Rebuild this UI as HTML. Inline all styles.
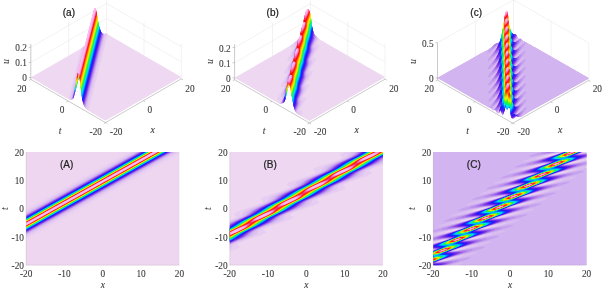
<!DOCTYPE html><html><head><meta charset="utf-8"><title>Figure</title><style>html,body{margin:0;padding:0;background:#fff}svg{display:block}.s{font-family:"Liberation Serif",serif}.a{font-family:"Liberation Sans",sans-serif}</style></head><body>
<svg width="602" height="288" viewBox="0 0 602 288">
<rect width="602" height="288" fill="#fff"/>
<defs>
<clipPath id="c2d0"><rect x="26.1" y="152" width="153.3" height="113.2"/></clipPath>
<clipPath id="c2d1"><rect x="229.7" y="152" width="153.3" height="113.2"/></clipPath>
<clipPath id="c2d2"><rect x="433.3" y="152" width="153.3" height="113.2"/></clipPath>
<linearGradient id="gA" gradientUnits="userSpaceOnUse" x1="109.97" y1="194.36" x2="95.53" y2="168.45"><stop offset="0.0000" stop-color="#eed6f1"/><stop offset="0.0125" stop-color="#edd6f1"/><stop offset="0.0250" stop-color="#edd6f1"/><stop offset="0.0375" stop-color="#edd5f1"/><stop offset="0.0500" stop-color="#ecd4f1"/><stop offset="0.0625" stop-color="#ecd4f1"/><stop offset="0.0750" stop-color="#ebd3f1"/><stop offset="0.0875" stop-color="#ead2f1"/><stop offset="0.1000" stop-color="#e9d0f1"/><stop offset="0.1125" stop-color="#e8cff1"/><stop offset="0.1250" stop-color="#e6cdf1"/><stop offset="0.1375" stop-color="#e4cbf1"/><stop offset="0.1500" stop-color="#e2c8f1"/><stop offset="0.1625" stop-color="#e0c5f0"/><stop offset="0.1750" stop-color="#dcc1f0"/><stop offset="0.1875" stop-color="#d9bcf0"/><stop offset="0.2000" stop-color="#d4b6f0"/><stop offset="0.2125" stop-color="#cdacef"/><stop offset="0.2250" stop-color="#c39dee"/><stop offset="0.2375" stop-color="#b78aec"/><stop offset="0.2500" stop-color="#a975ea"/><stop offset="0.2625" stop-color="#965be7"/><stop offset="0.2750" stop-color="#803ce5"/><stop offset="0.2875" stop-color="#682ae8"/><stop offset="0.3000" stop-color="#4d1aef"/><stop offset="0.3125" stop-color="#2f16f9"/><stop offset="0.3250" stop-color="#1428ff"/><stop offset="0.3375" stop-color="#0059ff"/><stop offset="0.3500" stop-color="#00a5ff"/><stop offset="0.3625" stop-color="#00e1e8"/><stop offset="0.3750" stop-color="#00f096"/><stop offset="0.3875" stop-color="#38f02d"/><stop offset="0.4000" stop-color="#b3f800"/><stop offset="0.4125" stop-color="#ffe100"/><stop offset="0.4250" stop-color="#ff9100"/><stop offset="0.4375" stop-color="#ff3504"/><stop offset="0.4500" stop-color="#ff214d"/><stop offset="0.4625" stop-color="#ff7dc2"/><stop offset="0.4750" stop-color="#ffa8e3"/><stop offset="0.4875" stop-color="#ffb8ee"/><stop offset="0.5000" stop-color="#ffbef2"/><stop offset="0.5125" stop-color="#ffb8ee"/><stop offset="0.5250" stop-color="#ffa8e3"/><stop offset="0.5375" stop-color="#ff7dc2"/><stop offset="0.5500" stop-color="#ff214d"/><stop offset="0.5625" stop-color="#ff3504"/><stop offset="0.5750" stop-color="#ff9100"/><stop offset="0.5875" stop-color="#ffe100"/><stop offset="0.6000" stop-color="#b3f800"/><stop offset="0.6125" stop-color="#38f02d"/><stop offset="0.6250" stop-color="#00f096"/><stop offset="0.6375" stop-color="#00e1e8"/><stop offset="0.6500" stop-color="#00a5ff"/><stop offset="0.6625" stop-color="#0059ff"/><stop offset="0.6750" stop-color="#1428ff"/><stop offset="0.6875" stop-color="#2f16f9"/><stop offset="0.7000" stop-color="#4d1aef"/><stop offset="0.7125" stop-color="#682ae8"/><stop offset="0.7250" stop-color="#803ce5"/><stop offset="0.7375" stop-color="#965be7"/><stop offset="0.7500" stop-color="#a975ea"/><stop offset="0.7625" stop-color="#b78aec"/><stop offset="0.7750" stop-color="#c39dee"/><stop offset="0.7875" stop-color="#cdacef"/><stop offset="0.8000" stop-color="#d4b6f0"/><stop offset="0.8125" stop-color="#d9bcf0"/><stop offset="0.8250" stop-color="#dcc1f0"/><stop offset="0.8375" stop-color="#e0c5f0"/><stop offset="0.8500" stop-color="#e2c8f1"/><stop offset="0.8625" stop-color="#e4cbf1"/><stop offset="0.8750" stop-color="#e6cdf1"/><stop offset="0.8875" stop-color="#e8cff1"/><stop offset="0.9000" stop-color="#e9d0f1"/><stop offset="0.9125" stop-color="#ead2f1"/><stop offset="0.9250" stop-color="#ebd3f1"/><stop offset="0.9375" stop-color="#ecd4f1"/><stop offset="0.9500" stop-color="#ecd4f1"/><stop offset="0.9625" stop-color="#edd5f1"/><stop offset="0.9750" stop-color="#edd6f1"/><stop offset="0.9875" stop-color="#edd6f1"/><stop offset="1.0000" stop-color="#eed6f1"/></linearGradient>
</defs>
<rect x="26.1" y="152" width="153.3" height="113.2" fill="url(#gA)"/>
<g clip-path="url(#c2d1)"><rect x="229.7" y="152" width="153.3" height="113.2" fill="#eed7f1"/><path fill="#e6cdf1" d="M340.8 153.8L344.6 152L383 152L383 164.7L374.5 167.5L372.1 168.5L370.3 169.5L369.6 170.3L369.6 170.8L370.1 171.3L371.8 172.3L372.2 172.8L371.8 173.5L370.3 174.5L365 176.7L348.7 182.1L344.2 184.1L343.3 184.8L343.1 185.6L343.6 186.1L345.4 187.1L345.7 187.8L345.1 188.6L343.9 189.3L338.5 191.5L323 196.6L319.8 197.8L317.8 198.8L316.9 199.6L316.7 200.3L317.1 200.8L318.9 201.8L319.3 202.6L318.6 203.3L317.4 204.1L312 206.3L295.9 211.6L291.4 213.6L290.4 214.4L290.2 215.1L290.7 215.6L292.5 216.6L292.8 217.4L292.2 218.1L291 218.9L285.7 221L269.4 226.4L264.9 228.4L264 229.1L263.8 229.9L264.2 230.4L266 231.4L266.4 232.1L265.8 232.9L264.6 233.6L259.2 235.8L243.7 240.9L238.9 242.9L237.5 243.9L237.3 244.7L237.8 245.2L239.8 246.4L239.9 246.9L239.6 247.4L238.6 248.2L236.5 249.2L229.7 251.6L229.7 220.1L234.2 218.4L235.6 217.6L236.5 216.9L236.7 216.4L236.4 215.9L234.1 214.4L234.1 213.9L234.4 213.4L236 212.4L239.5 210.9L256.2 205.3L261.6 203.1L262.7 202.3L263.1 201.6L262.7 201L260.6 199.6L260.7 198.8L261.5 198.1L263.5 197.1L266.2 196L282.6 190.6L288 188.3L289.1 187.6L289.6 186.8L289.2 186.2L287 184.8L287.1 184.1L288 183.3L289.9 182.3L292.7 181.2L309.1 175.8L314.5 173.5L315.6 172.8L316 172L315.7 171.5L313.5 170L313.4 169.5L314.1 168.8L315.8 167.8L318.8 166.5L335.5 161L340.9 158.8L342.3 157.8L342.4 157L341.9 156.5L340.2 155.5L339.9 154.8Z"/><path fill="#dec3f0" d="M348.6 153.8L350.7 152L383 152L383 163.2L371 167.8L366.2 170L364.4 171.5L364 172.3L363.5 173.8L363 174.5L361.7 175.5L359.9 176.5L355.5 178.4L344.6 182.6L340.2 184.6L338.7 185.6L337.9 186.3L337.5 187.1L337.1 188.6L336.5 189.3L333.9 191.1L329.7 192.9L317.6 197.6L313.8 199.3L312.3 200.3L311.5 201.1L311.1 201.8L310.6 203.3L310.1 204.1L307.7 205.7L303.2 207.7L291.1 212.4L287.4 214.1L285.8 215.1L285 215.9L284.6 216.6L284.2 218.1L283.7 218.9L281.5 220.4L277 222.5L264.7 227.1L260.9 228.9L258.8 230.4L258.3 231.1L257.9 232.6L257.4 233.4L256.7 234.1L255.1 235.1L250.5 237.3L238.3 241.9L234.5 243.7L232.9 244.7L232.2 245.4L231.7 246.2L231.2 247.9L229.7 249.3L229.7 221.2L236.5 218.6L240.4 216.6L241.4 215.9L242 215.1L242.6 213.4L243.3 212.4L245.9 210.6L250.2 208.7L262.3 204.1L266.5 202.1L268.3 200.6L269.5 197.8L270.3 197.1L271.9 196.1L276.5 194L288.7 189.3L292.9 187.3L294.8 185.8L295.9 183.1L296.7 182.3L298.3 181.3L303 179.2L315.2 174.5L318.9 172.8L320.4 171.8L321.2 171L322 168.8L322.6 168L324.7 166.5L329.5 164.4L341.6 159.8L345.3 158L347.4 156.5L347.9 155.8Z"/><path fill="#d4b7f0" d="M352.7 153.3L354.1 152L383 152L383 161.8L379.2 163.7L368 168.3L363.9 170.3L361.3 172L358.5 175.3L356.2 176.8L352.5 178.6L342.2 182.8L337.9 184.8L335.2 186.6L332.4 189.8L329.8 191.6L326 193.4L315.8 197.6L311.4 199.6L308.7 201.3L305.9 204.6L303.4 206.3L299.5 208.2L289.3 212.4L285 214.4L282.3 216.1L279.5 219.4L276.9 221.1L273 223L262.9 227.1L259.1 228.9L255.8 230.9L253 234.1L250.5 235.9L246.2 238L234.2 242.9L231.7 244.2L229.7 245.4L229.7 222.1L238.3 218.6L242.9 216.4L244.9 214.9L247.7 211.6L250.7 209.7L254.7 207.9L264.7 203.8L268.9 201.8L271.4 200.1L274.2 196.8L276.9 195.1L281 193.2L291.7 188.8L295.3 187.1L297.8 185.3L300.6 182.1L302.9 180.6L307.2 178.5L318.1 174L321.7 172.3L324.3 170.5L327.1 167.3L329.3 165.8L333.7 163.7L344.6 159.3L348.2 157.5L350.7 155.8Z"/><path fill="#c59fee" d="M353.1 155.3L356.6 152L383 152L383 160.1L380.8 161.8L378 163.3L365.5 168.8L361.5 170.8L358.9 172.5L355.5 175.8L352.5 177.6L348.7 179.4L338.5 183.8L335 185.6L332.4 187.3L329 190.6L326.2 192.3L322.2 194.3L312.1 198.6L308.6 200.3L306 202.1L302.6 205.3L299.8 207.1L296 209L286.2 213.1L282.2 215.1L279.6 216.9L276.1 220.1L273.4 221.9L269.5 223.8L259.2 228.1L255.7 229.9L253.1 231.6L249.7 234.9L247.2 236.5L243.7 238.2L233.9 242.4L229.7 244.4L229.7 222.9L240.2 218.4L244.4 216.4L247.1 214.6L250.5 211.4L253 209.7L256.5 208L266.7 203.6L270.8 201.6L273.5 199.8L276.6 196.8L279.1 195.1L283 193.1L293.1 188.8L297.2 186.8L299.9 185.1L303.2 181.9L305.6 180.3L309.2 178.4L319.5 174L323.7 172L326.4 170.3L329.5 167.3L331.6 165.8L335.7 163.6L345.9 159.3L350.1 157.3Z"/><path fill="#b283eb" d="M354.9 155L358.4 152L383 152L383 158.4L379.7 161.3L376.7 163.1L372.7 165.1L362.7 169.5L358.9 171.5L356.8 173L353.3 176L350.5 177.8L346.7 179.7L336.8 184.1L332.9 186.1L330.3 187.8L326.7 190.9L324.1 192.6L320.2 194.5L310.4 198.8L306.5 200.8L303.9 202.6L300.2 205.7L297.7 207.3L280.5 215.4L277.8 217.1L273.6 220.6L271.2 222.1L254.1 230.1L251.7 231.6L247.5 235.1L244.8 236.9L241 238.8L229.7 243.8L229.7 223.7L243 217.6L246.5 215.9L248.8 214.4L252.7 211.1L255.3 209.4L259 207.5L268.9 203.1L272.9 201.1L275.3 199.6L279.1 196.3L281.7 194.6L285.5 192.7L295.3 188.3L299.3 186.3L301.7 184.8L305.5 181.6L308.2 179.8L311.7 178L321.8 173.5L325.8 171.5L328.5 169.8L332 166.8L334.2 165.3L338.2 163.2L347.7 159L351.8 157Z"/><path fill="#9c63e8" d="M356.5 154.8L359.9 152L383 152L383 157.5L377.9 161.5L375.1 163.3L358.3 171.3L355.5 173L351.4 176.3L348.5 178.2L331.9 186.1L329.4 187.6L324.7 191.3L322 193L305.9 200.6L303 202.3L298.5 205.8L295.8 207.6L292.2 209.4L279.5 215.4L276.6 217.1L272.1 220.6L269.4 222.4L265.7 224.3L253.5 229.9L250.1 231.9L245.7 235.4L242.9 237.2L238.7 239.3L229.7 243.4L229.7 224.5L234 222.2L244 217.6L248 215.6L250.4 214.1L254.8 210.6L257.6 208.9L274.4 200.8L277.2 199.1L281.3 195.8L284 194.1L300.8 186.1L303.3 184.6L307.7 181.1L310.2 179.4L313.7 177.6L323.3 173.3L327.3 171.3L330.1 169.5L334 166.4L336.2 164.9L340 162.9L353.3 156.8Z"/><path fill="#8341e5" d="M357.9 154.5L361.2 152L383 152L383 157L380.2 158.8L375.7 162.1L373.2 163.6L356.9 171.5L354.1 173.3L349.5 176.7L346.7 178.5L330.5 186.3L328 187.8L323.2 191.4L320.2 193.3L304.1 201.1L301.2 202.8L296.7 206.2L294 208L278.1 215.6L275.1 217.4L270.2 221.1L267.5 222.8L251.6 230.4L248.7 232.1L244 235.7L241.3 237.4L237.2 239.5L229.7 243L229.7 225.4L230.4 224.9L235 222.2L249.4 215.4L252.2 213.6L256.5 210.4L259.3 208.6L275.8 200.6L278.6 198.8L282.9 195.6L285.7 193.8L302.2 185.8L305.1 184.1L309.4 180.8L312.1 179L328.2 171.3L331.5 169.3L335.7 166.1L338.1 164.5L341.7 162.6L354.6 156.5Z"/><path fill="#6a2be8" d="M358.9 154.5L362.3 152L383 152L383 156.5L379.6 158.5L374.5 162.2L371.7 163.9L355.6 171.8L352.7 173.5L348 177L345.2 178.7L329.2 186.6L326.3 188.3L321.7 191.7L318.6 193.6L302.8 201.3L299.9 203.1L295.2 206.5L292.5 208.2L276.3 216.1L273.4 217.9L268.7 221.3L266 223L250.3 230.6L247 232.6L242.5 236L239.8 237.7L236.2 239.5L229.7 242.6L229.7 226.2L231.7 224.8L236.5 222L250.7 215.1L253.5 213.4L258.2 209.9L261 208.2L277.1 200.3L280 198.6L284.7 195.1L287.5 193.4L303.5 185.6L306.4 183.8L311 180.5L313.6 178.8L329.5 171L332.5 169.3L337.5 165.6L340 164.1L343.7 162.1L355.5 156.5Z"/><path fill="#4e1aef" d="M359.8 154.5L363.4 152L383 152L383 156.1L378.7 158.5L373 162.5L370.1 164.3L354.4 172L351.5 173.8L346.5 177.3L343.7 179L328 186.8L325 188.6L320.2 192L317.5 193.7L301.5 201.6L298.6 203.3L293.7 206.8L291 208.5L275.1 216.4L272.2 218.1L267.5 221.5L264.7 223.2L249.1 230.9L245.7 232.9L238.7 237.7L229.7 242.2L229.7 227L233.2 224.4L238.2 221.5L251.9 214.9L254.8 213.1L259.5 209.8L262.5 207.9L278.3 200.1L281.2 198.3L286 195L289 193.1L304.8 185.3L307.7 183.6L312.5 180.1L315.2 178.4L330.7 170.8L334.1 168.8L338.7 165.5L341.5 163.8L356.7 156.3Z"/><path fill="#3116f8" d="M361 154.3L364.4 152L383 152L383 155.7L377.4 158.8L371.2 163L368.5 164.6L353.1 172.3L342 179.4L326.7 187.1L323.7 188.8L318.7 192.3L315.8 194.1L300.2 201.8L297.3 203.6L289.4 208.9L273.8 216.6L270.9 218.4L263.2 223.5L247.4 231.4L244.4 233.1L237.4 237.9L229.7 241.8L229.7 227.6L234.5 224.3L239.7 221.2L253.2 214.6L264 207.6L279.6 199.8L290.5 192.8L306 185.1L316.9 178L332 170.5L335.4 168.5L343.2 163.3L358 156Z"/><path fill="#171fff" d="M359.1 155.8L365.3 152L383 152L383 155.4L376.6 158.8L367.2 164.9L351.5 172.8L340.7 179.7L325.5 187.3L314.5 194.3L299.1 202.1L288.1 209.1L272.2 217.1L262 223.7L246.2 231.6L242.8 233.6L236.2 238.1L229.7 241.5L229.7 228.1L236 223.9L241 221L254.3 214.4L265.5 207.3L280.8 199.6L292 192.5L307.2 184.8L318.2 177.8L333.2 170.3L336.6 168.3L344.6 163Z"/><path fill="#0943ff" d="M359.7 155.8L366 152L383 152L383 155.1L375.5 159L368.5 163.6L365.5 165.4L350 173.3L339.3 180L324 187.8L312.9 194.8L297.5 202.6L286.5 209.6L271.1 217.4L260 224.4L244.7 232.1L235.3 238.2L229.7 241.2L229.7 228.5L240.2 221.8L255.4 214.1L266.7 207L281.9 199.3L293.2 192.2L308.2 184.6L319.4 177.5L334.2 170.1L337.7 168L345.8 162.8Z"/><path fill="#006dff" d="M360.7 155.5L366.7 152L383 152L383 154.8L374.9 159L364.2 165.8L349 173.5L337.7 180.6L323 188L311.7 195.1L296.5 202.8L285.3 209.9L270.1 217.6L258.9 224.6L243.7 232.3L234.5 238.3L229.7 240.9L229.7 228.8L241.5 221.5L256.5 213.9L267.7 206.8L282.9 199.1L294.2 192L309.7 184.1L320.7 177.2L335.2 169.8L338.7 167.8L346.9 162.5Z"/><path fill="#009eff" d="M361.7 155.3L367.4 152L383 152L383 154.6L374 159.2L363.2 166L348 173.8L337 180.7L322 188.3L310.2 195.6L296 202.8L284.2 210.2L268.7 218.1L257.9 224.9L242.7 232.6L233.6 238.4L229.7 240.6L229.7 229.1L233.6 226.9L242.7 221.1L257 213.9L268.7 206.6L283.9 198.8L295.2 191.8L310.2 184.1L321.7 176.9L336.2 169.6L339.7 167.5L348 162.3Z"/><path fill="#00c6f6" d="M362.2 155.3L367.9 152L383 152L383 154.4L373.5 159.2L362.2 166.3L347.5 173.7L336 180.9L321.5 188.3L309.2 195.9L294.2 203.5L283.2 210.4L268.2 218.1L256.9 225.1L242.2 232.6L229.7 240.3L229.7 229.3L234.2 226.9L243.7 220.9L257.5 213.9L261 211.9L269.7 206.3L285.2 198.4L296.2 191.5L311.2 183.8L322.7 176.7L336.7 169.6L340.2 167.6L349 162Z"/><path fill="#00e6e5" d="M363.2 155L368.5 152L383 152L383 154.1L373 159.2L361 166.6L347 173.8L334.7 181.3L319.7 189L308.7 195.9L293.7 203.5L282.7 210.4L267.7 218.1L255 225.9L241.7 232.6L229.7 240L229.7 229.6L235.5 226.4L244.7 220.6L260.2 212.6L270.7 206L285.7 198.4L297.5 191.1L313 183.1L324 176.3L339.5 168.3L350 161.7Z"/><path fill="#00f0bd" d="M364 154.8L369 152L383 152L383 153.9L372.5 159.2L359.7 167.1L345.2 174.5L333.7 181.6L319.2 189L308.2 195.9L293.2 203.5L280.5 211.4L266 218.8L254.5 225.9L240 233.3L229.7 239.8L229.7 229.8L236 226.4L245.2 220.6L261.5 212.2L271.2 206L287.5 197.6L298.5 190.8L313.5 183.1L324.5 176.2L339.5 168.6L350.5 161.7Z"/><path fill="#00f08a" d="M364 155.1L369.5 152L383 152L383 153.7L370.7 160L359.2 167.1L345.2 174.2L333.7 181.4L319.2 188.8L306 196.9L291.5 204.3L280.5 211.1L265.5 218.8L254.5 225.7L239.5 233.4L229.7 239.5L229.7 230L236 226.7L247 219.8L262 212.2L273 205.3L288 197.6L299 190.8L314 183.1L325 176.2L341.2 167.8L352.2 161Z"/><path fill="#1bf057" d="M365.7 154.3L369.9 152L383 152L383 153.5L370.7 159.7L359.7 166.6L343.5 175L333.7 181.1L317.5 189.5L306.5 196.4L291.5 204L280.5 210.9L265.5 218.6L254.5 225.4L238.2 233.8L229.7 239.2L229.7 230.2L230 230L237.2 226.2L247.5 219.8L262 212.4L273.5 205.3L289.2 197.2L300.7 190L315.2 182.6L326.7 175.5L341.2 168.1L352.7 160.9Z"/><path fill="#3ef024" d="M365.2 154.8L370.4 152L383 152L383 153.3L369.5 160.2L358 167.3L343.5 174.7L332 181.9L317.5 189.3L306 196.4L290.2 204.5L278.7 211.7L264.2 219L252.7 226.2L238.2 233.6L234.7 235.6L229.7 238.9L229.7 230.3L237.7 226.2L245.2 221.4L248.7 219.3L263.2 211.9L274.7 204.8L289.2 197.4L300.7 190.2L315.2 182.9L326.7 175.7L343 167.3L354 160.5Z"/><path fill="#77f410" d="M354 160.7L370.8 152L383 152L383 153.1L369.5 160L358 167.1L342.2 175.2L330.7 182.4L316.2 189.7L304.7 196.9L290.2 204.3L278.7 211.4L264.2 218.8L260.7 220.8L252.7 226L237 234.1L229.7 238.6L229.7 230.5L237.7 226.4L248.7 219.5L263.2 212.2L274.7 205L291 196.6L302 189.8L317 182.1L328 175.2L343 167.6Z"/><path fill="#b2f800" d="M355.2 160.2L371.2 152L383 152L383 152.9L368.2 160.4L356.7 167.6L342.2 175L330.7 182.1L316.2 189.5L303.5 197.4L288.5 205L277.5 211.9L262.5 219.6L251.5 226.5L237 233.8L233.5 235.8L229.7 238.3L229.7 230.7L230 230.5L239 225.9L247 220.8L250.5 218.8L265 211.4L276 204.5L291 196.9L302 190L318.2 181.6L326.2 176.5L329.7 174.5L344.2 167.1Z"/><path fill="#dcf400" d="M356.5 159.7L371.6 152L383 152L383 152.7L368.2 160.2L355.5 168.1L340.5 175.7L329.5 182.6L314.5 190.3L303.5 197.2L288.5 204.8L277.5 211.7L261.2 220L250.2 226.9L235.7 234.3L229.7 238L229.7 230.8L239 226.2L247.7 220.6L251.7 218.3L266.2 210.9L277.2 204L292.2 196.4L303.2 189.5L318.2 181.9L329.2 175L344.2 167.3Z"/><path fill="#ffea00" d="M356.5 159.9L372 152L383 152L383 152.5L382 153.1L366.5 161L356 167.6L340.5 175.5L328.2 183.1L313.2 190.7L302.2 197.7L287.2 205.3L276.7 211.9L261.2 219.8L258.2 221.6L250.7 226.4L246.5 228.8L235.7 234.1L229.7 237.7L229.7 231L240.2 225.7L251.2 218.8L266.2 211.2L277.2 204.2L292.2 196.6L304.5 189L319.5 181.4L330.5 174.5L345.5 166.9Z"/><path fill="#ffc900" d="M357.7 159.4L372.4 152L383 152L383 152.3L379.7 154.1L364.7 161.7L357.7 166.3L354.2 168.4L338.7 176.2L328.7 182.6L312.7 190.8L304.5 196.1L301 198.2L285.5 206L275 212.7L259.5 220.6L249 227.2L234.5 234.6L229.7 237.4L229.7 231.2L230 231L240.7 225.7L249 220.3L252.5 218.3L268 210.4L275 205.8L278.5 203.7L294 195.9L304 189.5L320 181.3L328.2 176L331.7 174L346 166.8Z"/><path fill="#ffa800" d="M358.5 159.2L372.9 152L383 152L378 154.9L364.7 161.5L353.5 168.6L338.7 176L327.5 183.1L311.5 191.2L301.5 197.7L285.5 205.8L274.2 212.9L260 220L256.5 222.1L251.2 225.6L248.2 227.5L235 234.1L229.7 237.1L229.7 231.3L242 225.2L250.2 219.8L253.7 217.8L268 210.7L276.2 205.3L279.2 203.5L294 196.1L305.2 189L321.2 180.9L331.2 174.5L347.2 166.3Z"/><path fill="#ff7d00" d="M358.5 159.4L373.3 152L382.6 152L377.2 155.1L367.7 159.7L363 162.2L355.7 167.1L352.2 169.1L337 176.7L329.2 181.9L326.2 183.6L311 191.3L300.2 198.2L285 205.8L282 207.6L276 211.7L273 213.4L257.7 221.1L250 226.2L247 228L234.2 234.3L229.7 236.8L229.7 231.5L242.5 225.2L253.2 218.3L268.5 210.6L271.7 208.7L277 205.1L280.5 203L295.7 195.4L303.5 190.2L306.5 188.5L321.7 180.9L332.5 173.9L347.7 166.3L350.7 164.5L355.5 161.2Z"/><path fill="#ff5100" d="M359.2 159.2L373.7 152L382.2 152L377.2 154.9L362.5 162.2L355.2 167.1L352.2 168.9L336.5 176.7L333.7 178.4L328.5 182.1L325 184.1L310.5 191.3L307.7 192.9L302.5 196.6L299.5 198.4L283.2 206.5L273.5 212.9L257.2 221.1L254.5 222.7L249.2 226.4L245.7 228.4L234.2 234.1L229.7 236.5L229.7 231.7L230 231.5L243 225.1L245.5 223.6L251 219.8L254 218L269.9 210.1L280 203.5L296.2 195.4L306 189L310.2 186.7L322.2 180.8L325 179.2L329.5 176L333.2 173.7L347.7 166.6L351.2 164.5L356 161.2Z"/><path fill="#ff2907" d="M360.5 158.7L374.2 152L381.7 152L376.5 155.1L361.5 162.5L359.2 163.9L354.5 167.3L351.5 169.1L335.5 177L332.7 178.7L328.5 181.8L325.5 183.6L308.6 192.1L306.2 193.5L302 196.6L298.2 198.9L282.2 206.8L280 208.2L275.2 211.6L272.2 213.4L256.2 221.3L253.7 222.8L249.5 225.9L246.2 228L229.7 236.2L229.7 231.8L244.4 224.6L247 223.1L252.2 219.3L255.2 217.6L270.8 209.9L273.5 208.2L278.2 204.8L281.2 203L297.2 195.1L300 193.4L304.2 190.3L307.2 188.5L323.2 180.6L326 178.9L330.3 175.8L333.2 173.9L337.5 171.7L349.7 165.8L352.2 164.3L356.7 161Z"/><path fill="#ff030f" d="M365.2 156.4L374.7 152L381.2 152L378.5 153.8L375.2 155.6L360.4 162.8L358.2 164.1L354.1 167.3L350.2 169.6L333.9 177.5L331.7 178.9L327.2 182.3L324.2 184.1L307.5 192.3L305.2 193.8L301.2 196.8L298.2 198.7L281.1 207.1L279 208.4L274.7 211.7L271 213.9L254.6 221.9L252.5 223.2L248 226.6L245 228.5L229.7 235.8L229.7 232L245.7 224.2L248 222.8L252.2 219.6L254.7 218L259 215.8L271.9 209.6L274.5 208L278.6 204.8L282 202.8L298.3 194.8L301 193.2L304.7 190.3L308 188.3L324.7 180.1L327 178.7L330.8 175.8L334 173.7L338.2 171.5L351 165.4L353.5 163.9L357.6 160.8L360.5 158.9Z"/><path fill="#ff326c" d="M367.2 155.6L375.2 152L380.7 152L378.5 153.5L374.7 155.6L359 163.1L357.2 164.2L353.2 167.5L349 170.1L332.5 177.9L330.7 179.1L326.8 182.3L323 184.6L306 192.7L304.2 193.9L300.7 196.8L297 199.2L279.7 207.4L277.7 208.7L274.3 211.6L271 213.7L265 216.7L253.2 222.2L251.2 223.6L247.5 226.7L243.7 228.9L229.7 235.5L229.7 232.3L230 232.1L247.1 223.9L249 222.7L252.7 219.6L256 217.6L261 215L273.6 209.1L275.5 207.9L279.1 204.8L282 203L288 200L299.7 194.5L301.7 193.2L305.2 190.3L308 188.5L312.7 186L326.2 179.7L328.2 178.4L332 175.3L335.2 173.2L340.2 170.7L352.4 165L354.5 163.8L358.1 160.8L361.2 158.7Z"/><path fill="#ff68b2" d="M366.5 156.2L375.9 152L380.1 152L377.2 154L372 156.8L360.2 162L357.7 163L357 163L357.2 162.3L358.1 161.3L361.2 159ZM354.5 164.8L354.9 164.8L354.9 165.3L353.6 166.8L352 168L349 169.9L339 174.6L332.5 177.3L331.2 177.8L330.6 177.8L331 176.8L332.2 175.5L334 174.3L337 172.5L345.5 168.5ZM328.1 179.5L328.5 179.5L328.5 180L327.5 181.3L325.6 182.8L323 184.4L317.5 187.2L312 189.6L305.5 192.3L304.1 192.6L304.4 191.8L305.5 190.6L307.1 189.3L309.7 187.7L318 183.7ZM299 195.3L302 194.3L302 194.8L300.8 196.3L298.7 197.9L295.7 199.6L285 204.6L279 207.1L277.7 207.3L278.1 206.3L279.3 205.1L283.7 202.3L291 198.8ZM266.2 212.8L275.6 209.1L275.6 209.6L274.3 211.1L272.7 212.4L269.7 214.2L265.2 216.4L258 219.7L252.7 221.8L251.7 222.2L251.2 222.1L251.7 221.1L252.9 219.9L254.7 218.6L257.7 216.8ZM248.9 223.9L249.2 224L249.1 224.4L248.1 225.6L246.6 226.9L244.2 228.4L238.2 231.5L229.7 235.2L229.7 232.5L230 232.3L239.2 227.8L246.7 224.6Z"/><path fill="#ff9ada" d="M368.5 155.4L376.7 152L379.2 152L378.2 153L376.7 154L371 157.1L363 160.5L360.2 161.5L359.2 161.5L359.2 161L359.9 160.3L363 158.2ZM352.1 166.3L352.7 166.3L352.8 166.5L352.1 167.5L350 169L346.7 170.8L337.2 175.1L333.7 176.3L333 176.3L332.7 176.2L333 175.5L334.1 174.5L338.5 171.9L346 168.5L349.7 167ZM325.7 181.1L326.2 181L326.4 181.3L325.6 182.3L323.5 183.8L320.7 185.4L316 187.6L310.7 189.9L307.7 190.9L306.3 191.1L306.3 190.8L306.6 190.3L307.7 189.3L312 186.8L320.7 182.8ZM297.5 196.3L299.8 195.8L300 196.1L299.2 197.1L297.5 198.3L294.7 199.9L290.7 201.9L285 204.4L281.5 205.7L279.9 205.8L279.8 205.6L280.1 205.1L281.2 204.1L285.5 201.6L293.7 197.8ZM271 211.1L273.3 210.6L273.5 210.9L272.5 212.1L270.2 213.6L267.5 215.1L258 219.4L254.7 220.5L253.4 220.6L253.5 220.1L254.5 219.1L258.7 216.5L266.7 212.8ZM246.4 225.4L247 225.4L247.1 225.6L246.6 226.4L243.4 228.6L236.7 232L229.7 234.9L229.7 232.8L231.2 231.9L239.7 227.8L244 226.1Z"/><path fill="#ffafe7" d="M376.7 152.5L377.4 152.5L377.5 152.8L376.9 153.5L372.7 156L364.7 159.6L362 160.5L361 160.5L361 160L361.9 159.3L365.7 157L371.7 154.2ZM350.3 167.3L351 167.3L351.1 167.5L350.5 168.3L348.6 169.5L345.7 171.1L337.7 174.6L335.3 175.3L334.5 175.2L334.6 174.8L335.8 173.8L339.8 171.5L346 168.7ZM323.9 182.1L324.5 182.1L324.7 182.3L324 183.1L322.2 184.3L319.7 185.6L312 189.1L309 190.1L308.1 190.1L308.2 189.6L309 188.8L313 186.5L319 183.7ZM295.7 197.3L298 196.8L298.2 197.1L297.6 197.8L295.7 199.1L293 200.6L285.5 203.9L282.7 204.8L281.6 204.8L281.7 204.3L282.6 203.6L286.5 201.3L292.5 198.6ZM271.1 211.6L271.6 211.6L271.8 211.9L271.1 212.6L269.3 213.9L266.5 215.4L258.5 218.9L256.2 219.6L255.2 219.6L255.3 219.1L256.5 218.1L260.5 215.9L266.7 213.1ZM244.7 226.4L245.2 226.4L245.3 226.6L245 227.1L243.7 228.1L241.5 229.4L235.7 232.2L229.7 234.4L229.7 233.1L232.7 231.3L239.7 228.1L242.8 226.9Z"/><path fill="#ffbbf0" d="M374.7 153.5L375.8 153.5L375.5 154L374.8 154.5L371.7 156.3L366 158.8L363.7 159.5L362.7 159.5L363 159L363.6 158.5L366.7 156.7L371.2 154.7ZM348.3 168.3L349.3 168.3L349 168.8L348.4 169.3L345.2 171.1L338.9 173.8L337.2 174.3L336.2 174.3L337.2 173.3L340.3 171.5L344.7 169.5ZM321.9 183.1L322.8 183.1L322.6 183.6L322 184.1L318.9 185.8L312.5 188.6L310.7 189.1L309.8 189.1L310.7 188.1L314 186.2L319 184ZM295.5 197.8L296.4 197.8L296.1 198.3L295.5 198.8L292.5 200.6L286.1 203.3L284.2 203.9L283.3 203.8L284.3 202.8L287.5 201L292 199ZM269.1 212.6L270 212.6L269.7 213.1L268.7 213.9L265.5 215.7L259.7 218.1L257.7 218.7L256.9 218.6L257.9 217.6L261 215.9L265.5 213.8ZM242.7 227.4L243.5 227.4L243.5 227.6L241.9 228.9L239 230.5L233.2 232.9L231.2 233.5L230.4 233.4L231.4 232.4L234.5 230.6L238.5 228.8Z"/></g>
<g clip-path="url(#c2d2)"><rect x="433.3" y="152" width="153.3" height="113.2" fill="#ebd3f1"/><path fill="#e2c8f1" d="M433.3 152L584.4 152L583.4 152.5L583.6 152.8L586.6 152.4L586.6 265.2L433.3 265.2L433.3 243.2L440.7 241.4L443 240.7L444.5 239.9L443.6 239.8L440.8 240.2L433.3 242.1ZM456.3 229.1L449.5 230.6L446.2 231.6L444.6 232.4L445.1 232.6L446.1 232.5L451 231.6L456.4 230.1L458.6 229.1L458.1 228.9ZM472.7 218.1L468.7 218.6L464.4 219.6L460.3 220.9L458.8 221.6L459.3 221.8L461.1 221.6L464.9 220.9L469.6 219.6L472.7 218.4ZM485.6 207.3L481.5 208.1L477.5 209.1L474.3 210.1L472.9 210.9L475 210.9L480 209.9L485.2 208.3L486.4 207.8L487 207.3ZM499.6 196.6L495.4 197.3L491.5 198.3L488.4 199.3L487.3 199.8L487.1 200.1L488.3 200.1L490.4 199.8L495 198.8L499.2 197.6L500.5 197.1L501.2 196.6ZM513.3 185.8L505.5 187.6L502.5 188.6L501.4 189.1L501.4 189.3L504.3 189.1L508.9 188.1L513.2 186.8L515.4 185.8L514.8 185.7ZM527.1 175L520.4 176.5L517.2 177.5L515.5 178.3L515.8 178.5L516.8 178.5L521.9 177.5L527.3 176L529.5 175L529.1 174.8ZM543.6 164L539.6 164.5L535.3 165.5L531.2 166.8L529.7 167.5L530.3 167.7L532.1 167.5L537.9 166.3L541.3 165.3L543.7 164.3ZM556.6 153.2L552.4 154L548.4 155L545.3 156L543.8 156.8L544.6 156.9L546 156.8L550.9 155.8L556.1 154.3L557.3 153.8L557.9 153.3ZM567.3 170.8L563.3 171.5L559.3 172.5L556.3 173.5L555 174.3L556.8 174.3L562.8 173L567.1 171.8L568.4 171.3L569.1 170.8ZM581.1 160L573.4 161.8L570.3 162.8L569.3 163.3L569.2 163.5L572.2 163.3L576.8 162.3L581.1 161L583.3 160L582.6 159.9ZM453.1 257.4L446.4 258.9L443.2 259.9L441.6 260.7L441.8 260.9L443.1 260.9L447.9 259.9L453.3 258.4L455.6 257.4L455.1 257.2ZM469.6 246.4L465.6 246.9L461.3 247.9L457.2 249.2L455.8 249.9L456.3 250.1L457.6 250L461.8 249.2L467.3 247.7L469.7 246.7ZM482.6 235.6L478.4 236.4L474.4 237.4L471.3 238.4L469.9 239.2L470.6 239.3L472 239.2L476.9 238.2L482.1 236.6L483.4 236.1L484 235.6ZM496.3 224.9L492.3 225.6L488.4 226.6L485.4 227.6L484.1 228.4L485.8 228.4L491.9 227.1L496.1 225.9L497.5 225.4L498.2 224.9ZM510.3 214.1L506.3 214.9L502.4 215.9L499.4 216.9L498.4 217.4L498.3 217.6L501.3 217.4L505.8 216.4L510.2 215.1L512.4 214.1L511.8 214ZM524.1 203.3L517.3 204.8L514.1 205.8L512.5 206.6L512.7 206.8L513.8 206.8L518.8 205.8L524.2 204.3L526.5 203.3L526.1 203.1ZM540.5 192.3L536.5 192.8L532.2 193.8L528.2 195.1L526.7 195.8L527.3 196L529.1 195.8L534.8 194.6L539 193.3L540.6 192.6ZM553.6 181.5L549.3 182.3L545.3 183.3L542.2 184.3L540.8 185.1L541.3 185.2L542.9 185.1L547.8 184.1L553 182.6L554.3 182.1L554.8 181.8L554.9 181.6Z"/><path fill="#dabef0" d="M433.3 152L583.6 152L581.9 152.8L581.5 153L581.5 153.3L583.3 153.3L586.6 152.8L586.6 158.4L580.1 159.8L573.3 161.5L568.9 163L567.8 163.5L567.3 164L568.1 164.2L569.6 164L574.1 163.3L580.7 161.8L586.6 160.1L586.6 265.2L433.3 265.2L433.3 243.6L442.4 241.2L445.1 240.2L446.4 239.4L446.1 239.2L445.6 239.1L443.1 239.4L433.3 241.4ZM557.3 152.8L550.6 154L542.6 156L537.2 157.8L536.1 158.3L535.8 158.5L535.8 158.8L537.7 158.8L541 158.3L549.1 156.5L556.9 154.3L559.3 153.3L559.8 152.8L559.1 152.6ZM575.8 168.8L569.5 169.8L562 171.5L555.5 173.5L553.7 174.3L553.1 174.8L553.8 175L555.9 174.8L564.7 173L573 170.8L575.9 169.8L577.2 169L576.9 168.8ZM543.6 163.5L537.8 164.5L529.5 166.5L523.8 168.3L522 169L521.5 169.5L522.8 169.6L525.7 169.3L535.1 167.3L542.8 165L545.2 164L545.6 163.8L545.6 163.5ZM559.8 179.8L554.4 180.8L547.1 182.6L541.4 184.3L539.6 185.1L538.9 185.6L539.6 185.8L542.1 185.6L550.7 183.8L559 181.6L561.8 180.6L563 179.8L562.3 179.6ZM529.8 174.3L523.9 175.3L515.5 177.3L509.7 179L507.9 179.8L507.3 180.3L508.1 180.5L510.1 180.3L519.1 178.5L527.3 176.3L530.1 175.3L531.4 174.5L531.3 174.3ZM546.1 190.6L540.4 191.6L533.1 193.3L527.4 195.1L525.5 195.8L524.8 196.3L525 196.6L525.6 196.6L528.2 196.3L536.8 194.6L545.7 192.1L548.3 191.1L548.9 190.6L548.1 190.4ZM516.6 185.1L511.2 185.8L503.4 187.6L496.4 189.6L493.8 190.6L493.2 191.1L494.3 191.3L497.9 190.8L507.1 188.8L514 186.8L516.6 185.8L517.3 185.3ZM532.3 201.3L526.5 202.3L518.2 204.3L512.6 206.1L511 206.8L510.6 207.1L510.6 207.3L512.1 207.4L514.3 207.1L523.8 205.1L531.7 202.8L534.2 201.8L534.7 201.3ZM500.3 196.1L494.8 197.1L487.5 198.8L481.6 200.6L479.8 201.3L479 201.8L479.3 202.1L479.8 202.1L482.5 201.8L491.1 200.1L499.3 197.8L501.9 196.8L503.1 196.1L502.3 195.9ZM518.6 212.1L512.5 213.1L504.2 215.1L498.6 216.9L496.9 217.6L496.4 218.1L497.6 218.2L500.5 217.9L508.8 216.1L516.9 213.9L519 213.1L520.4 212.4L520.3 212.1ZM488.1 206.7L480.8 207.8L473.5 209.6L467.6 211.4L464.8 212.6L464.9 212.9L465.6 212.9L468.6 212.6L477.1 210.9L485.2 208.6L487.9 207.6L488.9 206.8ZM504.8 222.9L498.6 223.9L491.1 225.6L484.5 227.6L482.8 228.4L482.2 228.9L483.1 229.1L485 228.9L493.8 227.1L502.1 224.9L504.9 223.9L506.3 223.1L506.1 222.9ZM472.6 217.6L466.9 218.6L458.5 220.6L452.2 222.6L451.1 223.1L450.7 223.6L452.1 223.7L454.7 223.4L464.2 221.4L471.9 219.1L474.3 218.1L474.7 217.6ZM489.1 233.9L483.4 234.9L476.2 236.6L470.5 238.4L468.7 239.2L468 239.7L468.8 239.9L471.1 239.7L479.8 237.9L488.1 235.6L490.9 234.6L492.1 233.9L491.3 233.7ZM459.1 228.4L452.9 229.4L445.5 231.1L438.8 233.1L437 233.9L436.4 234.4L437.8 234.5L440.8 234.2L448.1 232.6L456.4 230.4L459.2 229.4L460.5 228.6L460.3 228.4ZM475.1 244.7L469.5 245.7L462.2 247.4L456.4 249.2L454.6 249.9L453.9 250.4L454.1 250.7L454.6 250.7L457.3 250.4L465.8 248.7L474.8 246.2L477.3 245.2L478 244.7L477.1 244.5ZM461.3 255.4L454.3 256.7L447.2 258.4L441.1 260.4L440.1 260.9L439.7 261.2L439.8 261.4L441.6 261.4L444.8 260.9L452.9 259.2L460.8 256.9L463.3 255.9L463.8 255.4L463.1 255.3Z"/><path fill="#d2b4f0" d="M433.3 152L583.1 152L580.8 153L580.3 153.5L580.8 153.7L581.8 153.7L586.6 153L586.6 157.9L572.8 161.5L567.8 163.3L566.1 164.3L566.6 164.5L567.3 164.5L571.4 164L578.1 162.8L586.6 160.9L586.6 166L576.8 167.8L564.1 170.8L555.7 173.3L553.1 174.3L552 175L552.1 175.3L552.6 175.3L554.8 175.2L564.1 173.5L577 170.5L586.6 167.8L586.6 265.2L458.8 265.2L461.5 264.2L462.9 263.4L462.9 263.2L462.1 263.1L456.6 263.7L448.9 265.2L433.3 265.2L433.3 243.9L443.6 240.9L446.7 239.7L447.5 239.2L447.5 238.9L446.1 238.8L443.1 239.2L433.3 241L433.3 236.2L443 234.1L452.8 231.6L459.7 229.4L461.3 228.6L461.7 228.1L460.8 228L459.1 228.1L452.7 229.1L442.8 231.3L433.3 233.7ZM560.6 152.3L555.8 152.7L550.3 153.8L536.1 157L525.7 160L523.2 161L522.4 161.5L522.4 161.8L525.1 161.8L530 161L538.6 159.3L547 157.3L556.6 154.5L559.9 153.3L561 152.5ZM576 176.5L570.8 177L565.3 178L551.1 181.3L540.9 184.3L538.5 185.3L537.8 185.8L537.8 186.1L540.2 186.1L546.4 185.1L554.7 183.3L563 181.3L572.6 178.5L575.2 177.5L576.4 176.8ZM543.6 163.3L533.1 165.2L520.1 168.3L510.9 171L508.6 172L508.2 172.5L510.1 172.7L514.7 172L529 169L535.9 167.3L541.8 165.5L545.3 164.3L546.3 163.8L546.8 163.3L545.8 163.1ZM558.8 187.5L548.9 189.3L536.2 192.3L526.9 195.1L524.4 196.1L523.7 196.6L523.6 196.8L525.6 196.9L529.8 196.3L544 193.3L557 189.8L560.6 188.6L561.7 188.1L562.2 187.6L561.3 187.3ZM529.8 174L519.9 175.8L507.1 178.8L497.6 181.6L495 182.6L494 183.3L494.6 183.5L495.8 183.5L500.8 182.8L515 179.8L521.9 178L527.8 176.3L531.7 174.8L532.5 174.3L532.6 174L531.8 173.9ZM544.8 198.3L535 200.1L522.2 203.1L512.8 205.8L510.4 206.8L509.4 207.6L509.8 207.8L511.1 207.8L515.8 207.1L530 204.1L543 200.6L547.1 199.1L547.9 198.6L548 198.3L547.1 198.2ZM516.1 184.8L506 186.6L493.1 189.6L483.6 192.3L480.9 193.3L479.8 194.1L480.3 194.3L481.3 194.3L485.4 193.8L498.9 191.1L512.2 187.6L516.5 186.1L518.4 185.1L518.4 184.8L518.1 184.7ZM531.1 209.1L521 210.9L508.2 213.9L498.8 216.6L496.3 217.6L495.2 218.4L495.6 218.6L496.3 218.6L500.5 218.1L513.9 215.4L527.4 211.9L531.8 210.4L533.8 209.4L533.8 209.1L533.3 209ZM502.3 195.6L493.3 197.1L480.1 200.1L470.3 202.8L466.9 204.1L465.6 204.8L465.8 205.1L467.1 205.1L471.5 204.6L484.9 201.8L498.2 198.3L502.5 196.8L504.2 195.8L504.1 195.6L503.8 195.5ZM517.3 219.9L508.3 221.4L495.1 224.4L485.5 227.1L482.2 228.4L481 229.1L481.3 229.4L482.3 229.4L486.3 228.9L500 226.1L513.3 222.6L517.8 221.1L519.7 220.1L519.3 219.8ZM489.7 206.3L484.7 206.8L479.3 207.8L465.1 211.1L454.8 214.1L452.2 215.1L451.5 215.6L451.5 215.9L454.1 215.9L460.4 214.9L468.8 213.1L477.1 211.1L486.4 208.3L489 207.3L490.1 206.6ZM503.8 230.6L499.8 231.1L494.4 232.1L480.2 235.4L470 238.4L467.6 239.4L466.9 239.9L467 240.2L469.2 240.2L473.8 239.5L487.8 236.5L500.1 233.1L503.7 231.9L505.5 230.9L505.2 230.6ZM472.6 217.4L462.1 219.3L449.2 222.4L440 225.1L437.7 226.1L437.3 226.6L439.3 226.7L443.7 226.1L458 223.1L464.9 221.4L470.9 219.6L474.3 218.4L475.4 217.9L475.9 217.4L475.1 217.1ZM487.8 241.6L476.8 243.7L464.3 246.7L455.3 249.4L453.1 250.4L452.7 250.9L454.6 251L458.8 250.4L473.8 247.2L486.1 243.9L489.7 242.7L490.7 242.2L491.3 241.7L490.3 241.4ZM474.1 252.4L464 254.2L451.2 257.2L441.9 259.9L439.4 260.9L438.5 261.7L439.1 261.9L440.3 261.8L444.8 261.2L459.1 258.2L472.1 254.7L476.2 253.2L477 252.7L477.1 252.4L476.3 252.3Z"/><path fill="#c6a2ee" d="M531.3 155L540.9 152L559.6 152L554.2 152.8L534.2 156.3L530.3 156.7L528.7 156.5L529.1 156ZM561.7 152L582.7 152L580.3 153L579.3 153.8L579.8 154L581.1 154L586.6 153.3L586.6 157.6L570.8 162L566.8 163.5L565.2 164.5L565.4 164.8L566.1 164.8L569.6 164.5L586.6 161.6L586.6 164.7L558.4 172.3L552.7 174.3L551.3 175L551 175.3L551.1 175.5L553.1 175.6L557.1 175.1L579.1 171.3L583.1 170.9L584.1 171L584.2 171.3L582.4 172.3L577.3 174L546.8 182.3L540.6 184.3L537.2 185.8L536.8 186.3L537.8 186.5L540.1 186.3L565.2 182.1L568.8 181.7L569.9 181.8L570 182.1L568.3 183.1L563.3 184.8L532.8 193.1L526.6 195L523 196.6L522.6 197.1L523.1 197.3L526.1 197.1L549.6 193.1L554.1 192.6L555.5 192.6L555.9 192.8L555.3 193.3L554.3 193.8L549.3 195.6L541.8 197.7L518.8 203.8L512.5 205.8L508.9 207.3L508.4 207.8L508.8 208.1L511.8 207.9L535.8 203.8L540.1 203.4L541.1 203.4L541.7 203.6L541.2 204.1L539.6 204.8L534.4 206.6L504.8 214.6L499.1 216.4L495.3 217.9L494.5 218.4L494.3 218.7L495.8 218.9L499.8 218.4L523.8 214.4L526.3 214.2L527.5 214.4L527.1 214.9L526.1 215.4L520.4 217.4L490.8 225.4L485.1 227.1L481.2 228.6L480.3 229.1L480.1 229.4L480.2 229.6L482.3 229.7L486.3 229.2L508.1 225.4L512.1 225L513.3 225.1L513.3 225.4L512.6 225.9L510.8 226.6L505.6 228.4L476.8 236.1L471.1 237.9L467.7 239.2L466.2 239.9L465.9 240.4L467.6 240.5L471.1 240.1L494.3 236.1L498.1 235.8L499 235.9L499.1 236.1L498.5 236.6L496.8 237.4L490.7 239.4L465.5 246.2L458.6 248.2L453.6 249.9L452.1 250.7L451.7 251.2L453.3 251.4L457.1 250.9L481.1 246.8L484.6 246.7L485 246.9L484.4 247.4L480.7 248.9L475 250.7L452.4 256.7L444.6 258.9L439.6 260.7L438 261.4L437.5 261.9L438.1 262.2L438.8 262.2L443.1 261.7L466.6 257.7L470.3 257.5L470.8 257.7L470.3 258.2L467.3 259.4L462.7 260.9L447 265.2L433.3 265.2L433.3 250.3L434.3 249.7L434.3 249.4L433.3 249.3L433.3 244.1L444.7 240.7L447.7 239.4L448.4 238.9L448.5 238.7L447.6 238.5L445.1 238.7L433.3 240.6L433.3 237L454.8 231.2L460.7 229.1L462.2 228.4L462.7 227.9L462.3 227.7L461.3 227.7L457.1 228.1L433.3 232.2L433.3 230.3L442.3 227.5L466.4 221.1L474.8 218.4L476.3 217.6L476.9 217.1L476.6 216.9L475.8 216.8L472.8 217.1L449.4 221.1L445.1 221.6L443.6 221.4L444.1 220.9L445.1 220.4L450 218.6L457.3 216.5L482.1 209.9L488.2 207.8L489.9 207.1L491 206.3L490.9 206.1L490.1 206L487.1 206.3L463.2 210.4L459.6 210.7L457.8 210.6L457.9 210.4L458.6 209.9L462.5 208.3L468.2 206.6L497.8 198.6L502.9 196.8L504.5 196.1L505.2 195.6L505.1 195.3L504.1 195.2L500.3 195.6L480.3 199.1L475.1 199.8L472.1 199.8L472 199.6L472.7 199.1L476.5 197.6L482.2 195.8L504.8 189.8L512.6 187.6L517.5 185.8L519 185.1L519.4 184.6L517.8 184.4L514.2 184.8L495.7 188.1L489.6 189L486.4 189.1L486.2 188.8L486.8 188.3L490.5 186.8L496.2 185.1L518.8 179L526.6 176.8L531.6 175L533.1 174.3L533.6 173.8L533.1 173.6L532.1 173.6L528 174L504.6 178.1L500.8 178.3L500.3 178L500.9 177.5L504.6 176L510.2 174.3L540.6 166.1L545.7 164.3L547.2 163.5L547.8 163L547.3 162.8L546.3 162.8L542.3 163.2L518.5 167.3L515.6 167.5L514.5 167.3L515 166.8L517.9 165.5L524.3 163.5L547.8 157.3L555.5 155L560.9 153L561.9 152.3Z"/><path fill="#ba8fec" d="M541.1 153.3L544 152L557.8 152L543.6 154L541.3 154.1L540.8 154L540.5 153.8ZM560.7 153.3L562.8 152L582.4 152L579.4 153.3L578.5 154L578.9 154.3L580.6 154.3L586.6 153.5L586.6 157.3L575.3 160.5L569.1 162.5L565.3 164L564.3 164.8L564.5 165L565.8 165.1L568.6 164.9L583.6 162.8L585.8 162.7L586.3 162.8L586.6 163L586 163.5L585 164L581.7 165.3L558.1 172.2L553.6 173.8L550.8 175L550.2 175.5L550.2 175.8L552.1 175.9L568.6 173.7L571.3 173.5L572.4 173.8L571.9 174.3L571 174.8L567.7 176L544.1 183L538.9 184.8L536.3 186.1L536 186.3L536.1 186.6L538.1 186.7L553.8 184.6L557.1 184.3L558.2 184.6L558.1 184.8L557.4 185.3L553.6 186.8L530.1 193.8L524.8 195.6L522.2 196.8L521.8 197.4L522.6 197.6L523.8 197.5L540 195.3L542.8 195.1L544 195.3L543.7 195.8L542.8 196.3L538.9 197.8L516.1 204.5L511.6 206L508.5 207.3L507.6 208.1L508.6 208.4L511.1 208.2L527.1 206L529.3 206L529.8 206.1L529.9 206.3L528.2 207.3L524.1 208.9L501.9 215.4L497.4 216.9L494.4 218.1L493.6 218.6L493.4 218.9L493.6 219.1L494.8 219.2L497.3 219L512.6 216.9L515.1 216.8L515.5 216.9L515.7 217.1L514.1 218.1L510 219.6L487.8 226.1L480.8 228.6L479.5 229.4L479.3 229.6L479.3 229.9L480.6 230L483.1 229.8L498.8 227.7L500.8 227.6L501.5 227.9L501 228.4L500 228.9L495.2 230.6L470.1 238.1L466.2 239.7L465.4 240.2L465.1 240.7L466.3 240.8L468.7 240.7L485.1 238.4L487.1 238.5L487.3 238.7L486.9 239.2L484.8 240.2L480.4 241.7L456.8 248.6L452.2 250.4L451.3 250.9L450.9 251.4L452.1 251.7L454.6 251.5L470.8 249.3L472.3 249.2L473.1 249.4L472.8 249.9L470.7 250.9L466.4 252.4L442.1 259.6L438.1 261.2L437.2 261.7L436.7 262.2L437.6 262.5L440.1 262.3L456.6 260.1L458.8 260.2L458.9 260.4L458.7 260.7L457.3 261.4L454.6 262.4L445.7 265.2L433.3 265.2L433.3 250.5L435.1 249.4L435.1 249.2L434.8 249.1L433.3 249L433.3 244.3L445 240.7L448.6 239.2L449.3 238.7L449.3 238.4L448.3 238.2L445.6 238.4L433.3 240.2L433.3 237.6L456.8 230.7L461.6 228.9L463.1 228.1L463.5 227.6L462.6 227.4L460.1 227.5L443.8 229.7L441.6 229.7L441.3 229.6L441.3 229.4L441.5 229.1L444.3 227.9L448.7 226.4L471.6 219.7L475.1 218.4L477.2 217.4L477.7 216.9L477.6 216.7L475.8 216.6L458.8 218.9L456.3 219L455.6 218.9L455.4 218.6L457.1 217.6L460.4 216.4L484.1 209.4L488.5 207.8L491.3 206.6L491.9 206.1L491.7 205.8L489.8 205.8L472.8 208.1L470.3 208.1L469.6 207.8L470.1 207.3L471.1 206.8L474.5 205.6L498.1 198.6L502.6 197.1L505.4 195.8L506 195.3L506 195.1L504.8 194.9L502.6 195.1L486.6 197.3L484.6 197.3L483.8 197.1L484.2 196.6L485.2 196.1L489.2 194.6L511.3 188.1L518.5 185.6L519.9 184.8L520.2 184.3L519.1 184.1L516.4 184.3L501.1 186.4L499.1 186.5L498 186.3L498.4 185.8L499.3 185.3L504 183.6L524.6 177.6L529.8 175.9L533.1 174.5L534 174L534.4 173.5L533.6 173.3L531.6 173.4L516.1 175.5L513.3 175.7L512.2 175.5L512.2 175.3L512.9 174.8L515.2 173.8L519.6 172.3L542.6 165.5L547.2 163.8L548.1 163.3L548.6 162.8L547.8 162.5L545.3 162.6L528.6 164.9L526.5 164.8L526.3 164.5L527 164L529.2 163L533.7 161.5L556.6 154.8Z"/><path fill="#ab78ea" d="M546.4 152.5L546.8 152L555.9 152L548.3 152.8L546.8 152.7ZM561 153.3L563.4 152L582 152L579 153.3L578.1 153.8L577.6 154.3L578.1 154.5L579.6 154.6L586.6 153.8L586.6 156.9L568.8 162.5L564.9 164L563.5 165L563.8 165.3L565.3 165.4L577.8 164L580.1 164L580.7 164.3L579.8 165L573.9 167.3L554.1 173.5L550.8 174.8L549.3 175.8L549.3 176L549.6 176.1L551.1 176.2L563.6 174.8L565.6 174.8L566.5 175L566.4 175.3L565.7 175.8L559.9 178L540.1 184.2L536.3 185.8L535.4 186.3L535.1 186.8L535.8 187L537.3 187L549.1 185.7L551.1 185.6L552.3 185.8L552.3 186.1L551.6 186.6L549.4 187.6L545.9 188.8L526.6 194.8L522.2 196.6L521.3 197.1L520.9 197.6L521.6 197.8L523.3 197.8L536.6 196.4L538 196.6L538.1 196.8L537.5 197.3L535.4 198.3L531.8 199.6L511.8 205.8L508.1 207.3L507.2 207.8L506.7 208.3L507.3 208.6L509.3 208.6L522.3 207.2L523.8 207.4L524 207.6L523.4 208.1L521.3 209.1L517.8 210.4L497.8 216.6L494 218.1L492.6 219.1L493.1 219.4L495.1 219.4L508.1 218.1L509.6 218.2L509.8 218.4L509.3 218.9L507.2 219.9L503.8 221.1L483.8 227.3L479.9 228.9L478.4 229.9L478.5 230.1L478.8 230.2L480.8 230.3L494.1 228.9L495.6 229.1L495.2 229.6L493.2 230.6L489.7 231.9L469.1 238.4L465.3 239.9L464.5 240.4L464.2 240.9L465.1 241.1L467.1 241L479.6 239.7L481.3 239.9L481.4 240.2L481.1 240.4L479.1 241.4L475.7 242.7L455.1 249.1L451.3 250.7L450.4 251.2L450 251.7L450.8 251.9L452.6 251.9L465.3 250.5L467.1 250.7L467.2 250.9L467 251.2L465 252.2L461.6 253.4L440.3 260.1L437.2 261.4L436.3 261.9L435.8 262.4L436.6 262.7L438.5 262.7L451.3 261.3L452.8 261.4L453.1 261.7L452.5 262.2L449.7 263.4L444.5 265.2L433.3 265.2L433.3 250.7L434.9 249.9L436 249.2L436 248.9L435.6 248.8L433.3 248.8L433.3 244.5L445.3 240.7L449 239.2L449.9 238.7L450.2 238.2L449.3 237.9L447.6 238L434.8 239.3L433.3 239.2L433.3 238.6L435.2 237.7L439.4 236.1L458.6 230.2L462 228.9L464 227.9L464.3 227.6L464.3 227.3L462.8 227.1L450.1 228.5L447.8 228.5L447.3 228.4L447.2 228.1L448.2 227.4L451.2 226.1L471.8 219.7L476.1 218.1L478.1 217.1L478.6 216.6L478.3 216.4L477.1 216.3L464.3 217.6L462.1 217.7L461.3 217.4L461.8 216.9L462.8 216.4L466 215.1L485.8 208.9L490.1 207.4L492.2 206.3L492.7 205.8L492.6 205.6L491.3 205.5L478.3 206.8L476.3 206.9L475.5 206.6L476.4 205.8L480 204.3L499.3 198.3L502.8 197.1L505.8 195.8L506.6 195.3L506.9 195.1L506.9 194.8L505.8 194.6L503.8 194.7L492.1 196L490.6 196.1L489.7 195.8L490 195.3L490.9 194.8L494.8 193.3L516.8 186.4L520.4 184.8L521 184.3L521.1 184.1L520.3 183.8L519.1 183.8L507.3 185.1L505.1 185.2L504 185.1L503.9 184.8L504.2 184.6L505 184.1L511.1 181.8L529.6 176.1L534 174.3L534.9 173.8L535.3 173.3L534.7 173L532.8 173.1L519.8 174.4L518.2 174.3L518.1 174L518.6 173.5L520.8 172.5L524.3 171.3L544.3 165L548.1 163.5L549 163L549.5 162.5L548.8 162.2L546.8 162.2L533.8 163.6L532.3 163.4L532.4 163L532.7 162.8L534.9 161.8L538.4 160.5L557.6 154.6Z"/><path fill="#995ee8" d="M557.8 154.6L564 152L581.7 152L578.1 153.5L576.7 154.5L577.1 154.8L578.8 154.9L586.6 154.2L586.6 156.6L567.8 162.7L564 164.3L562.6 165.3L562.8 165.6L564.3 165.7L573.8 164.9L575.6 164.8L576.5 165L576.6 165.3L576.4 165.5L575.6 166L570.6 168L553.1 173.7L549.9 175L548.4 176L548.4 176.3L548.8 176.4L550.1 176.5L559.3 175.7L562.3 175.8L562.5 176L562.3 176.3L561.6 176.8L556.5 178.8L538.3 184.7L535.4 186.1L534.5 186.6L534.2 187.1L534.8 187.3L536.3 187.3L546.8 186.5L548.1 186.6L548.3 186.8L547.9 187.3L545.8 188.3L542.5 189.6L524.3 195.5L521.3 196.8L520.4 197.3L520 197.8L520.6 198.1L522.1 198.1L532.8 197.3L534.1 197.6L533.8 198.1L531.8 199.1L528.4 200.3L510.8 206.1L507.2 207.6L506.3 208.1L505.8 208.6L506.3 208.9L507.8 208.9L518.7 208.1L519.9 208.3L519.9 208.6L519.3 209.1L514.4 211.1L496.8 216.8L493.1 218.4L491.7 219.4L492.1 219.7L493.6 219.8L504.6 218.9L505.7 219.1L505.7 219.4L505.2 219.9L503 220.9L499.6 222.1L482.8 227.6L479.1 229.1L477.5 230.1L477.5 230.4L477.8 230.5L479.3 230.6L490.3 229.7L491.4 229.9L491.6 230.1L491.1 230.6L489 231.6L485.6 232.9L468.1 238.6L464.4 240.2L463.6 240.7L463.3 241.2L464.1 241.4L465.3 241.4L476.1 240.6L477.3 240.8L477.3 241.2L477 241.4L475.5 242.2L472.3 243.4L453.3 249.6L450.3 250.9L449.5 251.4L449.1 251.9L449.6 252.2L451.3 252.2L461.8 251.4L462.7 251.4L463.2 251.7L462.9 252.2L460.9 253.2L457.5 254.4L439.3 260.4L436.3 261.7L435.4 262.2L434.9 262.7L435.3 263L437.1 263L447.8 262.2L449 262.4L448.7 262.9L446.8 263.9L443.5 265.2L433.3 265.2L433.3 250.8L436.3 249.4L436.9 248.9L436.9 248.7L435.8 248.4L433.3 248.5L433.3 244.7L446.3 240.4L449.9 238.9L450.7 238.4L451.1 237.9L450.5 237.7L448.8 237.6L438.6 238.5L437.3 238.4L437 238.2L437.1 237.9L438.3 237.2L440.7 236.1L459.6 230L462.8 228.7L464.8 227.6L465.3 227.1L464.9 226.9L464.1 226.8L453.8 227.6L452 227.6L451.2 227.4L451.2 227.1L451.9 226.6L454.1 225.6L474.3 218.9L478.1 217.4L479.5 216.4L479.1 216.1L477.8 216L467.8 216.8L466.3 216.8L465.4 216.6L465.4 216.4L465.6 216.1L466.4 215.6L471.6 213.6L489.1 207.9L492.2 206.6L493.6 205.6L493.3 205.3L491.8 205.2L480.8 206L479.7 205.8L479.5 205.6L480.1 205.1L484.9 203.1L503.1 197.2L506.2 195.8L507.8 194.8L507.8 194.6L507.6 194.5L506.1 194.3L495.1 195.2L493.8 195L493.7 194.8L494.2 194.3L498.9 192.3L517.8 186.1L520.8 184.8L521.6 184.3L522 183.8L521.3 183.6L519.8 183.5L509.3 184.4L508.1 184.2L507.9 184.1L508.3 183.6L510.3 182.6L513.7 181.3L531.8 175.4L534.9 174L535.8 173.5L536.2 173L535.6 172.8L534.1 172.7L523.3 173.6L522.1 173.3L522.4 172.8L524.4 171.8L527.7 170.5L545.3 164.8L549 163.3L550.4 162.3L549.8 162L548.3 161.9L537.6 162.8L536.3 162.5L536.5 162L537.9 161.3L541.1 160Z"/><path fill="#8442e5" d="M558.3 154.5L564.5 152L581.4 152L577.2 153.8L576.3 154.3L575.8 154.8L576 155L576.3 155.1L577.6 155.2L586.6 154.7L586.6 156L582.2 157.8L566.8 162.9L562.2 165L561.7 165.5L561.7 165.8L562.6 166L571.8 165.5L573.1 165.6L573.6 165.8L573.6 166L572.5 166.8L570.2 167.8L554.1 173.2L550.8 174.5L548.1 175.8L547.5 176.3L547.5 176.5L548.3 176.8L557.6 176.3L559.1 176.4L559.4 176.8L558.4 177.5L556.2 178.5L539.3 184.2L535.6 185.8L533.6 186.8L533.3 187.3L534.3 187.6L543.3 187.1L544.8 187.2L545.2 187.6L544.3 188.3L542.1 189.3L525.3 195L522.1 196.3L519.5 197.6L519.1 198.1L519.4 198.3L520.1 198.4L529.1 197.9L530.6 198L531.1 198.3L530.2 199.1L527.4 200.3L510.6 206L507.3 207.3L505.4 208.3L504.9 208.9L505.1 209.1L505.8 209.2L514.8 208.8L516.3 208.8L516.9 209.1L516.1 209.9L513.3 211.1L496.6 216.8L493.3 218.1L491.3 219.1L490.8 219.6L490.8 219.9L491.8 220.1L500.6 219.6L502 219.6L502.7 219.9L502.6 220.1L502 220.6L499.3 221.9L482.6 227.5L479.3 228.8L477.2 229.9L476.6 230.4L476.6 230.6L477.6 230.9L486.8 230.4L488.1 230.5L488.4 230.6L488.5 230.9L487.5 231.6L484.6 232.9L469.1 238.1L465.8 239.3L463.1 240.7L462.5 241.2L462.4 241.4L462.6 241.5L464.6 241.7L472.6 241.2L474.1 241.4L474.3 241.7L473.4 242.4L470.5 243.7L455.1 248.9L449.4 251.2L448.3 251.9L448.3 252.3L448.8 252.5L450.3 252.5L458.6 252L459.8 252.1L460.2 252.4L459.7 252.9L458.8 253.4L455.8 254.7L438.3 260.6L435.4 261.9L434 262.9L434.3 263.2L435.6 263.3L443.6 262.8L445.8 263.1L446 263.2L445.9 263.4L445.2 263.9L442.4 265.2L433.3 265.2L433.3 250.9L436.7 249.4L437.5 248.9L437.8 248.4L436.6 248.1L433.3 248.3L433.3 244.9L447.3 240.2L450.8 238.7L451.6 238.2L452 237.7L451.6 237.4L450.3 237.3L441.3 237.8L440.3 237.7L440.1 237.4L440.2 237.2L441.4 236.4L443.8 235.4L460.6 229.7L463.8 228.4L465.7 227.4L466.2 226.9L466 226.6L465.3 226.5L456.3 227L454.8 226.9L454.2 226.6L455 225.9L457.8 224.6L474.1 219.2L477.8 217.7L479.8 216.6L480.4 216.1L480.2 215.9L479.3 215.7L470.6 216.2L469 216.1L468.4 215.9L468.5 215.6L469.1 215.1L471.9 213.9L488.1 208.4L493.5 206.1L494.3 205.6L494.5 205.1L492.6 204.9L484.1 205.4L482.8 205.2L482.6 204.8L483.7 204.1L486.6 202.8L504.8 196.6L508.1 195.1L508.7 194.6L508.7 194.3L508.1 194.1L506.8 194L497.8 194.5L496.9 194.3L496.8 194.1L497.3 193.6L502 191.6L518.8 185.9L521.7 184.6L522.5 184.1L522.9 183.6L522.5 183.3L521.1 183.2L512.1 183.7L511.1 183.5L511 183.3L511.4 182.8L516.1 180.8L532.8 175.1L535.8 173.8L536.7 173.3L537.1 172.8L536.8 172.5L535.3 172.4L526.3 172.9L525.4 172.8L525.1 172.5L525.6 172L527 171.3L530.1 170L546.3 164.6L549.9 163L551.3 162L550.8 161.7L549.6 161.6L540.3 162.1L539.3 161.8L539.7 161.3L543.5 159.5Z"/><path fill="#6f2de7" d="M558.6 154.6L564.9 152L581 152L576.3 154L575.1 154.8L574.9 155L575 155.3L576.6 155.5L584.1 155.2L585.1 155.4L585.3 155.8L584.3 156.5L582 157.5L567.1 162.7L563.3 164.2L561.3 165.3L560.8 165.8L560.8 166L561.6 166.3L569.6 166L570.8 166.2L571.1 166.5L570.2 167.3L568 168.3L553.1 173.5L549.8 174.7L547.2 176L546.5 176.8L547 177L555.3 176.8L556.6 177L556.9 177.3L556.1 178L553.9 179L538.3 184.5L534.6 186L532.8 187.1L532.4 187.6L533.1 187.9L541.1 187.6L542.3 187.8L542.7 188.1L542 188.8L539.8 189.8L524.3 195.2L520.6 196.8L518.6 197.8L518.2 198.3L518.3 198.6L519.1 198.7L526.8 198.5L528.1 198.6L528.6 198.8L528.5 199.1L527.9 199.6L525.2 200.8L509.6 206.3L504.9 208.3L504.2 208.9L504 209.1L504.1 209.4L505.8 209.6L513.1 209.3L514.1 209.5L514.3 209.6L514.3 209.9L513.3 210.6L511.1 211.6L495.6 217L490.8 219.1L490.1 219.6L489.9 220.1L491.6 220.4L498.8 220.1L499.8 220.2L500.1 220.4L500.2 220.6L499.2 221.4L496.4 222.6L479.6 228.6L476.3 230.1L475.7 230.6L475.6 230.9L476.2 231.1L477.3 231.2L485.1 231L485.9 231.1L486 231.4L485.6 231.9L481 233.9L466.1 239.1L462.6 240.7L461.8 241.2L461.5 241.7L461.8 241.9L463.1 242L470.8 241.8L471.6 241.9L471.8 242.1L471.4 242.7L470.1 243.4L467 244.7L452.1 249.9L448.6 251.4L447.3 252.4L447.6 252.7L448.8 252.8L456.8 252.6L457.7 252.9L457.3 253.4L456 254.2L452.9 255.4L438.1 260.6L435.1 261.9L433.3 262.9L433.3 251L437.6 249.2L438.4 248.7L438.8 248.2L438.4 247.9L437.6 247.8L433.3 248L433.3 245.2L447.6 240.2L451.7 238.4L452.5 237.9L452.9 237.4L452.7 237.2L451.6 237L443.6 237.3L442.9 237.2L442.6 236.9L442.9 236.4L444.3 235.6L447.3 234.4L462.3 229.2L466.6 227.1L467.1 226.6L467 226.4L466.3 226.2L458.6 226.5L457.2 226.4L456.8 226.1L456.8 225.9L457.4 225.4L459.5 224.4L476.3 218.4L479.8 216.9L481.3 215.9L481.1 215.5L480.1 215.4L472.8 215.7L471.7 215.6L471 215.4L471.2 214.9L471.9 214.4L476.1 212.6L490.3 207.7L494 206.1L495.4 205.1L495.3 204.8L494.3 204.6L486.1 204.8L485.2 204.6L485.1 204.3L485.6 203.8L490.2 201.8L505.1 196.7L508.5 195.1L509.3 194.6L509.7 194.1L509.2 193.8L508.1 193.7L500.3 194L499.3 193.7L499.7 193.1L501.1 192.3L504.2 191.1L519.8 185.6L522.6 184.3L523.4 183.8L523.8 183.3L523.6 183.1L522.3 182.9L514.3 183.2L513.5 182.8L513.8 182.3L515.2 181.6L518.3 180.3L533.8 174.9L536.7 173.5L538 172.5L537.8 172.3L536.6 172.1L528.3 172.3L527.7 172L527.7 171.8L528.3 171.3L533 169.3L547.8 164.1L550.8 162.8L552.2 161.8L552.1 161.5L551.8 161.4L550.8 161.3L542.6 161.5L541.9 161.3L541.8 161L542.4 160.5L546.4 158.8ZM435.1 263.7L442.8 263.4L443.5 263.7L443.4 263.9L442.8 264.4L441.4 265.2L433.3 265.2L433.3 263.5Z"/><path fill="#5920ec" d="M559.6 154.3L565.3 152L580.7 152L575.4 154.3L574.2 155L574 155.5L575.3 155.8L582.1 155.7L582.8 155.8L583.1 156L583.1 156.3L582.1 157L579.9 158L566.1 163L563.1 164.2L560.4 165.5L559.8 166.3L560.2 166.5L567.6 166.5L568.6 166.6L568.9 166.8L569 167L568 167.8L565.9 168.8L550.8 174.2L547.8 175.5L546 176.5L545.6 177L546.1 177.3L553.5 177.3L554.6 177.5L554.8 177.8L553.9 178.5L551.8 179.5L537.3 184.7L534.3 186L531.8 187.3L531.4 187.8L531.5 188.1L532.1 188.2L539.1 188.1L540.3 188.3L540.6 188.6L539.9 189.3L537.8 190.3L523.3 195.5L519.6 197.1L517.7 198.1L517.2 198.6L517.3 198.8L517.8 199L524.8 198.9L526.1 199.1L526.5 199.3L525.7 200.1L523.7 201.1L509.3 206.2L504 208.6L503.3 209.1L503.1 209.6L504.6 209.9L511.1 209.8L512.1 210L512.2 210.4L511.2 211.1L508.4 212.4L496.6 216.5L492.1 218.3L489.5 219.6L488.9 220.4L489.4 220.6L490.3 220.7L497.4 220.6L498 220.9L498.1 221.1L497.5 221.6L493.7 223.4L478.6 228.8L475.8 230.1L475 230.6L474.7 231.1L475 231.4L476.1 231.5L483.1 231.4L483.8 231.6L483.9 231.9L483.4 232.4L479.6 234.1L464.6 239.6L461.7 240.9L460.5 241.9L460.7 242.2L461.8 242.3L468.8 242.2L469.6 242.4L469.7 242.7L469.3 243.2L468 243.9L464.9 245.2L451.1 250.1L447.6 251.7L446.3 252.7L446.6 253L447.6 253.1L454.8 253.1L455.6 253.4L455.2 253.9L451.5 255.7L438.3 260.4L433.3 262.6L433.3 251.2L438 249.2L439.3 248.4L439.7 247.9L439.5 247.7L438.3 247.5L433.3 247.7L433.3 245.5L447.8 240.3L452.6 238.2L453.7 237.4L453.9 237.2L453.8 236.9L452.3 236.7L446.1 236.8L444.9 236.6L444.7 236.4L445.4 235.6L447.5 234.6L462.6 229.2L466.7 227.4L468.1 226.4L467.8 226L466.8 225.9L461.1 226L459.2 225.9L458.9 225.6L458.9 225.4L459.5 224.9L463.4 223.1L477.3 218.2L480.8 216.6L482.2 215.6L482.2 215.4L482.1 215.2L481.3 215.1L473.6 215.1L473.1 214.9L473.1 214.6L473.6 214.1L477.5 212.4L492.6 206.9L495.3 205.6L496.1 205.1L496.4 204.6L496 204.3L495.1 204.2L488.1 204.3L487.3 204.1L487.2 203.8L487.7 203.3L491.6 201.6L506.1 196.4L509.4 194.8L510.2 194.3L510.6 193.8L510.4 193.6L509.3 193.4L502.3 193.5L501.5 193.3L501.4 193.1L501.8 192.6L506.3 190.5L520.1 185.6L523.5 184.1L524.8 183.1L524.6 182.8L523.6 182.6L516.3 182.7L515.8 182.6L515.6 182.3L516 181.8L517.3 181.1L520.3 179.8L534.8 174.6L537.6 173.3L539 172.3L538.8 172L537.8 171.8L530.6 171.9L529.8 171.5L530.1 171L531.4 170.3L534.4 169L548.8 163.8L551.7 162.5L553.1 161.5L553.1 161.2L552.1 161L544.5 161L544 160.8L544 160.5L544.5 160L548.4 158.3ZM433.3 264L439.8 263.8L440.9 263.9L441.4 264.2L441.1 264.7L440.3 265.2L433.3 265.2Z"/><path fill="#4117f3" d="M560.6 154.1L565.7 152L580.4 152L575.1 154.2L573.3 155.3L572.9 155.8L573.3 156L574.1 156.1L580.1 156.1L581.1 156.3L581.3 156.5L580.6 157.3L578.6 158.3L564.6 163.4L561.6 164.7L559.1 166L558.7 166.5L559.3 166.9L565.6 166.9L566.8 167L567.1 167.3L567.1 167.5L566.5 168L564.5 169L549.8 174.5L545.8 176.3L544.6 177.3L544.7 177.5L545.6 177.7L551.3 177.7L552.4 177.8L552.9 178L552.7 178.5L552 179L547.8 180.9L534.6 185.7L531.7 187.1L530.4 188.1L530.4 188.3L531.3 188.5L537.1 188.5L538.7 188.8L538.6 189.3L537.9 189.8L533.8 191.6L521.1 196.2L517.7 197.8L516.2 198.8L516.3 199.2L517.1 199.3L522.8 199.3L524.5 199.6L524.6 199.8L524.5 200.1L523.8 200.6L519.8 202.4L505.8 207.5L502.7 209.1L502 209.9L503.1 210.2L508.6 210.1L510.2 210.4L510.4 210.6L510.3 210.9L509.7 211.4L505.1 213.4L492.3 218.1L489.1 219.6L488.2 220.1L487.8 220.6L488.1 220.9L489.1 221L495.6 221.1L496.2 221.4L496.2 221.6L495.6 222.1L491.1 224.1L478.3 228.8L474.9 230.4L473.7 231.4L473.8 231.6L474.8 231.8L481.6 231.9L482 232.1L482 232.4L481.5 232.9L477.6 234.7L463.6 239.9L460.8 241.2L459.5 242.2L459.6 242.4L460.6 242.6L467.1 242.7L467.8 242.9L467.9 243.2L467.4 243.7L463.6 245.5L449.6 250.6L446.8 251.9L445.3 252.9L445.3 253.2L445.6 253.3L446.3 253.4L453.1 253.5L453.6 253.7L453.7 253.9L453.3 254.4L449.6 256.2L438.1 260.3L433.3 262.4L433.3 251.3L438.3 249.2L439.9 248.4L440.7 247.7L440.6 247.4L439.6 247.2L433.3 247.2L433.3 245.9L438.1 243.9L450.1 239.5L454.4 237.4L454.9 236.9L454.9 236.6L454.3 236.4L447.8 236.4L446.8 236.2L446.5 235.9L447.4 235.1L449.4 234.1L463.6 229L468.5 226.6L469 226.1L469.1 225.9L468.5 225.6L462.1 225.6L460.9 225.4L460.7 225.1L461.5 224.4L463.5 223.4L477.6 218.2L482.6 215.9L483.3 215.1L482.9 214.9L476.3 214.8L475.1 214.6L474.9 214.4L475.6 213.6L477.6 212.6L492.3 207.2L495.3 205.8L497 204.8L497.5 204.3L497.1 204L490.3 204L489.3 203.8L489.1 203.6L489.1 203.3L490.1 202.6L492.2 201.6L506.3 196.4L509.3 195.1L511.2 194.1L511.6 193.6L511.5 193.3L511.1 193.2L504.6 193.2L503.6 193L503.3 192.8L503.3 192.6L504.2 191.8L506.3 190.8L520.3 185.7L523.3 184.4L525.3 183.3L525.8 182.8L525.8 182.6L525.3 182.4L518.6 182.3L517.6 182.1L517.4 181.8L518.3 181.1L520.4 180L533.8 175.1L536.8 173.9L539.4 172.5L540 172L540 171.8L539.4 171.5L533.1 171.5L531.8 171.3L531.6 171L532.4 170.3L535.1 169L550.3 163.4L553.5 161.8L554.2 161L553.8 160.8L553.1 160.7L547.8 160.7L546 160.5L545.8 160.3L545.9 160L546.9 159.3L551.1 157.5ZM433.3 265.2L433.3 264.3L437.8 264.2L439.1 264.4L439.5 264.7L439.2 265.2Z"/><path fill="#2615fc" d="M551.1 157.7L566 152L580.1 152L574.1 154.5L572.3 155.5L571.8 156L572 156.3L572.8 156.4L578.8 156.5L579.6 156.7L579.7 157L578.8 157.8L576.7 158.8L563.6 163.7L560.1 165.2L558.2 166.3L557.7 166.8L557.8 167L558.1 167.1L564.3 167.3L565.3 167.5L565.5 167.8L564.7 168.5L562.6 169.6L549.6 174.4L546.6 175.7L544.1 177L543.5 177.5L543.5 177.8L544.1 178L549.8 178.1L551.1 178.3L551.3 178.5L550.6 179.3L548.6 180.3L534.8 185.5L530 187.8L529.4 188.3L529.3 188.6L529.8 188.8L535.6 188.9L536.8 189.1L537.2 189.3L536.5 190.1L534.5 191.1L520.8 196.2L517.3 197.8L515.5 198.8L515.1 199.3L515.6 199.6L521.8 199.7L522.8 200L522.9 200.3L522 201.1L519.8 202.1L506.1 207.3L501.4 209.6L500.9 210.1L501.3 210.4L507.6 210.5L508.6 210.8L508.8 211.1L507.9 211.9L505.8 212.9L492.1 218L487.3 220.4L486.8 220.9L486.9 221.1L487.3 221.3L493.3 221.3L494.3 221.5L494.6 221.9L493.8 222.6L491.8 223.6L478.6 228.6L475.1 230.1L473.1 231.1L472.6 231.6L472.6 231.9L473.1 232.1L479.1 232.2L480.1 232.3L480.4 232.6L479.7 233.4L477.7 234.4L464.6 239.3L461.6 240.6L459 241.9L458.5 242.4L458.4 242.7L459 242.9L464.8 243L466 243.2L466.3 243.4L465.6 244.2L463 245.4L448.1 251.1L444.9 252.7L444.2 253.4L444.6 253.7L445.3 253.8L450.8 253.8L451.7 253.9L452.1 254.2L451.8 254.7L451.1 255.2L447.6 256.8L437.1 260.6L433.3 262.2L433.3 251.4L439.8 248.7L441.5 247.7L441.8 247.2L440.6 246.9L434.8 246.8L434.2 246.7L434 246.4L434.3 245.9L435.6 245.2L438.6 243.9L451.1 239.2L455.3 237.2L456 236.4L455.5 236.1L449.3 236L448.5 235.9L448.2 235.6L448.2 235.4L449.2 234.6L451.3 233.6L465.1 228.5L469.8 226.1L470.2 225.6L469.8 225.4L463.6 225.2L462.6 225L462.4 224.6L463.3 223.9L465.4 222.9L478.6 217.9L482.1 216.4L483.9 215.4L484.4 214.9L484.2 214.6L483.8 214.5L477.6 214.4L476.6 214.1L476.5 213.9L477.4 213.1L479.4 212.1L492.6 207.2L495.6 205.9L498 204.6L498.5 204.1L498.5 203.8L498.1 203.7L491.9 203.6L490.8 203.3L490.7 203.1L491.5 202.3L493.6 201.3L506.6 196.4L509.6 195.2L512.1 193.8L512.7 193.3L512.7 193.1L512.1 192.9L506.3 192.8L505.1 192.6L504.9 192.3L505.6 191.6L507.6 190.6L521.3 185.4L526.2 183.1L526.9 182.3L526.4 182.1L520.1 181.9L519.3 181.8L519.1 181.6L519.1 181.3L520.1 180.6L522.3 179.5L535.3 174.7L540.3 172.3L541 171.8L541.1 171.5L540.8 171.3L534.3 171.1L533.6 171L533.3 170.8L533.3 170.5L534.2 169.8L536.3 168.8L548.8 164.1L554 161.8L555.1 161L555.3 160.8L555.1 160.5L553.8 160.3L548.6 160.3L547.6 160.1L547.4 159.8L548.3 159ZM433.3 264.7L436.8 264.6L437.8 264.9L437.9 265.2L433.3 265.2Z"/><path fill="#122cff" d="M552.3 157.4L566.4 152L579.7 152L572.6 155L570.8 156L570.5 156.5L571.6 156.8L577.3 156.9L578 157.3L577.4 158L573.6 159.8L560.8 164.7L557.5 166.3L556.7 166.8L556.3 167.3L556.7 167.5L557.3 167.6L563.3 167.8L563.8 168L563.8 168.3L563.3 168.8L558.8 170.9L546.1 175.7L543 177.3L542.1 178L542.4 178.3L543.1 178.4L549 178.5L549.6 178.8L549.6 179L549.2 179.5L544.8 181.6L532.1 186.5L528.9 188.1L528 188.8L528.1 189.1L528.8 189.2L534.8 189.4L535.4 189.6L535.5 189.8L535.1 190.3L531.3 192.2L518.6 197L515.3 198.5L513.8 199.6L513.8 199.8L514.8 200.1L520.6 200.2L521.1 200.3L521.3 200.6L520.9 201.1L517.3 202.9L504.6 207.7L501.2 209.4L499.7 210.4L499.6 210.6L500.3 210.9L506.6 211L507.1 211.4L506.5 212.1L502.6 213.9L489.3 219L486.2 220.6L485.4 221.4L486.3 221.7L492.3 221.8L492.9 222.1L492.9 222.4L492.4 222.9L488.6 224.7L475.8 229.5L472.6 231.1L471.2 232.1L471.5 232.4L472.3 232.5L478.1 232.6L478.7 232.9L478.7 233.1L478.3 233.6L473.8 235.7L461.8 240.3L458.4 241.9L457.1 242.9L457.2 243.2L458.1 243.3L463.8 243.4L464.5 243.7L464.6 243.9L464.1 244.4L459.8 246.5L447.1 251.4L443.9 252.9L442.9 253.7L442.9 253.9L443.8 254.1L449.8 254.3L450.4 254.7L450 255.2L448.8 255.9L445.8 257.2L438.1 260.1L433.3 262.1L433.3 251.6L440.3 248.7L442.3 247.7L443.2 246.9L443 246.7L442.1 246.5L436.4 246.4L435.7 246.2L435.6 245.9L436.1 245.4L439.8 243.6L452.6 238.8L456.8 236.6L457.3 236.1L457.3 235.9L456.1 235.7L451 235.6L450.1 235.4L449.8 235.1L450.6 234.4L452.6 233.4L466.1 228.2L470.9 225.9L471.5 225.4L471.5 225.1L470.3 224.9L465.3 224.8L464.3 224.7L464 224.4L464.7 223.6L467.3 222.3L480.1 217.5L483.6 215.9L485.4 214.9L485.7 214.4L485.1 214.1L479.3 214L478.5 213.9L478.2 213.6L478.2 213.4L479.2 212.6L481.3 211.6L493.6 206.9L497.1 205.4L499.5 204.1L499.9 203.6L499.5 203.3L493.6 203.2L492.6 203L492.4 202.6L493.3 201.8L494.8 201.1L508.8 195.7L513.6 193.3L514.1 192.8L513.9 192.6L507.6 192.4L506.8 192.2L506.6 191.8L507.4 191.1L509.6 190L522.3 185.1L527.7 182.6L528.2 182.1L528.1 181.8L526.8 181.6L521.8 181.6L520.9 181.3L520.7 181.1L521.5 180.3L523.6 179.3L536.3 174.4L541.8 171.8L542.4 171.3L542.4 171L541.1 170.8L536.1 170.7L535.1 170.5L534.9 170.3L535.6 169.5L537.6 168.5L549.8 163.9L555.5 161.3L556.3 160.8L556.6 160.3L555.6 160L550.1 159.9L549.3 159.7L549.1 159.5L549.1 159.3L550.1 158.5ZM433.3 265.2L433.3 265L433.6 265L435.9 265.2Z"/><path fill="#0350ff" d="M554.1 156.9L566.8 152L579.4 152L573.3 154.4L570.1 156L569.1 156.8L569.2 157L569.8 157.1L574.8 157.2L576.5 157.5L576.4 158L575.7 158.5L571.8 160.3L559.8 164.9L556.6 166.5L554.9 167.5L554.9 167.8L555.6 168L560.8 168L562.3 168.3L562.4 168.5L562.3 168.8L561.6 169.3L557.1 171.4L550.8 173.7L544.6 176.2L541.5 177.8L540.7 178.5L541.7 178.8L547.6 178.9L548.2 179.3L547.5 180L543.1 182.1L536.1 184.7L530.6 187L527.4 188.6L526.5 189.3L527.3 189.6L533.3 189.7L534 190.1L533.4 190.8L529.6 192.7L517.1 197.5L513.7 199.1L512.3 200.1L512.6 200.3L513.3 200.4L519.3 200.6L519.8 200.8L519.8 201.1L519.3 201.6L515.6 203.4L503.6 208L499.6 209.9L498.2 210.9L498.3 211.1L499.1 211.2L505.1 211.4L505.6 211.6L505.7 211.9L505.2 212.4L500.8 214.5L488.3 219.3L485.1 220.9L484 221.6L484 221.9L484.8 222L490.8 222.2L491.4 222.4L491.5 222.6L491.1 223.1L486.8 225.2L474.3 230L470.6 231.9L469.8 232.6L470.8 232.9L476.6 233L477.2 233.1L477.3 233.4L477 233.9L473.3 235.7L464.6 239L459.1 241.3L456.5 242.7L455.6 243.4L456.6 243.7L462.6 243.8L463.1 244.2L462.5 244.9L458.1 247L445.6 251.8L442.4 253.4L441.4 254.2L441.7 254.4L442.3 254.5L448.3 254.6L448.9 254.9L448.9 255.2L448.4 255.7L444.1 257.7L433.3 261.8L433.3 251.6L440.6 248.8L443.8 247.2L444.6 246.4L443.8 246.2L437.8 246L437.1 245.7L437.4 245.2L438.6 244.4L441.6 243.1L453.6 238.5L458.3 236.1L458.8 235.6L458.4 235.4L452.3 235.3L451.6 235.1L451.3 234.9L451.3 234.6L452.2 233.9L453.8 233.1L467.6 227.7L472.4 225.4L472.9 224.9L472.8 224.6L466.6 224.5L465.6 224.2L465.5 223.9L466.3 223.1L469.1 221.8L481.1 217.2L485.1 215.4L486.9 214.4L487.1 214.1L487.1 213.9L486.6 213.7L480.8 213.7L479.8 213.4L479.6 213.1L480.4 212.4L482.6 211.3L495.1 206.5L498.6 204.9L501 203.6L501.3 203.1L500.8 202.9L495.1 202.9L494.1 202.7L493.8 202.3L494.5 201.6L496.6 200.5L509.8 195.4L515.1 192.8L515.5 192.3L514.8 192.1L509.3 192L508.3 191.9L508 191.6L508.6 190.8L511.3 189.5L523.8 184.7L529.2 182.1L529.7 181.6L529.3 181.3L523.3 181.2L522.5 181.1L522.2 180.8L522.2 180.6L523.2 179.8L525.3 178.7L537.3 174.1L543.3 171.3L543.8 170.8L543.6 170.5L537.6 170.4L536.6 170.2L536.4 169.8L537.3 169L539.3 168L551.3 163.4L557 160.8L557.8 160.3L558 160L557.9 159.8L556.8 159.6L551.6 159.6L550.8 159.4L550.5 159L551.4 158.3Z"/><path fill="#007eff" d="M555.1 156.7L567.1 152L579.1 152L571.8 154.9L568.5 156.5L567.4 157.3L567.6 157.5L568.1 157.6L574.6 157.6L575.2 157.8L575.4 158L574.6 158.8L570.1 160.9L558.3 165.4L554.4 167.3L553.3 168L553.3 168.3L553.8 168.4L558.8 168.3L560.6 168.4L561.2 168.8L560.5 169.5L556.1 171.6L548.6 174.4L543.1 176.7L539.9 178.3L539.1 178.8L539 179L540.1 179.2L544.6 179.1L546.3 179.2L547 179.5L546.9 179.8L546.4 180.3L542.6 182.2L529.6 187.2L525.8 189.1L524.8 189.8L525.8 190L532.1 190L532.8 190.3L532.8 190.6L532.3 191.1L528.6 192.9L515.6 198L511.7 199.8L510.7 200.6L511.5 200.8L517.9 200.8L518.6 201.2L518.6 201.3L518.2 201.8L513.8 204L502.1 208.5L498.1 210.4L496.5 211.4L496.8 211.6L497.3 211.6L503.6 211.6L504.3 211.9L504.4 212.1L504.1 212.6L499.8 214.7L486.8 219.8L483.5 221.4L482.3 222.1L482.4 222.4L483.1 222.5L489.3 222.4L490.1 222.6L490.3 222.9L489.9 223.4L488.1 224.5L485.8 225.4L472.8 230.5L468.9 232.4L468.2 232.9L468.2 233.1L475.3 233.3L476.1 233.6L475.5 234.4L471.1 236.5L459.3 241.1L454.8 243.2L453.9 243.9L455.1 244.1L461.1 244.1L461.9 244.4L461.9 244.7L461.4 245.2L457.1 247.2L449.6 250.1L444.1 252.3L440.8 253.9L439.8 254.7L440.6 254.9L447.1 254.9L447.7 255.2L447.7 255.4L447.3 255.9L443.6 257.8L433.3 261.8L433.3 251.8L441.6 248.5L445.4 246.7L446.3 245.9L445.3 245.7L439.3 245.8L438.3 245.4L438.6 244.9L439.8 244.1L442.1 243.1L453.8 238.5L457.3 237L460.3 235.4L460.5 235.1L459.8 234.9L453.3 234.9L452.6 234.7L452.5 234.4L453.4 233.6L456.1 232.3L467.3 228L472.6 225.7L474.4 224.6L474.6 224.4L474.2 224.1L468.1 224.2L467.1 224L466.7 223.6L467.5 222.9L469.6 221.8L482.6 216.7L488.5 213.9L488.8 213.6L488.6 213.3L482.3 213.4L481.1 213.1L480.8 212.9L481.6 212.1L483.6 211.1L496.1 206.2L502.6 203.1L502.9 202.8L502.9 202.6L496.6 202.6L495.3 202.4L495 202.1L495.7 201.3L498.3 200L510.1 195.4L516.7 192.3L517.2 191.8L516.1 191.7L510.3 191.7L509.6 191.6L509.2 191.3L509.3 191.1L510.2 190.3L512.3 189.2L523.6 184.9L530.8 181.6L531.4 181.1L530.3 180.8L524.6 180.9L523.6 180.6L523.4 180.3L524.3 179.5L526.3 178.5L538.8 173.6L544.9 170.8L545.5 170.3L544.8 170L538.8 170.1L537.8 169.9L537.6 169.5L538.4 168.8L541.1 167.4L552.3 163.1L559 160L559.7 159.5L559.6 159.3L553.1 159.3L552.1 159.1L551.8 158.8L552.5 158Z"/><path fill="#00afff" d="M555.6 156.7L567.4 152L578.8 152L572.1 154.6L564.5 158L564.8 158.2L572.3 157.8L573.8 157.9L574.2 158.3L573.9 158.8L573.1 159.3L570.3 160.6L558.6 165.2L550.1 169L557.8 168.6L559.3 168.7L560.1 169L559.5 169.8L556.8 171.1L544.6 175.9L535.9 179.8L544.1 179.4L545.4 179.5L545.8 179.8L545.8 180L545 180.8L542.8 181.9L531.1 186.5L521.8 190.6L529.8 190.2L531.3 190.4L531.6 190.6L531.7 190.8L530.3 191.9L527.6 193.2L517.1 197.2L507.7 201.3L508.3 201.4L515.6 201L517.1 201.2L517.5 201.6L516.8 202.3L514.1 203.7L502.3 208.3L493.6 212.1L494.1 212.3L501.3 211.8L502.8 212L503.3 212.4L502.6 213.1L500.1 214.4L488.3 219L479.5 222.9L479.2 223.1L487.3 222.7L488.6 222.8L489.2 223.1L488.5 223.9L486.6 224.9L473.1 230.3L465 233.9L472.6 233.5L474.3 233.6L475 233.9L474.9 234.1L474.4 234.6L471.3 236.2L459.6 240.8L450.9 244.7L458.8 244.3L460.3 244.5L460.7 244.7L460.8 244.9L459.9 245.7L457.8 246.8L445.6 251.6L436.8 255.4L437.6 255.5L444.8 255.1L446.1 255.3L446.5 255.4L446.6 255.7L445.8 256.4L443.8 257.5L433.3 261.6L433.3 256.9L435.2 255.9L433.3 256L433.3 251.8L441.3 248.8L449.4 245.2L440.8 245.5L439.5 245.2L439.4 244.9L439.9 244.4L443.1 242.8L453.6 238.8L463.5 234.4L455.6 234.7L454.1 234.6L453.7 234.4L453.6 234.1L454.4 233.4L457.1 232.1L468.8 227.5L477.6 223.6L477.1 223.5L469.6 223.9L468.3 223.8L467.8 223.4L468.5 222.6L470.6 221.6L482.3 217L491.7 212.9L491.3 212.7L483.8 213.1L482.6 213L482 212.6L482.3 212.1L483.1 211.6L485.8 210.3L497.6 205.7L506.1 201.8L498.3 202.3L496.8 202.2L496.2 201.8L496.2 201.6L496.7 201.1L499.3 199.7L511.6 194.9L520.3 191.1L512.3 191.5L510.8 191.3L510.4 191.1L510.3 190.8L511.2 190.1L513.3 189L525.1 184.4L534.4 180.3L526.3 180.6L525.1 180.5L524.6 180.3L524.5 180L525.8 179L528.6 177.7L540.3 173.2L548.5 169.5L547.8 169.4L540.6 169.8L539.1 169.6L538.7 169.3L539.4 168.5L542.1 167.2L553.8 162.6L562.6 158.8L562.1 158.6L554.6 159L553.3 158.8L552.9 158.5L553.5 157.8Z"/><path fill="#00d1f0" d="M557.1 156.2L567.7 152L578.6 152L567.1 156.6L563.1 157.9L560.3 158.4L557.3 158.7L554.8 158.7L554.1 158.5L553.9 158.3L554.5 157.5ZM567.9 158.3L571.8 158.1L572.8 158.2L573.2 158.5L572.9 159L572.1 159.6L568.8 161.1L550.1 168.4L547.1 169.1L543.8 169.4L540.8 169.5L539.9 169.3L539.7 169L540.1 168.5L540.8 168L543.6 166.7L559.3 160.4L563.8 158.9ZM554.2 169L557.6 168.9L558.7 169L559 169.3L559 169.5L558.5 170L555.3 171.6L536.1 179.2L533.8 179.7L530.3 180.2L527.1 180.3L525.6 180L525.5 179.8L525.9 179.3L528.3 178L545.3 171.2L549.8 169.7ZM540.5 179.8L543.8 179.7L544.6 179.9L544.8 180L544.8 180.3L543.5 181.3L540.1 182.9L522.1 189.9L519.1 190.6L515.3 191.1L512.6 191.1L511.4 190.8L511.3 190.6L511.8 190.1L514.3 188.7L531.8 181.7L536.1 180.4ZM527 190.6L529.8 190.6L530.6 190.8L530.7 191.1L530.2 191.6L529.3 192.1L526.6 193.4L507.8 200.8L504.8 201.5L501.3 201.9L498.3 202L497.2 201.6L497.2 201.3L497.7 200.8L500.8 199.2L517.8 192.5L522.1 191.2ZM513.7 201.3L515.8 201.4L516.4 201.6L516.5 201.8L516.1 202.3L515.3 202.9L512.6 204.2L494.6 211.3L491.3 212.2L487.8 212.7L484.3 212.8L483.3 212.6L483 212.4L483.3 211.9L484.1 211.3L486.8 210L504.6 203L508.3 201.9ZM496.9 212.4L500.8 212.2L502.1 212.3L502.3 212.6L501.7 213.4L499.1 214.7L479.8 222.3L477.1 223L473.1 223.5L469.8 223.6L469 223.4L468.8 223.1L469.5 222.4L472.1 221.1L489.1 214.3L493.1 213ZM483.1 223.1L486.8 223L487.8 223.1L488.1 223.4L487.9 223.9L487.2 224.4L483.8 226L465.1 233.3L461.8 234L457.6 234.4L455.3 234.3L454.7 234.1L454.6 233.9L455.4 233.1L458.1 231.8L475.1 225L479.1 223.7ZM469.5 233.9L473.1 233.8L473.8 234.1L473.9 234.4L472.6 235.4L469.8 236.7L451.1 244L448.1 244.8L444.3 245.2L441.6 245.2L440.5 244.9L440.6 244.4L441.3 243.9L444.1 242.5L460.3 236.1L465.1 234.5ZM455.9 244.7L459 244.7L459.7 244.9L459.8 245.2L459.3 245.7L458 246.4L452.6 248.8L437.8 254.6L435.3 255.3L433.3 255.6L433.3 252.1L433.6 251.9L449.1 245.8L452.3 245.1ZM442.6 255.4L444.8 255.5L445.5 255.7L445.6 255.9L444.9 256.7L442.8 257.8L433.3 261.6L433.3 257.2L437.3 256Z"/><path fill="#00f0df" d="M558.1 155.9L567.9 152L578.3 152L568.6 155.9L563.3 157.6L560.8 158.1L557.6 158.4L555.6 158.4L554.8 158L555.4 157.3ZM567.7 158.5L571.1 158.4L572 158.5L572.3 158.8L572 159.3L571.2 159.8L567.8 161.4L551.1 167.8L548.3 168.6L545.1 169.1L541.8 169.2L540.8 169L540.6 168.8L541 168.3L541.8 167.7L544.6 166.4L557.8 161.2L562.8 159.4ZM554 169.3L556.8 169.2L557.7 169.3L558.1 169.5L557.9 170L557.1 170.6L553.8 172.1L537.1 178.6L534.3 179.4L531.1 179.9L527.6 180.1L526.6 179.8L526.4 179.5L527.7 178.5L531.1 176.9L545.1 171.5L549.8 170ZM540.3 180L543.1 180L543.8 180.3L543.9 180.6L543 181.3L540.3 182.7L523.1 189.4L520.3 190.1L517.3 190.7L514.1 190.9L512.9 190.8L512.3 190.6L512.3 190.3L512.8 189.8L515.8 188.2L531.1 182.2L535.8 180.7ZM526.8 190.8L529.1 190.9L529.7 191.1L529.8 191.3L528.5 192.3L525.1 193.9L508.8 200.2L505.3 201.1L501.8 201.6L499.1 201.7L498.1 201.3L498.3 200.8L499.1 200.3L502.3 198.7L517.1 193L521.8 191.5ZM510.5 201.8L514.3 201.6L515.3 201.8L515.6 202.1L515.2 202.6L514.3 203.2L511.1 204.7L498.3 209.7L494.1 211.2L491.3 211.9L487.8 212.4L485.1 212.5L484.2 212.4L483.9 212.1L484.6 211.3L487.1 210L500.3 204.7L506.1 202.7ZM496.7 212.6L500.1 212.4L501.1 212.6L501.4 212.9L501.1 213.4L500.3 213.9L497.6 215.2L480.1 222L477.3 222.7L474.1 223.2L470.8 223.3L469.9 223.1L469.7 222.9L470.4 222.1L473.1 220.8L487.6 215L492.8 213.3ZM483 223.4L486.1 223.3L486.8 223.4L487.2 223.6L487 224.1L486.2 224.6L482.3 226.5L466.1 232.7L463.3 233.5L460.3 234L456.8 234.1L455.8 234L455.6 233.7L455.7 233.4L456.3 232.9L459.6 231.3L473.6 225.8L478.8 224.1ZM469.3 234.1L472.3 234.1L473 234.4L473 234.6L471.6 235.7L468.8 237L452.1 243.5L449.3 244.2L446.6 244.7L443.1 245L441.4 244.7L441.4 244.4L441.8 243.9L444.3 242.6L458.8 236.8L464.8 234.9ZM455.8 244.9L458.1 244.9L458.8 245.2L458.9 245.4L458 246.2L455.3 247.5L446.6 251L438.1 254.2L433.3 255.4L433.3 252.1L448.3 246.3L452.1 245.4ZM439.6 255.9L443.3 255.7L444.3 255.8L444.7 256.2L443.9 256.9L441.3 258.3L433.3 261.4L433.3 257.4L436.8 256.4Z"/><path fill="#00f0ab" d="M558.3 155.9L568.2 152L578.1 152L568.8 155.6L563.3 157.4L561.1 157.8L558.1 158.2L556.3 158.1L555.7 157.8L556.3 157ZM567.4 158.8L570.3 158.6L571.2 158.8L571.4 159L571.1 159.5L570.3 160L567.6 161.4L552.1 167.3L548.3 168.4L545.3 168.9L542.6 169L541.6 168.8L541.5 168.5L542.2 167.8L544.8 166.4L557.6 161.4L563.6 159.4ZM553.7 169.5L556.1 169.4L556.9 169.5L557.2 169.8L557 170.3L556.3 170.8L552.3 172.6L542.1 176.7L537.1 178.4L534.3 179.2L531.6 179.6L528.6 179.8L527.6 179.6L527.3 179.4L527.5 179L528.1 178.5L530.8 177.2L542.8 172.4L548.6 170.5ZM540 180.3L542.4 180.3L543 180.6L543.1 180.8L541.6 181.9L538.8 183.2L529.3 186.9L523.1 189.2L517.8 190.4L514.8 190.6L513.8 190.6L513.2 190.3L513.1 190.1L513.6 189.6L516.1 188.3L530.1 182.7L535.6 181ZM526.5 191.1L528.3 191.1L528.8 191.3L528.9 191.6L527.6 192.6L524.8 193.9L511.3 199.2L507.6 200.4L504.1 201.1L500.6 201.4L499.4 201.3L499 201.1L499 200.8L499.6 200.3L502.1 199L516.1 193.5L521.8 191.7ZM510.2 202.1L513.6 201.9L514.6 202.1L514.7 202.3L514 203.1L511.3 204.4L500.6 208.7L495.1 210.7L491.3 211.7L488.3 212.2L485.8 212.2L485 212.1L484.8 211.9L485.4 211.1L488.1 209.7L498.1 205.7L505.8 203ZM496.4 212.9L499.3 212.7L500.3 212.9L500.5 213.1L500.2 213.6L499.3 214.2L496.1 215.7L481.1 221.5L477.6 222.4L474.6 222.9L471.6 223L470.8 222.9L470.6 222.6L471.3 221.9L473.3 220.8L485.3 216L491.8 213.8ZM482.7 223.6L485.3 223.5L486.4 223.9L486.1 224.4L485.3 224.9L482.6 226.3L471.8 230.5L466.3 232.5L463.6 233.2L460.6 233.7L457.3 233.9L456.6 233.7L456.4 233.4L457.3 232.6L459.8 231.3L472.6 226.3L477.8 224.5ZM469 234.4L471.6 234.4L472.1 234.6L472.1 234.9L470.8 235.9L467.3 237.5L452.3 243.2L449.6 244L446.8 244.5L443.8 244.7L442.3 244.4L442.2 244.2L442.7 243.7L445.8 242L458.6 237L463.8 235.3ZM455.4 245.2L457.3 245.2L457.9 245.4L458 245.7L457.1 246.5L455.1 247.5L446.3 251L438.3 254L433.3 255.2L433.3 252.3L433.6 252.1L448.1 246.6L452.1 245.6ZM439.3 256.2L442.8 256L443.7 256.2L443.8 256.4L443.4 256.9L441.6 258L433.3 261.3L433.3 257.6L436.8 256.6Z"/><path fill="#05f078" d="M559.8 155.4L568.4 152L577.9 152L568.6 155.6L563.8 157.1L559.3 157.9L557.3 157.9L556.7 157.8L556.5 157.5L557.2 156.8ZM567 159L569.6 158.9L570.4 159L570.6 159.3L570.3 159.8L569.3 160.4L566.1 161.9L552.3 167.1L548.8 168.1L545.8 168.6L543.1 168.7L542.4 168.5L542.3 168.3L543.1 167.5L545.1 166.5L555.8 162.2L562.3 159.9ZM553.2 169.8L555.6 169.7L556.4 170L556.2 170.5L555.3 171.1L552.1 172.6L538.3 177.9L534.8 178.9L532.1 179.4L529.6 179.6L528.2 179.3L528.1 179L528.6 178.5L530.6 177.4L539.8 173.7L547.6 170.9L550.6 170.2ZM539.5 180.6L541.7 180.6L542.2 180.8L542.2 181.1L541.3 181.8L538.6 183.2L524.3 188.6L520.8 189.6L518.1 190.2L515.3 190.4L514 190.1L514 189.8L514.5 189.3L517.6 187.7L529.1 183.2L535.3 181.2ZM526.1 191.3L527.6 191.4L528 191.6L528.1 191.8L527.1 192.7L525.1 193.7L512.3 198.7L507.8 200.2L504.3 200.9L501.1 201.2L500.2 201.1L499.8 200.8L499.8 200.6L500.4 200.1L502.3 199L515.1 193.9L521.3 192ZM509.8 202.3L512.8 202.1L513.8 202.3L513.9 202.6L512.6 203.7L509.3 205.2L500.3 208.7L495.3 210.5L491.8 211.4L488.8 211.9L486.6 212L485.8 211.9L485.6 211.6L486.3 210.8L488.3 209.7L498.3 205.7L505.6 203.2ZM496 213.1L498.6 213L499.5 213.1L499.7 213.4L499.4 213.9L498.6 214.4L495.8 215.7L487.6 219L481.3 221.2L477.8 222.2L474.8 222.7L472.3 222.8L471.5 222.6L471.4 222.4L472.2 221.6L474.8 220.3L485.6 216L491.6 214ZM482.2 223.9L484.6 223.8L485.2 223.9L485.5 224.1L484.8 224.9L482.3 226.2L474.8 229.3L467.3 232L463.8 233L461.1 233.5L458.6 233.6L457.3 233.4L457.2 233.1L457.7 232.6L459.6 231.6L469.6 227.5L476.6 225L479.6 224.3ZM468.5 234.6L470.8 234.6L471.3 234.9L471.3 235.1L469.8 236.2L467.1 237.5L453.3 242.8L449.8 243.8L447.3 244.2L444.6 244.5L443.1 244.2L443.1 243.9L443.6 243.4L445.6 242.3L456.8 237.8L463.6 235.5ZM455 245.4L456.6 245.5L457.1 245.7L457.2 245.9L455.8 247L453.6 248L446.1 251L438.6 253.8L433.3 255L433.3 252.3L433.8 252.1L442.1 248.8L447.8 246.8L451.6 245.8ZM438.9 256.4L442.1 256.2L442.9 256.4L443 256.7L442.2 257.4L440.1 258.6L433.6 261.1L433.3 261.3L433.3 257.8L435.6 257.1Z"/><path fill="#27f045" d="M560.1 155.4L568.7 152L577.6 152L570.3 154.9L564.1 156.9L559.8 157.6L557.8 157.6L557.4 157.5L557.2 157.3L558.1 156.4ZM566.5 159.3L568.8 159.1L569.7 159.3L569.9 159.5L569.5 160L568.6 160.6L565.8 161.9L557.6 165.1L551.8 167.1L546.3 168.4L543.8 168.5L543.2 168.3L543.1 168.1L543.2 167.8L543.9 167.3L546.6 165.9L553.8 163.1L554.1 162.9L562.1 160.1ZM552.7 170L554.8 169.9L555.7 170.3L555 171L551.8 172.6L543.6 175.9L538.6 177.7L535.1 178.7L532.6 179.1L530.1 179.3L528.9 179L528.9 178.8L529.4 178.3L531.3 177.2L540.1 173.7L548.1 170.9ZM538.9 180.8L540.6 180.7L541.5 181.1L541.4 181.3L540.8 181.8L538.3 183.2L531.1 185.9L530.8 186.2L524.6 188.4L521.1 189.4L518.6 189.9L515.8 190.1L514.7 189.8L514.7 189.6L515.3 189L517.3 188L527.3 183.9L534.1 181.7ZM525.4 191.6L526.8 191.6L527.3 191.8L527.3 192.1L525.8 193.2L523.1 194.4L512.1 198.7L508.1 200L504.8 200.7L501.8 200.9L500.9 200.8L500.5 200.6L501.2 199.8L503.8 198.5L515.3 194L521.1 192.2ZM509.3 202.6L512.3 202.4L513.1 202.6L513.1 202.8L512.3 203.6L509.6 205L502.3 207.7L502.1 208L495.8 210.2L492.1 211.2L489.3 211.7L487.1 211.7L486.5 211.6L486.3 211.4L486.7 210.9L488.6 209.8L493.3 207.8L496.3 206.7L496.6 206.5L504.3 203.7ZM495.5 213.4L498.1 213.2L498.8 213.4L499 213.6L498.1 214.4L495.6 215.7L489.6 218L489.3 218.2L481.8 221L478.1 222L475.3 222.5L473.1 222.5L472.3 222.4L472.2 222.1L473.1 221.3L475.1 220.3L479.1 218.7L479.3 218.5L480.3 218.2L480.6 218L483.6 217L483.8 216.8L490.3 214.5L493.1 213.8ZM481.7 224.1L483.8 224L484.5 224.1L484.8 224.4L484.4 224.9L483.6 225.5L480.3 227L467.8 231.7L464.3 232.7L461.6 233.2L459.1 233.4L458 233.1L458 232.9L458.6 232.3L461.1 231L466.6 228.8L467.6 228.5L467.8 228.3L476.3 225.3L479.1 224.5ZM467.9 234.9L469.8 234.8L470.6 235.1L470.5 235.4L470 235.9L466.8 237.5L460.8 239.8L460.6 240L453.8 242.5L450.3 243.5L447.8 244L445.1 244.2L443.8 243.9L443.8 243.7L444.4 243.2L446.3 242.1L457.1 237.8L463.1 235.8ZM454.4 245.7L456.1 245.7L456.4 245.9L456.4 246.2L455.3 247L453.3 248L444.6 251.5L438.1 253.8L433.3 254.8L433.3 252.4L434.1 252.1L446.6 247.3L451.3 246.1ZM438.4 256.7L441.3 256.5L442.1 256.6L442.2 256.9L441.3 257.7L439.8 258.5L435.1 260.5L433.3 261.1L433.3 257.8Z"/><path fill="#51f11b" d="M560.3 155.4L568.9 152L577.4 152L569.3 155.1L564.6 156.6L560.3 157.4L558.6 157.4L558.1 157.3L558 157L558.8 156.2ZM565.9 159.5L568.3 159.4L569 159.5L569.1 159.8L568.3 160.5L565.6 161.9L553.8 166.4L550.6 167.4L547.1 168.1L544.8 168.2L543.9 168L544 167.5L545.8 166.4L552.3 163.7L560.8 160.6ZM552.1 170.3L554.1 170.2L554.7 170.3L555 170.5L554.1 171.4L551.6 172.6L546.6 174.7L545.6 174.9L545.3 175.2L539.1 177.4L535.6 178.4L533.1 178.9L530.8 179.1L529.6 178.8L529.9 178.3L531.6 177.3L539.6 173.9L547.6 171.2ZM538.3 181.1L540.1 181L540.8 181.3L540.4 181.8L539.6 182.4L536.3 183.9L525.1 188.2L521.6 189.2L519.1 189.7L516.6 189.9L515.8 189.8L515.4 189.6L516.1 188.8L518.1 187.7L527.6 183.9L533.6 182ZM523.1 192L526.1 191.9L526.6 192.1L526.5 192.3L525.1 193.4L522.8 194.4L516.8 196.7L516.6 196.9L514.8 197.5L514.6 197.7L510.3 199.2L506.6 200.2L503.1 200.7L501.6 200.6L501.2 200.3L502.1 199.5L504.1 198.5L509.6 196.2L510.6 196L510.8 195.7L512.6 195.2L512.8 195L519.6 192.7ZM508.8 202.8L511.6 202.6L512.3 202.8L512.4 203.1L510.8 204.2L507.6 205.7L499.8 208.7L495.3 210.2L492.6 211L489.8 211.4L487.8 211.5L487.2 211.4L487.1 211.1L487.9 210.4L490.6 209L496.8 206.5L503.8 204ZM494.9 213.6L497.3 213.4L498.1 213.6L498.2 213.9L496.8 215L493.6 216.5L485.1 219.7L481.3 221L476.1 222.2L473.8 222.3L473 222.1L472.9 221.9L473.1 221.6L474.8 220.5L480.8 218L481.8 217.7L482.1 217.5L489.8 214.8ZM481.1 224.4L483.3 224.3L483.8 224.4L484.1 224.6L483.6 225.1L482.8 225.7L480.1 227L475.3 228.8L475.1 229L473.3 229.5L473.1 229.8L467.3 231.8L462.1 233L459.8 233.1L458.7 232.9L458.7 232.6L459.3 232.1L461.3 231L469.3 227.8L475.8 225.5L478.6 224.8ZM464.8 235.5L469.1 235.1L469.9 235.4L469.1 236.2L466.6 237.5L460.3 240L454.1 242.3L448.3 243.7L445.8 244L445 243.9L444.5 243.7L444.6 243.4L445.3 242.8L447.8 241.5L451.8 240L452.1 239.8L453.1 239.5L453.3 239.3L455.1 238.8L455.3 238.5L461.8 236.3ZM453.7 245.9L455.3 246L455.7 246.2L455.6 246.4L454.6 247.2L453.1 248L447.6 250.3L446.6 250.5L446.3 250.8L444.6 251.3L444.3 251.5L437.6 253.8L433.3 254.6L433.3 252.6L434.3 252.1L442.6 248.8L447.8 247.1L450.8 246.3ZM437.8 256.9L440.8 256.7L441.5 256.9L441.5 257.2L439.6 258.5L433.3 261.1L433.3 258.1L435.6 257.4Z"/><path fill="#8cf50a" d="M564.1 153.9L569.2 152L577.2 152L569.8 154.9L565.1 156.3L561.3 157.1L559.6 157.2L558.8 157L558.7 156.8L558.9 156.5L560.6 155.4ZM565.3 159.8L567.6 159.6L568.3 159.8L568.4 160L567.3 160.9L563.6 162.6L553.6 166.4L550.1 167.4L547.6 167.9L545.3 168L544.5 167.8L544.8 167.3L546.6 166.2L551.3 164.1L552.3 163.9L552.6 163.6L560.3 160.9ZM551.5 170.5L553.6 170.4L554.1 170.5L554.2 170.8L552.8 171.9L549.6 173.4L539.6 177.1L536.1 178.1L533.6 178.7L531.3 178.8L530.3 178.5L530.4 178.3L531.1 177.7L533.1 176.7L537.8 174.7L539.6 174.2L539.8 173.9L546.3 171.7L549.1 170.9ZM537.7 181.3L539.3 181.2L540.1 181.6L539.7 182.1L538.8 182.6L536.1 183.9L525.6 187.9L519.8 189.4L517.3 189.7L516.5 189.6L516.1 189.3L516.6 188.8L518.3 187.8L527.1 184.2L533.1 182.2ZM522.3 192.3L525.3 192.1L525.9 192.3L525.8 192.6L525.1 193.2L522.6 194.4L518.3 196.2L516.6 196.7L516.3 197L514.6 197.5L514.3 197.7L509.8 199.2L505.8 200.2L503.1 200.5L502.1 200.3L502 200.1L502.8 199.3L504.3 198.5L509.1 196.5L510.8 195.9L511.1 195.7L512.8 195.2L513.1 195L519.1 193ZM506.1 203.5L510.6 202.9L511.7 203.1L511.7 203.3L511.1 203.9L508.6 205.2L502.3 207.7L496.6 209.7L493.1 210.7L490.6 211.2L488.6 211.3L487.8 211L488 210.6L489.3 209.7L492.6 208.2L494.8 207.5L495.1 207.2L502.6 204.5ZM494.3 213.9L496.8 213.7L497.5 213.9L497.5 214.1L496.1 215.2L493.3 216.5L482.6 220.5L479.1 221.5L476.6 222L474.6 222.1L473.6 221.9L473.8 221.4L475.6 220.3L479.1 218.8L482.1 217.7L482.3 217.5L489.3 215ZM480.5 224.6L482.6 224.5L483.2 224.6L483.3 224.9L482.3 225.7L479.8 227L468.6 231.3L462.8 232.7L460.6 232.9L459.4 232.6L459.7 232.1L461.6 231L465.1 229.5L466.1 229.3L466.3 229L469.3 228L469.6 227.8L475.3 225.8ZM466.7 235.4L468.6 235.3L469.2 235.6L468.8 236.1L467.8 236.8L464.6 238.3L454.6 242L448.8 243.5L446.3 243.7L445.6 243.7L445.2 243.4L446.1 242.6L448.1 241.5L454.8 238.8L461.3 236.5L464.3 235.8ZM450.3 246.5L454.3 246.1L455 246.4L454.6 246.9L452.8 248L444.1 251.6L438.1 253.5L433.3 254.5L433.3 252.7L434.6 252.1L438.8 250.3L440.6 249.8L440.8 249.5L446.6 247.5ZM437.3 257.2L439.8 256.9L440.8 257.2L440.5 257.7L439.3 258.4L433.3 261.1L433.3 258.1Z"/><path fill="#c1f600" d="M564.3 153.9L569.4 152L577 152L574.3 153.1L572.6 153.6L572.3 153.9L565.6 156.1L561.8 156.9L560.1 156.9L559.4 156.8L559.6 156.3L561.3 155.2ZM564.7 160L567.1 159.8L567.7 160L567.7 160.3L566.6 161.1L564.6 162.1L559.8 163.9L559.6 164.1L554.1 166.1L550.6 167.1L548.1 167.6L546.1 167.8L545.2 167.5L545.5 167L547.3 165.9L552.1 163.9L553.8 163.4L554.1 163.1L559.8 161.2ZM550.8 170.8L552.8 170.6L553.5 170.8L553.5 171L552.1 172.1L549.3 173.4L543.8 175.4L543.6 175.6L538.3 177.4L534.1 178.4L531.8 178.6L531 178.3L531.4 177.8L532.8 176.9L536.8 175.2L537.8 174.9L538.1 174.7L545.8 171.9ZM537 181.6L538.8 181.5L539.4 181.8L538.5 182.6L535.8 183.9L531.1 185.7L530.8 185.9L529.1 186.4L528.8 186.7L524.3 188.2L521.6 188.9L518.8 189.4L517.3 189.4L516.8 189.1L517.6 188.3L519.8 187.2L525.1 185.2L525.3 184.9L531.8 182.7L534.6 181.9ZM523.2 192.3L524.6 192.3L525.2 192.6L524.8 193.1L523.8 193.7L520.6 195.2L510.3 199L507.6 199.7L504.8 200.2L503.1 200.2L502.8 200.1L502.7 199.8L503.6 199.1L505.1 198.3L513.3 195L519.6 193ZM509.6 203.1L510.8 203.2L511 203.3L510.9 203.6L508.8 204.9L504.1 206.9L502.3 207.5L502.1 207.7L497.1 209.5L493.6 210.5L490.8 211L489.3 211L488.5 210.9L488.7 210.4L490.6 209.2L494.6 207.5L496.3 207L496.6 206.7L498.3 206.2L498.6 206L505.6 203.7ZM491.6 214.5L495.8 213.9L496.8 214.1L496.8 214.4L496.1 215L493.1 216.5L483.8 220L480.6 221L477.3 221.7L475.1 221.9L474.3 221.6L474.6 221.1L475.6 220.5L479.3 218.8L480.3 218.5L480.6 218.2L488.1 215.5ZM479.8 224.9L482.1 224.7L482.6 224.9L482.6 225.1L481.6 226L479.6 227L469.1 231L463.3 232.5L461.1 232.7L460.1 232.4L460.5 231.9L461.8 231.1L465.3 229.5L467.6 228.8L467.8 228.5L474.8 226ZM466 235.6L467.8 235.6L468.3 235.6L468.5 235.9L467.1 237L464.3 238.3L455.1 241.8L449.3 243.3L446.8 243.5L446.2 243.4L445.9 243.2L446.8 242.3L448.3 241.5L453.1 239.6L454.8 239L455.1 238.8L460.8 236.8L463.6 236.1ZM452.2 246.4L453.8 246.4L454.3 246.7L453.8 247.2L452.1 248.2L449.1 249.5L448.1 249.8L447.8 250L444.8 251L444.6 251.3L438.6 253.3L435.6 254L433.3 254.3L433.3 252.8L436.6 251.3L446.1 247.8L449.6 246.8ZM435.8 257.6L439.6 257.2L440.1 257.4L439.8 257.9L438.3 258.8L435.1 260.3L433.3 260.9L433.3 258.3Z"/><path fill="#ebf200" d="M562.8 154.6L569.6 152L576.7 152L574.3 152.9L574.1 153.1L572.3 153.6L572.1 153.9L566.1 155.9L562.6 156.6L560.8 156.7L560 156.5L560.1 156.3L560.8 155.7ZM564.1 160.3L566.1 160.1L567.1 160.3L567 160.5L566.3 161.1L564.3 162.1L560.1 163.9L554.6 165.8L548.8 167.4L546.6 167.6L545.8 167.3L546.2 166.8L547.6 166L550.8 164.6L551.1 164.4L552.1 164.1L552.3 163.9L559.3 161.4ZM550.2 171L552.3 170.9L552.9 171L552.9 171.3L551.8 172.1L549.1 173.4L545.6 174.7L545.3 174.9L543.6 175.4L543.3 175.7L538.8 177.2L536.1 177.9L533.3 178.4L532.1 178.3L531.7 178L532.1 177.5L533.6 176.7L537.6 175L539.3 174.4L539.6 174.2L545.3 172.2ZM536.3 181.8L538.1 181.7L538.6 181.8L538.7 182.1L537.6 182.9L533.8 184.7L524.8 187.9L519.6 189.1L517.8 189.1L517.5 188.8L518.6 187.9L520.6 186.9L525.6 184.9L527.3 184.4L527.6 184.2L533.1 182.4ZM522.5 192.6L524.1 192.5L524.5 192.8L523.6 193.7L521.6 194.7L516.8 196.5L516.6 196.7L511.6 198.5L507.1 199.7L505.3 200L503.4 199.8L503.3 199.6L503.6 199.3L504.8 198.5L508.3 197L510.6 196.2L510.8 196L518.1 193.5ZM507.3 203.5L509.8 203.3L510.4 203.6L510 204.1L508.6 204.9L501.8 207.7L496.8 209.5L493.1 210.5L490.1 210.8L489.1 210.6L489.4 210.1L491.3 209L498.1 206.2L504.1 204.2ZM493.1 214.4L495.3 214.1L496.2 214.4L496.1 214.6L495.3 215.2L492.8 216.5L483.6 220L477.8 221.5L475.8 221.6L474.9 221.4L475.3 220.9L476.3 220.2L479.6 218.7L481.8 218L482.1 217.7L489.3 215.2ZM479.2 225.1L481.3 225L482 225.1L481.9 225.4L480.8 226.2L477.6 227.8L469.6 230.7L463.8 232.3L461.6 232.5L461 232.4L460.8 232.1L461.2 231.6L462.6 230.8L466.1 229.3L469.1 228.3L469.3 228L476.1 225.8ZM465.3 235.9L467.3 235.8L467.7 235.9L467.8 236.1L466.3 237.2L463.6 238.5L454.8 241.7L451.1 242.8L448.6 243.2L447.1 243.2L446.7 243.2L446.6 242.9L447.6 242.1L449.1 241.3L455.3 238.8L462.1 236.6ZM449.1 247.1L453.1 246.6L453.4 246.7L453.6 246.9L453.1 247.5L450.6 248.8L446.6 250.3L446.3 250.5L444.6 251.1L444.3 251.3L437.3 253.5L434.6 254L433.3 254.1L433.4 252.9L437.3 251.1L445.6 248ZM437.7 257.4L439.1 257.4L439.5 257.7L439 258.2L437.6 259.1L433.3 260.8L433.3 258.3Z"/><path fill="#ffdf00" d="M563.6 154.4L569.8 152L576.5 152L572.8 153.4L572.6 153.6L566.6 155.6L563.3 156.4L561.3 156.5L560.7 156.3L561.6 155.4ZM565.5 160.3L566.4 160.5L566 161L565.1 161.6L562.3 162.9L560.1 163.7L559.8 163.9L558.1 164.4L557.8 164.6L550.6 166.9L547.6 167.3L546.8 167.3L546.5 167L547.8 166L550.1 164.9L553.6 163.6L553.8 163.4L556.3 162.6L556.6 162.4L562.6 160.6ZM549.5 171.3L551.6 171.1L552.2 171.3L552.2 171.5L551.5 172L548.8 173.4L544.1 175.2L543.8 175.4L539.3 176.9L536.6 177.7L534.1 178.1L532.6 178.1L532.3 177.8L532.8 177.3L534.3 176.4L539.8 174.2L544.8 172.4ZM535.6 182.1L537.6 181.9L538 182.1L538 182.3L537.3 182.9L534.8 184.2L531.3 185.4L531.1 185.7L525.3 187.7L520.3 188.9L518.2 188.8L518.2 188.6L518.4 188.3L519.3 187.7L522.6 186.2L524.8 185.4L525.1 185.2L531.6 183ZM521.8 192.8L523.3 192.7L523.8 192.8L523.9 193.1L522.8 193.9L519.6 195.4L511.3 198.5L506.3 199.7L504.6 199.8L504 199.6L504.3 199L505.6 198.3L510.3 196.2L517.6 193.7ZM508 203.6L509.3 203.6L509.7 203.8L508.3 204.9L506.1 206L498.1 209L492.3 210.5L490.6 210.6L489.8 210.4L490.2 209.9L491.6 209L495.1 207.5L496.1 207.2L496.3 207L498.1 206.5L498.3 206.2L503.6 204.5ZM492.8 214.5L495.1 214.4L495.5 214.6L494.6 215.5L492.6 216.5L487.6 218.5L485.8 219L485.6 219.2L481.6 220.5L478.6 221.2L476.3 221.4L475.6 221.1L476.1 220.6L478.1 219.5L482.3 217.7L483.3 217.5L483.6 217.3L489.6 215.3ZM478.6 225.4L480.6 225.2L481.3 225.4L481.3 225.6L480.6 226.2L479.1 227L470.1 230.5L464.6 232L462.3 232.2L461.6 232.1L461.4 231.9L462.8 230.9L466.3 229.3L467.3 229L467.6 228.8L473.8 226.5ZM464.7 236.1L466.6 236L467.1 236.1L467.1 236.4L466.1 237.2L463.3 238.5L456.1 241.2L450.6 242.8L448.8 243L447.3 242.9L447.3 242.7L447.5 242.4L448.8 241.6L452.8 239.8L454.6 239.3L454.8 239L461.6 236.8ZM450.8 246.9L452.6 246.8L452.9 246.9L453 247.2L452.3 247.8L449.8 249L442.1 252L436.6 253.6L435.1 253.8L433.3 253.8L433.3 253.3L434.3 252.6L437.6 251.1L438.6 250.8L438.8 250.6L445.8 248.1L448.6 247.3ZM434.6 258.1L438.3 257.6L438.8 257.9L437.3 259.1L433.3 260.8L433.3 258.5Z"/><path fill="#ffbe00" d="M563.8 154.4L570 152L576.3 152L572.3 153.6L567.1 155.4L563.8 156.1L562.1 156.3L561.3 156L561.8 155.5ZM560.8 161.2L565.3 160.5L565.8 160.8L565.3 161.3L563.8 162.1L560.3 163.6L558.6 164.1L558.3 164.4L553.1 166.1L550.1 166.9L547.8 167.1L547.3 167L547.2 166.8L547.8 166.2L550.3 164.9L554.1 163.4L555.8 162.9L556.1 162.7ZM548.9 171.5L550.8 171.3L551.6 171.5L551.1 172.1L549.8 172.8L546.8 174.2L545.8 174.4L545.6 174.7L543.8 175.2L543.6 175.4L539.1 176.9L536.1 177.7L534.3 177.9L533 177.8L533 177.5L533.2 177.3L534.1 176.7L538.1 174.9L544.3 172.7ZM535 182.3L536.8 182.1L537.4 182.3L537.1 182.8L535.1 183.9L529.6 186.2L529.1 186.2L528.8 186.4L525.1 187.7L522.1 188.4L520.6 188.7L518.8 188.6L519.1 188.1L520.6 187.2L525.3 185.2L531.1 183.2ZM521.1 193.1L522.8 193L523.2 193.1L523.2 193.3L522.1 194.2L519.3 195.5L511.8 198.2L506.8 199.4L505.1 199.5L504.6 199.3L505.6 198.5L508.1 197.2L510.3 196.5L510.6 196.2L517.1 194ZM507.2 203.8L508.6 203.8L508.9 203.8L509 204.1L508.3 204.7L505.8 206L497.8 209L493.1 210.2L491.1 210.4L490.4 210.1L490.9 209.6L492.3 208.8L497.8 206.5L503.1 204.7ZM493.4 214.6L494.6 214.6L494.9 214.9L494.3 215.4L492.3 216.5L488.3 218L488.1 218.2L484.8 219.3L484.6 219.5L484.1 219.5L483.8 219.7L480.3 220.7L477.3 221.2L476.4 221.1L476.2 220.9L476.8 220.3L478.3 219.5L481.6 218.2L481.8 218L483.6 217.5L483.8 217.2L489.1 215.5ZM477.9 225.6L480.1 225.4L480.7 225.6L479.8 226.4L478.3 227.2L470.6 230.2L465.1 231.8L463.3 232L462.2 231.9L462.1 231.6L462.3 231.4L463.3 230.8L467.8 228.8L473.3 226.8ZM464 236.4L465.8 236.2L466.5 236.4L466.4 236.6L465.8 237.2L463.1 238.5L456.6 241L451.3 242.5L449.6 242.8L447.9 242.7L448.2 242.2L449.1 241.6L453.1 239.8L459.3 237.6ZM450.1 247.2L451.8 247L452.3 247.2L452.3 247.4L451.1 248.3L447.8 249.8L440.1 252.6L436.1 253.5L434.3 253.6L433.7 253.4L434.1 252.9L435.6 252.1L439.1 250.5L440.1 250.3L440.3 250.1L445.3 248.3ZM436.2 257.9L437.8 257.9L438 257.9L438.1 258.2L436.6 259.3L433.3 260.6L433.3 258.6Z"/><path fill="#ff9900" d="M564.1 154.4L570.2 152L576.1 152L573.1 153.1L572.8 153.4L566.8 155.3L563.1 156.1L562.2 156L562 155.8L562.6 155.2ZM563.6 160.8L564.8 160.7L565.1 161L564.1 161.8L561.3 163.1L555.3 165.3L550.6 166.7L549.1 166.9L547.9 166.8L547.8 166.5L548.6 165.9L553.6 163.7L560.3 161.4ZM546.3 172.2L550.6 171.5L551 171.8L550.3 172.4L548.3 173.4L544.3 174.9L544.1 175.1L537.8 177.2L535.3 177.6L533.6 177.5L533.9 177L535.3 176.2L539.6 174.4L541.3 173.9L541.6 173.7ZM534.3 182.6L536.1 182.4L536.8 182.6L536.3 183.1L534.3 184.2L526.3 187.2L521.6 188.4L520.1 188.5L519.4 188.3L519.8 187.8L520.8 187.2L524.8 185.4L530.6 183.4ZM520.4 193.3L521.8 193.2L522.6 193.3L522.2 193.8L520.3 194.9L512.3 198L507.6 199.2L505.8 199.3L505.2 199.1L505.8 198.5L507.8 197.5L512.1 195.7L516.6 194.2ZM506.5 204.1L508.1 204L508.4 204.1L508.4 204.3L507.6 205L505.1 206.2L498.3 208.7L493.6 210L491.8 210.2L491.3 210.1L491.1 209.9L492.6 208.8L496.1 207.2L497.8 206.7L498.1 206.5L502.6 205ZM492.7 214.9L493.8 214.8L494.2 215.1L493.6 215.7L491.6 216.7L487.8 218.2L485.3 219L485.1 219.2L479.8 220.7L478.1 221L477 220.9L476.9 220.6L477.2 220.4L478.1 219.8L483.3 217.5L488.6 215.7ZM475.3 226.3L479.7 225.6L480.1 225.9L478.6 227L475.1 228.5L474.1 228.8L473.8 229L466.8 231.3L464.3 231.7L462.7 231.6L463.1 231.1L464.1 230.5L469.3 228.3ZM463.3 236.6L465.3 236.4L465.9 236.6L465.3 237.2L462.8 238.5L456.3 241L453.8 241.8L450.6 242.5L449.1 242.6L448.5 242.4L448.9 241.9L449.8 241.4L453.3 239.8L454.3 239.5L454.6 239.3L457.1 238.5L457.3 238.3L457.8 238.3L458.1 238L458.6 238L458.8 237.8ZM449.4 247.4L451.1 247.3L451.7 247.4L451.3 247.9L449.3 249L442.3 251.7L439.8 252.5L436.6 253.3L434.8 253.4L434.3 253.2L434.8 252.7L436.3 251.8L440.6 250L445.6 248.3ZM433.3 258.6L437.1 258.1L437.5 258.2L437.5 258.4L435.8 259.5L433.3 260.6Z"/><path fill="#ff6d00" d="M564.3 154.4L570.5 152L575.9 152L572.6 153.4L567.3 155.1L563.8 155.8L562.7 155.8L562.6 155.5L562.9 155.3ZM562.9 161L564.1 160.9L564.4 161L564.5 161.3L563.3 162.1L561.1 163.1L555.8 165.1L551.3 166.4L549.6 166.6L548.5 166.5L548.5 166.3L549.3 165.7L553.8 163.6L559.8 161.6ZM549.1 171.8L550.1 171.8L550.3 172L549.6 172.6L547.6 173.7L544.1 174.9L543.8 175.2L537.3 177.2L535.8 177.4L534.3 177.3L534.7 176.8L535.6 176.2L541.1 173.9L545.8 172.4ZM533.7 182.8L535.6 182.6L536.1 182.8L535.6 183.3L533.6 184.4L526.1 187.2L522.1 188.2L520.6 188.3L520.1 188.1L521.6 187L525.1 185.4L530.1 183.7ZM516.8 194.2L521.3 193.4L522 193.6L521.1 194.4L518.3 195.7L512.1 198L508.3 198.9L506.6 199.1L506.1 199L505.9 198.8L506.6 198.2L508.6 197.2L512.1 195.9L512.3 195.7ZM502.8 205L507.1 204.2L507.7 204.3L507.3 204.9L504.8 206.2L499.6 208.2L494.3 209.7L492.8 209.9L491.8 209.9L491.7 209.6L492.8 208.8L496.3 207.2ZM491.9 215.1L493.3 215.1L493.5 215.1L493.6 215.4L491.3 216.7L484.8 219.2L480.3 220.5L478.8 220.7L477.6 220.6L477.9 220.1L478.8 219.5L483.6 217.5L488.8 215.8ZM474.8 226.5L479.1 225.8L479.4 226.1L477.8 227.2L473.6 229L471.1 229.8L470.8 230L470.3 230L470.1 230.2L466.3 231.3L464.8 231.5L463.4 231.4L463.8 230.8L464.8 230.3L468.8 228.5ZM462.7 236.9L464.6 236.7L465.2 236.9L464.6 237.5L462.1 238.8L456.1 241L451.3 242.2L449.6 242.3L449.2 242.2L450.6 241.1L454.8 239.3L459.1 237.8ZM448.8 247.7L450.6 247.5L451.1 247.7L450.6 248.2L448.6 249.3L445.1 250.6L444.8 250.8L440.3 252.3L437.3 253L435.6 253.2L435 252.9L436.6 251.8L440.1 250.3L445.1 248.6ZM433.3 258.8L436.3 258.3L436.9 258.4L436.8 258.7L436.1 259.2L433.3 260.6Z"/><path fill="#ff4201" d="M565.1 154.2L570.7 152L575.7 152L573.1 153.1L567.8 154.9L564.6 155.6L563.3 155.5L563.6 155ZM562.2 161.3L563.8 161.3L563.5 161.8L562.6 162.3L558.3 164.1L551.8 166.2L550.3 166.4L549.1 166.3L550.1 165.4L554.1 163.6L558.3 162.2ZM546.1 172.5L549.3 172L549.6 172.3L548.3 173.2L545.6 174.4L539.8 176.4L536.6 177.2L535.3 177.2L534.9 177L536.3 176L541.3 173.9ZM534.7 182.8L535.3 182.9L535.5 183.1L533.8 184.2L529.8 185.7L529.6 185.9L525.8 187.2L522.8 187.9L521.1 188L520.7 187.8L522.3 186.7L525.3 185.4L526.3 185.2L526.6 184.9L532.1 183.2ZM519.1 193.8L520.8 193.6L521.3 193.8L520.3 194.6L518.1 195.7L512.6 197.7L508.8 198.7L507.1 198.9L506.6 198.6L507.8 197.7L510.6 196.5L516.3 194.5ZM502.3 205.2L506.6 204.4L507.1 204.6L506.6 205.2L504.6 206.2L500.8 207.7L500.3 207.7L500.1 208L494.8 209.5L493.3 209.7L492.4 209.6L492.4 209.4L492.7 209.1L493.6 208.6L497.8 206.7ZM491.3 215.4L492.9 215.4L492.6 215.9L491.1 216.7L485.3 219L481.1 220.2L479.3 220.5L478.2 220.4L478.6 219.9L479.6 219.3L483.1 217.8L488.3 216ZM477.4 226.1L478.6 226.1L478.7 226.4L477.6 227.2L475.3 228.2L470.6 230L465.8 231.2L464.6 231.3L464 231.1L464.6 230.6L465.6 230L468.8 228.7L469.1 228.5L474.3 226.8ZM461.3 237.3L464.3 236.9L464.6 237.2L463.8 237.8L462.3 238.5L459.6 239.5L459.3 239.8L453.1 241.8L450.6 242.1L449.8 241.9L450.6 241.3L452.6 240.3L456.3 238.8L456.8 238.8L457.1 238.5ZM448.1 247.9L449.8 247.7L450.4 247.9L449.3 248.8L446.6 250L440.8 252.1L436.6 253L435.8 252.9L435.7 252.7L437.3 251.6L440.3 250.3L444.6 248.8ZM433.3 258.8L435.6 258.5L436.2 258.7L435.3 259.5L433.3 260.3Z"/><path fill="#ff1c0a" d="M565.3 154.2L571 152L575.4 152L572.8 153.1L568.3 154.6L565.1 155.4L563.9 155.3L564.3 154.8ZM561.6 161.5L563.2 161.5L562.6 162.1L560.6 163.1L556.1 164.8L551.3 166.1L549.7 166L550.8 165.2L553.6 163.9L557.8 162.4ZM545.6 172.7L548.8 172.3L548.9 172.5L547.6 173.4L545.3 174.4L540.3 176.2L537.3 176.9L536.1 177L535.6 176.8L536.3 176.2L538.3 175.2L541.3 174.1L541.6 173.9ZM531.6 183.5L534.6 183.1L534.8 183.3L533.1 184.4L529.3 185.9L526.3 186.9L523.3 187.7L521.8 187.8L521.4 187.6L523.1 186.5L526.8 184.9ZM515.8 194.7L520.1 193.9L520.6 194.1L519.8 194.7L517.8 195.7L514.6 197L509.6 198.4L507.3 198.6L507.3 198.3L508.1 197.7L510.8 196.5ZM501.8 205.5L505.8 204.7L506.5 204.8L505.8 205.4L504.3 206.2L499.8 208L495.6 209.2L494.1 209.4L493 209.4L493.1 209.1L494.1 208.5L498.1 206.7ZM490.6 215.6L492.3 215.6L491.8 216.1L490.3 216.9L485.1 219L480.3 220.2L478.8 220.1L479.8 219.3L483.3 217.8L487.8 216.2ZM476.7 226.4L477.8 226.3L478 226.4L478 226.6L475.1 228.2L470.3 230L466.3 231L465.1 231.1L464.7 230.9L466.3 229.8L469.3 228.5L473.8 227ZM460.6 237.6L463.7 237.2L463.9 237.4L462.1 238.5L459.1 239.8L453.6 241.5L451.1 241.9L450.5 241.7L452.8 240.3L456.6 238.8ZM447.5 248.2L449.3 247.9L449.7 248.2L448.1 249.3L444.3 250.8L439.6 252.3L437.3 252.7L436.4 252.7L436.3 252.4L437.1 251.9L439.3 250.8L444.1 249.1ZM433.3 259L435.1 258.8L435.6 258.9L435 259.4L433.3 260.3Z"/><path fill="#ff0f2c" d="M566.1 154L571.2 152L575.1 152L572.6 153.1L568.1 154.6L565.8 155.1L564.6 155L565.1 154.5ZM561 161.8L562.5 161.8L561.8 162.4L560.3 163.1L554.8 165.1L551.8 165.9L550.4 165.8L551.6 164.9L553.8 163.9L557.3 162.7ZM547.1 172.5L548.3 172.5L547.8 173.1L546.8 173.6L543.1 175.2L538.1 176.6L536.6 176.7L536.3 176.5L538.1 175.4L541.1 174.2L545.1 172.9ZM531.1 183.7L534 183.3L534.1 183.6L532.8 184.4L529.1 185.9L524.1 187.4L522.6 187.6L522.3 187.6L522.1 187.3L523.3 186.5L527.1 184.9ZM515.3 195L519.6 194.1L519.9 194.3L517.6 195.7L513.6 197.2L510.1 198.2L508 198.3L508 198.1L508.8 197.5L511.1 196.5ZM501.3 205.7L505.3 204.9L505.8 205.1L504.1 206.2L499.6 208L496.1 209L494.6 209.2L493.7 209.1L493.8 208.9L494.8 208.2L497.6 207ZM490 215.9L491.6 215.9L491.1 216.4L490.1 216.9L485.6 218.7L481.1 219.9L479.5 219.9L480.6 219.1L483.6 217.8L488.1 216.3ZM476.1 226.6L477.4 226.6L477 227.1L475.3 228L470.8 229.7L467.1 230.7L465.8 230.8L465.4 230.6L466.6 229.8L469.6 228.5L474.1 227ZM460.1 237.8L463.1 237.4L463.2 237.7L461.8 238.5L458.8 239.8L453.1 241.5L451.6 241.7L451.2 241.4L453.1 240.3L456.8 238.8ZM446.9 248.4L448.6 248.2L449 248.4L447.8 249.2L444.1 250.8L439.1 252.3L437.1 252.4L437.1 252.2L437.4 251.9L439.6 250.8L443.6 249.3ZM433.3 259.2L434.3 259L434.9 259.2L433.3 260.2Z"/><path fill="#ff458f" d="M567.6 153.4L571.5 152L574.8 152L572.3 153.1L568.6 154.4L566.3 154.8L565.3 154.8L565.9 154.3ZM560.4 162L561.8 162L561.1 162.6L560.1 163.1L555.3 164.9L552.3 165.6L551.2 165.5L551.8 165L554.1 163.9L558.6 162.4ZM546.5 172.8L547.5 172.8L547.1 173.3L546.1 173.9L542.1 175.4L538.6 176.4L537.3 176.5L537 176.3L538.3 175.4L541.3 174.2L544.6 173.2ZM530.6 183.9L533.2 183.6L533.3 183.8L531.3 184.9L528.8 185.9L524.6 187.2L523.1 187.3L522.9 187.1L524.8 185.9L527.3 184.9ZM514.8 195.2L518.8 194.4L519.2 194.6L517.3 195.7L514.1 196.9L510.6 197.9L508.7 198.1L509.1 197.6L511.3 196.5ZM503.4 205.3L504.6 205.2L505 205.3L503.3 206.4L499.3 207.9L496.6 208.7L495.3 208.9L494.5 208.9L495.6 208L498.6 206.7ZM489.4 216.1L490.9 216.1L490.3 216.6L488.6 217.5L485.3 218.7L481.6 219.7L480.3 219.6L481.6 218.7L483.8 217.8L487.6 216.5ZM475.5 226.9L476.6 226.9L476.6 227.1L475.1 228L471.3 229.4L467.6 230.5L466.6 230.6L466.1 230.4L467.3 229.6L469.8 228.5L473.6 227.3ZM459.6 238.1L462.4 237.7L462.4 237.9L461.1 238.7L458.6 239.8L453.6 241.3L452.3 241.4L452 241.2L453.3 240.3L457.1 238.8ZM443.8 249.3L447.8 248.5L448.3 248.7L447.1 249.4L443.8 250.8L439.8 252L437.8 252.2L437.8 251.9L438.3 251.6L441.1 250.3ZM433.3 259.4L433.6 259.3L434.1 259.4L433.3 260Z"/><path fill="#ff7bc1" d="M567.8 153.4L571.9 152L574.5 152L569.8 153.9L567.1 154.5L566.1 154.5L566.3 154.2ZM559.9 162.3L561 162.3L559.8 163.1L556.6 164.4L553.1 165.3L552 165.3L552.6 164.8L555.1 163.6L558.1 162.7ZM544.1 173.4L546.7 173L546.7 173.3L545.1 174.2L542.6 175.1L539.1 176.1L538.1 176.2L537.8 176L539.1 175.2L541.6 174.2ZM530.8 184.1L532.3 183.8L532.5 184.1L531.1 184.9L527.8 186.2L525.1 186.9L523.8 187L523.7 186.8L526.3 185.4ZM514.3 195.5L518.1 194.7L518.4 194.8L517.1 195.6L513.8 196.9L511.1 197.7L509.5 197.8L509.5 197.6L509.9 197.3L511.6 196.5ZM502.9 205.6L504.2 205.6L502.3 206.7L499.8 207.7L497.1 208.5L495.3 208.6L495.8 208.1L497.6 207.2L500.3 206.2ZM489 216.4L490.1 216.4L488.3 217.5L484.8 218.7L482.1 219.4L481.1 219.4L481.8 218.8L484.1 217.8L487.1 216.8ZM473.1 227.5L475.8 227.1L475.8 227.4L474.8 228L472.3 229L468.1 230.2L466.9 230.1L468.3 229.3L470.1 228.5ZM459.9 238.2L461.3 237.9L461.6 238.2L459.6 239.3L456.1 240.5L454.1 241L453.1 241.1L452.7 240.9L453.6 240.4L456.1 239.3ZM445.9 248.9L447.1 248.8L447.5 248.9L446.1 249.8L443.6 250.8L440.3 251.7L438.7 251.9L438.6 251.7L439.1 251.4L441.3 250.3Z"/><path fill="#ffa1de" d="M568.1 153.5L572.3 152L574 152L570.3 153.6L567.2 154.3L567.2 154ZM557.6 162.9L559.9 162.5L559.9 162.8L557.6 163.9L554.6 164.9L552.9 165L553.6 164.5L555.3 163.7ZM544.3 173.5L545.6 173.4L545.8 173.5L543.6 174.6L541.3 175.4L539.6 175.8L538.7 175.8L539.6 175.2L541.3 174.4ZM530.4 184.3L531.3 184.2L531.7 184.3L529.6 185.4L527.3 186.2L525.6 186.6L524.5 186.6L526.6 185.5ZM516.4 195.1L517.5 195.1L516.1 195.9L513.3 196.9L511.6 197.4L510.6 197.5L510.4 197.3L512.6 196.2ZM502.5 205.8L503.3 205.8L502.6 206.4L500.1 207.5L497.6 208.2L496.3 208.3L496.3 208.1L497.8 207.3L500.8 206.2ZM485.1 217.5L489.1 216.6L489 216.9L486.1 218.2L483.6 219L482 219.1L482.6 218.6ZM473.4 227.6L474.6 227.4L474.9 227.6L473.3 228.5L471.3 229.2L468.6 229.9L467.8 229.9L469.8 228.8ZM456.3 239.3L460.3 238.3L460.8 238.4L459.3 239.2L456.6 240.2L454.6 240.7L453.6 240.7ZM445.5 249.2L446.6 249.2L444.6 250.3L442.6 251L440.6 251.5L439.8 251.6L439.5 251.4L442.3 250.1Z"/><path fill="#ffb5ec" d="M572 152.3L573 152.3L570.6 153.3L568.8 153.8L568.2 153.8L569.8 152.9ZM558.1 163L558.9 163L557.8 163.6L555.8 164.3L554.8 164.6L554.1 164.5L555.8 163.7ZM544.1 173.8L544.7 173.8L543.8 174.3L541.8 175.1L540.8 175.4L540 175.3L541.8 174.4ZM530.3 184.6L530.3 184.8L529.8 185.1L527.8 185.9L526.1 186.2L525.8 186.1L528.3 185ZM515.1 195.6L516.1 195.4L516.2 195.6L513.8 196.6L511.5 197.1L512.3 196.5ZM501.1 206.3L502.1 206.3L499.6 207.4L497.8 207.9L497.3 207.8L498.8 207.1ZM487.1 217.1L488 217.1L487.1 217.6L484.8 218.4L483.8 218.7L483.2 218.6L484.8 217.8ZM473.2 227.9L473.8 227.9L472.3 228.7L470.8 229.2L469.8 229.5L469 229.4L470.8 228.6ZM456.8 239.3L459.6 238.7L459.4 238.9L457.6 239.7L455.8 240.2L455.1 240.3L454.9 240.2ZM442.1 250.3L445.1 249.5L445.3 249.7L442.8 250.7L440.6 251.2Z"/></g>
<path d="M26.1 152V265.2H179.4" fill="none" stroke="#8c7a96" stroke-opacity=".35" stroke-width=".6"/><text class="s" x="26.1" y="276.8" text-anchor="middle" font-size="9.3" fill="#3c3c3c" stroke="#3c3c3c" stroke-width=".1">-20</text><text class="s" x="24" y="268.9" text-anchor="end" font-size="9.3" fill="#3c3c3c" stroke="#3c3c3c" stroke-width=".1">-20</text><text class="s" x="64.4" y="276.8" text-anchor="middle" font-size="9.3" fill="#3c3c3c" stroke="#3c3c3c" stroke-width=".1">-10</text><text class="s" x="24" y="240.6" text-anchor="end" font-size="9.3" fill="#3c3c3c" stroke="#3c3c3c" stroke-width=".1">-10</text><text class="s" x="102.8" y="276.8" text-anchor="middle" font-size="9.3" fill="#3c3c3c" stroke="#3c3c3c" stroke-width=".1">0</text><text class="s" x="24" y="212.3" text-anchor="end" font-size="9.3" fill="#3c3c3c" stroke="#3c3c3c" stroke-width=".1">0</text><text class="s" x="141.1" y="276.8" text-anchor="middle" font-size="9.3" fill="#3c3c3c" stroke="#3c3c3c" stroke-width=".1">10</text><text class="s" x="24" y="184" text-anchor="end" font-size="9.3" fill="#3c3c3c" stroke="#3c3c3c" stroke-width=".1">10</text><text class="s" x="179.4" y="276.8" text-anchor="middle" font-size="9.3" fill="#3c3c3c" stroke="#3c3c3c" stroke-width=".1">20</text><text class="s" x="24" y="155.7" text-anchor="end" font-size="9.3" fill="#3c3c3c" stroke="#3c3c3c" stroke-width=".1">20</text><text class="s" x="102.8" y="287.6" text-anchor="middle" font-size="9.5" fill="#3c3c3c" stroke="#3c3c3c" stroke-width=".1" font-style="italic">x</text><text class="s" x="7.6" y="208.6" text-anchor="middle" font-size="9.5" fill="#3c3c3c" stroke="#3c3c3c" stroke-width=".1" font-style="italic" transform="rotate(-90 7.6 208.6)">t</text><text class="a" x="66.6" y="168" text-anchor="middle" font-size="10" fill="#222222" stroke="#222222" stroke-width=".22">(A)</text>
<path d="M229.7 152V265.2H383" fill="none" stroke="#8c7a96" stroke-opacity=".35" stroke-width=".6"/><text class="s" x="229.7" y="276.8" text-anchor="middle" font-size="9.3" fill="#3c3c3c" stroke="#3c3c3c" stroke-width=".1">-20</text><text class="s" x="227.6" y="268.9" text-anchor="end" font-size="9.3" fill="#3c3c3c" stroke="#3c3c3c" stroke-width=".1">-20</text><text class="s" x="268" y="276.8" text-anchor="middle" font-size="9.3" fill="#3c3c3c" stroke="#3c3c3c" stroke-width=".1">-10</text><text class="s" x="227.6" y="240.6" text-anchor="end" font-size="9.3" fill="#3c3c3c" stroke="#3c3c3c" stroke-width=".1">-10</text><text class="s" x="306.4" y="276.8" text-anchor="middle" font-size="9.3" fill="#3c3c3c" stroke="#3c3c3c" stroke-width=".1">0</text><text class="s" x="227.6" y="212.3" text-anchor="end" font-size="9.3" fill="#3c3c3c" stroke="#3c3c3c" stroke-width=".1">0</text><text class="s" x="344.7" y="276.8" text-anchor="middle" font-size="9.3" fill="#3c3c3c" stroke="#3c3c3c" stroke-width=".1">10</text><text class="s" x="227.6" y="184" text-anchor="end" font-size="9.3" fill="#3c3c3c" stroke="#3c3c3c" stroke-width=".1">10</text><text class="s" x="383" y="276.8" text-anchor="middle" font-size="9.3" fill="#3c3c3c" stroke="#3c3c3c" stroke-width=".1">20</text><text class="s" x="227.6" y="155.7" text-anchor="end" font-size="9.3" fill="#3c3c3c" stroke="#3c3c3c" stroke-width=".1">20</text><text class="s" x="306.4" y="287.6" text-anchor="middle" font-size="9.5" fill="#3c3c3c" stroke="#3c3c3c" stroke-width=".1" font-style="italic">x</text><text class="s" x="211.2" y="208.6" text-anchor="middle" font-size="9.5" fill="#3c3c3c" stroke="#3c3c3c" stroke-width=".1" font-style="italic" transform="rotate(-90 211.2 208.6)">t</text><text class="a" x="270.2" y="168" text-anchor="middle" font-size="10" fill="#222222" stroke="#222222" stroke-width=".22">(B)</text>
<path d="M433.3 152V265.2H586.6" fill="none" stroke="#8c7a96" stroke-opacity=".35" stroke-width=".6"/><text class="s" x="433.3" y="276.8" text-anchor="middle" font-size="9.3" fill="#3c3c3c" stroke="#3c3c3c" stroke-width=".1">-20</text><text class="s" x="431.2" y="268.9" text-anchor="end" font-size="9.3" fill="#3c3c3c" stroke="#3c3c3c" stroke-width=".1">-20</text><text class="s" x="471.6" y="276.8" text-anchor="middle" font-size="9.3" fill="#3c3c3c" stroke="#3c3c3c" stroke-width=".1">-10</text><text class="s" x="431.2" y="240.6" text-anchor="end" font-size="9.3" fill="#3c3c3c" stroke="#3c3c3c" stroke-width=".1">-10</text><text class="s" x="510" y="276.8" text-anchor="middle" font-size="9.3" fill="#3c3c3c" stroke="#3c3c3c" stroke-width=".1">0</text><text class="s" x="431.2" y="212.3" text-anchor="end" font-size="9.3" fill="#3c3c3c" stroke="#3c3c3c" stroke-width=".1">0</text><text class="s" x="548.3" y="276.8" text-anchor="middle" font-size="9.3" fill="#3c3c3c" stroke="#3c3c3c" stroke-width=".1">10</text><text class="s" x="431.2" y="184" text-anchor="end" font-size="9.3" fill="#3c3c3c" stroke="#3c3c3c" stroke-width=".1">10</text><text class="s" x="586.6" y="276.8" text-anchor="middle" font-size="9.3" fill="#3c3c3c" stroke="#3c3c3c" stroke-width=".1">20</text><text class="s" x="431.2" y="155.7" text-anchor="end" font-size="9.3" fill="#3c3c3c" stroke="#3c3c3c" stroke-width=".1">20</text><text class="s" x="510" y="287.6" text-anchor="middle" font-size="9.5" fill="#3c3c3c" stroke="#3c3c3c" stroke-width=".1" font-style="italic">x</text><text class="s" x="414.8" y="208.6" text-anchor="middle" font-size="9.5" fill="#3c3c3c" stroke="#3c3c3c" stroke-width=".1" font-style="italic" transform="rotate(-90 414.8 208.6)">t</text><text class="a" x="473.8" y="168" text-anchor="middle" font-size="10" fill="#222222" stroke="#222222" stroke-width=".22">(C)</text>
<path d="M30.8 62.4L106.6 18.6" stroke="#e4e4e4" stroke-width="0.5" fill="none"/><path d="M106.6 18.6L181.3 61.8" stroke="#e4e4e4" stroke-width="0.5" fill="none"/><path d="M30.8 47.3L106.6 3.5" stroke="#e4e4e4" stroke-width="0.5" fill="none"/><path d="M106.6 3.5L181.3 46.7" stroke="#e4e4e4" stroke-width="0.5" fill="none"/><path d="M68.7 57.5L68.7 22" stroke="#e4e4e4" stroke-width="0.5" fill="none"/><path d="M106.6 35.6L106.6 0.1" stroke="#e4e4e4" stroke-width="0.5" fill="none"/><path d="M144 57.2L144 21.7" stroke="#e4e4e4" stroke-width="0.5" fill="none"/><path d="M181.3 78.8L181.3 43.3" stroke="#e4e4e4" stroke-width="0.5" fill="none"/><path d="M30.8 79.4L106.6 35.6" stroke="#e4e4e4" stroke-width="0.5" fill="none"/><path d="M106.6 35.6L181.3 78.8" stroke="#e4e4e4" stroke-width="0.5" fill="none"/>
<path fill="#efd8f1" fill-rule="evenodd" d="M94.8 8.1L95.2 8.1L95.7 9.1L96.5 11.9L98.3 22.6L99.5 27.9L101 31.9L102.4 33.5L103.9 34L104.9 34L105.9 33.5L106.9 33.5L108.4 34.7L113.4 37.7L181.2 76.9L180.9 77.2L131.1 105.8L119.9 112.5L110.4 117.8L108.6 119L105.6 120.5L104.1 120L88.4 110.7L86.9 109.5L84.8 107.1L83.3 103.6L82 98.1L79.4 76.5L79 76.6L78.5 78.4L75.5 91.1L75 92.1L73.7 97.4L73.1 98.5L71.6 99.7L69.9 99.7L66.1 98L31 77.6L31.1 77.3L35.4 74.8L76.9 51L81.4 48.2L84.9 45.5L94 9.4Z"/><path fill="#e7cef1" d="M104 34.1L103.6 34.9L101.9 34.3L100.7 33.1L99.7 31.4L98.1 26.4L95.6 12.4L94.9 10.4L85.8 45.9L84.9 46.8L84.4 46.9L84.2 46.4L84.5 45.8L81.4 48.1L68.5 98.9L68.5 99.1L69.9 99.7L71.8 99.6L71.8 98.6L72.9 96.9L73.4 95.4L78.2 76.1L78.9 75.6L79.9 75.7L80.4 76.4L80.6 79.9L81.1 82.4L81.1 84.1L81.4 84.6L81.4 86.4L81.6 86.9L81.6 88.6L82.1 91.1L82.1 92.6L82.4 93.1L82.4 94.4L82.6 94.9L82.6 96.1L83.4 100.1L84.6 104.6L85.5 106.4L85.2 106.6L85.2 107.7L86.9 109.5L88.3 110.7L107.6 34.6L107.9 34.4L106.9 33.5L105.9 33.5Z"/><path fill="#dfc4f0" d="M103.2 33.9L102.9 34.6L101.9 34.3L100.7 33.1L99.7 31.4L98.1 26.4L95.6 12.4L94.9 10.4L86.1 45.1L85.8 45.9L84.9 46.8L84.4 46.9L84.2 46.6L84.5 45.8L83.7 46.4L70.2 99.4L70.2 99.7L71.6 99.8L72.3 99.2L72.3 98.1L73.4 95.4L78.2 76.1L78.9 75.6L79.9 75.7L80.3 76.1L80.4 77.6L80.6 78.1L80.6 79.9L81.1 82.4L81.6 88.6L81.9 89.1L81.9 90.6L82.1 91.1L82.1 92.6L82.4 93.1L82.9 97.6L84.1 103.1L85 105.4L84.6 106.8L86.7 109.3L105.8 33.6L104.9 34Z"/><path fill="#d5b8f0" d="M102.8 33.6L102.4 34.4L101.9 34.3L100.7 33.1L99.7 31.4L98.1 26.4L95.6 12.4L94.9 10.4L89.6 31.1L89.1 32.4L86.1 44.9L85.8 45.9L84.9 46.9L77.9 74.6L77.4 77.6L76.9 78.1L77.1 78.6L76.6 79.1L76.4 78.5L71.1 99.4L71.1 99.8L71.6 99.8L72.6 99L72.5 98.4L72.8 98.1L72.8 97.4L73 97.1L74.5 91.4L78.2 76.1L78.9 75.6L79.9 75.7L80.3 76.1L80.4 77.6L80.6 78.1L80.6 79.9L81.1 82.4L81.1 84.1L81.4 84.6L81.4 86.4L81.6 86.9L81.6 88.6L81.9 89.1L82.6 96.1L83.4 100.1L84.6 104.1L84.5 105.1L84.2 105.7L84.8 107.1L85.8 108.3L104.6 34.4L104.6 34ZM76.6 77.5L76.4 78.4L76.6 78.4L76.9 78.1Z"/><path fill="#c6a2ee" d="M102.1 33.2L101.9 34.1L100.7 33.1L99.7 31.4L98.7 28.4L97.4 22.9L97.4 21.9L96.9 20.1L95.6 12.4L94.9 10.4L89.6 31.1L89.1 32.4L86.1 44.9L85.8 45.9L84.9 46.9L77.9 74.6L77.4 77.4L77.6 78.1L78.2 76.1L78.6 75.7L79.6 75.6L80.3 76.1L82.6 96.1L84.2 103.6L83.8 105L85.2 107.6L104 34.1ZM77.4 79.1L77.4 78.9L77.4 78.6L77.3 78.9ZM73.1 98.5L73 97.4L73.2 97.1L73.2 96.4L73.5 96.1L73.5 95.4L73.8 95.1L73.8 94.4L74 94.1L74 93.4L74.2 93.1L74.2 92.4L74.5 92.1L74.5 91.4L75.2 89.1L75.2 88.1L75.5 87.9L75.9 85.1L76.4 83.6L75.9 83.1L75.9 82.7L71.6 99.6Z"/><path fill="#b486eb" d="M101.9 33L101.5 33.1L101.4 33.6L100.7 33.1L99.7 31.4L98.7 28.4L97.4 22.9L97.4 21.9L96.9 20.1L95.6 12.4L94.9 10.4L89.6 31.1L89.1 32.4L86.1 44.9L85.8 45.9L84.9 46.9L77.9 74.6L77.4 77.4L77.6 78.1L78.2 76.1L78.6 75.7L79.6 75.6L80.3 76.1L80.9 81.9L81.1 82.4L81.1 84.1L81.4 84.6L81.4 86.4L81.6 86.9L81.6 88.6L82.1 91.1L82.1 92.6L82.4 93.1L82.9 97.6L84 102.6L83.8 102.9L83.8 103.6L83.3 103.8L84.6 106.7L103.3 33.9ZM77.4 79.1L77.4 78.9L77.4 78.6L77.3 78.9ZM75.6 85.3L75.4 86.1L75.6 86.2ZM73.4 97.8L73.2 96.9L74 94.9L74 94.1L74.2 93.9L74.2 93.1L75 90.9L75 89.9L75.2 89.6L75.2 88.1L75.5 87.9L75.4 86.3L72.2 98.6L72.3 99.2L73.1 98.5Z"/><path fill="#9e66e8" d="M101.4 32.3L100.9 33.1L100.2 32.4L98.7 28.4L97.4 22.9L97.4 21.9L96.9 20.1L95.6 12.4L94.9 10.4L89.6 31.1L89.1 32.4L86.1 44.9L85.8 45.9L84.9 46.9L77.9 74.6L77.4 77.4L77.6 78.1L78.2 76.1L78.6 75.7L79.6 75.6L80.3 76.1L80.9 81.9L81.1 82.4L81.1 84.1L81.4 84.6L81.4 86.4L81.6 86.9L81.6 88.6L82.1 91.1L82.1 92.6L83.7 101.4L83.5 102.4L83 102.5L84.2 105.7L102.7 33.6ZM77.4 79.1L77.4 78.9L77.4 78.6L77.3 78.9ZM75.3 87.9L75.5 87.9L75.4 87.5L75.3 87.6ZM74.9 92.5L75 89.9L75.2 89.6L75.1 88.4L72.6 98.4L72.6 98.9L73.1 98.5L73.7 97.4L73.5 96.4L73.8 96.1L74.2 93.6L74.7 93.4L74.5 92.6Z"/><path fill="#8543e5" d="M100.8 31.4L100.8 32.1L100.4 32.6L99.7 31.4L98.1 26.4L95.6 12.4L94.9 10.4L89.6 31.1L89.1 32.4L86.1 44.9L85.8 45.9L84.9 46.9L77.9 74.6L77.4 77.4L77.6 78.1L78.2 76.1L78.6 75.7L79.6 75.6L80.3 76.1L80.9 81.9L81.1 82.4L81.1 84.1L81.4 84.6L81.4 86.4L81.6 86.9L81.6 88.6L82.1 91.1L82.1 92.6L82.4 93.1L82.9 97.6L83.4 99.4L83.2 100.9L82.7 101.2L83.3 103.6L83.8 104.9L102.2 33.3ZM77.4 79.1L77.4 78.9L77.4 78.6L77.3 78.9ZM74.9 90.3L74.7 91.1L74.9 91.2ZM74.9 92.5L74.6 91.3L72.9 98.1L73.2 98.4L73.7 97.4L74.7 93.4L74.5 92.6Z"/><path fill="#6c2ce8" d="M100.5 30.6L100.5 31.1L100.1 31.6L99.9 31.6L98.1 26.4L95.6 12.4L94.9 10.4L89.6 31.1L89.1 32.4L86.1 44.9L85.8 45.9L84.9 46.9L77.9 74.6L77.4 77.4L77.6 78.1L78.2 76.1L78.6 75.7L79.6 75.6L80.3 76.1L80.9 81.9L81.1 82.4L81.1 84.1L81.4 84.6L81.4 86.4L81.6 86.9L81.6 88.6L82.1 91.1L82.1 92.6L83.1 98.1L83 99.9L82.4 100L83.3 103.7L83.6 103.7L101.6 33L101.9 32.9L101 31.9ZM77.4 79.1L77.4 78.9L77.4 78.6L77.3 78.9ZM74.9 92.5L74.7 92.1L74.6 91.9L74.5 92.4ZM74.6 93.2L74.4 92.9L73.3 97.1L73.2 97.6L73.5 97.9Z"/><path fill="#501bef" d="M100.2 29.9L99.9 30.9L99.6 30.8L98.1 26.4L95.6 12.4L94.9 10.4L89.6 31.1L89.1 32.4L86.1 44.9L85.8 45.9L84.9 46.9L77.9 74.6L77.4 77.4L77.6 78.1L78.2 76.1L78.6 75.7L79.6 75.6L80.3 76.1L80.9 81.9L81.1 82.4L81.1 84.1L81.4 84.6L81.4 86.4L81.6 86.9L81.6 88.6L82.1 91.1L82.1 92.6L82.9 96.6L82.8 98.6L82.2 98.8L83 102.5L83.4 102.5L101.4 32.3ZM77.4 79.1L77.4 78.9L77.4 78.6L77.3 78.9ZM74.6 93.4L74.2 93.6L73.8 95.6L73.6 96.9L73.8 97.1Z"/><path fill="#3216f8" d="M99.9 29L99.8 29.9L99.4 30.1L98.1 26.4L95.6 12.4L94.9 10.4L89.6 31.1L89.1 32.4L86.1 44.9L85.8 45.9L84.9 46.9L77.9 74.6L77.4 77.4L77.6 78.1L78.2 76.1L78.6 75.7L79.6 75.6L80.3 76.1L80.9 81.9L81.1 82.4L81.1 84.1L81.4 84.6L81.4 86.4L81.6 86.9L81.6 88.6L81.9 89.1L82.1 92.6L82.6 94.9L82.8 96.6L82.5 96.9L82.5 97.6L82 97.8L82.7 101.3L83.1 101.1L100.9 31.4ZM77.4 79.1L77.4 78.9L77.4 78.6L77.3 78.9Z"/><path fill="#181dff" d="M99.6 28.2L99.5 29.1L99.1 29.3L98.1 26.4L95.6 12.4L94.9 10.4L89.6 31.1L89.1 32.4L86.1 44.9L85.8 45.9L84.9 46.9L77.9 74.6L77.4 77.4L77.6 78.1L78.2 76.1L78.6 75.7L79.6 75.6L80.3 76.1L80.9 81.9L81.1 82.4L81.1 84.1L81.4 84.6L81.4 86.4L81.6 86.9L81.6 88.6L81.9 89.1L82.1 92.6L82.6 94.9L82.5 95.9L82.2 96.1L82.2 97.1L81.9 97.2L82.5 100.1L82.9 99.9L100.6 30.6ZM77.4 79.1L77.4 78.9L77.4 78.6L77.3 78.9ZM75 92.4L74.5 92.6L74.7 93.4ZM75.1 92L74.8 92.1L75 92.4ZM75.4 91.2L75.1 91L75 91.1Z"/><path fill="#0941ff" d="M99.4 27.2L99.2 28.1L98.9 28.6L98.1 26.4L97.9 24.4L97.4 22.9L97.4 21.9L96.9 20.1L95.6 12.4L94.9 10.4L89.6 31.1L89.1 32.4L86.1 44.9L85.8 45.9L84.9 46.9L77.9 74.6L77.4 77.4L77.6 78.1L78.2 76.1L78.6 75.7L79.6 75.6L80.3 76.1L80.9 81.9L81.1 82.4L81.1 84.1L81.4 84.6L81.4 86.4L81.6 86.9L81.6 88.6L81.9 89.1L81.9 90.6L82.4 93.1L82.2 94.9L81.7 95.5L82.2 98.9L82.6 98.8L100.3 29.8ZM77.4 79.1L77.4 78.9L77.4 78.6L77.3 78.9ZM75 92.4L74.5 92.6L74.7 93.4ZM75.6 90.8L75.1 90.8L74.8 91.4L74.8 92.1L75 92.4Z"/><path fill="#006aff" d="M99.1 26.5L99 27.4L98.6 27.6L98.1 26.4L97.9 24.4L97.4 22.9L97.4 21.9L96.9 20.1L95.6 12.4L94.9 10.4L89.6 31.1L89.1 32.4L86.1 44.9L85.8 45.9L84.9 46.9L77.9 74.6L77.4 77.4L77.6 78.1L78.2 76.1L78.6 75.7L79.6 75.6L80.3 76.1L80.9 81.9L81.1 82.4L81.1 84.1L81.4 84.6L81.4 86.4L81.6 86.9L81.6 88.6L82.1 91.1L82.2 93.1L82 93.4L82 94.1L81.5 94.2L82 97.8L82.4 97.8L100 29ZM77.4 79.1L77.4 78.9L77.4 78.6L77.3 78.9ZM75 92.4L74.5 92.6L74.7 93.4ZM75.6 90.5L75 90.6L74.8 91.4L74.8 92.1L75 92.4ZM75.9 89.5L75.4 89.5L75.2 89.6L75.8 90Z"/><path fill="#009bff" d="M99 25.6L98.8 25.9L98.8 26.6L98.4 26.8L97.4 22.9L97.4 21.9L96.9 20.1L95.6 12.4L94.9 10.4L89.6 31.1L89.1 32.4L86.1 44.9L85.8 45.9L84.9 46.9L77.9 74.6L77.4 77.4L77.6 78.1L78.2 76.1L78.6 75.7L79.6 75.6L80.3 76.1L80.9 81.9L81.1 82.4L81.1 84.1L81.4 84.6L81.4 86.4L81.6 86.9L81.6 88.6L82.1 91.1L81.8 93.6L81.5 93.8L81.9 97.1L82.1 97.1L99.7 28.1ZM75.9 89.2L75.4 89.2L75 89.9L75.1 91.1L75.5 91.1ZM76.2 88.2L76 88.4L76 89ZM76.4 87.2L76.2 87.4L76.2 88ZM76.7 86.2L76.5 86.4L76.5 86.9ZM76.9 85.2L76.8 85.4L76.8 85.9ZM77.1 84.2L77 84.4L77 84.8ZM77.4 79.1L77.4 78.9L77.4 78.6L77.3 78.9ZM75.4 91.2L74.8 91.4L74.9 92L75.1 92Z"/><path fill="#00c4f7" d="M98.8 24.6L98.4 25.6L98.1 25.6L97.4 22.9L97.4 21.9L96.9 20.1L95.6 12.4L94.9 10.4L89.6 31.1L89.1 32.4L86.1 44.9L85.8 45.9L84.9 46.9L77.9 74.6L77.4 77.4L77.6 78.1L78.2 76.1L78.6 75.7L79.6 75.6L80.3 76.1L80.9 81.9L81.1 82.4L81.1 84.1L81.4 84.6L81.4 86.4L81.6 86.9L81.6 88.6L81.9 89.1L82 90.9L81.8 91.6L81.2 91.8L81.7 95.5L82.1 95.4L99.4 27.3ZM78.9 77.1L78.8 77.1L78.8 77.7ZM77.1 84L76.5 85.9L76.5 86.6L76.2 86.9L76.2 87.6L75.5 87.9L76 88.1L76 88.6L75.2 88.9L75.2 89.6L75 89.9L75.1 90.8L75.6 90.8ZM77.5 82.9L77.2 83.1L77.3 83.7ZM77.7 81.9L77.5 82.1L77.5 82.7ZM77.9 81L77.8 81.1L77.8 81.7ZM78.2 80L78 80.1L78 80.7ZM78.4 79L78.2 79.1L78.3 79.6ZM78.7 78L78.5 78.1L78.5 78.6ZM77.4 79.1L77.4 78.9L77.4 78.6L77.3 78.9Z"/><path fill="#00e4e6" d="M98.5 23.6L98.5 24.1L98.1 24.6L97.7 24.1L97.4 22.9L96.1 14.9L95.4 11.4L94.9 10.4L89.6 31.1L89.1 32.4L86.1 44.9L85.8 45.9L84.9 46.9L77.9 74.6L77.4 77.4L77.6 78.1L78.2 76.1L78.6 75.7L79.6 75.6L80.3 76.1L80.9 81.9L81.1 82.4L81.1 84.1L81.4 84.6L81.4 86.4L81.6 86.9L81.6 88.6L81.9 89.1L81.5 91.1L81.2 91.2L81.5 94.3L81.9 94.3L99.2 26.5ZM79 76.6L78.8 76.6L78.8 77.4L78.5 77.6L78.5 78.4L78.2 78.6L78.2 79.4L78 79.6L78 80.4L77.8 80.6L77.8 81.4L77.5 81.6L77.5 82.4L77.2 82.6L77.2 83.4L76.5 85.6L76.5 86.4L76.2 86.6L76.3 87.4L75.6 87.5L75.2 88.1L75.4 89.5L75.9 89.5ZM77.4 79.1L77.4 78.9L77.4 78.6L77.3 78.9ZM75.7 89.9L75 89.9L75.1 90.5L75.6 90.5Z"/><path fill="#00f0c0" d="M98.2 22.9L98.2 23.6L97.9 24.1L97.4 22.9L97.4 21.9L96.9 20.1L95.6 12.4L94.9 10.4L89.6 31.1L89.1 32.4L86.1 44.9L85.8 45.9L84.9 46.9L77.9 74.6L77.4 77.4L77.6 78.1L78.2 76.1L78.6 75.7L79.6 75.6L80.3 76.1L80.9 81.9L81.1 82.4L81.1 84.1L81.4 84.6L81.4 86.4L81.6 86.9L81.5 89.4L81 89.8L81.5 93.7L81.7 93.6L99 25.4ZM79 76.6L78.9 76.2L78.5 78.1L78 79.1L78 79.9L77.8 80.1L77.8 80.9L77.5 81.1L77.5 81.9L77.2 82.1L77.2 82.9L77 83.1L77 83.9L76.8 84.1L76.8 84.9L76.5 85.1L76.5 85.9L75.8 86.1L76.2 86.4L76.2 86.9L75.5 87.1L75.5 87.9L75.2 88.1L75.4 89.2L75.9 89.2L76 88.9ZM77.4 79.1L77.4 78.9L77.4 78.6L77.3 78.9Z"/><path fill="#00f08d" d="M98.1 22L98 22.9L97.6 23.3L97.4 22.9L97.4 21.9L96.9 20.1L95.6 12.4L94.9 10.4L89.6 31.1L89.1 32.4L86.1 44.9L85.8 45.9L84.9 46.9L77.9 74.6L77.4 77.4L77.6 78.1L78.4 75.9L78.6 75.9L78.8 76.6L78.5 76.9L78.5 77.6L78.2 77.9L77.8 80.6L77.2 81.6L77.2 82.4L77 82.6L76.5 85.4L75.9 85.5L75.5 86.4L75.5 87.6L76.1 87.8L79 76.9L79 75.9L79.1 75.6L79.9 75.7L80.4 76.4L80.6 79.9L81.1 82.4L81.1 84.1L81.4 84.6L81.4 86.4L81.6 86.9L81.2 88.9L80.9 89L81.2 91.9L81.6 91.9L98.8 24.5ZM77.4 79.1L77.4 78.9L77.4 78.6L77.3 78.9ZM75.4 88L75.4 88.8L76 88.6L75.9 87.9Z"/><path fill="#1af05a" d="M94.9 10.4L86.1 44.9L85.8 45.9L84.9 46.9L77.9 74.6L77.4 77.9L77.6 78.1L78.1 77.6L78.2 78.1L77.9 78.6L78 79.1L77.6 79.6L77.8 80.1L77.4 80.6L77.5 81.1L77.1 81.6L77.2 82.1L76.6 83.1L76.6 83.9L76.1 84L75.8 84.6L75.5 87.1L75.6 87.4L76.1 87.4L79 75.9L79.1 75.6L79.9 75.7L80.4 76.4L80.6 79.9L81.1 82.4L81.1 84.1L81.4 84.6L81.2 87.1L80.7 87.5L81.2 91.2L81.4 91.2L98.6 23.7L98 20.8L98 21.4L97.6 21.9L97.2 21.6L95.6 12.4ZM77.4 78.6L77.9 78.6L77.6 78.1L77.4 78.4ZM77.4 79.1L77.4 78.9L77.4 78.6L77.3 78.9ZM77.1 79.6L77.6 79.6L77.4 79.1L77.1 79.4Z"/><path fill="#3cf026" d="M97.8 19.9L97.8 20.6L97.4 21.1L96.9 20.1L95.6 12.4L94.9 10.4L89.6 31.1L89.1 32.4L86.1 44.9L85.8 45.9L84.9 46.9L77.9 74.6L76.6 83.6L76 83.9L75.8 84.6L75.8 85.9L76.4 86L78.8 76.4L79.1 75.6L79.9 75.7L80.4 76.4L80.6 79.9L81.1 82.4L81.1 84.1L81.4 84.6L81 86.6L80.6 86.8L81 89.8L81.4 89.6L98.3 22.8ZM75.6 86.3L75.6 87L76.2 86.9L76.1 86.3Z"/><path fill="#74f411" d="M97.6 19.2L97.5 20.1L97.1 20.6L96.9 20.1L95.6 12.4L94.9 10.4L89.6 31.1L89.1 32.4L86.1 44.9L85.8 45.9L84.9 46.9L77.9 74.6L76.9 82.1L76.2 82.4L76.8 82.6L76.7 82.9L76 83.4L76 84.4L75.8 84.6L75.9 85.5L76.4 85.5L78.8 75.9L79.1 75.1L79.4 75.2L80.4 76.4L80.6 79.9L81.1 82.4L81 84.9L80.4 85.2L80.9 88.9L81.1 88.9L98.2 21.9Z"/><path fill="#b0f800" d="M94.9 10.4L86.1 44.9L85.8 45.9L84.9 46.9L81.9 59.4L81.4 60.6L77.9 74.6L76.9 81.6L76.2 81.9L76 82.6L76 83.9L76.1 84.1L76.6 84.1L78.7 76.1L78.8 74.9L78.9 74.6L79.4 74.7L79.6 75.6L80.4 76.4L80.6 79.9L81.1 82.4L80.8 84.4L80.3 84.5L80.7 87.6L81.1 87.4L98 20.9L97.5 17.9L97.1 19.1L96.7 18.9L95.4 11.4Z"/><path fill="#daf400" d="M94.9 10.4L86.1 44.9L85.8 45.9L84.9 46.9L81.9 59.4L81.4 60.6L77.9 74.6L77.1 80.1L76.5 80.4L77 80.6L77 80.9L76.2 81.4L76.3 82.4L76 82.6L76.1 83.6L76.6 83.6L78.8 74.9L78.9 74.6L79.4 74.7L79.6 75.6L80.4 76.4L80.6 79.9L80.9 80.4L80.8 82.6L80.1 83L80.6 86.6L80.9 86.6L97.8 19.9L97.4 17L97.2 17.9L96.9 18.3L96.4 17.4L96.1 14.9L95.1 10.6Z"/><path fill="#ffec00" d="M97.2 16.4L97 17.4L96.6 17.6L96.1 15.9L95.6 12.4L94.9 10.4L89.6 31.1L89.1 32.4L86.1 44.9L85.8 45.9L84.9 46.9L77.9 74.6L77.1 79.6L76.5 79.9L76.2 80.6L76.3 82.1L76.9 82.2L78.6 75.4L78.9 74.6L79.4 74.7L79.6 75.6L80.3 76.1L80.4 77.6L80.6 78.1L80.8 81.1L80.5 81.4L80.5 82.1L80.1 82.2L80.4 85.3L80.9 85.1L97.7 19ZM76.1 82.6L76.1 83.2L76.6 83.1L76.6 82.6Z"/><path fill="#ffcb00" d="M97 14.9L96.6 16.4L96.4 16.3L95.4 11.4L94.9 10.4L89.6 31.1L89.1 32.4L86.1 44.9L85.8 45.9L84.9 46.9L77.9 74.6L77.4 78.1L76.8 78.4L77.2 78.6L77.2 78.9L76.5 79.4L76.5 80.4L76.2 80.6L76.3 81.6L76.9 81.7L78.5 75.1L78.9 74.1L79.1 74.2L79.6 74.9L79.6 75.6L80.3 76.1L80.4 77.6L80.6 78.1L80.5 80.4L80.2 80.9L79.9 81L80.3 84.4L80.6 84.4L97.5 18Z"/><path fill="#ffaa00" d="M80.2 83.1L80.6 82.9L97.4 17.1L96.9 14.2L96.4 15.3L95.9 14.6L95.4 11.4L94.9 10.4L89.6 31.1L89.1 32.4L86.1 44.9L85.8 45.9L84.9 46.9L77.9 74.6L77.4 77.6L76.8 77.9L76.5 78.6L76.6 80.1L77.1 80.2L78.7 74.1L78.4 73.9L79.1 73.7L79.6 75.6L80.4 76.4L80.5 78.9L80.2 79.1L80.2 79.9L79.8 80ZM76.4 80.6L76.4 81.2L76.9 81.1L76.9 80.5Z"/><path fill="#ff7f00" d="M80.1 82.2L80.4 82.2L97.2 16.1L96.7 13.4L96.5 13.6L96.5 14.4L96.1 14.8L95.9 14.6L95.4 11.4L94.9 10.4L89.6 31.1L89.1 32.4L86.1 44.9L85.8 45.9L84.9 46.9L77.9 74.6L77.6 76.4L77 76.6L77.5 76.9L77.5 77.1L76.8 77.6L76.8 78.4L76.5 78.6L76.6 79.6L77.1 79.7L78.5 74.6L78.5 73.6L78.6 73.4L79.1 73.4L79.6 75.6L80.4 76.4L80.2 78.1L80 78.6L79.6 78.8Z"/><path fill="#ff5300" d="M80.1 81L97 15.1L96.5 12.1L96.2 13.4L96.1 13.6L95.9 13.6L95.4 11.4L94.9 10.4L89.6 31.1L89.1 32.4L86.1 44.9L85.8 45.9L84.9 46.9L78.4 73.1L77.9 74.9L77.2 75.1L77.8 75.4L77.7 75.6L77 76.1L76.8 76.9L76.8 78.1L77.4 78.3L78.5 73.6L78.6 73.4L79.1 73.4L79.6 75.6L80.2 76.1L80 77.4L79.5 77.5L79.9 81ZM76.6 78.5L76.6 79.3L77.2 79.1L77.1 78.5Z"/><path fill="#ff2b06" d="M79.9 80L80.1 80L96.9 14.1L96.3 11.1L96.2 11.9L95.9 12.4L95.6 12.3L94.9 10.4L89.6 31.1L89.1 32.4L86.1 44.9L85.8 45.9L84.9 46.9L78.4 73.1L78.1 73.6L77.5 73.9L78 74.1L78 74.4L77.2 74.9L77 75.4L76.8 77.6L76.9 77.8L77.4 77.8L78.3 74.1L78.6 73.4L79.3 73.6L79.6 75.6L80 75.9L79.8 76.9L79.4 77Z"/><path fill="#ff050f" d="M79.9 78.8L96.7 13.3L96.1 10.3L96 11.1L95.6 11.6L94.9 10.4L94.6 10.9L86.1 44.9L85.8 45.9L84.9 46.9L78.4 72.6L79.1 73.1L79.4 73.9L79.6 74.9L79 75.4L79 76.8L79.4 76.6L79.6 78.8ZM77.6 73L77.2 75.1L77 75.4L77.1 76.4L77.7 76.4L78.4 73.4L78.1 73ZM76.9 76.8L76.9 77.4L77.4 77.4L77.4 76.8Z"/><path fill="#ff2f67" d="M79.6 77.6L79.9 77.6L96.5 12.1L95.8 9.3L95.8 10.1L95.4 10.6L94.9 10.4L94.6 10.9L86.1 44.9L85.8 45.9L84.9 46.9L78.6 71.6L78.6 72.6L79.1 72.9L79.4 73.9L78.8 74.1L79 76.8L79.4 76.6ZM77.6 73L77.3 74.9L77.9 75.1L78.2 73.1ZM77.1 75.3L77.1 76L77.7 75.9L77.6 75.2Z"/><path fill="#ff65b0" d="M79.6 76.9L96.3 11.3L95.6 8.8L95.2 8.9L95.2 9.4L94.9 9.9L86.1 44.9L85.8 45.9L84.9 46.9L78.6 71.6L78.6 72.4L79 73.1L78.5 73.4L78.5 73.9L78.8 74.1L79.1 76.6L79.4 76.6L79.4 76.9ZM84.2 46.6L84.5 46.6L84.4 46.2L84.2 46.4ZM84 47.6L84.2 47.6L84.1 47.2L84 47.4ZM83.8 48.6L84 48.6L83.9 48.2L83.8 48.4ZM83.5 49.6L83.8 49.6L83.6 49.2L83.5 49.4ZM83.2 50.6L83.5 50.6L83.4 50.2L83.2 50.4ZM83 51.6L83.2 51.6L83.1 51.2L83 51.4ZM82.8 52.6L83 52.6L82.9 52.2L82.8 52.4ZM82.5 53.6L82.8 53.6L82.6 53.2L82.5 53.4ZM80.8 60.4L81 60.4L80.9 60L80.8 60.1ZM80.5 61.4L80.8 61.4L80.6 61L80.5 61.1ZM80.2 62.4L80.5 62.4L80.4 62L80.2 62.1ZM80 63.4L80.2 63.4L80.1 63L80 63.1ZM79.8 64.4L80 64.4L79.9 64L79.8 64.1ZM79.5 65.4L79.8 65.4L79.6 65L79.5 65.1ZM79.2 66.4L79.5 66.4L79.4 66L79.2 66.1ZM79 67.4L79.2 67.4L79.1 67L79 67.1ZM77.6 73L77.6 73.7L78.2 73.6L78.1 73ZM77.4 74L77.4 74.7L78 74.6L77.9 74Z"/><path fill="#ff99d9" d="M84.5 45.9L84 47.4L84 48.1L83.8 48.4L83.8 49.1L83.5 49.4L83.5 50.1L83.2 50.4L83.2 51.1L83 51.4L83 52.1L82.8 52.4L82.8 53.1L82.5 53.4L82.5 54.1L82.2 54.4L82.2 55.1L82 55.4L82 56.1L81.8 56.4L81.8 57.1L81.5 57.4L81.5 58.1L81.2 58.4L81.2 59.1L80.8 60.1L80.8 60.9L80.5 61.1L80.5 61.9L80.2 62.1L80.2 62.9L80 63.1L80 63.9L79.8 64.1L79.8 64.9L79.5 65.1L79.5 65.9L79.2 66.1L78 71.9L77.8 72.1L77.8 72.9L78.5 73.4L78.8 75.1L79.1 75.3L79.6 75.1L96.1 10.4L95.2 8.1L94.7 8.1L94 9.4L84.9 45.5Z"/><path fill="#ffaee7" d="M84.5 45.9L83.2 51.1L83 51.4L83 52.1L82.8 52.4L82.8 53.1L82.5 53.4L82.5 54.1L82.2 54.4L82.2 55.1L82 55.4L82 56.1L81.8 56.4L81.8 57.1L81.5 57.4L81.5 58.1L81.2 58.4L81.2 59.1L81 59.4L79.5 65.9L79.3 66.1L79.2 66.9L79 67.1L79 67.9L78.8 68.1L78 71.9L77.8 72.1L77.8 72.9L78.5 73.4L78.5 73.9L78.9 74.1L79.4 74L95.8 9.4L95.2 8.1L94.7 8.1L94 9.4L84.9 45.5Z"/><path fill="#ffbbf0" d="M94 9.4L77.9 72.4L77.9 72.9L78.4 73.2L79 73.1L79.1 72.5L95.5 8.7L95.2 8.1L94.7 8.1Z"/>
<path d="M30.8 43.9L30.8 79.4L105.5 122.6L181.3 78.8" stroke="#a6a6a6" stroke-width=".6" fill="none"/><path d="M30.8 79.4L29.1 80.4M68.2 101L66.4 102M105.5 122.6L103.8 123.6M105.5 122.6L107.2 123.6M143.4 100.7L145.1 101.7M181.3 78.8L183 79.8M30.8 77.5h-2M30.8 62.4h-2M30.8 47.3h-2" stroke="#a6a6a6" stroke-width=".6" fill="none"/><text class="s" x="26.9" y="81.4" text-anchor="end" font-size="9.3" fill="#3c3c3c" stroke="#3c3c3c" stroke-width=".1">0</text><text class="s" x="26.9" y="66.3" text-anchor="end" font-size="9.3" fill="#3c3c3c" stroke="#3c3c3c" stroke-width=".1">0.1</text><text class="s" x="26.9" y="51.2" text-anchor="end" font-size="9.3" fill="#3c3c3c" stroke="#3c3c3c" stroke-width=".1">0.2</text><text class="s" x="26.5" y="91.6" text-anchor="end" font-size="9.3" fill="#3c3c3c" stroke="#3c3c3c" stroke-width=".1">20</text><text class="s" x="62" y="113.1" text-anchor="middle" font-size="9.3" fill="#3c3c3c" stroke="#3c3c3c" stroke-width=".1">0</text><text class="s" x="95.8" y="134.8" text-anchor="middle" font-size="9.3" fill="#3c3c3c" stroke="#3c3c3c" stroke-width=".1">-20</text><text class="s" x="116.3" y="134.8" text-anchor="middle" font-size="9.3" fill="#3c3c3c" stroke="#3c3c3c" stroke-width=".1">-20</text><text class="s" x="149.9" y="112.9" text-anchor="middle" font-size="9.3" fill="#3c3c3c" stroke="#3c3c3c" stroke-width=".1">0</text><text class="s" x="190" y="91.6" text-anchor="middle" font-size="9.3" fill="#3c3c3c" stroke="#3c3c3c" stroke-width=".1">20</text><text class="s" x="60.2" y="133.8" text-anchor="middle" font-size="9.8" fill="#3c3c3c" stroke="#3c3c3c" stroke-width=".1" font-style="italic">t</text><text class="s" x="152.8" y="133.4" text-anchor="middle" font-size="9.8" fill="#3c3c3c" stroke="#3c3c3c" stroke-width=".1" font-style="italic">x</text><text class="s" x="8.9" y="61.5" text-anchor="middle" font-size="9.8" fill="#3c3c3c" stroke="#3c3c3c" stroke-width=".1" font-style="italic" transform="rotate(-90 8.9 61.5)">u</text><text class="a" x="68.9" y="15.6" text-anchor="middle" font-size="10" fill="#1a1a1a" stroke="#1a1a1a" stroke-width=".22">(a)</text>
<path d="M234.6 62.7L310.4 18.9" stroke="#e4e4e4" stroke-width="0.5" fill="none"/><path d="M310.4 18.9L385.1 62.1" stroke="#e4e4e4" stroke-width="0.5" fill="none"/><path d="M234.6 47.6L310.4 3.8" stroke="#e4e4e4" stroke-width="0.5" fill="none"/><path d="M310.4 3.8L385.1 47" stroke="#e4e4e4" stroke-width="0.5" fill="none"/><path d="M272.5 57.8L272.5 22.3" stroke="#e4e4e4" stroke-width="0.5" fill="none"/><path d="M310.4 35.9L310.4 0.4" stroke="#e4e4e4" stroke-width="0.5" fill="none"/><path d="M347.8 57.5L347.8 22" stroke="#e4e4e4" stroke-width="0.5" fill="none"/><path d="M385.1 79.1L385.1 43.6" stroke="#e4e4e4" stroke-width="0.5" fill="none"/><path d="M234.6 79.7L310.4 35.9" stroke="#e4e4e4" stroke-width="0.5" fill="none"/><path d="M310.4 35.9L385.1 79.1" stroke="#e4e4e4" stroke-width="0.5" fill="none"/>
<path fill="#eed7f1" fill-rule="evenodd" d="M307.3 9.4L308.4 9.3L308.8 9.6L310 12.9L310.8 16.4L312.1 26.6L313.6 32.9L314.7 34.7L318.3 38.4L320.9 40.2L323.2 41.3L326.2 43.2L385 77.1L380.4 80L370.9 85.3L369.2 86.5L309.4 121L300.7 116L299.7 115L296.6 112.9L295.3 111.4L294.3 108.9L293.8 106.9L289.5 84.4L289.2 83.8L288 88.4L287.3 90.1L286.3 95.6L285 100.4L284.3 101.9L283.7 102.5L281.7 103.5L279.9 103.7L278.4 103.2L275.9 101.5L271.9 99.5L234.9 77.9L235.4 77.3L236.7 76.5L284.7 49L293.2 43.7L297.2 40.5L299.3 37.9L300 36.1L301.1 30.1L302.1 26.1L303.3 23.4L303.6 20.9L305.1 14.1L305.8 11.6L306.6 10.1Z"/><path fill="#e6cdf1" d="M315.9 36L315.7 36.9L315.4 36.8L313.7 35.1L312.7 33.4L312.2 31.9L311.2 26.9L311.2 25.6L310.9 25.1L309.7 15.4L307.9 10.1L306.7 12.1L305.9 14.6L304.4 21.4L304.2 23.6L302.9 26.6L300.6 37.4L299.6 39.1L297.7 41.3L297.4 41.4L297.3 41.1L297.3 40.3L293.2 43.7L291 45.1L290.8 45.6L290.6 46.9L290.9 47.4L293.4 47.5L293.9 47.9L293.9 48.1L292.9 50.1L288.7 56.4L287.5 58.6L287.4 60.4L287.9 60.7L290.2 60.7L290.4 60.9L290.5 61.4L289.4 63.6L284.9 70.4L284 72.6L284.2 73.7L284.7 73.9L286.9 73.9L287.2 74.1L287.2 74.6L285.9 77.1L281.6 83.6L280.7 85.6L280.7 86.6L280.9 86.9L283.4 87.1L283.9 87.6L282.7 90.2L278.4 96.6L277.4 98.9L277.4 99.9L277.7 100.2L279.9 100.2L280.6 100.6L280.2 101.9L279.2 103.5L279.9 103.8L281.3 103.6L281.3 102.9L281.7 102.4L283.4 101.4L284.2 99.9L284.7 98.1L286.4 89.9L287.7 86.1L288.2 83.4L288.7 82.9L289.7 82.9L290.4 84.1L294.7 106.4L295.4 109.1L296.1 110.6L295.8 111.9L296.5 112.9L300.6 115.9L302.3 112.9L302.5 111.1L301.9 110.7L299.7 110.6L299.4 110.4L299.4 109.9L300.7 107.4L304.9 101.1L305.9 98.9L305.7 97.6L303.2 97.5L302.7 97.2L302.7 96.8L303.9 94.3L308.2 87.9L309.2 85.6L309.2 84.7L308.9 84.4L306.4 84.3L305.9 83.9L306 83.6L307.2 81.2L311.6 74.6L312.5 72.6L312.5 71.6L312.2 71.1L309.7 71.1L309.4 70.9L309.3 70.4L310.4 68.1L314.8 61.6L315.8 59.4L315.7 58.1L315.2 57.9L312.9 57.8L312.7 57.6L312.7 57.1L313.9 54.6L318.1 48.4L319.1 46.1L318.9 44.8L316.4 44.7L316 44.4L316.7 42.4L319.1 38.9Z"/><path fill="#dec3f0" d="M314.9 35L314.9 36.1L313.2 34.4L312.2 31.6L311.2 26.9L311.2 25.6L310.9 25.1L309.7 15.4L307.9 10.1L306.7 12.1L305.9 14.6L304.4 21.4L304.2 23.6L302.9 26.6L300.6 37.4L299.6 39.1L298.7 40.1L298.4 40.1L298 39.4L297.2 40.5L294.2 42.8L294.4 43.9L295.4 45.1L295.6 46.1L294.9 47.9L292 53.1L291.1 55.4L291.1 57.1L292.2 58.4L292.3 59.4L291.4 61.4L288.8 66.1L287.8 68.4L287.7 70.1L288.9 71.7L288.9 72.6L284.5 81.6L284.4 83.4L285.6 84.9L285.7 85.5L284.9 87.5L281.2 94.6L281.1 96.6L282.2 97.9L282.4 98.6L281.7 100.6L280.1 103.4L280.1 103.7L281.8 103.4L281.8 102.6L282.2 102.1L283.4 101.4L284.2 99.9L285.4 95.1L286.4 89.9L287.7 86.1L288.2 83.4L288.7 82.9L289.7 82.9L290.4 84.1L294.7 106.4L295.8 109.9L295.6 110.9L295.2 111L296.5 112.9L298.9 114.5L298.8 113.4L297.6 112.1L297.7 111.1L302.1 102.1L302.2 100.4L300.9 98.9L300.9 98.1L301.7 96.2L305.4 89.1L305.5 87.4L304.4 85.9L304.3 84.9L304.9 83.1L307.9 77.9L308.7 75.9L308.8 74.1L307.7 72.6L307.6 71.6L308.4 69.6L312 62.9L312.1 60.9L310.9 59.4L310.9 58.4L315.2 49.9L315.5 48.9L315.5 47.6L314.2 46.1L314.2 45.4L315.2 43L318 38Z"/><path fill="#d4b7f0" d="M314.2 34L313.9 34.9L313.2 34.4L312.2 31.6L311.2 26.9L311.2 25.6L310.9 25.1L309.7 15.4L307.9 10.1L306.7 12.1L305.9 14.6L304.4 21.4L304.2 23.6L302.9 26.6L300.6 37.4L299.6 39.1L298.9 39.8L298.7 39.9L298.6 39.6L298.8 38.4L297.2 40.5L296 41.4L296.8 43.9L296.7 44.7L292.9 53.1L292.7 55.1L293.4 57L293.4 57.9L289.6 66.4L289.4 68.1L290.1 70.1L290 71.1L286.3 79.4L286.1 81.4L286.8 83.4L286.7 84.4L283 92.6L282.8 94.6L283.4 96.4L283.4 97.4L282.7 99.4L280.7 103.4L280.7 103.6L282.3 103.2L282.3 102.1L283.4 101.4L284.2 99.9L285.4 95.1L286.4 89.9L287.7 86.1L288.2 83.4L288.7 82.9L289.7 82.9L290.4 84.1L294.7 106.4L295.4 108.9L295.3 110.1L294.9 110.2L295.3 111.4L296.4 112.7L297 110.6L300.3 103.4L300.5 101.6L299.8 99.6L299.9 98.4L303.7 90.1L303.8 88.4L303.1 86.4L303.3 85.1L307 76.9L307.1 75.1L306.4 73.1L306.5 72.1L310.3 63.6L310.4 61.9L309.7 59.9L309.9 58.9L313.6 50.6L313.8 48.9L313.1 46.9L313.2 45.8L317.2 37.2Z"/><path fill="#c5a0ee" d="M313.8 33.4L313.4 34.1L313 33.9L312.2 31.6L311.2 26.9L311.2 25.6L310.9 25.1L309.7 15.4L307.9 10.1L306.7 12.1L305.9 14.6L304.4 21.4L304.2 23.6L302.9 26.6L300.6 37.4L299.6 39.1L298.9 39.8L298.7 39.9L298.6 39.6L298.8 38.4L297.2 40.4L297.6 42.6L297.9 42.4L298.2 42.9L298.2 43.9L297.4 45.8L297.2 45.9L296.9 45.2L294.1 51.6L293.9 53.9L294.3 55.4L294.7 55.2L294.9 55.4L294.9 56.9L294.2 58.8L293.9 58.9L293.7 58.2L290.8 64.9L290.7 67.6L290.9 68.4L291.4 68.2L291.7 68.6L291.4 70.9L290.9 71.8L290.7 71.9L290.4 71.2L287.9 76.6L287.3 78.9L287.3 80.1L287.7 82.1L287.9 81.4L288.4 81.9L288.2 83.1L289.7 82.9L290.4 84.1L293.4 99.1L293.4 100.1L295.2 107.9L295.3 108.6L294.6 109.5L295.3 111.4L295.8 111.9L299.1 104.1L299.3 102.4L298.9 100.1L299.1 98.9L302.3 91.4L302.6 89.6L302.2 86.9L302.4 85.6L305.8 77.4L305.9 75.6L305.5 73.6L305.7 72.6L309 64.6L309.3 62.6L308.8 60.4L309 59.4L312.5 50.9L312.6 49.1L312.2 47.1L312.3 46.1L315.8 37.9L316 36L314.7 34.7ZM282.8 102.9L282.8 102.1L284.2 99.9L286.1 92.9L286.1 92.1L286.3 91.9L286.4 89.9L287.9 85.1L287.9 84.9L287.4 84.9L287.2 84.2L284.2 90.9L283.9 92.4L284.3 95.1L284.2 96.4L281.3 102.9L281.2 103.6ZM297 44.9L297.3 44.9L297.2 44.5L297.1 44.6ZM293.8 57.9L294 57.9L293.9 57.5L293.9 57.6Z"/><path fill="#b283eb" d="M313.4 32.5L313.3 33.4L312.9 33.6L312.2 31.6L311.2 26.9L311.2 25.6L310.9 25.1L309.7 15.4L307.9 10.1L306.7 12.1L305.9 14.6L304.4 21.4L304.2 23.6L302.9 26.6L301.9 30.6L300.9 36.6L300.1 38.4L298.9 39.9L297.9 45.1L297.4 46.1L297.4 46.6L296.9 46.9L296.8 46.6L297.1 46.1L296.9 45.6L295.1 50.1L294.8 52.6L294.9 53.4L295.2 53.2L295.4 53.4L295.4 54.6L294.4 59.1L293.7 59.9L293.4 59.2L291.7 63.6L291.5 66.1L291.6 66.4L291.9 66.2L292.1 66.4L292.2 67.6L291.1 72.1L290.4 72.9L290.2 72.2L290.1 72.4L288.7 75.6L288.2 77.6L288.2 79.4L288.7 79.2L288.9 79.4L288.9 80.4L288.2 83.1L289.7 82.9L290.4 84.1L293.4 99.1L293.4 100.1L294.9 106.9L294.8 108.4L294.2 108.5L295.2 111L295.4 111L298.1 104.6L298.4 103.1L298.2 100.4L298.3 99.1L301 92.6L301.6 90.6L301.5 87.1L301.7 85.9L304.8 78.1L305 76.6L304.8 73.9L305 72.6L308.1 65.1L308.3 63.6L308.1 60.6L308.3 59.4L311.6 51.1L311.5 47.4L311.7 46.2L314.9 38.1L314.9 35ZM283.7 102.5L283.6 101.1L284.4 98.9L284.5 98.4L284.2 98.4L284 97.9L284.6 97.1L284.4 96.5L282.1 101.9L281.8 103.4ZM298.1 39.3L298.2 39.7L298.5 39.6L298.5 38.9L298.8 38.5ZM286.9 85.3L284.9 90.4L285 94.1L284.5 96.4L284.7 96.5L285.2 96.1L285.8 93.1L286.3 92.1L286.7 89.1L287.7 86.1L287.7 85.9L287.2 85.9Z"/><path fill="#9c63e8" d="M313.2 31.5L312.7 32.6L312.2 31.6L311.2 26.9L311.2 25.6L310.9 25.1L309.7 15.4L307.9 10.1L306.7 12.1L305.9 14.6L304.4 21.4L304.2 23.6L302.9 26.6L301.9 30.6L300.9 36.6L300.1 38.4L299.2 39.6L298.4 42.1L297.6 46.4L296.9 47.1L296.7 46.5L295.9 48.6L295.6 50.9L295.9 50.7L296.1 50.9L296.2 51.9L294.9 56.1L294.7 58.1L294.1 59.9L293.7 60.1L293.4 59.5L292.6 61.6L292.2 63.9L292.7 63.7L292.9 63.9L292.9 64.9L291.4 70.1L291.2 72.1L290.6 73.1L290.6 73.6L290.2 73.9L290 73.4L290.3 73.1L290.1 72.6L289 76.4L288.9 77.6L289.2 77.4L289.4 77.6L289.4 78.6L288.2 83.1L289.7 82.9L290.4 84.1L294.7 105.6L294.8 106.9L294.4 107.5L294 107.5L294.9 110.3L295.2 110.1L297.4 104.6L297.7 99.1L300.6 91.9L300.9 90.1L300.9 87.4L301.1 85.9L304.1 77.9L304.4 72.6L307.3 65.1L307.6 63.6L307.7 59.6L310.6 52.1L310.9 50.6L311 46.4L314.1 38.4L314.3 34.1L313.6 32.9ZM284.3 101.9L284.1 100.4L284.5 98.4L284.3 97.9L284.6 97.4L284.4 96.9L282.7 101.1L282.3 103.2L283.7 102.5ZM286.9 85.6L285.6 89.6L285.7 92.9L285.9 93L286 92.4L286.3 92.1L286.7 89.1L287.7 86.1L287.2 86.1ZM284.5 96.6L284.8 96.6L284.7 96.3L284.6 96.4Z"/><path fill="#8341e5" d="M312.9 30.5L312.4 31.6L311.9 30.6L311.2 26.9L311.2 25.6L310.9 25.1L309.7 15.4L307.9 10.1L306.7 12.1L305.9 14.6L304.4 21.4L304.2 23.6L302.9 26.6L301.9 30.6L300.9 36.6L300.1 38.4L299.2 39.6L298.4 42.1L297.7 46.4L297.1 48.1L296.7 48.4L296.9 48.9L296.9 49.9L295.7 53.1L294.1 60.4L293.9 61.1L293.4 61.4L293.7 61.9L293.6 62.4L293.2 62.6L293.4 63.6L292.4 66.1L290.9 73.1L290.4 74.4L290.4 75.1L289.9 75.4L290.2 76.6L289.2 79.1L288.2 83.1L289.7 82.9L290.4 84.1L294.4 104.4L294.6 105.6L294.3 106.4L293.7 106.5L294.6 109.5L294.9 109.4L296.7 104.6L297.2 99.1L300 91.6L300.5 85.9L303.5 77.6L303.9 72.6L306.8 64.6L307.2 59.4L309.9 52.1L310.3 50.4L310.3 47.6L310.5 46.1L313.4 38.4L313.8 33.3ZM284.3 101.9L284.3 100.4L284.6 100.1L284.6 98.6L284.9 97.1L284.7 96.5L283.2 100.4L282.9 102.9ZM296.5 47.4L296.8 47.4L296.7 46.9L296.6 47.1ZM296.4 47.8L296.3 48.6L296.4 48.7L296.7 48.4ZM293.3 60.4L293.5 60.4L293.4 59.9L293.4 60.1ZM293.2 60.7L293 61.6L293.2 61.7L293.4 61.4ZM292.9 62L292.9 62.9L293.2 62.6ZM289.7 74.7L289.6 75.6L289.7 75.7L289.9 75.4ZM286.9 85.9L286.3 88.6L286.3 90.6L286.4 90.7L286.5 89.6L287.2 87.9L286.8 87.1L287.1 86.6ZM284.8 96.1L285.1 96.1L284.9 95.8L284.9 95.9Z"/><path fill="#6a2be8" d="M312.7 29.5L312.2 30.3L311.7 29.6L311.2 26.9L311.2 25.6L310.9 25.1L309.7 15.4L307.9 10.1L306.7 12.1L305.9 14.6L304.4 21.4L304.2 23.6L302.9 26.6L301.9 30.6L300.9 36.6L300.1 38.4L299.2 39.6L298.7 41.1L297.2 48.9L295.7 53.1L294.9 56.1L293.7 63.1L292.4 66.1L291.4 70.1L290.4 75.9L289.2 79.1L288.2 83.1L289.7 82.9L290.4 84.1L294.2 103.1L294.3 104.6L294.1 105.4L293.5 105.5L294.2 108.6L294.7 108.4L296.1 104.6L296.7 98.9L299.4 91.4L300 85.6L302.9 77.6L303.4 72.4L306 65.1L306.7 59.1L309.3 52.1L310.1 45.9L312.8 38.1L313.1 34.1L313.5 32.5ZM285.1 99.9L284.8 99.6L284.8 98.4L285.1 98.1L284.9 96L283.7 99.6L283.5 101.4L283.6 102.5L284.3 101.9L285 100.4ZM285.1 95.6L285.3 95.6L285.2 95.2L285.1 95.4Z"/><path fill="#4e1aef" d="M312.4 28.5L311.9 29.6L311.2 26.9L311.2 25.6L310.9 25.1L309.7 15.4L307.9 10.1L306.7 12.1L305.9 14.6L304.4 21.4L304.2 23.6L302.9 26.6L301.9 30.6L300.9 36.6L300.1 38.4L299.2 39.6L298.7 41.1L297.2 48.9L295.7 53.1L294.9 56.1L293.7 63.1L292.4 66.1L291.4 70.1L290.4 75.9L289.2 79.1L288.2 83.1L289.7 82.9L290.4 84.1L293.9 101.9L294.1 103.6L293.8 104.4L293.4 104.5L294 107.6L294.4 107.6L295.6 104.4L296.3 98.4L299 90.6L299.6 85.1L302.3 77.6L302.9 72.1L305.5 64.9L306.3 58.9L308.8 51.9L309.6 45.6L312.3 37.9L312.7 33.6L313.3 31.5ZM285.3 99.1L285.1 98.4L285.6 98.1L285.3 97.9L285.3 95.9L285.6 95.6L285.4 94.5L284.1 98.6L283.9 101.6L284.2 101.9L285 100.4Z"/><path fill="#3116f8" d="M312.3 27.5L311.7 28.6L311.2 26.9L311.2 25.6L310.9 25.1L309.7 15.4L307.9 10.1L306.7 12.1L305.9 14.6L304.4 21.4L304.2 23.6L302.9 26.6L301.9 30.6L300.9 36.6L300.1 38.4L299.2 39.6L298.7 41.1L297.2 48.9L295.7 53.1L294.9 56.1L293.7 63.1L292.4 66.1L291.4 70.1L290.4 75.9L289.2 79.1L288.2 83.1L289.7 82.9L290.4 84.1L293.7 100.6L293.8 102.6L293.6 102.9L293.6 103.6L293.2 103.8L293.7 106.5L294.2 106.5L295 103.9L295.8 98.1L298.5 90.1L299.1 84.9L301.6 77.6L302.5 71.6L305 64.4L305.8 58.4L308.2 51.4L309.1 45.1L311.7 37.6L312.2 32.9L313 30.4ZM285.6 98.1L285.3 97.4L285.8 97.1L285.6 96.9L285.6 95.9L285.8 95.6L285.7 93.8L284.7 97.4L284.4 100.6L284.6 101.3L285 100.4Z"/><path fill="#181fff" d="M312.1 26.4L311.7 27.4L311.4 27.3L311.2 26.9L311.2 25.6L310.9 25.1L309.7 15.4L307.9 10.1L306.7 12.1L305.9 14.6L304.4 21.4L304.2 23.6L302.9 26.6L301.9 30.6L300.9 36.6L300.1 38.4L299.2 39.6L298.7 41.1L297.2 48.9L295.7 53.1L294.9 56.1L293.7 63.1L292.4 66.1L291.4 70.1L290.4 75.9L289.2 79.1L288.2 83.1L289.7 82.9L290.4 84.1L293.4 99.1L293.6 101.6L293.3 102.4L293 102.5L293.5 105.4L293.9 105.4L294.4 103.9L295.4 97.6L297.9 90.1L298.8 84.1L301.2 76.9L302.1 70.9L304.5 63.9L305.4 57.9L307.8 50.6L308.7 44.7L311.2 37.1L311.8 32.4L312.8 29.4ZM285.6 98.1L285.3 97.4L285.8 97.1L285.6 96.9L285.6 95.9L285.8 95.6L285.8 94.4L286.1 94.1L285.9 93L285.1 96.1L284.8 99.6L285.1 100Z"/><path fill="#0943ff" d="M311.9 25.5L311.4 26.3L310.9 25.1L309.7 15.4L307.9 10.1L306.7 12.1L305.9 14.6L304.4 21.4L304.2 23.6L302.9 26.6L301.9 30.6L300.9 36.6L300.1 38.4L299.2 39.6L298.7 41.1L297.2 48.9L295.7 53.1L294.9 56.1L293.7 63.1L292.4 66.1L291.4 70.1L290.4 75.9L289.2 79.1L288.2 83.1L289.7 82.9L290.4 84.1L293.4 99.1L293.3 100.6L292.7 101.2L293.3 104.5L293.7 104.5L294.2 102.6L295.1 96.6L297.5 89.6L298.4 83.6L300.8 76.4L301.7 70.5L304.1 63.4L305 57.4L307.4 50.1L308.3 44.1L310.8 36.6L311.4 31.9L312.5 28.3ZM285.9 96.8L285.5 96.6L285.5 95.9L285.8 95.6L285.8 94.4L286.1 94.1L285.9 93L285.4 95.9L285.2 97.9L285.4 98.1L285.1 98.4L285.1 98.9L285.4 99.2Z"/><path fill="#006dff" d="M311.8 24.4L311.6 25.4L311.2 25.6L310.9 25.1L309.7 15.4L307.9 10.1L306.7 12.1L305.9 14.6L304.4 21.4L304.2 23.6L302.9 26.6L301.9 30.6L300.9 36.6L300.1 38.4L299.2 39.6L298.7 41.1L297.2 48.9L295.7 53.1L294.9 56.1L293.7 63.1L292.4 66.1L291.4 70.1L290.4 75.9L289.2 79.1L288.2 83.1L289.7 82.9L290.4 84.1L293.2 97.9L293.1 99.9L292.5 100L293.2 103.7L293.5 103.6L293.9 101.9L294.7 96.4L297.1 88.9L298 83.4L300.4 75.9L301.3 70.1L303.8 62.6L304.6 56.9L307 49.6L307.9 43.8L310.4 36.1L311.1 31.1L312.3 27.4ZM288.9 85L288.6 85.6L288.6 86.4ZM285.9 93.4L285.8 94.1L285.9 94.2ZM285.9 96.5L285.6 96.6L285.8 97.1L285.3 97.4L285.3 97.9L285.6 98.2Z"/><path fill="#009eff" d="M311.7 23.3L311.6 23.9L311.2 24.3L310.7 23.4L309.7 15.4L307.9 10.1L306.7 12.1L305.9 14.6L304.4 21.4L304.2 23.6L302.9 26.6L301.9 30.6L300.9 36.6L300.1 38.4L299.2 39.6L298.7 41.1L297.2 48.9L295.7 53.1L294.9 56.1L293.7 63.1L292.4 66.1L291.4 70.1L290.4 75.9L289.2 79.1L288.2 83.1L289.7 82.9L290.4 84.1L292.9 96.6L292.8 99.1L292.3 99.2L293 102.5L293.3 102.4L293.5 101.4L294.4 95.6L296.8 88.4L297.7 82.6L300.1 75.4L300.9 69.6L303.4 62.1L304.3 56.4L306.7 49.1L307.6 43.1L310.1 35.6L310.8 30.6L312.1 26.4ZM289 84.6L288.6 85.6L288.6 86.2ZM286.4 95.2L285.9 95.2L285.6 95.9L285.6 96.9L285.8 97.1L285.4 97.4L285.4 97.9L285.6 98.1Z"/><path fill="#00c6f6" d="M311.6 22.4L310.9 23.6L310.4 21.6L309.7 15.4L307.9 10.1L306.7 12.1L305.9 14.6L304.4 21.4L304.2 23.6L302.9 26.6L301.9 30.6L300.9 36.6L300.1 38.4L299.2 39.6L298.7 41.1L297.2 48.9L295.7 53.1L294.9 56.1L293.7 63.1L292.4 66.1L291.4 70.1L290.4 75.9L289.2 79.1L288.2 83.1L289.7 82.9L290.4 84.1L292.7 95.4L292.6 98.4L292.2 98.5L292.7 101.3L293.1 101.1L294.1 94.9L296.4 87.9L297.4 81.9L299.7 74.9L300.7 68.9L303 61.6L304 55.9L306.4 48.4L307.3 42.6L309.7 35.1L310.5 29.9L311.9 25.4ZM289.1 84.4L288.8 84.4L288.9 85.2ZM288.8 85.6L288.6 85.6L288.6 86ZM286.6 94L285.8 94.4L285.8 95.6L285.6 95.9L285.7 96.8L286 96.8Z"/><path fill="#00e6e5" d="M311.4 21.3L311.3 21.9L310.9 22.3L310.4 21.6L309.7 15.4L307.9 10.1L306.7 12.1L305.9 14.6L304.4 21.4L304.2 23.6L302.9 26.6L301.9 30.6L300.9 36.6L300.1 38.4L299.2 39.6L298.7 41.1L297.2 48.9L295.7 53.1L294.9 56.1L293.7 63.1L292.4 66.1L291.4 70.1L290.4 75.9L289.2 79.1L288.2 83.1L289.7 82.9L290.4 84.1L292.4 94.1L292.6 95.4L292.3 95.6L292.3 97.1L292 97.2L292.5 100L292.9 100L293.6 95.4L296.1 87.6L297 81.6L299.4 74.4L300.4 68.1L302.7 61.1L303.7 55.1L306.1 47.9L307 41.9L309.4 34.6L310.2 29.1L311.8 24.3ZM289 84.4L288.8 84.4L288.9 84.9ZM286.7 93.5L286.1 93.6L285.7 96.4L286.1 96.4Z"/><path fill="#00f0bd" d="M311.3 20.4L310.7 21.6L310.2 19.9L309.7 15.4L307.9 10.1L306.7 12.1L305.9 14.6L304.4 21.4L304.2 23.6L302.9 26.6L301.9 30.6L300.9 36.6L300.1 38.4L299.2 39.6L298.7 41.1L297.2 48.9L295.7 53.1L294.9 56.1L293.7 63.1L292.4 66.1L291.4 70.1L290.4 75.9L289.2 79.1L288.2 83.1L289.7 82.9L290.4 84.1L292.2 92.9L292.3 94.6L292.1 94.9L292.1 95.9L291.7 96L292.3 99.2L292.7 99.2L293.4 94.2L295.8 86.9L296.8 80.9L299.1 73.6L300.1 67.6L302.4 60.5L303.4 54.5L305.7 47.4L306.7 41.4L309.1 34.1L309.9 28.6L311.7 23.3ZM286.9 92.2L286.4 92.2L286.1 92.6L286.1 94.1L285.8 94.4L285.9 95.3L286.4 95.3Z"/><path fill="#00f08a" d="M311.1 19.1L311.1 19.9L310.7 20.4L310.4 20.3L310.2 19.9L309.7 15.4L307.9 10.1L306.7 12.1L305.9 14.6L304.4 21.4L304.2 23.6L302.9 26.6L301.9 30.6L300.9 36.6L300.1 38.4L299.2 39.6L298.7 41.1L297.2 48.9L295.7 53.1L294.9 56.1L293.7 63.1L292.4 66.1L291.4 70.1L290.4 75.9L289.2 79.1L288.2 83.1L289.7 82.9L290.4 84.1L291.9 91.6L292.1 94.1L291.5 94.8L292.2 98.4L292.5 98.4L293.2 93.4L295.6 86.1L296.5 80.4L298.8 73.1L299.8 67.1L302.2 59.9L303.2 53.9L305.5 46.6L306.4 40.9L308.8 33.6L309.8 27.6L311.5 22.3ZM287.1 91.4L286.9 91.8L286.3 91.9L286.1 92.6L286.2 94.1L286.6 94.1Z"/><path fill="#1bf057" d="M311 18.4L310.4 19.6L309.9 18.1L309.9 16.9L309.2 13.4L307.9 10.1L306.7 12.1L305.9 14.6L304.4 21.4L304.2 23.6L302.9 26.6L301.9 30.6L300.9 36.6L300.1 38.4L299.2 39.6L298.7 41.1L297.2 48.9L295.7 53.1L294.9 56.1L293.7 63.1L292.4 66.1L291.4 70.1L290.4 75.9L289.2 79.1L288.2 83.1L289.7 82.9L290.4 84.1L291.9 91.6L291.8 93.4L291.2 93.5L292 97.2L292.3 97.1L292.9 92.9L295.3 85.6L296.3 79.6L298.6 72.4L299.5 66.6L301.9 59.4L302.9 53.4L305.2 46.1L306.2 40.2L308.5 32.9L309.5 27.1L311.4 21.2ZM288.3 87.4L288.1 87.6L288.1 88ZM287.3 90.1L287.2 90.5L286.7 90.5L286.3 90.9L286.3 92.4L286.1 92.6L286.2 93.6L286.7 93.6ZM288 88.4L287.8 88.6L287.8 89Z"/><path fill="#3df024" d="M310.8 17.1L310.8 17.9L310.4 18.6L310.2 18.6L309.9 18.1L309.9 16.9L309.2 13.4L307.9 10.1L306.7 12.1L305.9 14.6L304.4 21.4L304.2 23.6L302.9 26.6L301.9 30.6L300.9 36.6L300.1 38.4L299.2 39.6L298.7 41.1L297.2 48.9L295.7 53.1L294.9 56.1L293.7 63.1L292.4 66.1L291.4 70.1L290.4 75.9L289.2 79.1L288.2 83.1L289.7 82.9L290.4 84.1L291.7 90.4L291.6 92.6L291.1 92.8L291.7 96L292.1 95.9L292.7 92.2L295 85.1L296 78.9L298.3 71.9L299.3 65.9L301.6 58.6L302.6 52.6L304.9 45.6L305.9 39.5L308.2 32.4L309.2 26.4L311.3 20.2ZM288.3 87.2L288.1 87.4L288.1 88ZM288.1 88.1L287.8 88.1L287.3 89.9L286.6 90.1L286.3 90.9L286.4 92.4L286.9 92.4Z"/><path fill="#77f410" d="M291.7 94.8L292.5 91.1L294.8 84.4L295.7 78.4L298 71.4L299 65.4L301.4 58.1L302.3 52.1L304.7 45L305.7 38.9L308 31.6L308.9 25.9L311.1 19.2L310.8 16.2L310.6 16.4L310.6 17.1L310.2 17.6L309.7 16.4L309.7 15.4L309.2 13.4L307.9 10.1L306.7 12.1L305.9 14.6L304.4 21.4L304.2 23.6L302.9 26.6L301.9 30.6L300.9 36.6L300.1 38.4L299.2 39.6L298.7 41.1L297.2 48.9L295.7 53.1L294.9 56.1L293.7 63.1L292.4 66.1L291.4 70.1L290.4 75.9L289.2 79.1L288.2 83.1L289.7 82.9L290.4 83.9L291.4 89.1L291.6 90.4L291.3 90.6L291.3 92.1L291 92.2L291.5 94.8ZM288.4 86.8L288.6 86.1L288.4 86ZM288.3 87.1L288.2 86.8L287.3 89.4L286.6 89.6L286.6 90.6L286.3 90.9L286.4 91.8L286.9 91.8L287 91.6Z"/><path fill="#b2f800" d="M291.4 93.6L291.7 93.5L292.2 90.6L294.5 83.9L295.3 78.4L297.8 70.6L298.6 65.4L301.1 57.4L302.1 51.4L304.4 44.4L305.2 39.1L307.8 31.1L308.7 25.3L311 18.3L310.6 15.3L310.3 16.6L309.9 16.8L309.2 13.4L307.9 10.1L306.7 12.1L305.9 14.6L304.4 21.4L304.2 23.6L302.9 26.6L301.9 30.6L300.9 36.6L300.1 38.4L299.2 39.6L298.7 41.1L297.2 48.9L295.7 53.1L294.9 56.1L293.7 63.1L292.4 66.1L291.4 70.1L290.4 75.9L289.2 79.1L288.2 83.1L289.7 82.9L290.4 83.9L291.4 88.9L291.1 90.9L290.8 91ZM288.7 84.8L288.6 85.4L288.7 85.5ZM288.6 86.4L288.4 85.5L287.4 88.1L286.9 88.2L286.6 88.9L286.7 90.6L287.2 90.6L287.3 90.4Z"/><path fill="#dcf400" d="M291.2 92.8L291.4 92.8L292 89.9L294.2 83.5L295.1 77.6L297.7 69.6L298.4 64.4L300.8 57.1L301.8 51.1L304.1 44.1L305.1 37.9L307.6 30.1L308.4 24.6L310.9 17.1L310.3 14.1L310.3 15.1L309.9 15.6L309.5 15.1L309.2 13.4L307.9 10.1L306.7 12.1L305.9 14.6L304.4 21.4L304.2 23.6L302.9 26.6L301.9 30.6L300.9 36.6L300.1 38.4L299.2 39.6L298.7 41.1L297.2 48.9L295.7 53.1L294.9 56.1L293.7 63.1L292.4 66.1L291.4 70.1L290.4 75.9L288.4 81.9L288.2 83.1L289.7 82.9L290.4 84.1L291.2 87.9L290.8 89.6L290.5 89.8ZM288.9 83.5L288.8 84.1L288.9 84.2ZM288.7 84.2L288.6 84.9L288.2 85.3L287.9 85.1L287.7 85.6L287.4 87.6L286.8 87.9L286.8 88.6L286.6 88.9L286.7 90L287.2 90L288 87.9L288.8 85.4Z"/><path fill="#ffea00" d="M291.2 92.1L291.7 89.4L294.1 82.4L294.9 76.6L297.3 69.4L298.2 63.6L300.7 56.1L301.5 50.4L303.9 43.1L304.8 37.4L307.3 29.9L308.1 24.1L310.8 16.3L310.1 13.3L310.1 14.4L309.7 14.8L309.2 14.1L309.2 13.4L307.9 10.1L306.7 12.1L305.9 14.6L304.4 21.4L304.2 23.6L302.9 26.6L301.9 30.6L300.9 36.6L300.1 38.4L299.2 39.6L298.7 41.1L297.2 48.9L295.7 53.1L294.9 56.1L293.7 63.1L292.4 66.1L291.4 70.1L290.4 75.9L288.4 81.9L288.2 83.1L289.7 82.9L290.4 84.1L290.9 87.4L290.8 88.1L290.3 88.5L291 92.1ZM289.1 83.6L288.4 84.1L288.2 83.9L287.9 84.4L287.7 86.4L286.8 86.9L286.7 89.5L287.2 89.4L288.5 85.9L289 84.1Z"/><path fill="#ffc900" d="M290.8 90.9L293.8 81.9L294.7 75.9L297.1 68.6L297.9 63L300.4 55.5L301.2 49.9L303.7 42.4L304.6 36.6L307.1 29.1L307.9 23.4L310.5 15.4L310 12.8L309.8 12.9L309.8 13.9L309.4 14.3L307.9 10.1L306.7 12.1L305.9 14.6L304.4 21.4L304.2 23.6L302.9 26.6L301.9 30.6L300.9 36.4L300.1 38.4L299.2 39.6L298.7 41.1L297.2 48.9L295.7 53.1L294.9 56.1L293.9 61.9L293.6 62.4L293.7 63.1L292.4 66.1L291.4 70.1L290.4 75.9L288.7 80.9L288.2 83.1L288.4 83.4L287.9 84.4L287.9 85.1L287.7 85.9L287.1 86.1L286.8 86.9L286.9 88.1L287.4 88.2L289 83.9L289.1 83.6L288.5 83.1L288.9 82.9L289.7 82.9L290.4 83.9L290.7 85.4L290.8 86.6L290.6 87.4L290.1 87.5ZM296.3 49.1L296.6 49.1L296.4 48.8L296.3 48.9ZM293.2 61.8L293.1 62.4L293.2 62.5Z"/><path fill="#ffa800" d="M290.7 89.7L293.5 81.6L294.2 75.9L296.8 68.4L297.6 62.6L300.1 55.1L300.9 49.4L303.4 42L304.2 36.4L306.7 29.1L307.5 23.1L310.2 14.9L310.4 14.3L309.7 12L309.6 13.1L309.4 13.4L309.2 13.3L307.9 10.1L306.7 12.1L305.9 14.6L304.4 21.4L304.2 23.6L302.9 26.6L301.9 30.6L300.9 36.6L300.1 38.4L299.2 39.6L298.7 41.1L297.4 47.9L296.9 48.1L296.8 47.6L296.6 47.6L296.6 48.6L296.3 49.1L296.9 49.1L296.9 49.9L295.7 53.1L294.2 59.6L294.1 60.9L293.7 61.1L293.4 60.5L293.3 61.6L293.1 61.9L293.2 62.5L293.6 62.4L293.7 63.1L292.4 66.1L291.4 70.1L290.7 74.6L290.2 75.1L290.4 75.9L288.7 80.9L288.2 83.9L287.9 84.6L287.1 85.1L287.1 86.6L286.8 87.4L286.9 87.7L287.4 87.7L288.7 84.1L288.9 82.9L289.7 82.9L290.1 83.4L290.6 85.1L290.3 86.4L289.9 86.5ZM303.3 22.6L303.6 22.1L303.4 22ZM289.9 74.5L289.8 75.4L289.9 75.5L290.2 75.1Z"/><path fill="#ff7d00" d="M290.4 88.6L293.2 80.9L293.9 75.4L296.6 67.6L297.3 62.1L299.9 54.4L300.6 48.9L303.2 41.4L303.9 35.6L306.4 28.5L306.8 26.6L307.2 22.6L310 14.4L310.2 13.4L309.3 10.9L309.2 12.6L308.7 12.4L307.9 10.1L306.7 12.1L305.9 14.6L304.4 21.4L304.2 23.6L302.9 26.6L301.9 30.6L300.9 36.6L300.1 38.4L299.2 39.6L298.7 41.1L297.6 46.6L297.2 46.9L297.1 46.4L296.8 46.4L296.8 47.4L296.6 47.6L296.6 48.6L296.3 49.1L296.9 49.1L296.9 49.9L295.7 53.1L294.4 59.4L293.9 59.6L293.8 59.1L293.6 59.1L293.6 60.4L293.3 60.6L293.1 62.4L293.6 62.4L293.7 63.1L292.4 66.1L290.9 73.4L290.7 73.6L290.4 73.2L290.1 73.4L289.8 75.4L290.4 75.4L290.4 76.1L289.2 79.1L288.2 83.4L287.3 83.9L287.1 86.1L287.2 86.4L287.7 86.4L288.9 82.9L289.7 82.9L290.1 83.4L290.4 84.4L290.1 85.4L289.7 85.5ZM303.4 22.5L304.1 22.1L303.8 21.6L303.8 19.8ZM300 35.9L300.6 35.4L300.4 34Z"/><path fill="#ff5100" d="M290.2 87.4L290.4 87.4L293 80.4L293.6 74.9L296.2 67.4L296.6 65.6L296.9 61.6L299.8 53.4L300.2 48.4L303 40.4L303.6 35.1L306.4 27.1L306.8 22.1L309.7 14L310 12.7L309.1 10.4L308.9 11.9L308.5 11.6L307.9 10.1L306.7 12.1L305.4 16.6L304.9 19.9L304.4 20L304.1 19.6L304.1 18.7L303.4 22.5L304.2 22L304.4 22.4L304.1 23.9L302.9 26.6L301.6 32.9L301.2 33.2L300.8 32.9L300.8 31.6L300 35.8L300.7 35.3L300.9 35.4L300.9 36.4L300.1 38.4L299.2 39.6L298.4 42.1L297.9 45.4L297.4 45.6L297.3 45.1L297.1 45.1L296.6 48.9L297.1 48.9L297.2 49.4L295.7 53.1L294.6 58.4L294.2 58.6L293.9 58L293.6 59.1L293.2 62.1L293.9 62.1L293.9 62.6L292.4 66.1L291.4 71.1L290.9 71.4L290.8 70.9L290.6 70.9L290.6 71.9L290.3 72.1L289.9 75.1L289.9 75.4L290.4 75.4L290.4 76.4L289.7 77.6L288.4 82.1L287.6 82.6L287.3 84.9L287.1 85.1L287.2 85.9L287.7 85.9L288.9 82.6L289.7 82.9L290.1 83.4L289.8 84.6L289.6 84.8Z"/><path fill="#ff2907" d="M289.9 86.6L290.2 86.6L292.8 79.6L293.1 77.9L293.2 74.4L296.2 65.9L296.5 61.1L299.4 53.4L299.7 51.6L299.8 48.1L302.9 39.4L303.1 34.9L306.2 26.4L306.5 21.6L309.4 13.4L309.7 12L308.8 9.6L308.7 11.1L308.2 10.9L307.9 10.1L306.7 12.1L305.2 18.1L304.7 18.2L304.3 17.5L303.4 22L303.9 22.2L304.2 22L304.4 22.4L304.1 23.9L302.9 26.6L301.9 31.1L301.1 31.1L301.1 30.2L300.1 35.4L300.2 35.7L300.9 35.4L300.9 36.4L300.1 38.4L299.2 39.6L298.4 43.1L297.9 43.4L297.8 42.9L297.6 42.9L296.8 46.6L296.8 48.6L297.4 48.6L297.4 49.1L296.4 50.9L295.7 53.1L294.9 57.1L294.4 57.4L294.3 56.9L294.1 56.9L294.1 57.9L293.6 59.4L293.5 61.9L294.1 61.9L294.2 62.4L292.9 64.6L291.6 69.9L291.2 70.1L291.1 69.6L290.8 69.6L290.1 73.9L290.2 75.1L290.6 75.1L290.7 75.6L289.7 77.6L288.4 81.9L289.4 82.4L289.6 83.4L289.1 83.6L289.1 84.4L289.2 83.9L289.5 84.4ZM287.7 82.5L287.6 83.6L287.3 83.9L287.4 84.6L287.9 84.6L288.6 82.9L288.4 82.1Z"/><path fill="#ff030f" d="M308.6 9.4L308.6 10.4L308.2 10.6L307.9 10.1L307.7 10.3L306.7 12.1L305.7 16.1L304.9 16.2L304.8 15.3L303.7 20.2L304 21.9L304.7 22.1L304.7 22.4L304.2 22.9L304.1 23.9L302.9 26.6L302.4 29.4L301.7 29.5L301.3 29.1L300.4 33.9L300.6 35.1L301.2 35.4L300.6 37.4L299.2 39.6L298.6 41.9L298.2 42.1L298.1 41.6L297.8 41.6L297.8 42.6L297.3 43.9L297.1 45.4L297.2 47.6L297.3 48.4L297.9 48.6L296.4 50.9L295.4 54.9L294.9 55.1L294.7 54.5L294.3 55.6L294.3 56.6L293.8 58.1L293.8 60.1L294 61.6L294.7 61.9L293.7 63.1L292.9 64.6L291.9 68.9L291.7 69L291.2 68.5L290.8 69.6L290.4 73.4L290.7 74.9L291.4 75.1L290.4 76.1L289.7 77.6L288.6 81.6L288.2 81.9L288.1 81.4L287.8 81.4L287.6 83.4L288.2 83.4L288.4 82.7L288.8 82.9L289.1 84.4L289.2 83.9L289.7 85.6L289.9 85.6L290.9 83.3L292.5 79.1L292.8 77.1L292.6 74.1L295.7 66.1L296.1 64.1L295.9 61.1L298.6 54.4L299.3 51.9L299.5 50.1L299.3 47.6L301.7 41.6L302.6 38.9L302.8 36.9L302.5 34.6L305.7 26.6L306.1 24.4L305.9 21.4L309.2 12.8L309.4 11.2Z"/><path fill="#ff326c" d="M308.1 9.4L308.1 9.9L306.7 12.1L306.2 14.1L305.7 14.5L305.1 14.1L304 18.8L304.4 20.1L305.2 20.1L305.9 19.2L308.6 13.4L309.1 10.5L308.8 9.6L308.4 9.3ZM300.7 32.4L301.2 33.3L302.2 33L304.4 28.7L305.8 24.4L305.7 22.6L305.2 22L304.1 22.1L304.7 22.4L304.2 22.9L304.1 23.9L303.4 25.1L302.8 27.4L301.9 27.5L301.8 27.2ZM301.4 35.2L299.1 40.1L298.7 40.4L298.4 39.8L298.1 40.6L297.4 44.4L297.4 45.8L297.9 46.5L298.7 46.4L299.4 45.4L302 39.4L302.4 37.6L302.5 36.1L301.9 35.2ZM298.1 48.9L297.1 49.6L296.4 50.9L295.6 53.9L294.8 53.6L294.8 54.4L294.6 54.6L294.3 56.6L294.1 56.9L294.1 58.9L294.4 59.6L295.2 59.7L295.9 58.9L298.6 52.9L299.1 50.9L299.1 49.4L298.7 48.4L298.2 48.4ZM294.8 62.1L293.7 63.1L292.9 64.6L292.4 66.9L291.9 67.1L291.8 66.6L291.6 66.6L291.6 67.4L291.3 67.6L291.3 68.4L290.8 69.9L290.8 71.9L291.2 72.9L291.9 72.9L292.7 72L295.3 66.1L295.8 64.1L295.8 62.6L295.4 61.7L294.9 61.7ZM289.7 84.7L291.4 80.8L292.4 77.9L292.5 75.6L291.9 74.8L291.4 74.9L291.2 75.6L290.4 76.1L289.7 77.6L289.1 79.9L288.7 80.1L288.6 79.6L288.3 79.6L288.1 81.1L287.8 81.4L287.8 82.1L288.5 82.4L289.1 84.2L289.2 83.9Z"/><path fill="#ff68b2" d="M307.3 9.4L307.3 10.6L307 11.4L306.4 12L305.9 12L305.8 11.7L305.1 14.1L304.3 17.4L304.7 18.1L305.4 18.1L306.2 17.2L308.5 12.1L308.8 9.6L308.4 9.3ZM301 30.4L301.2 31.2L302.2 31.2L302.9 30.3L304.2 27.9L305.5 23.9L305.4 22.4L304.7 22L303.6 22.4L304.1 22.6L304.1 23.6L303.2 25.2L302.7 25.2L302.6 25L302.1 26.1ZM299.1 38.1L298.6 38.9L298.6 39.6L297.8 41.9L297.7 43.9L297.9 44.5L298.2 44.5L298.9 44.4L299.4 43.8L301.3 40.1L302.1 37.1L302.1 35.9L301.8 35.4L300.7 35.2L300.3 35.6L300.8 35.9L300.5 37.4L299.7 38.5L299.2 38.5ZM297.2 48.5L296.8 48.9L297.3 49.1L297.3 49.4L296.4 51.4L295.9 51.6L295.7 51L295.1 52.6L294.4 55.9L294.4 57.4L294.7 57.7L295.7 57.5L296.4 56.5L297.8 53.6L298.7 51.1L298.8 49.4L298.6 48.6ZM293.9 61.8L293.6 62.1L294.1 62.4L294 62.6L292.9 64.6L292.7 64.6L292.6 64.1L292.3 64.1L291.8 65.6L291.8 66.4L291.6 66.6L291.6 67.4L291.1 68.6L291.1 70.4L291.4 70.9L292.2 70.9L292.9 70L294.4 67L295.3 64.4L295.5 62.9L295.3 61.9ZM290.4 75L290.2 75.5L290.7 75.6L290.6 75.9L289.7 77.9L288.8 77.9L287.8 81.6L287.8 82.1L288.6 82.4L288.9 83.4L289.5 83.4L290.4 81.7L291.6 78.9L292.2 76.9L292.2 75.6L291.9 75Z"/><path fill="#ff9ada" d="M304.7 15.9L304.9 16.3L305.7 16.2L306.7 15L308.2 11.5L308.4 9.3L307.3 9.4L306.6 10.1L305.8 11.6ZM301.4 29.1L301.7 29.5L302.4 29.4L303.9 27.1L305.1 23.6L305.1 22.4L304.7 22L304.2 22L303.3 22.6L303.3 23.4L302.1 26.1ZM300 35.9L298.6 38.9L298.6 39.6L298.1 40.9L298.1 42.4L298.4 42.7L298.9 42.7L299.4 42.3L300.9 39.5L301.7 37.1L301.6 35.4L300.7 35.2ZM297.2 48.5L295.8 50.4L295.1 52.6L294.7 54.9L294.9 55.9L295.7 55.9L296.4 55L298.3 50.9L298.4 48.6ZM293.9 61.8L293.1 62.6L291.8 65.6L291.4 67.9L291.4 68.8L291.7 69.1L292.4 69L293.2 68.1L294.9 64.2L295.1 61.9ZM290.4 75L289.1 77.1L288.6 78.6L288.6 79.4L288.3 79.6L288.1 81.9L288.7 82.2L289.2 82.2L290.2 80.8L291.7 76.9L291.8 75.1Z"/><path fill="#ffafe7" d="M305.8 11.6L305.2 14.3L305.9 14.4L306.7 13.5L307.8 11.1L308 9.3L307.3 9.4L306.6 10.1ZM301.8 27.1L301.9 27.6L302.7 27.5L303.4 26.6L304.5 24.1L304.7 22.4L303.7 22.2L303.3 22.6L303.3 23.4ZM298.8 38.6L298.5 40.4L298.7 40.8L299.2 40.8L299.9 40.1L300.9 38.1L301.3 36.6L301.2 35.4L300.7 35.3L300 35.9ZM297.2 48.5L296.3 49.4L295.3 51.9L295.2 53.6L295.4 54L295.9 54L296.4 53.5L297.9 50.4L298 48.6ZM293.9 61.8L293.1 62.6L292.3 64.1L291.9 65.6L291.9 67.2L292.9 66.9L294.4 64.1L294.7 61.9ZM290.4 75L288.8 77.9L288.5 79.6L288.7 80.4L289.4 80.3L289.9 79.7L291.2 76.9L291.4 75.1Z"/><path fill="#ffbbf0" d="M305.8 11.9L306.4 12.1L306.9 11.4L307.3 10.4L307.3 9.4L306.6 10.1ZM302.5 25.1L303.2 25.2L303.4 24.9L304 23.6L303.9 22.6L303.3 22.7ZM300 36L299.2 38.5L299.7 38.5L300.2 38L300.7 36.7L300.7 35.9ZM296.7 49.1L295.9 50.6L295.9 51.7L296.7 51.4L297.4 49.9L297.4 49.1ZM293.2 62.6L292.6 63.6L292.7 64.8L293.2 64.8L293.4 64.5L294 63.1L293.9 62.3ZM290.2 75.4L289.2 77.3L289.2 77.9L289.4 78L289.9 78L290.4 77.1L290.7 76.4L290.7 75.4Z"/>
<path d="M234.6 44.2L234.6 79.7L309.3 122.9L385.1 79.1" stroke="#a6a6a6" stroke-width=".6" fill="none"/><path d="M234.6 79.7L232.9 80.7M271.9 101.3L270.2 102.3M309.3 122.9L307.6 123.9M309.3 122.9L311 123.9M347.2 101L348.9 102M385.1 79.1L386.8 80.1M234.6 77.8h-2M234.6 62.7h-2M234.6 47.6h-2" stroke="#a6a6a6" stroke-width=".6" fill="none"/><text class="s" x="230.7" y="81.7" text-anchor="end" font-size="9.3" fill="#3c3c3c" stroke="#3c3c3c" stroke-width=".1">0</text><text class="s" x="230.7" y="66.6" text-anchor="end" font-size="9.3" fill="#3c3c3c" stroke="#3c3c3c" stroke-width=".1">0.1</text><text class="s" x="230.7" y="51.5" text-anchor="end" font-size="9.3" fill="#3c3c3c" stroke="#3c3c3c" stroke-width=".1">0.2</text><text class="s" x="230.3" y="91.6" text-anchor="end" font-size="9.3" fill="#3c3c3c" stroke="#3c3c3c" stroke-width=".1">20</text><text class="s" x="265.8" y="113.1" text-anchor="middle" font-size="9.3" fill="#3c3c3c" stroke="#3c3c3c" stroke-width=".1">0</text><text class="s" x="299.6" y="134.8" text-anchor="middle" font-size="9.3" fill="#3c3c3c" stroke="#3c3c3c" stroke-width=".1">-20</text><text class="s" x="320.1" y="134.8" text-anchor="middle" font-size="9.3" fill="#3c3c3c" stroke="#3c3c3c" stroke-width=".1">-20</text><text class="s" x="353.7" y="112.9" text-anchor="middle" font-size="9.3" fill="#3c3c3c" stroke="#3c3c3c" stroke-width=".1">0</text><text class="s" x="393.8" y="91.6" text-anchor="middle" font-size="9.3" fill="#3c3c3c" stroke="#3c3c3c" stroke-width=".1">20</text><text class="s" x="264" y="133.8" text-anchor="middle" font-size="9.8" fill="#3c3c3c" stroke="#3c3c3c" stroke-width=".1" font-style="italic">t</text><text class="s" x="356.6" y="133.4" text-anchor="middle" font-size="9.8" fill="#3c3c3c" stroke="#3c3c3c" stroke-width=".1" font-style="italic">x</text><text class="s" x="212.7" y="61.5" text-anchor="middle" font-size="9.8" fill="#3c3c3c" stroke="#3c3c3c" stroke-width=".1" font-style="italic" transform="rotate(-90 212.7 61.5)">u</text><text class="a" x="272.7" y="15.6" text-anchor="middle" font-size="10" fill="#1a1a1a" stroke="#1a1a1a" stroke-width=".22">(b)</text>
<path d="M437.5 42.7L513.5 -0.1" stroke="#e4e4e4" stroke-width="0.5" fill="none"/><path d="M513.5 -0.1L588.8 43" stroke="#e4e4e4" stroke-width="0.5" fill="none"/><path d="M475.5 58.7L475.5 21.3" stroke="#e4e4e4" stroke-width="0.5" fill="none"/><path d="M513.5 37.3L513.5 -0.1" stroke="#e4e4e4" stroke-width="0.5" fill="none"/><path d="M551.1 58.9L551.1 21.5" stroke="#e4e4e4" stroke-width="0.5" fill="none"/><path d="M588.8 80.4L588.8 43" stroke="#e4e4e4" stroke-width="0.5" fill="none"/><path d="M437.5 80.1L513.5 37.3" stroke="#e4e4e4" stroke-width="0.5" fill="none"/><path d="M513.5 37.3L588.8 80.4" stroke="#e4e4e4" stroke-width="0.5" fill="none"/>
<path fill="#ebd3f1" fill-rule="evenodd" d="M506.3 10.9L507 10.9L507.5 12.1L508.3 16.9L509.1 25.1L510.8 30.9L512.1 33.1L512.9 34L514.2 34.5L515.7 34.3L516.2 34.8L518.1 38.6L520.7 38.8L523.4 41.2L526.2 42.3L528.2 43.7L530.4 44.8L533.4 46.7L535.2 47.5L588.5 78.1L588.2 78.7L528.7 112L522.7 116L520.2 117L518.4 117L516.4 116L515.9 116.7L514.4 118L513.2 118.5L511.9 118.2L511.1 117.1L510.6 113.4L510.3 108.6L509.4 107.8L508.4 107.5L507.3 108.9L507.3 109.4L506.9 109.5L506.6 108.6L506.3 105.9L505.9 104.8L504.5 110.6L502.9 115.2L502.6 115.4L502.1 114.6L501.5 112.1L500.9 110.6L499.5 112.4L498.3 113.6L497.9 113.7L497.1 112.9L495.7 110.3L494.9 110L493.4 110.2L492.7 110L490.2 107.8L488.9 107.5L487.4 106.7L485.4 105.3L483.2 104.2L481.4 103L437.8 78.1L437.8 77.9L438.7 77.3L442.2 75.5L446.2 73L467.9 61L479.9 54L487.7 50L491.7 47.2L494.6 44.6L496.2 43.5L498.2 42.8L499.4 42.7L500.8 38.9L501.6 34.6L502 33.4L504.3 19.9L504.6 16.9L505.3 13.1Z"/><path fill="#e2c8f1" d="M517.4 37.5L516.9 38L516.5 37.9L515.2 35.1L513.9 35.4L512.4 34.8L511.2 33.6L510 31.4L508.2 25.4L507.2 15.4L506.9 14.9L506.9 13.9L506.4 13.1L505.4 17.4L505.2 20.1L504.9 20.6L502.9 33.6L501.1 41.1L500.6 42.6L499.9 43.6L498.7 43.6L496.7 44.4L494.9 45.6L490.2 49.6L489.4 49.9L489 49.6L489.8 48.5L487.7 50L479.9 54L438.7 77.3L437.8 77.9L437.8 78.1L483.2 104.2L485.4 105.3L487.4 106.7L489.1 107.5L489.7 106.8L490.7 106.9L491.7 108.1L491.1 108.6L492.7 110L493.4 110.3L494 110.2L494 109.6L494.7 109.1L496.2 109.4L497.4 111.1L496.6 112L497.7 113.6L498.2 112.8L498.4 113.6L498.9 113L498.3 112.6L498.4 112.4L500 110.1L500.7 109.6L501.4 109.7L501.9 110.1L502.4 112.4L502.7 112.9L502.9 112.6L505 104.4L505.4 103.9L506.4 103.9L506.9 104.4L507.2 106.9L507.4 107.2L507.9 106.7L509.2 106.6L509.9 106.9L511.1 108.1L511.7 115.4L512.2 117.1L512.9 117.6L514.2 116.9L515.9 115.2L516.4 115.1L516.9 114.4L518.2 113.7L518.4 114.4L517.4 115.4L518.9 116.1L520.7 115.9L520.5 116.6L520.2 117L522.7 116L528.7 112L588.2 78.7L588.5 78.1L535.2 47.5L533.4 46.7L530.4 44.8L528.2 43.7L526.2 42.3L523.4 41.2L522.1 40L522 40.4L521.4 40.8L520.2 39.6L518.7 39.6L518.6 39.4L519.2 38.7L518.1 38.6ZM516.4 41.1L516.9 41.4L516.9 41.9L516.4 42.3L515.7 42.6L514.7 42.4L514.9 42L515.4 41.9ZM516.7 49.2L516.9 49.9L516.7 50.3L515.9 50.6L515 50.4L516.2 49.4ZM516.9 57.2L517.2 57.9L516.9 58.3L516.2 58.6L515.2 58.4L516.4 57.4ZM515.9 66.1L516.9 65.4L517.1 65.6L517.2 66.1L516.9 66.6L516.2 66.9L515.2 66.6L515.4 66.2ZM515.5 74.6L517.2 73.4L517.4 73.6L517.4 74.1L517.2 74.6L516.4 74.9ZM515.7 82.6L517.4 81.4L517.6 81.6L517.7 82.1L517.4 82.6L516.7 82.9ZM515.9 90.4L517.4 89.7L517.6 89.9L517.7 90.4L517.4 90.8L516.7 91.1L515.7 90.9ZM516 98.9L517.7 97.7L517.9 97.9L517.9 98.4L517.7 98.8L516.9 99.1ZM517.4 105.9L517.9 105.7L518.2 106.1L517.4 107.1L516.7 107.1L516.2 106.9L517.2 106.1L517.4 106.1ZM502.9 115L502.5 115.2L502.6 115.4L502.9 115.3Z"/><path fill="#dabef0" d="M517.2 37L516.7 37.6L516.4 37.6L515.2 35.1L513.9 35.4L512.4 34.8L511.2 33.6L510 31.4L508.2 25.4L507.2 15.4L506.9 14.9L506.9 13.9L506.4 13.1L505.4 17.4L505.2 20.1L504.9 20.6L502.9 33.6L501.1 41.1L500.6 42.6L499.9 43.6L498.7 43.5L496.7 44.4L494.9 45.6L492.2 48.1L491.7 48.1L491.5 47.3L487.7 50L479.9 54L467.9 61L446.2 73L438.7 77.3L437.8 77.9L437.8 78.1L483.2 104.2L485.4 105.3L487.4 106.7L490.2 107.8L492.7 110L493.4 110.3L494.3 110.1L494.3 109.6L494.7 109.1L496.2 109.4L497 110.6L496.3 111.5L497.2 113L499.2 110.7L499.4 110.4L499.7 110.7L500.7 109.6L501.4 109.7L501.9 110.1L502.7 112.9L503.7 110.1L505 104.4L505.4 103.9L506.4 103.9L506.9 104.4L507.2 106.9L507.4 107.2L507.9 106.7L509.2 106.6L509.9 106.9L511.1 108.1L511.7 115.4L512.2 117.1L512.9 117.6L515.2 116.1L515.7 115.4L515.7 114.9L515.9 114.9L518.4 112.2L520.7 110.2L520.8 110.4L520.5 110.9L518.5 113.4L518.7 113.5L519.2 113L519.4 113.6L517.4 115.4L518.9 116.1L519.9 116.2L520 116.4L519.4 117L520.2 117L522.7 116L528.7 112L588.2 78.7L588.5 78.1L535.2 47.5L533.4 46.7L530.4 44.8L528.2 43.7L526.2 42.3L523.4 41.2L521.2 39.2L521 39.9L520.7 40.1L520.2 39.6L519 39.4L520 38.7L518.6 38.6L516.5 41.1L516.7 41.2L517.9 40L518.4 40.1L518.4 40.4L516.4 42.3L514.9 42.9L514.2 42.8L513.9 42.4L514.5 42.1L518 38.5ZM497.9 45.9L498.1 47.1L496.4 50.1L494.7 51.8L494.4 51.9L494.2 51.2L493.3 51.6L497.5 46.4ZM519.5 45.6L516.8 49.1L516.9 49.2L518.2 48L518.4 48.6L516.7 50.3L515.4 50.9L514.2 50.6L514.2 50.4L514.7 50.1L517.7 47ZM520.7 102.1L518.2 105.4L518.4 105.5L519.2 104.8L519.4 105.4L517.9 106.8L516.7 107.4L515.7 107.4L515.2 107.1L515.2 106.9L515.9 106.6L519.2 103.2ZM498.2 53.9L498.4 55.1L496.6 58.1L494.9 59.8L494.7 59.9L494.4 59.2L493.7 59.7L493.5 59.6L497.7 54.4ZM519.7 53.6L517 57.1L517.2 57.2L518.2 56.2L518.7 56.4L518.6 56.6L516.9 58.3L515.7 58.9L514.5 58.6L514.4 58.4L514.9 58.1L517.7 55.2ZM520 69.9L517.5 73.1L517.7 73.2L518.7 72.3L518.9 72.9L517.2 74.6L515.9 75.1L514.7 74.9L514.7 74.6L515.2 74.4L518.2 71.2L519.9 69.7ZM520.2 77.9L517.5 81.4L517.7 81.5L518.7 80.5L518.9 80.6L518.9 81.1L517.4 82.6L516.2 83.1L515.2 83.1L514.7 82.9L514.7 82.6L515.4 82.4L518.4 79.2ZM520.5 94.1L518 97.4L518.2 97.5L518.9 96.8L519.1 97.4L517.7 98.8L516.4 99.4L515.4 99.4L515 99.1L514.9 98.9L515.7 98.6L519.2 95L520.4 94ZM498.4 61.9L498.6 63.1L496.9 66.1L494.9 68.1L494.7 68.1L494.4 67.4L493.6 67.9L498 62.4ZM519.8 61.9L517.3 65.1L517.4 65.2L518.4 64.3L518.6 64.9L516.9 66.6L515.4 67.1L514.5 66.9L514.4 66.6L515 66.4L518.2 63L519.7 61.7ZM520.3 86.1L517.7 89.4L517.9 89.5L518.9 88.5L519.1 89.1L517.4 90.8L515.9 91.4L515 91.1L515 90.6L515.4 90.6L518.7 87.2L520.2 85.9ZM498.4 70.2L498.6 71.4L496.9 74.4L495.2 76.1L494.9 76.1L494.8 75.6L495.5 74.9L495.4 74.7L494.4 75.6L493.8 75.9L498 70.6ZM498.7 78.2L498.9 79.4L497.1 82.4L495.2 84.3L494.9 84.4L494.8 83.9L495.8 82.9L495.7 82.7L494.3 83.9L494 83.9L498.2 78.6ZM498.7 86.4L498.9 87.6L497.1 90.6L495.4 92.3L495.2 92.4L495 91.9L495.8 91.1L495.7 90.9L494.1 92.1L498.2 86.9ZM498.9 94.4L499.1 95.6L497.4 98.6L495.7 100.3L495.4 100.4L495.3 99.9L496 99.1L495.9 98.9L494.4 100.2L494.3 100.1L498.5 94.9ZM499.2 102.4L499.4 103.6L497.6 106.6L495.9 108.3L495.3 108.1L496.3 107.1L496.2 106.9L494.7 108.2L494.5 108.1L498.7 102.9ZM495.2 50.2L494.7 50.6L494.9 50.7L495.3 50.4ZM495.2 58.4L494.7 58.9L494.9 59L495.3 58.6ZM495.4 66.4L494.9 66.9L494.7 67.1L494.9 67.2L495.5 66.6ZM494.4 67.4L494.8 67.4L494.7 67.2ZM500.4 111.3L499.8 111.9L499.8 112.1ZM499.6 112.4L498.9 112.5L498.7 112.2L498.3 113.4ZM503.2 114.2L502 114.5L502.6 115.4L502.9 115.3ZM516 116.7L515.7 116.8L514 118.2L514.4 118L515.9 116.8Z"/><path fill="#d2b4f0" d="M498.5 42.9L498.5 43.1L497.4 44L494.4 46L493.7 46L493.5 45.6L491.7 47.2L487.7 50L479.9 54L467.9 61L446.2 73L438.7 77.3L437.8 77.9L437.8 78.1L483.2 104.2L485.4 105.3L487.4 106.7L490.2 107.8L492.2 109.6L495 106.1L499.2 101.6L499.7 101.4L499.9 101.9L499.9 102.6L497.6 106.6L496.2 108.1L495.9 108.1L495.7 107.6L493.4 109.9L493.4 110.3L494.8 110L495.2 109.1L496.2 109.4L496.6 109.9L495.9 110.8L496.8 112.5L499.7 109.7L499.9 110.1L500.4 109.7L501.2 109.6L501.9 110.1L502.7 112.9L503.7 110.1L505 104.4L505.4 103.9L506.4 103.9L506.9 104.4L507.2 106.9L507.4 107.2L507.9 106.7L509.2 106.6L509.9 106.9L511.1 108.1L511.7 115.4L512.2 117.1L512.9 117.6L513.9 117.1L515.4 115.9L515.5 115.6L514.9 114.9L515.7 114.6L520.9 108.8L525.4 104.8L525.5 105.1L523.7 107.6L518.8 113.1L519.4 113.4L519.4 113.6L518.2 114.8L517.4 115.1L517.4 115.4L517.7 115.6L519.2 116.2L518.8 117L520.2 117L521.5 116.5L525.7 112.8L525.4 114.2L528.7 112L588.2 78.7L588.5 78.1L535.2 47.5L533.4 46.7L530.4 44.8L528.2 43.7L526.2 42.3L523.7 41.3L521 44.6L517.4 48.6L517.9 48.9L517.9 49.1L516.7 50.3L515.4 50.9L513.9 50.8L513.7 50.1L514.2 50.1L519.2 44.6L523.2 41L520.7 38.8L519 38.7L517.1 40.6L517.7 40.9L517.6 41.1L516.4 42.3L514.9 42.9L513.9 42.9L513.5 42.6L513.4 42.1L514.2 41.9L517.7 37.9L517 36.5L516.4 37.1L516 36.9L515.2 35.1L513.9 35.4L512.4 34.8L511.2 33.6L510 31.4L508.2 25.4L507.2 15.4L506.9 14.9L506.9 13.9L506.4 13.1L505.4 17.4L505.2 20.1L504.9 20.6L502.9 33.6L501.7 39.1L500.4 43.1L499.9 43.6L499.2 43.6L499 42.7ZM498.4 44.9L498.6 46.1L497.4 48.6L495.4 51.4L494.4 52.1L494.3 51.6L494.8 51.1L494.7 50.9L490.7 54.8L488.5 56.4L490 54.1L492.9 50.6L498.2 45.1ZM498.7 52.9L498.9 54.1L497.9 56.1L495.6 59.4L494.7 60.1L494.5 59.6L495 59.1L494.9 58.9L490.7 63.1L488.9 64.4L488.7 64.4L490.4 61.9L493.4 58.4L498.4 53.1ZM524.4 48.2L522.1 51.6L517.6 56.6L518.2 56.9L518.1 57.1L516.9 58.3L515.9 58.8L514.2 58.8L513.9 58.4L514.5 58.1L519.2 52.9L522.4 49.7ZM524.7 64.4L522.6 67.6L517.8 72.9L518.4 73.1L518.4 73.4L517.2 74.6L516.2 75.1L514.4 75.1L514.2 74.4L514.7 74.4L520.4 68.1L523.2 65.5ZM524.9 72.4L524.5 73.4L522.8 75.6L518.1 80.9L518.7 81.1L518.6 81.4L517.4 82.6L516.4 83.1L514.7 83.1L514.4 82.6L514.9 82.4L519.2 77.6L522.7 74.2ZM525.3 88.6L522.8 92.1L518.3 97.1L518.9 97.4L518.9 97.6L517.7 98.8L516.7 99.3L514.9 99.3L514.7 98.6L515.2 98.6L522.2 91.1ZM498.7 61.2L498.9 62.4L498.4 63.6L496.9 66.1L495.6 67.6L494.7 68.4L494.5 67.9L495 67.4L494.9 67.1L491.4 70.6L488.9 72.6L490.1 70.6L493 67.1L498.4 61.4ZM524.6 56.4L522.1 59.9L517.6 64.9L518.2 65.1L518.1 65.4L516.4 66.8L515.4 67.1L514.2 67.1L513.9 66.4L514.7 66.1L521.7 58.6L523.7 56.9ZM525.1 80.6L522.6 84.1L518.3 88.9L518.9 89.1L518.9 89.4L516.9 91.1L515.9 91.4L514.9 91.3L514.4 90.6L515.2 90.4L522.2 82.9L524.4 80.9ZM525.4 96.9L522.7 100.6L518.6 105.1L519.2 105.4L519.1 105.6L517.9 106.8L516.7 107.4L515.2 107.4L514.7 107.1L514.7 106.6L515.4 106.6L521.9 99.6L524.7 97.1L525.2 96.8ZM498.9 69.2L499.1 70.4L497.9 72.9L495.6 75.9L494.9 76.4L494.8 75.9L495.3 75.4L495.2 75.1L491.4 78.8L489 80.6L490.5 78.4L493.4 74.9L498.7 69.4ZM499.2 77.2L499.4 78.1L498.4 80.4L497.1 82.4L495.6 84.1L495.2 84.4L495.2 83.4L491.2 87.3L489.4 88.7L489.2 88.6L493 83.6L498.7 77.7L498.7 77.4ZM499.2 85.4L499.4 86.6L498.1 89.1L497.1 90.6L495.7 91.9L495.6 92.4L495.2 92.6L495 92.4L495.5 91.6L495.4 91.3L491.9 94.8L489.4 96.8L490.4 95.1L493.4 91.4L498.9 85.6ZM499.4 93.4L499.6 94.6L497.4 98.6L496.2 99.8L495.9 99.9L495.7 99.3L491.9 103.1L489.6 104.9L490.8 102.9L493.9 99.1L499.2 93.6ZM516.2 116.2L514.4 117.8L513.1 118.5L514.4 118L515.9 116.8ZM518.4 105.2L518.2 105.8L518.5 105.4ZM500.4 111L499.4 112.2L498.6 112.4L498.5 112.9L498.7 113.1L499.6 112.4L500.5 111.1ZM518.7 113.2L518.4 113.8L518.8 113.4ZM503.2 114.2L502.9 113.8L501.9 114L502.6 115.4L502.9 115.3Z"/><path fill="#c6a2ee" d="M496.7 111.9L500.2 108.4L500.4 109.4L500.7 109.6L501.4 109.7L501.9 110.1L502.7 112.9L503.7 110.1L505 104.4L505.4 103.9L506.4 103.9L506.9 104.4L507.2 106.9L507.4 107.2L507.9 106.7L509.2 106.6L509.9 106.9L511.1 108.1L511.2 110.1L511.4 110.6L511.4 113.1L511.7 113.6L511.9 116.6L512.2 117.1L512.9 117.6L514.2 117.1L515.5 115.6L514.7 115.1L514.7 114.6L515.2 114.6L523.6 104.6L525.9 101.4L526.6 99.9L526.4 99.3L525.7 99.3L523.7 100.6L517.8 105.9L518.4 106.1L517.9 106.8L516.7 107.4L514.9 107.4L514.5 107.1L514.4 106.6L515.2 106.4L523.9 95.9L525.7 93.4L526.4 91.9L526.4 91.4L525.7 91.2L523.7 92.4L517.8 97.6L518.4 97.9L517.7 98.8L516.4 99.4L514.9 99.4L514.5 99.1L514.4 98.6L515 98.4L523.1 88.6L525.2 85.9L526.2 84.1L526.2 83.4L525.9 83.1L525.2 83.2L523.9 84L517.5 89.6L518.2 89.9L517.4 90.8L515.9 91.4L514.9 91.3L514.2 90.9L514.2 90.4L514.7 90.4L523.3 80.1L526 76.1L525.9 75L525.2 75.1L523.9 75.8L517.3 81.6L517.9 81.9L517.4 82.6L516.2 83.1L514.4 83.1L514 82.9L513.9 82.4L514.7 82.2L523 72.1L525.7 68.4L525.9 67.1L525.4 66.9L524.7 67.1L522.4 68.8L517.4 73.3L517.4 73.5L517.9 73.6L517.2 74.6L515.9 75.1L514.4 75.1L514 74.9L513.9 74.4L514.5 74.1L524.2 62.4L525.6 60.1L525.7 58.9L524.4 59.1L521.7 61.2L517 65.4L517.7 65.6L516.9 66.6L515.4 67.1L514.4 67.1L513.7 66.4L513.9 66L514.3 66.1L523.4 55.1L525.3 52.4L525.5 50.9L524.4 50.9L521.9 52.8L516.8 57.4L517.4 57.6L516.9 58.3L515.7 58.9L513.9 58.9L513.5 58.6L513.4 58.1L514.2 57.9L522.8 47.6L525 44.4L525.4 42.9L524.7 42.7L524.2 42.9L521.9 44.6L517 49.1L517.7 49.4L516.7 50.3L515.4 50.9L513.9 50.9L513.5 50.6L513.4 50.1L514 49.9L522.2 40.1L520.7 38.8L519.3 38.7L516.7 41.1L517.4 41.4L516.4 42.3L514.9 42.9L513.7 42.8L513.2 42.4L513.2 41.9L513.8 41.9L517.5 37.4L516.8 36L516.2 36.6L515.2 35.1L513.9 35.4L512.4 34.8L511.2 33.6L510 31.4L508.2 25.4L507.2 15.4L506.9 14.9L506.9 13.9L506.4 13.1L505.4 17.4L505.2 20.1L504.9 20.6L502.9 33.6L501.7 39.1L500.6 42.6L499.9 43.6L499.2 43.6L499 42.7L498.2 42.8L496.2 43.5L494.5 44.6L491.7 47.2L489.9 48.4L488.1 50.9L487.4 52.4L487.4 53L487.7 53.1L489.2 52.6L492.7 49.7L498.7 43.9L499.1 44.1L499.1 45.1L496.4 50.1L495.2 51.4L495.2 50.3L492.6 53.4L488.7 58.4L487.6 60.6L487.6 61.1L487.9 61.2L489.4 60.6L498.7 52.4L498.9 52.2L499.1 52.4L499.1 53.6L496.6 58.1L495.4 59.4L495.3 58.9L495.5 58.4L495.3 58.4L489.4 65.6L488.1 67.6L487.7 68.6L487.7 69.1L488.2 69.3L489.7 68.7L498.9 60.4L499.2 60.2L499.4 60.4L499.4 61.1L498.9 62.6L496.9 66.1L495.9 67.1L495.7 67.1L495.4 66.6L489.6 73.6L487.9 76.6L487.9 77.2L488.2 77.4L488.9 77.3L489.9 76.7L493.4 73.7L499.4 67.9L499.6 68.1L499.6 69.4L496.9 74.4L495.7 75.6L495.5 75.1L495.8 74.6L495.6 74.6L489.7 81.9L488.4 83.9L488.1 84.9L488.1 85.4L488.7 85.4L490.2 84.7L493.7 81.7L499.7 75.9L499.9 76.1L499.9 76.9L499.4 78.4L497.1 82.4L496.2 83.1L496 82.6L495.8 82.6L489.9 89.9L488.7 91.6L488.2 92.9L488.2 93.4L488.7 93.5L490.2 92.9L499.4 84.6L499.7 84.4L499.9 84.6L499.9 85.6L497.1 90.6L496.2 91.4L496 90.9L495.8 90.9L490.1 97.9L488.9 99.6L488.4 100.9L488.4 101.5L488.7 101.6L489.4 101.5L490.4 100.9L493.9 97.9L499.9 92.2L500.1 92.4L500.2 93.1L499.9 94.1L497.4 98.6L496.4 99.4L496.3 98.9L496 98.9L489.2 107.6L490.2 107.8L491.1 108.6L500.2 100.2L500.4 100.6L500.4 101.4L498.1 105.9L496.9 107.3L496.7 107.4L496.4 106.8L494 109.6L494 110.2L494.9 110L495.7 110.3ZM520.2 116.9L525.7 110.1L526.7 108.4L526.7 107.4L525.7 107.4L524.4 108.2L518 113.9L518.7 114.1L518.6 114.4L517.4 115.4L518.4 115.9L518.5 116.4L518.3 116.9ZM500.5 111.1L500.4 110.8L499.7 111.8L498.9 111.5L498.6 112.9L499 112.9ZM503.2 114L503 113.1L502.7 112.9L502.2 113.5L501.8 113.5L502.1 114.6L502.5 115.2L503 115L503.4 114ZM516.2 116.3L515.4 116.5L513.7 118L512.7 118.4L513.2 118.5L514.4 118L515.9 116.8Z"/><path fill="#ba8fec" d="M506.4 13.1L505.2 18.9L505.2 20.1L504.4 23.6L504.4 24.9L504.2 25.4L503.4 30.9L502.9 32.6L502.9 33.6L501.7 39.1L500.6 42.6L500.4 43.1L499.4 43.9L499.1 45.1L496.9 49.4L496.2 49.9L496 49.4L495.8 49.4L492.4 54.1L491.7 55.6L491.7 56.4L491.9 56.5L493.2 56.2L496.2 53.9L499.4 50.9L499.6 51.1L499.6 52.4L497.9 56.1L496.7 57.8L496.4 57.9L496.3 57.4L496 57.4L493.2 61.4L492 63.4L491.9 64.6L492.9 64.5L494.2 63.8L499.2 59.6L499.3 59.1L499.7 58.9L499.9 59.9L499.6 60.9L497.4 65.4L496.7 65.9L496.5 65.4L496.3 65.4L492.9 70.1L492.1 71.6L492.1 72.6L492.9 72.7L494.4 71.8L499.4 67.6L499.7 67L500.1 67.1L500.2 67.9L497.9 72.9L496.9 74.1L496.7 74.1L496.5 73.6L496.3 73.6L492.6 78.9L492.2 79.9L492.2 80.7L493.2 80.7L494.2 80.1L499.9 75.2L500.2 76.4L497.6 81.6L496.9 82.1L496.8 81.6L496.5 81.6L493.1 86.4L492.4 87.9L492.4 88.8L493.4 88.8L494.9 87.8L499.7 83.8L499.9 83.2L500.4 83.4L500.4 84.1L498.1 89.1L497.4 90.1L497.2 90.1L496.9 89.5L496.5 89.9L494.4 92.9L492.7 95.6L492.6 96.9L493.4 96.9L494.7 96.2L500.2 91.4L500.4 92.6L498.4 97.1L497.4 98.3L497.2 98.4L497 97.9L496.8 97.9L493.4 102.6L492.7 104.1L492.7 104.9L493.4 105L494.7 104.4L500.4 99.4L500.7 99.9L500.6 100.6L498.9 104.6L497.7 106.3L497.4 106.4L497.3 105.9L497 105.9L494.3 109.6L494.3 110.1L494.9 110L495.7 110.3L496.4 111.4L500.2 108.1L500.4 107.5L500.7 107.4L500.9 108.4L500.4 109.4L500.7 109.6L501.4 109.7L501.9 110.1L502.4 111.9L502.3 112.6L501.6 112.8L502.1 114.6L502.9 114.3L503.2 114.4L503.5 113.8L503 113.6L503.3 112.1L503 111.9L503.7 110.1L505 104.4L505.4 103.9L506.4 103.9L506.9 104.4L507.2 106.9L507.4 107.2L507.9 106.7L509.2 106.6L509.9 106.9L511.1 108.1L511.7 115.4L512.2 117.1L513 117.9L512.7 118.2L512.1 118.3L513.2 118.5L514.1 118.1L516.2 116.4L515.9 116L515.5 116.1L515.5 115.6L514.7 115.3L514.4 114.6L515 114.4L519.7 108.4L521.7 105.6L522.4 104.1L522.4 103.3L521.2 103.4L517.2 106.2L517.2 106.5L517.7 106.6L516.9 107.3L514.9 107.4L514.2 106.9L514.2 106.4L514.8 106.4L520.2 99.4L521.8 97.1L522.3 95.9L522.2 95.1L520.9 95.3L517.7 97.8L517.3 98.1L517.8 98.6L517.7 98.8L516.7 99.3L514.9 99.4L514 98.9L514 98.1L514.7 98.2L520.6 90.6L522.1 87.9L521.9 87L520.7 87.3L517.4 89.8L517 90.1L517.5 90.4L517.5 90.6L516.9 91.1L515.2 91.4L514 90.9L514 90.1L514.5 90.1L520.9 81.9L521.9 80.1L522 79.1L521.2 79L519.9 79.6L516.7 82L516.7 82.2L517.2 82.4L516.4 83.1L514.2 83.1L513.7 82.6L513.7 82.1L514.3 82.1L519.8 75.1L521.6 72.4L521.8 71.1L521.7 70.9L520.9 70.9L519.7 71.6L516.4 74L516.4 74.2L516.9 74.4L516.2 75.1L514.2 75.1L513.5 74.6L513.4 74.1L513.7 73.8L514.2 74L519.9 66.6L521.5 64.1L521.6 62.9L520.7 62.8L518.7 64.1L516.5 65.9L517 66.1L517 66.4L516.4 66.8L514.4 67.1L513.7 66.8L513.4 66.1L513.7 65.8L514 65.9L519.9 58.4L521.3 56.1L521.5 54.9L520.7 54.7L519.4 55.4L517.2 57.2L516.2 57.8L516.2 58L516.7 58.1L515.9 58.8L513.9 58.9L513.2 58.1L513.4 57.8L513.8 57.9L519.6 50.4L521.1 48.1L521.3 46.9L521.2 46.7L520.4 46.7L519.2 47.4L516.9 49.2L515.9 49.8L515.9 50L516.4 50.1L515.7 50.8L513.7 50.8L513 50.4L512.9 49.9L513.2 49.5L513.7 49.8L518.1 44.1L520.3 41.1L521.2 39.2L520.7 38.8L519.7 38.9L516.4 41.2L516 41.6L516.5 41.9L516.5 42.1L515.9 42.6L513.9 42.9L513 42.4L512.9 41.9L513.6 41.6L517.3 37L516.4 35.1L515.9 35.9L515.2 35.1L513.9 35.4L512.4 34.8L511.2 33.6L510 31.4L508.2 25.4L508.2 23.9L507.9 23.4L507.9 21.6L507.7 21.1L506.9 13.9ZM491.6 47.4L491.7 48.5L492.4 48.4L493.2 48.1L498.9 43.4L499 42.7L498.2 42.8L496.2 43.5L494.5 44.6ZM500.2 110.4L499.7 111.5L498.8 111.6L498.9 112.5L499.4 112.4L500.5 111.1L500.5 110.4ZM519.6 116.9L522.3 112.9L522.6 112.1L522.4 111.3L521.2 111.6L517.3 114.4L517.9 114.6L517.4 115.4L518 115.9L517.6 116.6L518.4 117Z"/><path fill="#ab78ea" d="M506.4 13.1L505.2 18.9L505.2 20.1L504.4 23.6L504.4 24.9L504.2 25.4L503.4 30.9L502.9 32.6L502.9 33.6L501.1 41.1L500.6 42.6L499.7 43.6L497.6 48.1L497.2 48.4L497 47.9L496.8 47.9L494.4 51.6L493.7 53.1L493.9 54L494.9 53.8L497.2 52.3L499.7 50.2L499.9 50.4L499.9 51.4L499.6 52.4L497.9 56.1L497.2 56.6L497 56.1L496.8 56.1L496.5 56.9L494.2 60.4L493.9 61.9L494.7 62L495.7 61.6L499.9 58.2L500.2 58.6L500.1 59.4L498.4 63.6L497.7 64.6L497.4 64.6L497.3 64.1L497 64.1L496.8 64.9L494.4 68.4L494.1 69.9L494.2 70.1L494.9 70.1L495.9 69.6L499.7 66.8L499.9 66.2L500.4 66.4L500.4 67.1L498.1 72.4L497.7 72.6L497.5 72.1L497.3 72.1L494.7 76.3L494.2 77.4L494.3 78.1L495.2 78.2L495.9 77.8L500.2 74.4L500.4 75.6L498.4 80.4L497.7 80.9L497.5 80.4L497.3 80.4L497 81.1L494.7 84.6L494.4 86.1L495.2 86.3L496.2 85.8L499.9 83L500.2 82.5L500.6 82.6L500.7 83.4L500.1 85.1L498.4 88.6L497.9 88.9L497.8 88.4L497.5 88.4L494.9 92.6L494.6 94.1L494.7 94.3L495.4 94.3L496.4 93.9L500.2 91L500.4 90.5L500.9 90.6L500.9 91.4L498.6 96.6L498.2 96.9L498 96.4L497.8 96.4L495.2 100.5L494.7 101.6L494.8 102.4L495.7 102.4L496.7 101.9L500.7 98.7L500.9 99.9L498.9 104.6L498.2 105.1L498 104.6L497.8 104.6L497.5 105.4L495.2 108.9L494.9 110L495.7 110.3L495.9 110.7L500.9 106.7L501.2 107.6L500.4 109.4L500.7 109.6L501.4 109.7L501.9 110.1L502.4 111.6L501.6 112.5L501.9 114.1L502.9 113.6L503.3 114.3L503.6 113.2L503 113.1L503.3 112.4L503.2 111.1L503.7 110.1L505 104.4L505.4 103.9L506.4 103.9L506.9 104.4L507.2 106.9L507.4 107.2L507.9 106.7L509.2 106.6L509.9 106.9L511.1 108.1L511.9 116.9L512.9 117.6L512.4 118L511.7 118L513.1 118.5L516 116.4L515.7 115.7L514.2 115.1L513.9 114.4L514.7 114.2L517.6 110.4L519.8 107.1L520.4 105.6L520.4 105.1L520.2 104.9L519.2 105.1L516.7 106.5L516.5 106.6L517 106.9L516.7 107.4L514.9 107.4L514.2 107.1L513.9 106.6L514 106.1L514.5 106.1L519.3 99.6L520.2 97.9L520.2 96.9L519.2 96.9L516.4 98.5L516.4 98.8L516.9 98.9L516.4 99.4L514.7 99.3L513.7 98.4L513.7 97.9L514.4 98L517.9 93.4L519.5 90.9L520.1 89.6L519.9 88.8L518.9 88.9L516.7 90.2L516.7 91.1L515.9 91.4L514.2 91.1L513.7 90.4L513.7 89.9L514.3 89.9L518.9 83.6L519.8 81.9L519.9 80.9L518.9 80.7L516.2 82.2L516 82.4L516.5 82.6L516.2 83.1L514.4 83.1L513.7 82.8L513.4 82.4L513.5 81.9L514.1 81.9L518.5 75.9L519.6 73.9L519.8 72.9L519.7 72.6L518.7 72.7L515.9 74.2L515.9 74.5L516.4 74.6L515.9 75.1L514.2 75.1L513.2 74.1L513.4 73.5L513.9 73.7L517.4 69.1L519 66.6L519.6 65.4L519.6 64.6L518.4 64.6L516.2 66L516.2 66.8L515.4 67.1L514.2 67.1L513.2 66.1L513.2 65.9L513.8 65.6L518.4 59.4L519.3 57.6L519.4 56.6L518.9 56.4L518.2 56.6L515.7 58L515.5 58.1L516 58.4L515.7 58.9L513.9 58.9L513.2 58.6L512.9 58.1L513 57.6L513.6 57.6L518 51.6L519.1 49.6L519.3 48.6L519.2 48.4L518.4 48.4L515.4 50L515.4 50.2L515.9 50.4L515.4 50.9L513.7 50.8L512.7 49.9L512.9 49.3L513.4 49.5L517.6 43.9L518.8 41.9L519.1 40.6L518.9 40.3L517.9 40.4L515.7 41.8L515.7 42.6L514.9 42.9L513.7 42.8L512.5 42.1L512.5 41.4L513.2 41.6L517.1 36.5L516.2 34.7L515.7 34.3L515.4 35.1L514.7 35.4L513.9 35.4L512.4 34.8L511.2 33.6L510 31.4L508.2 25.4L508.2 23.9L507.9 23.4L507.9 21.6L507.7 21.1L506.9 13.9ZM493.5 45.6L493.7 45.9L494.4 45.9L495.2 45.5L498.4 43.1L498.4 42.7L496.2 43.5L494.5 44.6ZM500.4 110L499.9 110.6L499 110.9L498.9 112.3L499.4 112.3L500.5 110.9ZM518.9 116.9L520.4 114.4L520.6 113.6L520.4 113L519.4 113.1L516.8 114.6L517.3 114.9L517.3 116.1L517.1 116.4L518.4 117Z"/><path fill="#995ee8" d="M506.4 13.1L505.2 18.9L505.2 20.1L504.4 23.6L504.4 24.9L504.2 25.4L503.4 30.9L502.9 32.6L502.9 33.6L501.1 41.1L500.6 42.6L499.7 43.6L498.4 46.6L497.9 46.9L497.8 46.4L497.5 46.4L496.8 48.1L495.6 49.9L495.1 51.4L495.2 52L496.2 52L499.9 49.4L500.1 49.6L500.2 50.6L499.1 53.6L498.2 55.3L497.7 54.8L497.5 54.9L495.5 58.6L495.3 59.9L495.7 60.1L496.7 59.9L500.2 57.4L500.4 58.6L498.6 63.1L498.2 63.4L498 62.9L497.8 62.9L495.7 66.6L495.4 67.9L495.7 68.2L496.9 67.9L499.9 65.9L500.4 65.2L500.7 66.4L498.9 70.9L498.4 71.1L498.3 70.6L498 70.6L497.3 72.4L496.1 74.1L495.7 75.1L495.6 76.1L496.4 76.3L497.4 75.8L500.2 73.9L500.4 73.2L500.7 73.2L500.9 73.6L500.1 76.6L498.9 79.4L498.4 79.5L498.2 79L498 79.1L496.2 82.4L495.8 83.6L495.9 84.3L496.9 84.2L499.7 82.4L500.7 81.4L500.9 81.6L500.9 82.6L500.1 85.1L498.9 87.3L498.7 87.4L498.5 86.9L498.3 86.9L497.5 88.6L496.2 90.9L495.9 92.2L496.2 92.4L497.4 92.2L500.4 90.1L500.9 89.4L501.2 90.6L499.4 95.1L498.9 95.4L498.8 94.9L498.5 94.9L497.8 96.6L496.9 97.9L496.2 99.4L496.1 100.4L496.9 100.5L497.9 100L500.7 98.1L500.9 97.5L501.2 97.4L501.4 97.9L500.9 100.1L499.4 103.6L498.9 103.8L498.7 103.2L498.5 103.4L496.4 107.1L496.3 108.1L496.4 108.6L497.7 108.4L500.7 106.3L501.2 105.7L501.4 106.9L500.4 109.4L500.7 109.6L501.4 109.7L501.9 110.1L502.1 110.9L501.7 111.2L501.2 111.2L501.8 113.5L502.9 112.9L503.1 113.9L503.4 114L504 112.2L503.3 112.1L503.3 111.1L505 104.4L505.4 103.9L506.4 103.9L506.9 104.4L507.2 106.9L507.4 107.2L507.9 106.7L509.2 106.6L509.9 106.9L511.1 108.1L511.8 115.9L511.5 116.6L511 116.8L511.1 117.1L511.9 118.2L512.7 118.4L516.4 116.1L518.2 116.9L519.2 114.9L519.2 114.1L517.9 114.1L516.7 114.8L516.2 114.8L516 114.9L516.5 115.1L516.5 115.9L515.9 116.1L515.2 115.4L514.2 115.1L513.7 114.4L514.3 114.1L517.3 109.9L518.6 107.9L519 106.6L518.9 105.9L518.2 105.9L516.7 106.5L516.2 107.4L514.9 107.4L514.2 107.1L513.7 106.4L513.7 105.9L514.2 105.9L518.1 100.4L518.8 98.9L518.8 97.9L517.8 97.9L516.4 98.5L516.2 99.4L514.7 99.3L514.2 99.1L513.4 98.1L513.5 97.6L514.2 97.7L516.5 94.4L518 92.1L518.7 90.6L518.7 89.9L517.9 89.7L516.4 90.5L515.9 90.5L515.9 91.4L515.2 91.4L514.2 91.1L513.4 90.1L513.5 89.6L514 89.6L517.8 84.1L518.5 82.6L518.4 81.7L517.7 81.7L516.2 82.2L515.7 83.1L514.2 83.1L513.2 82.1L513.2 81.6L513.8 81.6L517.6 76.1L518.3 74.6L518.3 73.6L517.4 73.6L515.9 74.2L515.7 75.1L514.2 75.1L513.7 74.8L512.9 73.9L513 73.4L513.7 73.4L517.1 68.6L518.1 66.9L518.2 65.6L517.4 65.5L515.9 66.2L515.4 66.2L515.4 67.1L514.2 67.1L512.9 66.3L512.7 65.9L512.7 65.1L512.9 65L513.4 65.5L515.5 62.6L517.3 59.9L518 58.4L518 57.6L517.7 57.4L515.7 58L515.2 58.9L513.7 58.8L512.7 57.9L512.7 57.4L513.3 57.4L517.1 51.9L517.8 50.4L517.8 49.4L516.9 49.4L515.4 50L515 50.4L515.2 50.8L514.9 50.9L513.7 50.8L513.2 50.6L512.4 49.6L512.5 49.1L513.2 49.2L516.4 44.6L517.6 42.6L517.7 41.6L517.7 41.4L516.9 41.3L515.4 42L514.9 42L514.9 42.9L513.7 42.8L512.2 41.9L512.2 41.1L512.4 40.9L512.9 41.2L516.7 35.9L516.2 34.7L515.7 34.3L514.8 34.4L514.7 35.4L513.9 35.4L512.4 34.8L511.2 33.6L510 31.4L508.2 25.4L508.2 23.9L507.9 23.4L507.9 21.6L507.7 21.1L506.9 13.9ZM499.7 109.5L499 110.9L499.2 111.7L499.7 111.7L500.5 110.4L500.4 110Z"/><path fill="#8442e5" d="M514.3 34.4L514.2 35.4L512.4 34.8L511.2 33.6L510 31.4L508.2 25.4L507.2 15.4L506.9 14.9L506.9 13.9L506.4 13.1L505.4 17.4L505.2 20.1L504.9 20.6L502.9 33.6L501.7 39.1L500.4 43.1L499.7 43.6L498.7 45.8L498.4 45.9L498.3 45.4L498 45.4L496.2 49.4L496.2 50.2L497.2 50.3L499.9 48.7L500.2 48.2L500.4 48.2L500.7 48.6L499.1 53.6L498.7 53.9L498.5 53.4L498.3 53.4L496.6 56.6L496.3 57.9L496.4 58.4L497.2 58.4L498.4 57.9L500.4 56.4L500.7 56.9L500.7 57.9L499.6 60.9L498.9 61.6L498.8 61.1L498.5 61.1L498.3 62.1L496.6 65.1L496.5 66.1L496.7 66.5L497.7 66.4L500.7 64.4L500.9 65.6L499.6 69.4L498.9 70.1L498.8 69.6L498.5 69.6L496.9 72.9L496.7 74.4L497.4 74.6L498.2 74.4L500.4 72.9L500.7 72.4L500.9 72.4L501.2 72.9L500.1 76.6L499.4 77.8L499.2 77.9L499 77.4L498.8 77.4L498.8 77.9L497.4 80.4L496.8 81.9L496.9 82.6L497.7 82.7L500.9 80.7L501.2 81.1L501.2 81.9L500.1 85.1L499.4 85.9L499.3 85.4L499 85.4L497.1 89.4L497 90.6L497.9 90.7L498.7 90.4L500.7 89.1L501.2 88.4L501.4 88.9L501.4 90.1L499.9 94.1L499.4 94.4L499.3 93.9L499 93.9L497.4 97.1L497.2 98.6L497.9 98.8L498.7 98.6L500.9 97.1L501.4 96.4L501.7 97.6L500.4 101.4L499.7 102.1L499.5 101.6L499.3 101.6L499.3 102.1L497.9 104.6L497.3 106.4L497.4 106.9L498.4 106.8L501.4 104.9L501.6 105.1L501.7 106.1L500.4 109.4L500.7 109.6L501.4 109.7L501.7 110.1L501.2 110.5L500.7 110.5L500.5 111.1L500.9 110.6L501.7 112.8L503.2 112L503.1 113.4L503.2 113.7L503.5 113.7L504.4 111L503.9 111.8L503.4 111.8L503.3 111.4L505 104.4L505.4 103.9L506.4 103.9L506.9 104.4L507.2 106.9L507.4 107.2L507.9 106.7L509.2 106.6L509.9 106.9L511.1 108.1L511.7 114.9L511.3 116.4L511 116.5L511.1 117.1L511.9 118.2L512.2 118.3L515.9 116L516.2 116.3L516.4 116.1L517.7 116.6L518.1 115.4L517.9 114.5L516.2 114.8L515.9 115.6L515.7 115.6L513.4 114.8L513.2 114.4L513.8 114.1L516.4 110.4L517.6 108.4L518 107.1L517.9 106.6L517.2 106.5L515.9 106.8L515.7 107.4L514.9 107.4L514.2 107.1L513.2 105.9L513.2 105.1L513.4 105L513.9 105.6L515.5 103.4L517.2 100.6L517.8 99.1L517.7 98.4L516.9 98.4L515.7 98.8L515.4 99.4L514.9 99.4L514.2 99.1L513.2 97.9L513.2 97.4L513.4 97.2L513.9 97.4L516.1 94.1L517.7 91.1L517.6 90.4L517.2 90.3L515.9 90.5L515.4 91.4L514.9 91.3L514.2 91.1L512.9 89.6L513.2 89L513.7 89.3L516.5 85.1L517.5 83.1L517.5 82.4L516.9 82.2L515.4 82.5L515.2 83.1L514.4 83.1L513.7 82.8L512.9 81.9L513 81.4L513.2 81.2L513.4 81.4L516.3 77.1L517.3 74.9L517.2 74.2L516.4 74.1L515.2 74.5L514.9 75.1L514.4 75.1L513.7 74.8L512.7 73.6L512.7 73.1L513.4 73.1L515.6 69.9L517.2 66.9L517.1 66.1L516.7 66L515.4 66.2L514.9 67.1L514.2 67.1L512.9 66.3L512.4 65.4L512.7 64.8L513.2 65.1L516 60.9L517 58.9L517 58.1L516.4 58L514.9 58.2L514.7 58.9L513.9 58.9L513.2 58.6L512.4 57.6L512.5 57.1L512.7 56.9L512.9 57.1L515.5 53.4L516.8 50.9L516.8 50.1L516.2 49.9L514.7 50.2L514.4 50.9L513.7 50.8L513.2 50.6L512.2 49.4L512.2 48.9L512.9 48.9L514.6 46.4L516.6 42.9L516.7 42.1L516.4 41.8L514.9 42L514.4 42.9L513.9 42.9L512.7 42.3L511.9 41.4L512 40.6L512.7 40.9L516.4 35.1L515.7 34.3ZM499.7 109.5L499.3 110.1L499.2 111.4L499.7 111.4L500.5 110.1Z"/><path fill="#6f2de7" d="M513.8 34.4L513.7 35.1L512.4 34.8L511.2 33.6L510 31.4L508.2 25.4L507.2 15.4L506.9 14.9L506.9 13.9L506.4 13.1L505.4 17.4L505.2 20.1L504.9 20.6L502.9 33.6L501.7 39.1L500.4 43.1L499.7 43.6L499.4 44.4L498.9 44.5L498.7 44L498.5 44.1L498.5 44.6L497.6 46.4L497 48.1L497.2 48.8L497.9 48.8L499.9 47.8L500.4 47.2L500.7 47.2L500.9 47.6L500.9 48.4L499.6 52.4L499.2 52.5L498.9 52L498.8 52.1L498.5 53.1L497.4 55.4L497.2 56.7L497.4 56.9L498.7 56.7L500.4 55.7L500.7 55.1L501.2 55.6L499.9 60.1L499.4 60.4L499.3 59.9L499 59.9L499 60.4L497.4 63.9L497.4 64.9L497.7 65L498.9 64.7L500.9 63.4L501.2 63.9L501.2 64.9L500.1 68.1L499.7 68.7L499.4 68.8L499.2 68.2L499 68.4L499 68.9L497.7 71.6L497.5 72.9L497.9 73.1L498.9 72.9L500.7 71.9L501.2 71.2L501.4 71.6L501.4 72.6L500.1 76.6L499.7 76.8L499.4 76.2L499.3 76.4L497.9 79.6L497.7 80.9L497.9 81.2L499.2 80.9L500.9 79.9L501.2 79.4L501.7 79.9L500.4 84.4L499.9 84.6L499.8 84.1L499.5 84.1L499.5 84.6L497.9 88.1L497.9 89.1L498.2 89.2L499.4 89L501.4 87.7L501.7 88.1L501.4 89.9L500.4 92.9L499.9 93L499.7 92.5L499.5 92.6L499.3 93.6L498.1 95.9L498 97.1L498.4 97.3L499.4 97.1L501.2 96.1L501.7 95.4L501.9 95.9L501.9 96.9L500.9 100.1L500.2 100.9L500 100.4L499.8 100.4L499.3 102.1L498.2 104.4L498.2 105.1L498.4 105.4L499.4 105.3L501.4 104.1L501.7 103.5L502.1 103.6L502.2 104.6L500.9 108.6L500.4 108.9L500.2 108.2L499.3 110.1L499.4 110.8L499.9 110.8L500.5 110.1L500.5 111.1L500.9 110.6L501.6 112.4L503.2 111.2L503.7 110.1L504.9 104.6L505.4 103.9L506.4 103.9L506.9 104.4L507.2 106.9L507.4 107.2L508.2 106.6L509.2 106.6L509.9 106.9L511.2 108.4L511.4 113.1L511.7 113.9L511.3 114.9L510.8 115L511.1 117.1L511.8 118.1L512.7 117.8L515.7 115.9L516.3 116.3L516.4 116.1L517.1 116.4L517.3 115.6L517.2 114.9L516.2 114.8L515.9 115L515.2 114.8L514.9 115.2L512.7 114.6L515.9 110.1L517.1 107.6L517.1 106.9L516.7 106.7L515.4 106.8L515.2 107.4L514.7 107.3L514.2 107.1L513.2 105.9L513.2 105.1L513.7 105.1L516.2 101.4L517 99.4L517 98.9L516.4 98.7L515.2 98.8L514.9 99.4L514.7 99.3L514.2 99.1L512.9 97.6L513 96.9L513.7 96.9L515.6 93.9L516.8 91.4L516.8 90.9L516.4 90.6L515.4 90.8L514.9 90.5L514.7 91.1L514.2 91.1L512.7 89.4L512.9 88.7L513.4 88.9L514.8 86.9L516.2 84.6L516.6 83.4L516.6 82.6L516.2 82.5L514.9 82.5L514.7 83.1L514.2 83.1L513.7 82.8L512.7 81.6L512.7 80.9L513.2 80.9L515.7 77.1L516.5 75.4L516.5 74.6L515.9 74.4L514.7 74.5L514.4 75.1L514.2 75.1L513.7 74.8L512.4 73.4L512.5 72.9L512.7 72.7L513 72.9L515.2 69.6L516.3 67.1L516.3 66.6L515.9 66.3L514.7 66.5L514.4 66.2L514.2 66.9L513.7 66.8L512.7 66.1L512.2 65.1L512.4 64.4L512.9 64.7L514.3 62.6L515.7 60.4L516.1 59.1L516.1 58.4L515.7 58.3L514.4 58.2L514.2 58.9L513.7 58.8L513.2 58.6L512.2 57.4L512.2 56.6L512.8 56.6L515.2 52.9L516 51.1L516 50.4L515.4 50.2L514.2 50.2L513.9 50.9L513.7 50.8L513.2 50.6L511.9 49.1L512 48.6L512.2 48.4L512.5 48.6L514.4 45.9L515.8 43.1L515.8 42.4L515.6 42.1L514.2 42.2L513.9 42L513.7 42.6L512.7 42.3L512 41.6L511.7 40.9L511.9 40.2L512.4 40.5L515.5 35.4L515.6 34.3ZM504.7 109.8L504 111.1L503.2 111.4L503.2 113.3L503.6 113.3Z"/><path fill="#5920ec" d="M513.3 34.1L512.9 34.9L512.7 34.9L511.2 33.6L510 31.4L508.7 27.6L508.2 25.4L507.2 15.4L506.9 14.9L506.9 13.9L506.4 13.1L505.4 17.4L505.2 20.1L504.9 20.6L502.9 33.6L501.7 39.1L500.6 42.6L500.2 43L499.7 43L499.5 42.4L499.4 42.7L499 42.7L499 43.4L498.5 44.1L497.7 46.6L497.9 47.4L498.2 47.4L499.2 47.2L500.9 46.2L501.2 46.6L500.9 48.4L500.1 50.9L499.7 51L499.4 50.5L499.3 50.6L499 51.9L497.9 54.4L497.9 55.3L499.2 55.4L500.7 54.6L501.2 53.9L501.4 54.4L501.4 55.1L500.4 58.9L499.9 59L499.7 58.5L499.3 59.1L499 60.4L498.1 62.4L498.1 63.4L498.9 63.6L499.7 63.3L500.9 62.6L501.2 61.9L501.7 62.4L500.6 66.6L500.2 66.9L500 66.4L499.8 66.4L499.5 67.6L499 68.4L498.2 70.9L498.4 71.6L499.2 71.6L500.9 70.8L501.4 70.2L501.7 70.6L501.7 71.6L500.6 75.1L500.2 75.2L499.9 74.8L499.8 74.9L499.5 76.1L498.4 78.6L498.4 79.6L499.2 79.7L499.9 79.5L501.2 78.8L501.4 78.2L501.7 78.2L501.9 78.6L501.7 80.4L500.9 82.9L500.4 83.1L500.3 82.6L500 82.6L499.5 84.6L498.7 86.4L498.6 87.6L499.4 87.8L500.2 87.5L501.4 86.8L501.7 86.1L502.2 86.6L501.1 90.9L500.7 91.1L500.5 90.6L500.3 90.6L500.3 91.1L499.8 91.9L499.8 92.4L499.3 93.1L498.8 94.9L498.7 95.6L499.2 95.9L500.4 95.6L501.9 94.4L502.2 94.9L502.2 95.9L501.1 99.4L500.7 99.5L500.4 99L500.3 99.1L500.3 99.6L499.8 100.4L499.8 100.9L498.9 102.9L498.9 103.6L499.2 104L499.9 103.9L501.7 103L501.9 102.5L502.4 102.6L502.4 103.6L501.4 107.1L500.9 107.4L500.8 106.9L500.5 106.9L499.7 109.6L500.5 110.1L500.7 110.9L500.9 110.6L501.2 111.4L503.2 110.3L503.4 112.4L504 112.3L505.2 108L504.3 109.9L503.5 109.9L503.9 109.1L505 104.4L505.4 103.9L506.4 103.9L506.9 104.4L507.2 106.9L507.4 107.2L507.9 106.7L509.2 106.6L509.9 106.9L511.1 108.1L511.5 113.4L511 114.1L510.7 114.3L511 116.7L511.4 116.7L512.2 115.1L512.3 115.6L511.8 116.6L511.9 117.5L512.4 117.5L515.2 115.8L516.6 115.9L516.6 115.1L515.2 114.8L514.4 114.2L514 114.4L513.9 114.9L513.4 114.9L512.9 115.2L512.3 114.9L515.7 109.4L516.4 107.6L516.3 106.9L515.2 106.8L514.9 106.5L514.7 107.1L514.2 107.1L513.2 106.1L512.7 105.1L512.9 104.2L513.5 104.6L515.5 101.4L516.2 99.6L516.2 98.9L515.2 98.8L514.9 98.5L514.5 98.6L514.4 99.1L514.2 99.1L513 97.9L512.7 97.1L512.7 96.6L512.9 96.4L513.3 96.6L514.9 94.1L516.1 91.6L516.1 90.9L514.4 90.2L514.2 90.9L513.9 90.8L512.4 89.1L512.5 88.4L512.7 88.2L513.2 88.4L514.8 85.9L515.9 83.4L515.7 82.6L514.7 82.5L514.4 82.2L514.2 82.9L513.7 82.8L512.7 81.9L512.2 80.9L512.4 79.9L513 80.4L515 77.1L515.8 75.4L515.7 74.6L514.7 74.5L514.4 74.2L514 74.4L513.9 74.9L513.7 74.8L512.2 73.1L512.2 72.4L512.4 72.2L512.8 72.4L514.8 69.1L515.6 67.4L515.6 66.6L514.7 66.5L513.9 66L513.7 66.6L512.9 66.3L511.9 64.9L512 64.1L512.2 63.9L512.7 64.2L514.8 60.9L515.4 59.4L515.4 58.6L515.2 58.4L514.2 58.2L513.9 58L513.7 58.6L513.2 58.6L512.2 57.6L511.7 56.6L511.9 55.7L512.4 56.3L514.6 52.9L515.3 51.1L515.2 50.4L514.2 50.2L513.9 50L513.5 50.1L513.4 50.6L513.2 50.6L511.7 48.9L511.7 48.1L511.9 47.9L512.3 48.1L514.3 44.9L515.1 43.1L515.1 42.4L514.2 42.2L513.4 41.8L513.2 42.4L512.7 42.3L511.4 40.6L511.5 39.9L511.7 39.7L512.2 40L514.9 35.4L514.9 34.4L514.2 34.4Z"/><path fill="#4117f3" d="M512.9 34L512.4 34.6L512.2 34.6L510.7 32.9L510 31.4L508.7 27.6L508.2 25.4L507.2 15.4L506.9 14.9L506.9 13.9L506.4 13.1L505.4 17.4L505.2 20.1L504.9 20.6L502.9 33.6L501.7 39.1L500.9 41.4L500.2 41.5L499.9 41.2L499.4 42.7L499 42.7L499 43.4L498.6 44.1L498.4 45.4L498.4 45.9L499.2 46L500.9 45.2L501.2 44.6L501.7 45.1L500.6 49.4L500.2 49.5L499.9 49L499.8 49.1L498.5 53.4L498.6 53.9L498.9 54.1L500.2 53.8L500.9 53.4L501.2 53L501.4 52.9L501.7 53.4L501.7 54.4L500.9 57.1L500.4 57.4L500.3 56.9L500 56.9L500 57.6L499 59.9L498.7 61.9L498.9 62.2L499.9 62.1L501.2 61.4L501.4 60.9L501.9 61.4L501.1 65.1L500.7 65.7L500.4 65.5L500 65.6L498.8 69.6L498.9 70.2L499.2 70.2L500.2 70.1L501.7 69.2L501.9 69.6L501.9 70.6L501.1 73.6L500.7 73.8L500.4 73.2L500.3 73.4L499.5 76.1L499.1 76.9L499.1 78.1L500.2 78.3L501.4 77.6L501.7 77.2L501.9 77.2L502.2 77.6L502.2 78.4L501.4 81.4L500.9 81.6L500.8 81.1L500.5 81.1L499.2 85.4L499.2 86.1L499.4 86.4L500.4 86.3L501.7 85.7L501.9 85.1L502.4 85.6L501.4 89.9L500.5 89.9L499.4 93.4L499.4 94.4L499.7 94.5L500.7 94.4L502.2 93.4L502.4 93.9L502.4 94.9L501.6 97.9L501.2 98L500.9 97.5L500.8 97.6L500.3 99.6L499.6 101.1L499.6 102.4L500.7 102.5L501.9 101.9L502.2 101.5L502.4 101.4L502.7 101.9L502.7 102.6L501.9 105.6L501.4 105.9L501.3 105.4L501 105.4L500.3 108.1L499.9 108.9L499.8 109.6L500.6 110.1L500.7 110.4L501.2 110.4L503.4 109.1L504.2 108.1L505 104.4L505.4 103.9L506.4 103.9L506.9 104.4L507.2 106.9L507.4 107.2L507.9 106.7L509.2 106.6L509.9 106.9L511.1 108.1L511.4 112.1L511 113.1L510.5 113.2L511 116.4L511.2 116.4L511.9 114.6L515.1 109.4L515.8 107.6L515.7 106.9L514.4 106.2L514.2 106.9L513.9 106.8L513.2 106.1L512.4 104.6L512.7 103.7L513.2 104.2L515 101.1L515.6 99.6L515.6 98.9L514.7 98.5L514.2 98L513.9 98.6L513.7 98.6L512.4 96.9L512.5 96.1L512.7 95.9L513 96.1L514.8 93.1L515.5 91.4L515.2 90.6L514.7 90.5L513.9 89.8L513.7 90.4L513.4 90.3L512.5 89.4L512.2 88.6L512.2 87.9L512.4 87.7L512.9 87.9L514.2 85.9L515.3 83.4L515.2 82.6L513.9 82L513.7 82.6L513.4 82.6L512.7 81.9L511.9 80.4L512.2 79.4L512.7 80L514.6 76.9L515.1 75.4L515.1 74.6L514.2 74.2L513.7 73.8L513.4 74.4L513.2 74.3L512.2 73.4L511.9 72.6L512 71.9L512.2 71.7L512.5 71.9L514.3 68.9L515 67.4L515 66.6L513.7 65.8L513.3 65.9L513.2 66.4L512.9 66.3L511.7 64.4L511.7 63.6L511.9 63.4L512.4 63.7L513.7 61.6L514.8 59.1L514.7 58.4L513.4 57.8L513.2 58.4L512.9 58.3L512.2 57.6L511.4 56.1L511.7 55.2L512.2 55.7L514.1 52.6L514.6 51.1L514.6 50.4L513.7 50L513.2 49.5L512.9 50.1L512.7 50.1L511.7 49.1L511.4 48.4L511.5 47.6L511.7 47.4L512 47.6L513.9 44.6L514.5 43.1L514.5 42.4L513.9 42L512.9 41.5L512.7 42.1L512.4 42.1L511.2 40.1L511.2 39.4L511.4 39.2L511.9 39.5L514.2 35.4L514.4 34.4ZM505.4 107L504.2 109.1L503.5 109.4L503.4 111.8L503.9 111.8L504.5 110.8ZM512.9 114.2L512 115.9L512.2 116.8L512.7 116.8L515.2 115.5L516 115.6L515.7 114.8L515.2 114.8L514.4 114.2Z"/><path fill="#2615fc" d="M512.4 33.5L511.9 34.3L510.7 32.9L510 31.4L508.7 27.6L508.2 25.4L507.2 15.4L506.9 14.9L506.9 13.9L506.4 13.1L505.4 17.4L503.4 30.9L501.9 38.1L501.4 39.9L500.4 39.9L499.4 42.7L499.1 42.7L498.9 43.6L498.9 44.4L499.2 44.6L500.2 44.5L501.2 44L501.4 43.4L501.9 43.9L501.1 47.6L500.7 47.9L500.5 47.4L500.3 47.4L500.3 48.1L499.1 51.4L499.2 52.6L500.4 52.6L501.7 51.7L501.9 52.1L501.6 54.6L501.1 56.1L500.3 56.1L500 57.6L499.4 59.1L499.3 60.6L500.7 60.6L501.4 60.2L501.7 59.7L501.9 59.7L502.2 60.1L501.4 64.1L500.9 64.2L500.7 63.8L500.5 63.9L500.5 64.6L499.6 67.1L499.4 68.6L499.7 68.8L500.9 68.7L501.7 68.3L501.9 67.6L502.4 68.1L501.6 71.9L501.2 72.1L501 71.6L500.8 71.6L500.8 72.4L499.6 75.6L499.7 76.9L500.9 76.8L502.2 75.9L502.4 76.4L502.4 77.4L501.6 80.4L500.8 80.4L500 82.6L499.7 84.1L499.8 84.9L501.2 84.8L501.9 84.5L502.2 84L502.4 83.9L502.7 84.4L501.9 88.4L501.4 88.5L501.2 88L501 88.1L500.8 89.6L500.1 91.4L499.9 92.9L500.2 93.1L501.4 92.9L502.2 92.5L502.4 91.9L502.9 92.4L502.1 96.1L501.7 96.4L501.5 95.9L501.3 95.9L501.3 96.6L500.1 99.9L500.1 100.6L500.3 101.1L501.4 101L502.7 100.2L502.9 100.6L502.9 101.6L502.1 104.6L501.3 104.6L500.2 108.6L500.4 109.2L501.4 109.2L503.4 108.1L503.5 107.6L503.9 107.4L504.2 108.4L503.5 108.6L503.5 110.1L503.3 110.4L503.4 111.2L503.9 111.2L504.8 109.6L505.7 105.8L504.7 107.3L504.4 106.6L505 104.4L505.4 103.9L506.4 103.9L506.9 104.4L507.2 106.9L507.4 107.2L507.9 106.7L509.2 106.6L509.9 106.9L511.1 108.1L511.2 110.1L511.4 110.9L511 111.9L510.4 112L510.8 115.1L511.2 115.1L514.2 109.9L515.2 107.4L515 106.6L513.9 105.8L513.7 106.4L513.2 106.1L512.2 104.1L512.4 103.2L512.9 103.6L513.2 103.1L514.7 100.6L515.1 99.4L515 98.6L513.7 97.5L513.4 98.1L513.2 98.1L512.2 96.4L512.2 95.6L512.4 95.4L512.7 95.6L514.3 92.9L514.9 91.1L514.9 90.6L513.7 89.5L513.4 90.1L512.5 89.4L511.9 88.1L512 87.4L512.2 87.2L512.7 87.4L513.9 85.4L514.7 83.1L514.5 82.4L513.4 81.5L513.2 82.1L512.7 81.9L511.7 79.9L511.9 78.9L512.4 79.4L512.7 78.9L514.2 76.4L514.6 75.1L514.5 74.4L513.2 73.2L512.9 73.9L512.2 73.4L511.7 72.1L511.7 71.4L511.9 71.2L512.2 71.4L513.8 68.6L514.4 67.1L514.4 66.4L513.4 65.8L513.2 65.2L512.9 65.9L512.7 65.8L512 65.1L511.4 63.9L511.5 63.1L511.7 62.9L511.9 63.2L512.2 63.1L514.2 59.1L514.2 58.4L512.9 57.2L512.7 57.9L512.2 57.6L511.2 55.6L511.4 54.7L511.9 55.2L512.3 54.6L513.7 52.1L514.1 50.9L514 50.1L512.7 49L512.4 49.6L511.7 49.1L511.2 47.9L511.2 47.1L511.4 46.9L511.7 47.1L513.4 44.4L513.9 42.9L513.9 42.1L512.7 41.2L512.4 41.9L512 41.6L510.9 39.6L511 38.9L511.2 38.7L511.4 39L511.7 38.9L513.7 35.1L513.8 34.3ZM510 108.4L509.9 107.5L509.4 107.8ZM512.9 114.2L512.3 115.1L512.4 116.2L512.9 116.1L515 115.1L515 114.6L514.4 114.2Z"/><path fill="#122cff" d="M512 33.1L511.7 33.9L510.7 32.9L510 31.4L508.7 27.4L508.2 25.4L507.2 15.4L506.9 14.9L506.9 13.9L506.4 13.1L505.4 17.4L503.4 30.9L501.9 38.1L501.4 38.8L500.8 38.6L499.5 42.5L499.7 43L500.4 43L501.4 42.6L501.7 42L501.9 41.9L502.2 42.4L502.2 43.4L501.4 46.6L500.5 46.6L500.3 48.1L499.8 49.1L499.7 50.9L500.9 51L501.7 50.7L501.9 50.1L502.4 50.6L501.6 54.6L501.2 54.8L500.9 54.2L500.8 54.4L499.8 58.6L499.9 59.1L500.2 59.2L501.7 58.8L502.2 58.2L502.4 58.6L502.4 59.9L501.9 62.1L501.4 62.4L501.3 61.9L501 61.9L500.5 64.6L500.1 65.6L500.1 67.1L501.4 67.1L501.9 66.9L502.2 66.2L502.4 66.2L502.7 66.6L502.7 67.6L501.9 70.9L501 70.6L500.8 72.4L500.1 74.1L500.2 75.1L500.4 75.3L501.4 75.2L502.4 74.7L502.7 75.1L502.7 76.4L502.1 78.6L501.7 78.9L501.5 78.4L501.3 78.4L501 80.1L500.4 81.9L500.3 83.1L500.5 83.4L501.4 83.4L502.2 83.1L502.7 82.4L502.9 82.9L502.9 84.1L502.4 86.4L501.9 86.6L501.8 86.1L501.5 86.1L501.3 87.9L500.6 89.9L500.5 91.1L500.7 91.5L501.7 91.4L502.4 91.1L502.5 90.6L502.9 90.4L503.2 90.9L503.2 91.9L502.4 95.1L501.5 94.9L501.5 95.6L500.8 97.6L500.6 99.1L500.9 99.6L501.9 99.5L502.7 99.1L502.9 98.4L503.4 98.9L502.6 102.9L502.2 103.1L502 102.6L501.8 102.6L501.8 103.4L501 105.4L500.8 107.1L500.9 107.6L501.9 107.6L503.7 106.7L503.9 106.1L504.2 106.2L504.4 107.1L503.5 107.6L503.6 109.9L504.2 110L505.1 108.2L505.8 105.4L505.7 105L504.9 106.1L504.7 105.9L505 104.4L505.4 103.9L506.4 103.9L506.9 104.4L507.2 106.9L507.4 107.2L507.9 106.7L509.2 106.6L509.6 106.9L509 107.7L510 108.4L510.2 107.4L511.1 108.1L511.2 110.1L510.8 111.1L510.4 111.3L510.7 114.3L511.1 114.1L514.1 108.6L514.7 107.1L514.7 106.6L513.7 105.2L513.2 105.8L512.7 105.4L511.9 103.6L512 102.6L512.2 102.4L512.7 102.9L514.2 100.1L514.5 98.9L514.5 98.4L513.4 97L513.2 97.6L512.5 97.1L511.7 95.4L511.9 94.4L512.4 94.6L512.4 94.9L512.7 94.4L514 92.1L514.3 90.9L514.2 90.1L513.2 89L512.9 89.6L512.5 89.4L511.7 87.6L511.7 86.6L511.9 86.4L512.4 86.6L513.8 84.1L514.2 82.9L514.2 82.4L513.2 81L512.9 81.6L512.2 81.1L511.4 79.4L511.5 78.4L511.7 78.2L512.2 78.6L513.6 76.1L514 74.9L514 74.1L512.9 73L512.7 73.6L512.2 73.4L511.2 71.1L511.4 70.2L511.9 70.4L511.9 70.7L512.1 70.4L513.5 67.9L513.9 66.6L513.7 65.9L512.7 64.8L512.4 65.4L512 65.1L511.2 63.4L511.2 62.4L511.4 62.2L511.9 62.4L513.3 59.9L513.7 58.6L513.7 58.1L512.7 56.8L512.4 57.4L511.7 56.9L510.9 55.1L511 54.1L511.2 53.9L511.7 54.4L513.1 51.9L513.5 50.6L513.5 49.9L512.4 48.8L512.2 49.4L511.7 49.1L510.7 46.9L510.9 45.9L511.3 46.1L511.4 46.5L513.3 42.6L513.3 41.9L512.2 40.5L511.9 41.1L511.5 40.9L510.7 39.1L510.7 38.1L510.9 37.9L511.2 38.2L511.4 38.1L512.8 35.6L513.3 34.1ZM507.4 108.8L506.8 109.2L506.9 109.5L507.3 109.4ZM512.7 114.6L512.7 115.3L514.1 114.9L514.1 114.4L512.9 114.3Z"/><path fill="#0350ff" d="M506.4 13.1L502.4 35.9L502.1 37.1L501.1 37.2L499.9 41.2L500.2 41.5L500.9 41.5L501.7 41.2L501.8 40.9L502.2 40.7L502.4 41.1L502.4 42.1L501.9 44.6L501.4 44.9L501.3 44.4L501 44.4L501 45.4L500.8 45.6L500.8 46.4L500.1 48.4L500.2 49.5L501.7 49.4L502.2 48.6L502.7 49.1L501.9 53.4L501 53.1L501 54.1L500.3 56.1L500.4 57.6L501.7 57.5L502.4 56.9L502.7 57.4L502.7 58.6L502.2 60.9L501.7 61.4L501.5 60.9L501.3 60.9L501.3 61.6L500.6 63.9L500.4 65.4L500.7 65.7L501.4 65.7L502.2 65.5L502.2 65.1L502.7 64.9L502.9 65.4L502.9 66.4L502.4 68.9L502.1 69.4L501.7 69.2L501.3 69.6L500.6 73.4L500.9 73.8L501.7 73.8L502.4 73.5L502.7 72.9L503.2 73.4L502.4 77.6L501.5 77.4L501.5 78.1L501.3 78.4L501.3 79.1L500.8 80.4L500.9 81.9L501.9 81.8L502.9 81.2L503.2 81.6L503.2 82.9L502.7 85.1L502.2 85.6L502 85.1L501.8 85.1L501.8 85.9L501 88.1L500.9 89.7L501.2 90L501.9 90L502.7 89.7L502.7 89.4L503.2 89.2L503.4 89.6L503.4 90.6L502.9 93.1L502.6 93.6L502.2 93.5L501.8 93.9L501.1 97.6L501.4 98L502.2 98L502.9 97.7L503.2 97.1L503.7 97.6L502.9 101.9L502 101.6L501.3 105.4L501.4 106.1L502.2 106.1L503.7 105.5L503.9 104.9L504.4 105.1L504.4 106.1L503.8 106.4L503.8 107.4L503.5 107.6L503.6 109.1L504.2 109.2L505.5 106.7L505.8 104.1L505.9 103.9L506.4 103.9L506.9 104.4L507.2 106.9L507.4 107.2L507.9 106.7L508.7 106.6L509 106.9L508.3 107.6L508.3 107.7L508.4 107.6L509.4 107.8L509.9 108.3L510.2 107.4L511.1 108.1L511 109.6L510.7 110.2L510.3 110.2L510.5 113.1L510.9 113.1L513.6 108.4L514.2 106.6L514.2 106.1L513.3 104.6L513 104.6L512.9 105.1L512.5 104.9L511.7 102.9L511.7 101.9L511.9 101.7L512.4 102.1L513.6 99.9L514 98.9L514 97.9L513.2 96.8L512.9 97.2L512.5 97.1L511.4 94.6L511.7 93.7L512.1 93.9L512.2 94.2L513.9 90.6L513.8 89.6L512.9 88.5L512.7 89.1L512.2 88.9L511.4 86.9L511.5 86.1L511.7 85.9L512 86.1L513.4 83.6L513.7 81.9L512.7 80.2L512.4 80.9L512 80.6L511.2 78.6L511.2 77.6L511.4 77.4L511.9 77.9L513 75.9L513.5 74.6L513.5 73.9L512.7 72.5L512.4 73L512 72.9L510.9 70.4L511.2 69.4L511.6 69.6L511.7 69.9L513.4 66.4L513.3 65.4L512.4 64.2L512.2 64.9L511.7 64.6L510.9 62.6L511 61.9L511.2 61.7L511.5 61.9L512.9 59.4L513.2 57.6L512.2 56L511.9 56.6L511.5 56.4L510.7 54.4L510.7 53.4L510.9 53.2L511.4 53.6L512.5 51.6L513 50.6L513 49.6L512.2 48.2L511.9 48.8L511.5 48.6L510.4 46.1L510.7 45.2L511.1 45.4L511.2 45.7L511.4 45.4L512.6 43.1L512.9 41.9L511.9 40L511.7 40.6L511.2 40.4L510.5 38.6L510.4 37.9L510.7 37.4L511 37.6L512.9 33.9L511.6 32.3L511.4 33.2L511.2 33.3L510.7 32.9L510 31.4L508.7 27.6L508.2 25.4L508.2 23.9L507.9 23.4L507.9 21.6L507.7 21.1L506.9 13.9ZM507.9 108.2L507.3 108.1L507.2 107.5L506.5 108L506.9 109.5L507.3 109.4L507.3 108.9Z"/><path fill="#007eff" d="M511.3 31.9L511.3 32.4L510.9 32.8L510 31.4L508.7 27.4L508.2 25.4L507.2 15.4L506.9 14.9L506.9 13.9L506.4 13.1L505.4 17.4L505.2 20.1L504.4 23.6L504.4 24.9L502.4 35.9L501.3 35.9L500.4 39.9L501.4 40L501.9 39.9L502.4 39.2L502.6 39.4L502.7 40.9L502.2 43.4L501.7 43.9L501.5 43.4L501.3 43.4L500.5 47.4L500.7 48.1L501.9 48L502.4 47.4L502.9 47.9L502.4 51.4L502.1 52.1L501.3 52.1L501 54.1L500.7 55.1L500.7 56L500.9 56.2L501.9 56.1L502.7 55.7L502.9 56.1L502.9 57.4L502.4 59.9L501.9 60.2L501.7 59.8L501.5 59.9L501.5 60.6L501.3 60.9L501.3 61.6L500.9 62.9L500.9 64.1L502.2 64.2L502.9 63.4L503.2 63.9L503.2 65.1L502.7 67.6L502.2 68.1L502 67.6L501.8 67.6L501.8 68.4L501.5 68.6L501.5 69.4L501.1 70.6L501 71.9L501.2 72.3L501.4 72.4L502.7 72.1L502.9 71.6L503.4 72.1L502.7 76.1L501.8 76.4L501.2 79.4L501.2 80.2L501.4 80.4L502.4 80.4L503.2 79.9L503.4 80.4L503.4 81.6L502.9 84.1L502.4 84.5L502.2 84L502 84.1L502 84.9L501.8 85.1L501.8 85.9L501.4 87.1L501.4 88.4L502.7 88.4L503.4 87.7L503.7 88.1L503.7 89.4L503.2 91.9L502.7 92.4L502.5 91.9L502.3 91.9L501.5 95.9L501.7 96.6L501.9 96.6L503.2 96.4L503.4 95.6L503.9 96.1L503.2 100.4L502.3 100.6L501.7 104.4L501.9 104.7L502.7 104.7L503.7 104.3L504.2 103.7L504.4 103.9L504.4 105.4L503.8 105.6L503.8 107.4L503.6 107.6L503.7 108.4L504.2 108.4L505.7 105.6L505.9 103.9L506.4 103.9L506.9 104.4L507.2 105.6L507 106.4L506.3 106.8L506.6 108.6L506.9 109.5L507.3 109.4L507.3 108.9L508.4 107.6L509.7 107.7L510.2 106.9L510.4 106.9L511 108.4L510.7 109L510.3 109L510.4 112L510.9 112L513.3 107.6L513.8 106.1L513.8 105.4L513 104.1L512.8 104.1L512.7 104.6L512.2 104.4L511.4 102.1L511.5 101.1L511.7 100.9L512.2 101.4L513.1 99.6L513.6 97.6L512.7 95.8L512.4 96.4L512 96.1L511.2 93.9L511.4 92.9L511.8 93.1L511.9 93.4L513.1 91.1L513.5 89.9L513.5 89.4L512.8 88.1L512.5 88.1L512.4 88.6L512 88.4L511.2 86.4L511.2 85.4L511.4 85.2L511.8 85.4L512.9 83.1L513.3 81.9L513.3 81.1L512.5 79.9L512.3 79.9L512.2 80.4L511.7 80.1L510.9 77.9L511 76.9L511.2 76.7L511.7 77.1L512.9 74.9L513.1 73.6L512.3 71.6L512 71.6L511.9 72.1L511.5 71.9L510.7 69.6L510.9 68.7L511.3 68.9L511.4 69.2L513 65.9L513 65.1L512.3 63.9L512 63.9L511.9 64.4L511.5 64.1L510.7 62.1L510.7 61.1L510.9 60.9L511.3 61.1L512.5 58.9L512.8 57.6L512.8 56.9L512 55.6L511.8 55.6L511.7 56.1L511.2 55.9L510.4 53.6L510.5 52.6L510.7 52.4L511.2 52.9L512.3 50.9L512.6 49.6L512.6 49.1L511.8 47.4L511.5 47.4L511.4 47.9L511 47.6L510.2 45.4L510.4 44.4L510.8 44.6L510.9 45L512.5 41.6L512.5 40.9L511.8 39.6L511.5 39.6L511.4 40.1L511 39.9L510.2 37.9L510.2 36.9L510.4 36.7L510.8 36.9L512.5 33.5ZM508.4 106.7L507.9 107.8L507.3 107.6L507.9 106.7Z"/><path fill="#00afff" d="M511 31.4L510.7 32.1L510.2 31.9L508.7 27.4L508.2 25.4L507.2 15.4L506.9 14.9L506.9 13.9L506.4 13.1L505.4 17.4L505.2 20.1L504.9 20.6L502.9 33.6L502.7 34.6L501.9 34.8L501.6 34.5L500.8 38.5L501.9 38.6L502.7 37.9L502.9 38.4L502.9 39.6L502.4 42.4L501.9 42.6L501.8 42.1L501.5 42.1L501.5 43.1L501.3 43.4L500.9 45.6L500.9 46.6L502.4 46.5L502.7 45.9L503.2 46.4L502.7 49.9L502.4 50.6L501.9 50.5L501.5 51.1L501.5 51.9L501.1 53.1L501.1 54.4L501.2 54.8L502.2 54.8L502.7 54.6L502.9 53.9L503.4 54.4L502.6 58.9L501.8 58.6L501.8 59.6L501.3 60.9L501.2 62.1L501.4 62.9L502.7 62.7L502.9 62.2L503.2 62.2L503.4 62.6L503.4 63.9L502.9 66.6L502.4 66.9L502.3 66.4L502 66.4L502 67.4L501.8 67.6L501.4 69.6L501.4 70.9L502.9 70.8L503.2 70.1L503.7 70.6L503.1 74.4L502.9 74.9L502.4 74.8L502 75.1L502 76.1L501.6 77.4L501.6 78.6L501.7 79L502.7 79L503.2 78.8L503.4 78.1L503.9 78.6L503.1 83.1L502.3 82.9L502.3 83.9L502 84.1L501.7 86.1L501.9 87.1L503.2 87L503.4 86.5L503.7 86.4L503.9 86.9L503.9 88.1L503.4 90.9L502.9 91.1L502.8 90.6L502.5 90.6L502.5 91.6L502.3 91.9L502.3 92.6L501.9 93.9L501.9 95.1L503.4 95L503.7 94.4L504.2 94.9L503.7 98.1L503.4 99.1L502.9 99L502.5 99.4L502 102.6L502.2 103.2L502.4 103.3L503.9 102.9L504.2 102.4L504.6 102.6L504.7 104.1L504.4 104.6L503.8 104.9L503.9 107.2L504.4 107.2L505.7 104.9L505.9 103.9L506.4 103.9L506.9 104.4L507 105.4L506.7 105.8L506.2 105.8L506.8 109.2L508.4 107.6L509 107.7L509.7 107.1L509.9 106.4L510.6 106.6L510.7 107.9L510.2 108L510 108.4L510.3 108.6L510.4 111.2L510.8 111.1L512.9 107.1L513.4 105.6L513.3 104.6L512.8 103.6L512.5 103.6L512.4 104.1L512 103.9L511.2 101.4L511.2 100.4L511.4 100.2L511.9 100.7L513 98.6L513.3 97.4L512.5 95.4L512.3 95.4L512.2 95.9L511.7 95.6L510.9 93.1L511.2 92.2L511.6 92.4L511.7 92.7L512 92.1L512.9 90.3L513.1 89.1L512.4 87.5L512.2 88L511.7 87.9L510.9 85.6L511 84.6L511.2 84.4L511.5 84.6L513 81.4L512.8 80.4L512.3 79.4L512 79.4L511.9 79.9L511.5 79.6L510.7 77.1L510.7 76.1L510.9 75.9L511.4 76.4L512.5 74.4L512.8 73.1L512 71.1L511.8 71.1L511.7 71.6L511.2 71.4L510.4 68.9L510.7 67.9L511.1 68.1L511.2 68.5L511.5 67.9L512.4 66L512.6 64.9L511.9 63.2L511.7 63.8L511.2 63.6L510.4 61.4L510.5 60.4L510.7 60.2L511 60.4L512.5 57.1L512.3 56.1L511.8 55.1L511.5 55.1L511.4 55.6L511 55.4L510.2 52.9L510.2 51.9L510.4 51.7L510.9 52.2L512 50.1L512.3 48.9L511.5 46.9L511.3 46.9L511.2 47.4L510.7 47.1L509.9 44.6L510.2 43.7L510.6 43.9L510.7 44.3L512.1 41.1L512 40.1L511.5 39.1L511.4 39L511.2 39.5L510.7 39.4L509.9 37.1L510 36.1L510.2 35.9L510.5 36.1L512 33Z"/><path fill="#00d1f0" d="M510.8 30.7L510.4 31.6L510 31.4L508.2 25.4L507.2 15.4L506.9 14.9L506.9 13.9L506.4 13.1L505.4 17.4L505.2 20.1L504.9 20.6L503.2 32.1L502.8 33.4L502 33.3L501.1 37.1L501.2 37.3L501.9 37.3L502.9 36.7L503.2 37.1L502.6 41.1L502.2 41.4L502 40.9L501.8 40.9L501.2 45.1L501.4 45.4L502.4 45.3L502.9 44.6L503.4 45.1L502.9 48.9L502.6 49.4L502.2 49.2L501.8 49.9L501.8 50.9L501.3 52.1L501.4 53.4L502.4 53.4L503.2 52.9L503.4 53.4L503.4 54.9L502.9 57.4L502 57.4L502 58.4L501.6 59.9L501.6 61.4L502.7 61.5L503.2 60.9L503.7 61.4L503.2 65.1L502.7 65.6L502.5 65.1L502.3 65.1L501.7 69.3L501.9 69.6L502.7 69.6L503.2 69.4L503.4 68.9L503.9 69.4L503.4 73.1L503.1 73.6L502.7 73.5L502.3 74.1L501.8 76.4L501.9 77.6L502.9 77.7L503.7 77.2L503.9 77.6L503.9 79.1L503.4 81.6L502.5 81.6L502.5 82.6L502.1 84.1L502.1 85.4L502.2 85.7L502.9 85.8L503.4 85.6L503.7 85.1L504.2 85.6L503.7 89.4L503.2 89.9L503 89.4L502.8 89.4L502.2 93.4L502.4 93.8L503.2 93.8L503.7 93.7L503.9 93.1L504.4 93.6L503.9 96.9L503.6 97.9L503.2 97.8L502.8 98.1L502.3 101.1L502.4 101.8L502.7 101.9L503.9 101.7L504.2 101.1L504.6 101.4L504.7 103.4L504.2 103.5L503.8 104.1L503.9 106.3L504.4 106.3L505.7 104.1L505.7 103.4L506.4 103.6L506.8 104.4L506.4 104.8L505.8 104.9L505.8 105.4L505.9 104.9L506.5 108L507.2 107.6L507.4 108.3L507.8 108.3L509.7 106.4L509.9 105.9L510.4 106.1L510.6 106.6L510 107.1L510 108.4L510.3 108.6L510.3 110.1L510.7 110.1L512.5 106.9L513 105.6L513.1 104.6L512.5 102.9L512.3 102.9L512.2 103.4L511.7 103.1L510.9 100.6L511 99.6L511.2 99.4L511.7 100L512.4 98.5L512.9 97.4L513 96.4L512.3 95.1L512.3 94.6L512 94.6L511.9 95.1L511.5 94.9L510.7 92.4L510.9 91.4L511.2 91.4L511.4 92L512.5 89.9L512.8 88.6L512.3 86.9L512.2 86.8L511.9 87.2L511.5 87.1L510.7 84.9L510.7 83.6L510.9 83.4L511.2 83.7L511.4 83.6L512.4 81.6L512.6 80.6L512 78.6L511.8 78.6L511.7 79.1L511.2 78.9L510.4 76.4L510.5 75.4L510.7 75.2L511.2 75.7L512.2 73.8L512.5 72.6L511.8 70.4L511.5 70.4L511.4 70.9L511 70.6L510.2 68.1L510.4 67.2L510.7 67.1L510.9 67.8L512 65.6L512.3 64.4L511.8 62.6L511.7 62.5L511.4 63L511 62.9L510.2 60.6L510.2 59.4L510.4 59.2L510.9 59.4L511.9 57.4L512.1 56.4L511.5 54.4L511.3 54.4L511.2 54.9L510.7 54.6L509.9 52.1L510 51.1L510.2 50.9L510.7 51.5L511.7 49.5L512 48.4L511.3 46.1L511 46.1L510.9 46.6L510.5 46.4L509.7 43.9L509.9 42.9L510.2 42.9L510.4 43.6L511.4 41.6L511.8 40.4L511.8 39.6L511.3 38.9L511.3 38.4L511.2 38.2L510.9 38.8L510.5 38.6L509.7 36.4L509.7 35.1L509.9 34.9L510.4 35.2L511.7 32.3Z"/><path fill="#00f0df" d="M510.5 29.9L510.2 30.9L509.7 30.6L508.2 25.4L507.2 15.4L506.9 14.9L506.9 13.9L506.4 13.1L505.4 17.4L503.4 30.9L503.2 31.9L502.2 32L501.3 35.8L502.4 35.9L502.7 35.8L502.9 35.1L503.4 35.4L503.4 36.9L502.9 38.6L502.9 39.6L502.4 40.1L502.3 39.6L502 39.6L501.5 43.4L501.7 44L502.9 43.9L503.2 43.4L503.7 43.9L503.2 47.1L502.9 48.1L502.4 48L502 48.6L502 49.6L501.8 49.9L501.6 51.1L501.7 52L501.9 52.1L502.9 52L503.4 51.4L503.7 51.9L503.7 53.4L503.2 56.1L502.3 56.1L502.3 57.1L502 57.4L502 58.4L501.8 58.6L501.9 60.1L503.2 60.1L503.4 59.4L503.9 59.9L503.4 63.9L502.9 64.4L502.8 63.9L502.5 63.9L502 67.6L502.2 68.3L503.4 68.1L503.7 67.4L504.2 67.9L503.7 71.4L503.4 72.4L502.9 72.2L502.5 72.9L502.5 73.9L502.1 75.1L502.2 76.2L502.4 76.4L503.4 76.3L503.9 75.7L504.2 76.1L504.2 77.6L503.7 80.4L502.8 80.4L502.8 81.4L502.5 81.6L502.5 82.6L502.3 82.9L502.4 84.1L502.4 84.4L503.4 84.4L503.7 84.3L503.9 83.6L504.4 84.1L503.9 88.1L503.4 88.6L503.3 88.1L503 88.1L502.5 91.9L502.7 92.5L503.9 92.3L504.2 91.6L504.7 92.1L503.9 96.6L503.4 96.5L503 96.9L502.6 100.1L502.9 100.6L503.7 100.6L504.2 100.4L504.4 99.9L504.9 100.4L504.7 102.6L504 102.9L504 103.9L503.8 104.1L503.9 105.5L504.4 105.5L505.7 103.1L505.9 103.2L506.2 103.6L505.5 103.9L505.8 104.1L505.8 105.4L505.9 104.9L506.4 106.8L506.7 106.8L507.4 106.1L507.4 107.6L507.9 107.7L509.9 105.1L510.2 105.2L510.4 105.9L509.8 106.1L509.8 106.9L510 107.1L510 108.4L510.3 109L510.7 109L511.9 106.7L512.7 105.1L512.8 104.1L512.3 102.1L512 102.1L511.9 102.6L511.5 102.4L510.7 99.9L510.7 98.9L511.2 98.8L511.4 99.3L512 98.1L512.6 96.9L512.7 95.9L512 93.9L511.8 93.9L511.7 94.4L511.2 94.1L510.7 92.4L510.7 91.1L510.9 90.9L511.3 91.1L512.3 89.1L512.5 88.1L512 86.4L511.9 86.2L511.7 86.8L511.2 86.6L510.4 83.9L510.5 82.9L510.7 82.7L511.2 83L512.2 80.9L512.3 79.9L511.8 77.9L511.5 77.9L511.4 78.4L511 78.1L510.2 75.6L510.2 74.6L510.7 74.5L510.9 75L512.2 72.1L511.5 69.6L511.3 69.6L511.2 70.1L510.7 69.9L510.2 68.1L510.2 66.9L510.4 66.7L510.8 66.9L511.8 64.9L512 63.9L511.5 62.1L511.4 62L511.2 62.5L510.7 62.4L509.9 59.6L510 58.6L510.2 58.4L510.7 58.7L511.7 56.7L511.8 55.6L511.3 53.6L511 53.6L510.9 54.1L510.5 53.9L509.7 51.4L509.7 50.4L510.2 50.2L510.4 50.8L511.7 47.9L511 45.4L510.8 45.4L510.7 45.9L510.2 45.6L509.7 43.9L509.7 42.6L509.9 42.4L510.3 42.6L511.3 40.6L511.5 39.6L511 37.9L510.9 37.8L510.7 38.2L510.2 38.1L509.4 35.4L509.5 34.4L509.7 34.2L510.2 34.5L511.4 31.8Z"/><path fill="#00f0ab" d="M510.3 29.1L510.3 29.6L509.9 30.1L509.7 30.1L508.2 25.4L507.2 15.4L506.9 14.9L506.9 13.9L506.4 13.1L505.4 17.4L505.2 20.1L504.9 20.6L503.4 30.6L502.4 30.8L501.6 34.5L502.9 34.5L503.2 33.9L503.6 34.1L503.7 35.1L503.4 35.6L503.2 38.1L502.7 38.6L502.5 38.1L502.3 38.1L502.3 39.4L501.8 40.9L501.8 42.1L501.9 42.7L503.2 42.6L503.4 41.9L503.9 42.4L503.2 46.9L502.3 47.1L502.3 48.4L502 48.6L501.9 49.9L501.9 50.6L502.2 50.8L503.2 50.7L503.4 50.2L503.7 50.2L503.9 50.6L503.4 54.9L502.5 54.9L502.5 55.9L502.3 56.1L502.3 57.1L502.1 57.4L502.2 58.8L503.4 58.8L503.7 58.1L504.2 58.6L503.6 62.6L503.2 62.9L503 62.4L502.8 62.4L502.8 63.6L502.3 65.1L502.3 66.4L502.4 67L503.7 66.8L503.9 66.1L504.4 66.6L503.9 70.1L503.6 71.1L503.2 71L502.8 71.4L502.8 72.6L502.5 72.9L502.4 74.1L502.4 74.9L502.7 75.1L503.7 75L503.9 74.5L504.2 74.4L504.4 74.9L503.9 79.1L503 79.1L503 80.1L502.8 80.4L502.8 81.4L502.6 81.6L502.7 83.1L503.9 83L504.2 82.4L504.7 82.9L504.1 86.9L503.7 87.1L503.5 86.6L503.3 86.6L503.3 87.9L502.8 89.4L502.9 91.2L503.9 91.1L504.4 90.7L504.7 91.1L504.4 94.1L504.1 95.4L503.7 95.2L503.3 95.6L502.9 98.9L503.2 99.3L503.9 99.3L504.7 98.7L504.9 99.1L504.9 101.1L504.7 101.6L504 101.9L503.9 104.7L504.4 104.7L505.4 102.9L505.5 103.9L505.8 104.1L505.8 105.4L505.9 104.9L506.4 105.9L507.4 104.8L507.7 106.6L508.2 106.6L509.9 104.4L510.2 104.4L510.4 104.9L509.8 105.1L509.8 106.9L510.2 107.9L510.7 107.9L512.2 105L512.6 103.6L512 101.4L511.8 101.4L511.7 101.9L511.2 101.6L510.4 98.9L510.7 97.9L510.9 97.9L511.2 98.6L512.2 96.6L512.4 95.4L512 93.9L511.7 93.8L511.4 94.1L511 93.4L510.4 91.4L510.5 90.4L510.7 90.2L511.1 90.4L512 88.6L512.2 86.9L511.7 85.5L511.4 86L511 85.9L510.2 83.1L510.2 81.9L510.4 81.7L510.9 82.3L511.9 80.4L512.1 79.4L511.5 77.1L511.3 77.1L511.2 77.6L510.7 77.4L509.9 74.6L510.2 73.7L510.4 73.6L510.7 74.4L511.7 72.4L511.9 71.4L511.5 69.6L511.2 69.5L510.9 69.8L510.7 69.6L509.9 67.1L510 66.1L510.2 65.9L510.6 66.1L511.7 63.4L511.3 61.4L511.2 61.2L510.9 61.8L510.5 61.6L509.7 58.9L509.7 57.6L509.9 57.4L510.4 58.1L511.4 56.1L511.6 55.1L511 52.9L510.8 52.9L510.7 53.4L510.2 53.1L509.7 51.4L509.7 50.1L509.9 49.9L510.2 50.1L511.4 47.4L511 45.4L510.7 45.2L510.4 45.6L510.2 45.4L509.4 42.9L509.5 41.9L509.7 41.7L510.1 41.9L511.2 39.1L510.8 37.1L510.7 37L510.4 37.5L510 37.4L509.2 34.6L509.2 33.4L509.4 33.2L509.9 33.8L511.1 31.3Z"/><path fill="#05f078" d="M510 28.4L510 29.1L509.7 29.6L509.2 29.1L508.2 25.4L507.2 15.4L506.9 14.9L506.9 13.9L506.4 13.1L505.4 17.4L503.7 29.4L502.6 29.5L502 33.3L503.2 33.2L503.4 32.6L503.9 33.1L503.4 37.1L503.1 37.6L502.5 37.6L502.3 38.1L502.3 39.4L502 39.6L502.2 41.4L503.2 41.4L503.7 40.9L503.9 41.4L503.9 42.9L503.4 45.6L502.5 45.9L502.1 49.1L502.4 49.5L503.2 49.5L503.7 48.9L504.2 49.4L503.7 53.4L503.2 53.8L502.9 53.2L502.8 53.4L502.4 57.1L502.4 57.5L502.7 57.6L503.7 57.5L503.9 56.9L504.4 57.4L503.9 61.1L503.6 61.9L503.2 61.8L502.8 62.4L502.8 63.6L502.5 63.9L502.7 65.7L503.7 65.6L504.2 64.9L504.4 65.4L504.4 67.1L503.9 69.9L503 70.1L502.7 73.6L503.7 73.7L504.2 73.1L504.7 73.6L504.2 77.6L503.7 78L503.4 77.5L503.3 77.6L503.3 78.9L503 79.1L502.8 81.1L502.9 81.8L503.2 81.8L504.2 81.7L504.4 81.1L504.9 81.6L504.4 85.4L504.2 85.9L503.7 86L503.3 86.6L503.3 87.9L503 88.1L503.2 89.9L504.2 89.8L504.7 89.2L504.9 89.6L504.9 91.1L504.7 91.6L504.4 94.1L503.5 94.1L503.1 97.6L503.4 98L504.2 98L504.7 97.4L505.2 97.9L504.9 100.4L504.4 100.5L504 101.1L504.2 103.4L504.7 103.4L505.4 102.1L505.5 103.9L505.9 104.7L506.4 104.7L507.7 103.4L507.7 105.8L508.2 105.8L509.7 104.1L509.8 106.9L510.4 107L511.9 104.4L512.3 102.9L511.8 100.6L511.5 100.6L511.4 101.1L511 100.9L510.4 98.9L510.5 97.6L510.7 97.4L511.1 97.6L511.9 95.9L512.1 94.6L511.8 93.1L511.7 93L511.2 93.6L511 93.4L510.2 90.6L510.2 89.4L510.4 89.2L510.9 89.5L511.8 87.6L512 86.4L511.5 84.9L511.3 84.9L511.2 85.4L510.7 85.1L509.9 82.1L510.2 80.9L510.6 81.1L510.7 81.6L511.6 79.6L511.8 78.6L511.3 76.4L511 76.4L510.9 76.9L510.5 76.6L509.9 74.6L510 73.4L510.2 73.2L510.6 73.4L511.4 71.7L511.6 70.6L511.3 68.9L511.2 68.8L510.7 69.3L510.5 69.1L509.7 66.4L509.7 65.1L509.9 64.9L510.4 65.3L511.5 62.6L511 60.6L510.8 60.6L510.7 61.1L510.2 60.9L509.4 57.9L509.7 56.9L509.9 56.9L510.2 57.4L511.1 55.4L511.3 54.4L510.8 52.1L510.5 52.1L510.4 52.6L510 52.4L509.4 50.4L509.5 49.1L509.7 48.9L510.1 49.1L511.1 46.6L510.8 44.6L510.7 44.5L510.2 45.1L510 44.9L509.2 42.1L509.2 40.9L509.4 40.7L509.9 41.1L511 38.4L510.5 36.4L510.3 36.4L510.2 36.9L509.7 36.6L508.9 33.6L509.2 32.7L509.4 32.6L509.7 33.2L510.7 30.9ZM509.9 103.4L510.4 103.9L509.9 104L509.8 103.6Z"/><path fill="#27f045" d="M509.8 27.9L509.8 28.4L509.4 28.8L509 28.4L508.2 25.4L507.2 15.4L506.9 14.9L506.9 13.9L506.4 13.1L505.4 17.4L503.9 27.9L503.7 28.2L502.9 28.2L502.2 32.1L503.2 32L503.7 31.7L503.9 32.1L503.7 35.1L503.4 36.4L502.9 36.2L502.5 36.9L502.3 39.9L502.4 40.2L503.2 40.2L503.9 39.4L504.2 39.9L503.7 44.4L502.8 44.4L502.4 47.9L502.7 48.3L503.4 48.2L503.9 47.6L504.4 48.1L503.9 51.9L503.4 52.4L503.3 51.9L503 51.9L503 53.1L502.8 53.4L502.8 54.6L502.6 54.9L502.7 56.3L503.4 56.3L504.2 55.9L504.4 56.4L504.4 57.9L503.9 60.6L503.4 60.5L503 60.9L502.8 64.1L502.9 64.4L503.7 64.4L504.4 63.7L504.7 64.1L504.2 68.6L503.3 68.6L503.3 69.9L503 70.1L502.9 71.9L503.2 72.5L504.2 72.4L504.4 71.6L504.9 72.1L504.4 76.1L503.9 76.6L503.8 76.1L503.5 76.1L503.5 77.4L503.3 77.6L503.3 78.9L503.1 79.1L503.2 80.5L503.9 80.6L504.7 80.2L504.9 80.6L504.9 82.1L504.4 84.6L503.5 85.1L503.3 88.4L503.4 88.6L504.2 88.6L504.9 87.9L505.2 88.4L504.7 92.9L503.8 92.9L503.4 96.1L503.7 96.7L504.7 96.6L504.9 95.9L505.4 96.4L505.1 99.1L504.9 99.6L504.3 99.9L504.3 100.9L504 101.1L504.2 102.6L504.7 102.6L505.2 101.7L505.4 101.8L505.7 103.8L506.2 103.8L507.7 102.2L507.9 104.7L508.4 104.7L509.7 103.3L509.9 105.9L509.9 106.1L510.4 106.1L511.8 103.4L512.1 102.1L511.8 100.6L511.4 100.5L511.2 100.8L510.7 100.1L510.2 97.9L510.2 96.6L510.4 96.4L510.9 96.8L511.7 95.1L511.9 93.9L511.5 92.4L511.4 92.2L511.2 92.8L510.7 92.6L509.9 89.6L510 88.6L510.4 88.5L510.7 88.9L511.3 87.6L511.8 85.6L511.3 84.6L511.3 83.9L511 83.9L510.9 84.4L510.5 84.1L509.9 82.1L510 80.9L510.2 80.7L510.4 80.9L510.7 80.5L511.4 78.9L511.6 77.9L511.3 76.4L510.9 76.2L510.7 76.6L510.2 75.9L509.7 73.6L509.7 72.4L509.9 72.2L510.4 72.6L511.4 70.1L511 68.1L510.9 68L510.7 68.5L510.2 68.4L509.4 65.4L509.5 64.4L509.9 64.2L510.2 64.7L511.3 61.9L510.8 59.6L510.5 59.6L510.4 60.1L510 59.9L509.4 57.9L509.5 56.6L509.7 56.4L509.9 56.7L510.2 56.3L510.9 54.6L511.1 53.6L510.8 52.1L510.4 52L510.2 52.3L509.7 51.6L509.2 49.4L509.2 48.4L509.4 48.2L509.7 48.5L509.9 48.4L510.9 45.9L510.5 43.9L510.4 43.8L510.2 44.2L509.7 44.1L508.9 41.1L509 40.1L509.4 40L509.7 40.4L510.8 37.6L510.3 35.4L510 35.4L509.9 35.9L509.5 35.6L508.9 33.6L509 32.4L509.2 32.2L509.5 32.4L510.5 30.1ZM508.8 22.1L508.8 23.1L508.9 23.2Z"/><path fill="#51f11b" d="M509.7 27.2L509.2 28.3L508.7 27.6L508.2 25.4L507.2 15.4L506.9 14.9L506.9 13.9L506.4 13.1L505.4 17.4L504.2 26.4L503.9 26.9L503.1 27L502.4 30.8L503.4 30.8L503.9 30.2L504.2 30.6L504.2 32.1L503.9 32.6L503.7 35.1L502.8 35.1L502.5 38.6L502.7 38.9L503.7 38.8L503.9 38.1L504.4 38.6L503.9 42.9L503.4 43.2L503.2 42.8L503 42.9L502.6 46.6L502.9 47L503.7 46.9L503.9 46.8L504.2 46.1L504.7 46.6L504.2 50.4L503.9 51.1L503.4 51.2L503 51.9L503 53.1L502.8 53.4L502.9 55L503.9 55L504 54.6L504.4 54.4L504.7 54.9L504.7 56.4L504.1 59.4L503.3 59.4L503 62.9L503.2 63.1L503.9 63.1L504.4 62.4L504.9 62.9L504.4 67.1L503.9 67.5L503.7 67L503.5 67.1L503.1 70.6L503.2 71.1L503.4 71.2L504.4 71.1L504.7 70.4L505.2 70.9L504.7 73.4L504.7 74.6L504.4 75.4L503.9 75.5L503.5 76.1L503.5 77.4L503.3 77.6L503.4 79.3L504.4 79.2L504.5 78.9L504.9 78.7L505.2 79.1L505.2 80.6L504.7 83.4L503.8 83.6L503.5 87.1L503.7 87.4L504.4 87.4L504.9 86.6L505.4 87.1L504.9 91.1L504.4 91.6L504.3 91.1L504 91.1L504 92.6L503.8 92.9L503.6 94.9L503.7 95.4L503.9 95.5L504.9 95.3L505.2 94.6L505.7 95.1L505.2 98.4L504.3 98.9L504.2 101.9L504.7 101.9L505.2 100.8L505.7 102.6L506.2 102.6L507.7 101.1L508.2 100.1L508.4 100.2L508.7 100.9L508 101.1L508 101.6L507.8 101.9L507.9 103.8L508.4 103.8L509.7 102.6L509.9 105L510.4 105L511.7 102.5L511.8 101.4L511.5 99.9L511.4 99.8L510.9 100.3L510.7 100.1L509.9 96.9L510 95.9L510.2 95.7L510.7 96.2L511.2 95.2L511.7 93.1L511.3 92.1L511.3 91.4L511 91.4L510.9 91.9L510.5 91.6L509.7 88.6L509.9 87.7L510.2 87.6L510.4 88.2L511.3 86.4L511.5 85.4L511 83.1L510.8 83.1L510.7 83.6L510.2 83.4L509.7 81.1L509.7 79.9L509.9 79.7L510.2 80L510.4 79.9L511.2 78.2L511.3 77.1L511 75.6L510.9 75.5L510.4 76.1L510.2 75.9L509.4 72.6L509.5 71.6L509.7 71.4L510.2 71.9L511.2 69.4L510.8 67.1L510.5 67.1L510.4 67.6L510 67.4L509.2 64.4L509.4 63.4L509.7 63.4L509.9 64L510.8 62.1L511 61.1L510.5 58.9L510.3 58.9L510.2 59.4L509.7 59.1L509.2 56.9L509.2 55.6L509.4 55.4L509.7 55.7L509.9 55.6L510.8 53.1L510.5 51.4L510.4 51.2L509.9 51.8L509.7 51.6L508.9 48.6L509 47.4L509.2 47.2L509.7 47.7L510.7 45.1L510.3 42.9L510 42.9L509.9 43.4L509.5 43.1L508.7 40.1L508.9 39.2L509.2 39.1L509.4 39.8L510.5 37.1L510 34.6L509.8 34.6L509.7 35.1L509.2 34.9L508.7 32.6L508.7 31.4L508.9 31.2L509.2 31.5L509.4 31.4L510.3 29.4ZM508.7 21L508.5 22.1L508.9 23.2Z"/><path fill="#8cf50a" d="M509.5 26.6L508.9 27.6L508.2 25.4L507.2 15.4L506.9 14.9L506.9 13.9L506.4 13.1L505.4 17.4L505.2 20.1L504.4 23.6L504.4 24.9L504.2 25.6L503.3 25.8L502.6 29.5L503.7 29.5L503.9 28.9L504.4 29.4L503.9 33.9L503.4 34L503.2 33.5L503 33.6L502.7 37.4L502.9 37.7L503.7 37.6L504.2 36.9L504.7 37.4L504.2 41.1L503.7 41.6L503.5 41.1L503.3 41.1L503.3 42.6L503 42.9L503 44.1L502.8 44.4L502.9 45.7L503.9 45.7L504.4 45.2L504.7 45.6L504.7 47.1L504.2 49.9L503.3 50.4L503.1 53.6L503.2 53.8L504.2 53.7L504.4 53.1L504.9 53.6L504.4 58.1L503.9 58.2L503.7 57.8L503.5 57.9L503.2 61.6L503.4 61.9L504.2 61.9L504.7 61.1L505.2 61.6L504.7 65.4L504.4 66.1L503.8 66.1L503.5 68.4L503.3 68.6L503.4 69.9L504.4 69.9L504.9 69.4L505.2 69.9L505.2 71.4L504.7 74.1L503.8 74.6L503.6 77.9L504.7 77.9L504.9 77.4L505.4 77.9L504.9 82.1L504.4 82.5L504.2 82L504 82.1L503.6 85.6L503.9 86.1L504.9 86L505.2 85.4L505.7 85.9L505.2 89.6L504.9 90.4L504.3 90.4L503.8 93.4L503.9 94.1L504.9 94.1L505.4 93.7L505.7 94.1L505.4 97.4L505.1 98.1L504.5 98.1L504.3 98.9L504.4 100.5L504.9 100.5L505.2 100L505.4 101.6L505.9 101.7L507.7 99.9L508.2 98.9L508.4 98.9L508.7 100.1L508 100.4L508 101.6L507.8 101.9L507.9 103L508.4 103L509.4 101.9L509.8 102.6L509.9 103.9L510.4 103.9L511.4 101.8L511.6 100.6L511.3 98.9L511 98.9L510.9 99.4L510.5 99.1L509.7 96.1L509.7 95.1L510.2 95L510.4 95.5L510.9 94.5L511.4 93.3L511.5 92.4L511 90.6L510.8 90.6L510.7 91.1L510.2 90.9L509.7 88.6L509.7 87.4L509.9 87.2L510.3 87.4L511.2 85.5L511.3 83.9L510.9 83L510.4 83.3L510.2 83.1L509.4 80.1L509.5 78.9L509.7 78.7L510.2 79.2L510.9 77.6L511 75.6L510.7 74.5L510.4 75.1L510 74.9L509.2 71.9L509.2 70.9L509.7 70.8L509.9 71.3L511 68.6L510.5 66.4L510.3 66.4L510.2 66.9L509.7 66.6L509.2 64.4L509.2 63.1L509.4 62.9L509.7 63.2L509.9 62.9L510.7 61.2L510.8 60.1L510.5 58.9L510.2 58.8L509.9 59.1L509.7 58.9L508.9 55.9L509 54.6L509.2 54.4L509.7 55L510.6 52.6L510.3 50.4L510 50.4L509.9 50.9L509.5 50.6L508.7 47.6L508.7 46.6L509.2 46.5L509.4 47.1L510.5 44.4L510 42.1L509.8 42.1L509.7 42.6L509.2 42.4L508.7 40.1L508.7 38.9L508.9 38.7L509.3 38.9L510.3 36.4L510 34.6L509.7 34.5L509.4 34.8L509.2 34.6L508.4 31.6L508.5 30.4L508.7 30.2L509.2 30.7L510.1 28.6ZM508.6 20.1L508.3 21.1L508.8 22.4Z"/><path fill="#c1f600" d="M508.4 19.2L507.9 20.1L507.4 19.1L507.4 17.4L507.2 16.9L506.9 13.9L506.4 13.1L505.4 17.4L504.4 24.4L503.5 24.5L502.9 28.2L503.9 28.2L504.2 27.6L504.7 28.1L504.2 32.1L503.7 32.6L503.5 32.1L503.3 32.1L503.3 33.4L503 33.6L502.9 35.1L502.9 36.3L503.9 36.3L504.4 35.9L504.7 36.4L504.7 38.1L504.2 40.6L503.3 41.1L503.3 42.6L503 42.9L503.1 44.4L504.2 44.4L504.4 43.9L504.9 44.4L504.4 48.6L503.5 48.9L503.2 52.1L503.4 52.6L504.2 52.5L504.7 51.9L505.2 52.4L504.7 56.4L504.2 56.9L504 56.4L503.8 56.4L503.8 57.6L503.5 57.9L503.5 59.1L503.3 59.4L503.4 60.5L504.2 60.6L504.9 60.2L505.2 60.6L505.2 62.1L504.7 64.9L503.8 65.4L503.8 66.9L503.5 67.1L503.7 68.6L504.7 68.6L504.8 68.1L505.2 67.9L505.4 68.4L505.4 69.9L505.2 70.4L504.9 72.9L504 72.9L503.7 76.1L503.9 76.8L504.9 76.7L505.2 76.1L505.7 76.6L505.2 80.6L504.7 81.1L504.5 80.6L504.3 80.6L504.3 81.9L504 82.1L504 83.4L503.8 83.6L503.9 84.8L504.7 84.9L505.4 84.4L505.7 84.9L505.7 86.4L505.2 89.1L504.3 89.6L504.3 90.9L504 91.1L504.2 92.9L505.2 92.9L505.3 92.4L505.7 92.2L505.9 92.6L505.4 97.1L504.5 97.1L504.5 98.6L504.3 99.4L504.4 99.8L504.9 99.8L505.2 99.5L505.4 100.6L505.9 100.6L508.4 97.9L508.7 99.1L508 99.4L508.2 101.9L508.7 101.9L509.4 101.1L509.5 102.4L509.9 102.8L510.4 102.8L511.3 100.9L511.4 99.9L511 97.9L510.8 97.9L510.7 98.4L510.2 98.1L509.4 94.6L509.9 94.1L510.2 94.9L511.2 92.7L511.3 91.4L511 90.6L510.7 90.2L510.4 90.6L510 89.9L509.4 87.6L509.4 86.6L509.7 86.2L510.2 86.5L510.7 85.5L511.1 84.4L511 83.1L510.7 82L510.4 82.5L510 82.4L509.2 78.4L509.4 77.9L509.9 78.6L510.8 76.6L510.9 75.6L510.5 73.6L510.3 73.6L510.2 74.1L509.7 73.9L509.2 71.9L509.2 70.9L509.4 70.4L509.7 70.6L510.4 69.1L510.8 67.1L510.5 66.4L510.2 66L509.9 66.3L509.5 65.6L508.9 63.4L508.9 62.4L509.2 61.9L509.7 62.2L510.4 60.6L510.6 59.6L510.3 57.9L510.2 57.8L509.9 58.2L509.5 58.1L508.7 54.9L508.7 53.9L508.9 53.7L509.4 54.3L510.4 51.9L510 49.4L509.8 49.4L509.7 49.9L509.2 49.6L508.7 47.6L508.7 46.4L508.9 46.2L509.2 46.4L510.2 44.3L510.3 42.9L510 42.1L509.7 41.8L509.4 42.1L509 41.4L508.4 39.1L508.5 37.9L508.7 37.7L509.2 38L509.9 36.4L510.1 35.4L509.8 33.6L509.7 33.5L509.4 34L509 33.9L508.2 30.6L508.2 29.6L508.4 29.4L508.9 30.1L509.9 27.8L509.3 25.8L509 26.6L508.7 26.8L508.2 25.4L507.7 20.6L507.9 20.2L508.3 20.6L508.7 22.1Z"/><path fill="#ebf200" d="M508.4 18.2L507.7 19.3L507.4 18.9L506.9 13.9L506.4 13.1L505.4 17.4L504.7 23.1L504.2 23.5L503.6 23.5L503.1 27L503.9 27L504.4 26.4L504.9 26.9L504.4 29.4L504.4 30.6L504.1 31.4L503.5 31.4L503.1 34.1L503.2 35.1L504.2 35.1L504.7 34.4L504.9 34.9L504.9 36.4L504.7 36.9L504.4 39.4L503.5 39.6L503.3 42.9L503.4 43.2L504.2 43.2L504.4 43.1L504.7 42.4L505.2 42.9L504.7 47.1L504.2 47.5L503.9 47L503.8 47.1L503.8 48.6L503.5 48.9L503.4 50.9L503.7 51.3L504.2 51.3L504.7 51.1L504.9 50.6L505.4 51.1L504.9 54.6L504.6 55.6L504 55.6L503.8 57.6L503.6 57.9L503.7 59.4L504.7 59.3L505.2 58.7L505.4 59.1L505.4 60.6L505.2 61.1L504.9 63.6L504 63.9L503.8 67.1L503.9 67.5L504.7 67.4L505.2 66.6L505.7 67.1L505.2 71.4L504.7 71.8L504.4 71.2L504.3 71.4L503.9 75.1L504.2 75.6L505.4 75.2L505.7 75.6L505.4 78.9L505.1 79.9L504.7 79.8L504.3 80.6L504.3 81.9L504.1 82.1L504.2 83.6L505.2 83.5L505.7 82.9L505.9 83.4L505.9 84.9L505.7 85.4L505.4 87.9L504.5 88.1L504.3 91.4L504.4 91.7L505.2 91.7L505.7 90.9L506.2 91.4L505.7 95.6L505.2 96L504.9 95.5L504.8 95.6L504.6 98.1L504.7 98.4L504.9 98.4L505.1 99.4L505.9 99.5L507.7 97.7L508.4 96.4L508.7 96.4L508.9 96.9L508.9 98.1L508 98.4L508.1 100.9L508.7 101L509.4 100.2L509.7 102.1L510.2 102.1L511.1 100.1L511.3 98.9L510.8 97.6L510.8 96.9L510.5 96.9L510.4 97.4L510 97.1L509.4 95.1L509.4 94.1L509.7 93.7L510.1 93.9L510.7 92.7L511 90.6L510.7 89.5L510.2 90.1L510 89.9L509.2 85.9L509.4 85.4L509.9 85.8L510.7 84.1L510.9 83.1L510.5 81.1L510.3 81.1L510.2 81.6L509.7 81.4L508.9 77.9L509.4 77.4L509.7 77.9L510.6 75.9L510.8 74.6L510.3 73.4L510.3 72.6L510 72.6L509.9 73.1L509.5 72.9L508.9 70.9L508.9 69.9L509.2 69.4L509.6 69.6L510.2 68.5L510.5 67.6L510.5 66.4L510.2 65.2L509.7 65.8L509.5 65.6L508.7 61.6L508.9 61.2L509.4 61.6L510.2 59.9L510.4 58.9L510 56.9L509.8 56.9L509.7 57.4L509.2 57.1L508.4 53.6L508.9 53.1L509.2 53.7L510.1 51.6L510.3 50.4L509.8 48.6L509.5 48.6L509.4 49.1L509 48.9L508.4 46.6L508.5 45.4L508.7 45.2L509.1 45.4L510.1 42.9L509.8 41.1L509.7 41L509.2 41.6L509 41.4L508.2 38.1L508.2 37.1L508.4 36.9L508.9 37.4L509.9 34.9L509.5 32.6L509.3 32.6L509.2 33.1L508.7 32.9L507.9 29.9L508.2 28.9L508.4 28.9L508.7 29.5L509.8 27.3L509 24.6L509 25.4L508.7 25.9L508.2 25.4L507.7 20.6L507.9 20.2L508.3 20.6L508.3 21.1L508.7 21.1Z"/><path fill="#ffdf00" d="M508.9 24.2L508.4 25.3L508.2 24.9L507.9 21.9L507.7 21.4L507.7 20.4L507.9 20.2L508.4 20.4L508.6 20.1L508.3 17.1L507.7 18.3L507.2 16.9L506.9 13.9L506.4 13.1L505.4 17.4L504.9 21.6L504.4 22.2L503.9 22.2L503.3 25.8L503.9 25.8L504.7 25.4L504.9 25.9L504.9 27.4L504.4 30.1L503.5 30.6L503.3 33.6L503.4 33.9L504.2 33.9L504.9 33.2L505.2 33.6L504.7 38.1L503.8 38.1L503.5 41.6L503.7 42L504.4 42L504.9 41.1L505.4 41.6L504.9 45.6L504.6 46.4L504 46.4L503.8 47.1L503.8 48.6L503.6 48.9L503.7 50L504.7 50L505.2 49.4L505.4 49.9L505.4 51.6L504.9 54.4L504 54.6L503.8 57.9L503.9 58.2L504.7 58.1L505.4 57.4L505.7 57.9L505.1 62.4L504.7 62.5L504.4 62L504.3 62.1L503.9 65.9L504.2 66.2L504.9 66.2L505.4 65.4L505.9 65.9L505.4 69.9L505.2 70.4L504.5 70.6L504.3 72.6L504.1 72.9L504.2 74.3L505.2 74.2L505.7 73.7L505.9 74.1L505.9 75.6L505.7 76.1L505.4 78.6L504.5 78.9L504.3 82.1L504.4 82.4L505.2 82.4L505.9 81.7L506.2 82.1L505.6 86.6L505.2 86.8L504.9 86.2L504.8 86.4L504.4 90.1L504.7 90.5L505.4 90.4L505.9 89.6L506.4 90.1L505.9 93.9L505.7 94.6L505 94.9L504.6 97.9L505.2 98.5L505.9 98.3L507.4 96.9L508.4 95.4L508.7 95.4L508.9 95.9L508.9 97.1L508.3 97.4L508.3 98.1L508 98.4L508.1 99.9L508.2 100.2L508.7 100.2L509.4 99.4L509.7 101L510.2 101L510.9 99.4L511 97.9L510.7 96.8L510.2 97.3L510 97.1L509.2 94.1L509.2 93.4L509.4 92.9L509.7 93.2L509.9 93.1L510.5 91.9L510.8 91.1L510.8 89.6L510.4 88.5L510.2 89.1L509.7 88.9L508.9 85.9L508.9 85.1L509.2 84.7L509.7 85.2L510.5 83.4L510.7 82.1L510.3 80.1L510 80.1L509.9 80.6L509.5 80.4L508.9 78.4L508.9 77.4L509.2 76.9L509.5 77.1L510.2 75.8L510.5 73.6L510.2 72.5L509.7 73.1L509.5 72.9L508.7 69.9L508.7 69.1L508.9 68.7L509.2 69L509.4 68.9L510 67.6L510.3 66.9L510.3 65.4L509.9 64.2L509.7 64.9L509.2 64.6L508.4 61.6L508.5 60.6L508.7 60.4L509.2 61L510.2 58.6L509.8 55.9L509.5 55.9L509.4 56.4L509 56.1L508.4 54.1L508.5 52.9L508.7 52.7L509 52.9L509.9 50.9L510 49.4L509.7 48.5L509.2 48.8L509 48.6L508.2 45.6L508.2 44.6L508.4 44.4L508.7 44.7L508.9 44.7L509.7 43.1L509.8 42.1L509.5 40.1L509.3 40.1L509.2 40.6L508.7 40.4L507.9 37.4L508 36.4L508.2 36.2L508.7 36.7L509.7 34.1L509.3 31.6L509 31.6L508.9 32.1L508.5 31.9L507.9 29.9L508 28.6L508.2 28.4L508.5 28.6L509.5 26.6Z"/><path fill="#ffbe00" d="M508.9 23.3L508.4 24.1L508 23.6L507.9 21.9L507.4 20.6L507.5 19.6L507.7 19.4L508.2 19.8L508.5 19.3L508.2 16.5L507.7 17.2L507.2 17.1L506.9 13.9L506.4 13.1L505.4 17.4L505.2 20.1L504.7 21L504.1 21L503.5 24.6L504.4 24.5L504.9 23.9L505.2 24.4L505.2 25.9L504.9 26.4L504.7 28.9L503.8 28.9L503.5 32.4L503.7 32.7L504.4 32.6L504.9 31.9L505.4 32.4L504.9 36.6L504.4 36.9L504.3 36.4L504 36.4L504 37.9L503.8 38.1L503.6 40.4L503.7 40.7L504.4 40.8L504.9 40.5L505.2 39.9L505.7 40.4L504.9 44.9L504.3 45.1L504 45.6L504 46.9L503.8 47.1L503.9 48.8L504.7 48.8L505.4 48.2L505.7 48.6L505.2 53.1L504.3 53.1L504 56.6L504.2 56.9L504.9 56.9L505.4 56.1L505.9 56.6L505.4 60.6L504.9 61.1L504.8 60.6L504.5 60.6L504.1 64.4L504.2 64.9L504.4 65L505.4 64.8L505.7 64.1L506.2 64.6L505.4 69.1L504.8 69.4L504.5 69.9L504.5 71.1L504.3 71.4L504.4 73.1L505.4 72.9L505.7 72.5L505.9 72.4L506.2 72.9L505.7 77.4L504.8 77.4L504.5 80.9L504.7 81.2L505.4 81.1L505.9 80.4L506.4 80.9L505.9 84.9L505.4 85.4L505.3 84.9L505 84.9L504.6 88.6L504.7 89.2L504.9 89.2L505.9 89L506.2 88.4L506.7 88.9L505.9 93.4L505 93.9L505 95.4L504.8 95.6L504.9 97.3L505.7 97.3L506.4 96.8L507.9 95.2L508.7 93.9L509.2 93.9L508.9 92.6L509.7 92.5L510.7 90.1L510.3 87.6L510 87.6L509.9 88.1L509.5 87.9L508.7 85.1L508.7 84.1L508.9 83.9L509.4 84.5L510.4 82.6L510.5 81.6L510.3 80.1L509.9 80L509.7 80.3L509.5 80.1L508.7 77.4L508.7 76.4L508.9 76.2L509.3 76.4L510.2 74.6L510.3 72.6L509.9 71.8L509.7 72.2L509.2 72.1L508.4 69.1L508.5 68.1L508.7 67.9L509.2 68.2L510.1 66.4L510.2 65.4L509.8 63.4L509.5 63.4L509.4 63.9L509 63.6L508.2 60.9L508.2 59.9L508.4 59.7L508.9 60.3L509.9 58.4L510 57.4L509.8 55.9L509.4 55.8L509.2 56.1L509 55.9L508.2 53.1L508.2 52.1L508.4 51.9L508.8 52.1L509.7 50.4L509.8 49.4L509.5 47.6L509.4 47.5L509.2 48L508.7 47.9L507.9 44.9L508 43.9L508.2 43.7L508.7 44L509.7 41.6L509.3 39.1L509 39.1L508.9 39.6L508.5 39.4L507.7 36.6L507.7 35.6L507.9 35.4L508.4 36.1L509.5 33.4L509.3 31.6L508.9 31.5L508.7 31.8L508.5 31.6L507.7 28.9L507.7 27.9L507.9 27.7L508.3 27.9L509.3 25.9ZM509.4 95.1L508.9 96.4L508.3 96.6L508.1 99.1L508.2 99.3L508.7 99.3L509.4 98.5L509.7 99.9L510.2 99.9L510.8 98.4L510.8 96.9L510.4 96L510.2 96.5L509.7 96.4Z"/><path fill="#ff9900" d="M509.1 25.1L508.7 22.2L508.5 23.1L508.2 23.6L508 23.4L507.9 21.9L507.2 19.9L507.2 19.1L507.4 18.9L507.7 19.2L507.9 19.1L508.4 18.2L508.1 15.4L507.4 16.6L506.9 14.9L506.9 13.9L506.4 13.1L505.2 19.4L504.3 19.8L503.7 23.4L504.4 23.3L504.9 22.7L505.2 22.7L505.4 23.1L504.9 27.6L504.4 27.8L504.2 27.2L504 27.4L503.7 31.4L504.7 31.4L505.2 30.6L505.7 31.1L505.1 35.1L504.9 35.6L504.4 35.8L504 36.4L503.8 39.1L503.9 39.5L504.7 39.5L505.2 39.2L505.4 38.6L505.9 39.1L505.2 43.9L504.3 43.9L504 47.1L504.2 47.6L504.9 47.6L505.4 47L505.7 46.9L505.9 47.4L505.4 51.9L504.9 52L504.7 51.5L504.5 51.6L504.2 55.6L505.2 55.6L505.7 54.9L506.2 55.4L505.6 59.4L505.4 59.9L504.9 60L504.5 60.6L504.3 63.4L504.4 63.8L505.2 63.7L505.7 63.5L505.9 62.9L506.4 63.4L505.7 68.1L504.8 68.1L504.8 69.6L504.5 69.9L504.7 71.9L505.4 71.8L505.9 71.2L506.2 71.2L506.4 71.6L505.9 75.9L505.4 76.1L505.3 75.6L505 75.6L504.7 79.8L505.7 79.8L506.2 79.1L506.7 79.6L506.2 83.4L505.9 84.1L505.4 84.2L505 84.9L505 86.1L504.8 86.4L504.9 88L505.7 88L506.4 87.4L506.7 87.9L506.7 89.4L506.2 92.1L505.3 92.4L505.3 93.6L505 93.9L505.2 96.1L506.4 95.7L507.9 94.1L509.8 91.1L510.5 89.1L510 86.6L509.8 86.6L509.7 87.1L509.2 86.9L508.4 84.4L508.7 83.4L509.2 83.9L510.1 82.1L510.3 81.1L510 79.1L509.9 79L509.7 79.5L509.2 79.4L508.4 76.6L508.5 75.9L508.7 75.7L509 75.9L510 73.9L510 71.9L509.7 70.8L509.4 71.4L509 71.1L508.2 68.4L508.2 67.6L508.4 67.4L508.7 67.7L508.9 67.6L509.7 66.1L510 64.4L509.5 63.1L509.5 62.4L509.3 62.4L509.2 62.9L508.7 62.6L507.9 60.1L508.2 59.2L508.7 59.6L509.6 57.9L509.8 56.9L509.5 54.9L509.4 54.8L509.2 55.2L508.7 55.1L507.9 52.4L508 51.6L508.2 51.4L508.5 51.6L509.5 49.6L509.5 47.6L509.2 46.5L508.9 47.1L508.5 46.9L507.7 44.1L507.7 43.4L507.9 43.2L508.2 43.5L508.4 43.4L509.2 41.9L509.5 40.1L509.3 39.9L509.3 39.1L508.9 38.8L508.7 39.1L508.2 38.4L507.4 35.9L507.7 34.9L508.2 35.4L509.3 32.9L509 30.6L508.9 30.5L508.7 31L508.2 30.9L507.4 28.1L507.5 27.4L507.7 27.2L508 27.4ZM510.2 95L509.9 95.6L509.4 95.1L508.9 95.5L508.3 95.4L508.4 98.1L508.9 98.2L509.2 97.9L509.7 98.8L510.2 98.8L510.6 97.6L510.5 96.1Z"/><path fill="#ff6d00" d="M509 23.9L508.5 21.4L508.3 21.4L508.2 21.9L507.7 21.6L506.9 19.4L507 18.6L507.6 18.6L508.3 17.3L508 14.8L507.4 15.5L507 15.1L506.9 13.9L506.4 13.1L505.4 18.1L504.9 18.5L504.4 18.5L503.9 22.1L504.7 22.1L505.2 21.5L505.4 21.4L505.7 21.9L505.1 26.1L504.3 26.6L504 27.4L503.9 30.1L504.9 30.1L505.4 29.4L505.9 29.9L505.2 34.4L504.3 34.9L504.3 36.1L504 36.4L504.1 38.1L504.2 38.3L504.9 38.2L505.4 37.9L505.7 37.4L506.2 37.9L505.4 42.6L504.9 42.8L504.7 42.2L504.5 42.4L504.2 45.6L504.2 46.2L504.4 46.4L505.2 46.3L505.7 45.7L505.9 45.7L506.2 46.1L505.6 50.1L505.4 50.6L504.8 50.6L504.8 51.4L504.5 51.6L504.5 52.9L504.3 53.1L504.4 54.4L505.4 54.3L505.9 53.6L506.4 54.1L505.7 58.6L504.8 59.1L504.8 60.4L504.5 60.6L504.7 62.5L505.4 62.5L506.2 61.9L506.4 62.4L506.4 63.9L505.9 65.6L505.9 66.6L505 66.6L504.7 70.5L505.7 70.5L506.4 69.7L506.7 70.1L506.7 71.4L506.2 73.1L506.1 74.4L505.9 74.9L505.3 74.9L505 75.6L504.9 78.4L504.9 78.7L505.7 78.7L506.7 77.7L506.9 78.1L506.2 82.9L505.3 83.4L505.3 84.6L505 84.9L505.2 86.8L505.9 86.7L506.7 86.2L506.9 86.6L506.4 90.9L505.5 90.9L505.5 92.1L505.3 92.4L505.1 93.9L505.2 94.7L505.4 94.8L506.4 94.6L507.9 93L509.7 90.2L510.3 88.4L510 86.6L509.9 86.5L509.4 87.1L509.2 86.9L508.2 83.9L508.2 83.1L508.9 83.2L509.9 81.3L510 79.1L509.7 78.2L509.4 78.8L509 78.6L508.7 77.1L507.9 75.6L507.9 75.1L508.2 75L508.7 75.3L510 72.4L509.5 69.9L509.3 69.9L509.2 70.4L508.7 70.1L507.9 67.9L508 67.1L508.5 67.1L509.6 65.1L509.8 63.4L509.4 62.2L508.9 62.8L508.7 62.6L507.7 59.6L507.7 58.9L508.4 59L509.4 57.1L509.5 54.9L509.2 54L508.9 54.5L508.5 54.4L508.2 52.9L507.4 51.4L507.4 50.9L507.7 50.8L508.2 51L509.5 48.1L509 45.6L508.8 45.6L508.7 46.1L508.2 45.9L507.4 43.6L507.5 42.9L508.1 42.9L509.1 40.9L509.3 39.1L508.9 38L508.4 38.6L508.2 38.4L507.2 35.4L507.2 34.6L507.9 34.7L508.9 32.8L509 30.6L508.7 29.8L508.4 30.4L508 30.1L507.7 28.6L506.9 27.1L507.2 26.5L507.7 26.8L508.6 25.1ZM509.8 94.4L508.7 94.5L508.3 95.4L508.4 97.3L508.9 97.3L509.2 97.1L509.4 98.1L509.9 98.1L510.5 96.6L509.9 94Z"/><path fill="#ff4201" d="M504.2 20.9L505.2 20.6L505.7 19.7L506.1 19.9L506.2 20.6L505.7 22.1L505.4 24.4L505.2 25.1L504.7 25.2L504.3 25.9L504 28.1L504.2 29L505.2 28.8L505.9 27.9L506.2 28.4L505.4 33.1L504.5 33.4L504.2 36.4L504.4 37.1L505.2 37L506.2 35.9L506.4 36.4L505.7 40.9L505.2 41.2L504.9 40.8L504.8 40.9L504.8 42.1L504.5 42.4L504.5 43.6L504.3 43.9L504.4 45.1L505.4 45L505.9 44.6L506.2 44L506.4 43.9L506.7 44.4L505.9 48.9L505.7 49.4L504.8 49.9L504.8 51.4L504.5 51.6L504.7 53.2L505.4 53.2L506.4 52.2L506.7 52.6L505.9 57.4L505 57.6L504.7 60.6L504.9 61.3L505.9 61L506.4 60.2L506.7 60.2L506.9 60.6L506.2 65.1L505.7 65.5L505.4 65L505.3 65.1L505.3 66.4L505 66.6L505 67.9L504.8 68.1L504.9 69.3L505.9 69.2L506.4 68.8L506.7 68.2L506.9 68.2L507.2 68.6L506.2 73.6L505.3 74.1L505.3 75.4L505 75.6L505.2 77.5L505.9 77.4L506.9 76.4L507.2 76.9L506.4 81.6L505.5 81.9L505.2 84.9L505.4 85.5L506.4 85.3L506.9 84.5L507.2 84.4L507.4 84.9L506.7 88.4L506.7 89.4L506.2 89.8L505.9 89.2L505.8 89.4L505.8 90.6L505.5 90.9L505.5 92.1L505.3 92.4L505.4 93.6L506.2 93.6L507.4 92.5L508.7 90.9L509.9 88.6L510.1 87.6L509.8 85.9L509.7 85.8L509.2 86.3L509 86.1L507.9 83.4L509.2 81.7L510 79.6L509.5 77.4L509.3 77.4L509.2 77.9L508.7 77.6L507.7 75.1L508.2 74.9L509.3 73.1L509.7 72.1L509.8 70.9L509.5 70.6L509.3 69.1L509 69.1L508.9 69.6L508.5 69.4L507.4 67.1L508.2 66.6L509.6 63.9L509.5 62.4L509.3 61.6L509.2 61.5L508.7 62.1L508.5 61.9L507.4 59.1L507.4 58.9L508 58.6L509.1 56.6L509.5 54.9L509 53.9L509 53.1L508.8 53.1L508.7 53.6L508.2 53.4L507.2 50.9L507.7 50.6L508.8 48.9L509.2 47.9L509.3 46.6L509 46.4L508.8 44.9L508.5 44.9L508.4 45.4L508 45.1L506.9 42.9L507.5 42.6L508.2 41.6L508.9 40.1L509.1 39.1L508.8 37.4L508.7 37.2L508.4 37.8L508 37.6L506.9 34.6L507.5 34.4L508.4 32.7L508.9 31.5L509 30.6L508.5 29.6L508.5 28.9L508.3 28.9L508.2 29.4L507.7 29.1L506.7 26.6L507.3 26.4L508.3 24.6L508.7 23.6L508.8 22.4L508.4 21.2L507.9 21.6L507.7 21.4L506.4 18.6L507 18.4L508.2 16.4L507.8 13.8L507.2 14.7L506.4 13.1L505.7 16.6L505.4 17L504.6 16.9ZM509.8 93.4L508.5 93.9L508.3 96.1L508.4 96.5L509.2 96.2L509.4 97L509.9 97L510.3 95.1L510 94.9Z"/><path fill="#ff1c0a" d="M507.5 12.9L507.2 13.8L506.9 13.8L506.4 13.1L505.8 15.6L504.8 15.6L504.3 19.7L504.9 19.6L505.9 18.8L508 15.6ZM506.7 19.3L505.4 23.9L504.5 24.4L504.5 25.6L504.3 25.9L504.4 27.7L505.2 27.6L506.4 26.4L508.5 22.9L508.5 21.4L508.3 20.6L507.9 20.5L507.7 20.8L506.9 19.4ZM506.9 27.3L505.9 29.9L505.7 31.9L504.8 31.9L504.4 35.8L505.2 35.8L506.2 35L507.7 33L508.7 31L508.8 29.9L508.3 28.1L508 28.1L507.9 28.6L507.7 28.6ZM507.2 35.4L506.2 37.6L505.9 39.9L505.4 40L505.2 39.5L505 39.6L504.8 42.1L504.5 42.4L504.7 43.9L505.4 43.8L506.7 42.7L508.1 40.6L508.9 38.9L508.5 36.6L508.4 36.5L507.9 37.1ZM507.2 43.6L505.9 48.1L505 48.6L505 49.6L504.8 49.9L504.9 52L505.7 51.9L506.7 51L508.2 48.9L509 47.1L509 45.6L508.8 44.9L508.4 44.8L508.2 45.1L507.4 43.6ZM507.4 51.6L506.4 54.1L506.2 56.1L505.3 56.1L504.9 60L505.9 59.9L506.9 58.9L508.2 57.2L509.2 55.2L509.3 54.1L508.8 52.4L508.5 52.4L508.4 52.9L508.2 52.8ZM507.7 59.6L506.9 60.9L506.4 62.9L506.4 64.1L505.9 64.2L505.7 63.8L505.5 63.9L505.3 66.4L505 66.6L505.2 68.1L505.9 68.1L507.2 66.9L508.7 64.7L509.4 63.1L509 60.9L508.9 60.8L508.4 61.3ZM507.7 67.6L506.4 72.1L505.5 72.6L505.2 75.6L505.4 76.2L506.2 76.1L507.2 75.2L508.6 73.1L509.5 71.4L509.5 69.9L509.3 69.1L508.9 69L508.7 69.3ZM507.9 75.6L506.9 78.4L506.7 80.4L505.8 80.4L505.4 84.2L506.4 84.1L507.4 83.2L508.7 81.4L509.7 79.4L509.8 78.4L509.3 76.6L509 76.6L508.9 77.1L508.7 77.1ZM507.7 84.4L506.9 88.1L506.4 88.4L506.3 87.9L506 87.9L506 89.1L505.8 89.4L505.8 90.6L505.5 90.9L505.7 92.4L506.4 92.3L507.7 91.2L509.1 89.1L509.9 87.4L509.5 85.1L509.4 85L508.9 85.6L508.2 83.9ZM508.9 92.5L508.5 93.1L508.7 95.4L509.2 95.4L509.4 95.8L509.9 95.8L510 94.1L509.5 92.6Z"/><path fill="#ff0f2c" d="M504.4 18.4L505.2 18.3L505.9 17.7L507.9 14.6L507.5 12L506.9 12.8L506.6 12.6L506.2 13.9L505.7 14.5L505.1 14.4ZM506.7 19.3L505.7 22.4L504.8 22.9L504.4 25.9L504.4 26.4L504.7 26.5L505.4 26.3L506.4 25.3L508.3 22.1L508.3 20.6L508 19.9L507.9 19.8L507.4 20.3L506.9 19.4ZM506.9 27.3L506.2 28.9L505.9 30.6L505 30.6L504.8 33.1L504.6 33.4L504.7 34.6L505.4 34.5L506.4 33.6L508.4 30.4L508.5 28.9L508 27.6L507.8 27.6L507.7 28.1ZM507.2 35.4L506.2 37.6L506.1 38.6L505.7 38.8L505.4 38.2L505.3 38.4L505.3 39.4L504.8 40.9L504.9 42.6L505.7 42.5L506.7 41.6L508.7 38.2L508.7 37.4L508.3 35.9L508.2 35.8L507.7 36.3ZM507.2 43.6L506.2 46.6L505.3 47.1L505.3 48.4L505 48.6L504.9 49.9L504.9 50.6L505.2 50.7L505.9 50.6L506.9 49.6L508.8 46.4L508.8 44.9L508.3 43.6L508 43.6L507.9 44.1ZM507.4 51.6L506.4 54.6L505.5 54.9L505.3 57.4L505.1 57.6L505.2 58.8L505.9 58.7L506.9 57.8L508.9 54.6L509 53.1L508.5 51.9L508.3 51.9L508.2 52.4ZM507.7 59.6L506.9 60.9L506.6 62.6L506.2 62.9L506 62.4L505.8 62.4L505.8 63.6L505.3 65.1L505.4 66.9L506.2 66.8L507.2 65.8L508.4 64L509.2 62.4L509.2 61.6L508.8 60.1L508.7 60L508.2 60.6ZM507.7 67.6L506.7 70.9L505.8 71.4L505.5 74.9L506.2 74.9L507.2 74.1L508.4 72.4L509.3 70.6L509.3 69.1L508.8 67.9L508.5 67.9L508.4 68.4ZM507.9 75.6L506.9 78.9L506 79.1L505.8 81.6L505.6 81.9L505.7 83L506.4 83L507.4 82.1L509.4 78.8L509.5 77.4L509 76.1L508.8 76.1L508.7 76.6L508.2 76.4ZM507.7 84.4L507.1 86.9L506.7 87.1L506.5 86.6L506.3 86.6L506 89.1L505.8 89.4L505.9 91.1L506.7 91L507.7 90.1L508.9 88.3L509.7 86.6L509.7 85.9L509.3 84.4L509.2 84.2L508.7 84.8L508.2 83.9ZM508.9 92.5L508.5 93.1L508.7 94.6L509.7 94.6L509.9 94.1L509.5 92.6Z"/><path fill="#ff458f" d="M507.2 11.2L506.5 12.4L505.9 13L505.3 13.1L504.7 17.1L505.2 17.1L505.9 16.5L507.8 13.7ZM507.3 19.1L506.4 19.6L506.1 20.9L505.7 21L505.4 20.5L505.3 20.6L505 22.6L504.8 22.9L504.7 25.2L505.4 25.2L505.9 24.8L507.9 21.9L508.2 21.1L508 19.9L507.4 18.8ZM507.7 27L507.2 27.6L506.9 27.3L506.2 29.1L505.3 29.4L505.3 30.4L504.8 31.9L504.9 33.3L505.7 33.2L506.4 32.5L508.2 29.8L508.3 28.1ZM508 35.4L507.4 35.8L507.2 35.4L506.9 35.6L506.4 37.1L505.5 37.1L505.5 38.1L505 39.6L505.2 41.4L505.7 41.4L506.4 40.8L508.3 37.9L508.5 36.6ZM507.8 43.4L506.9 43.9L506.6 45.1L506.2 45.2L505.9 44.8L505.8 44.9L505.5 46.9L505.3 47.1L505.2 49.4L505.9 49.4L506.4 49L508.4 46.1L508.7 45.4L508.5 44.1L507.9 43ZM508.2 51.2L507.7 51.8L507.4 51.6L506.7 53.4L505.8 53.6L505.8 54.6L505.3 56.1L505.4 57.5L506.2 57.4L506.9 56.7L508.7 54L508.8 52.4ZM508.5 59.6L507.9 60.1L507.7 59.6L507.4 59.9L506.9 61.4L506 61.4L505.8 63.6L505.5 63.9L505.7 65.6L506.2 65.6L506.9 65L508.8 62.1L509 60.9ZM508.4 67.2L508.2 67.9L507.7 67.6L507.1 69.4L506.7 69.5L506.4 69L506.3 69.1L505.6 72.6L505.7 73.7L506.4 73.6L506.9 73.2L508.9 70.3L509.2 69.6L509 68.4ZM508.7 75.5L508.2 76.1L507.9 75.6L507.2 77.6L506.3 77.9L506.3 78.9L505.8 80.4L505.9 81.8L506.7 81.7L507.4 81L509.2 78.2L509.3 76.6ZM509 83.9L508.4 84.3L508.2 83.9L507.9 84.1L507.4 85.6L506.5 85.6L506.3 87.6L506 87.9L506.2 89.8L506.7 89.8L507.4 89.2L509.3 86.4L509.5 85.1ZM508.9 92.5L508.6 93.6L509.2 93.8L509.6 93.4L509.5 92.6Z"/><path fill="#ff7bc1" d="M504.9 15.8L505.4 15.8L506.2 15.1L507.6 12.8L507 10.9L506.3 10.9L505.3 13.1ZM506.4 18.5L505.8 19.1L505.3 20.6L505.3 21.4L505 21.6L504.9 23.9L505.7 23.8L506.2 23.4L507.2 22.1L507.9 20.6L508 19.9L507.5 18.9L507.2 18.5ZM506.4 26.8L505.8 27.6L505.5 29.1L505.3 29.4L505.3 30.4L505.1 30.6L505.2 32L505.7 32L506.4 31.4L507.4 30L508.1 28.6L507.8 27.1L507.2 26.5ZM506.7 34.8L506 35.6L505.5 37.1L505.2 39.6L505.4 40L505.9 40L506.7 39.4L508.2 36.9L508.3 35.9L507.8 34.9L507.4 34.5ZM506.9 42.8L506.3 43.4L505.8 44.9L505.8 45.6L505.5 45.9L505.4 48.1L506.2 48.1L506.7 47.6L507.7 46.3L508.4 44.8L508.5 44.1L508 43.1L507.7 42.8ZM507.2 50.8L506.3 51.9L506 53.4L505.8 53.6L505.8 54.6L505.6 54.9L505.7 56.2L506.2 56.2L506.9 55.6L508.6 52.9L508.5 51.9L508 50.9ZM507.2 59L506.3 60.4L506.3 61.1L505.8 62.4L505.7 63.9L505.9 64.3L506.4 64.3L507.2 63.6L508.7 61.1L508.8 60.1L508.3 59.1L507.9 58.8ZM507.2 67L506 70.1L505.9 72.4L506.7 72.3L507.2 71.9L508.2 70.5L508.9 69L508.8 67.9L508.2 67ZM507.4 75L506.8 76.1L506.5 77.6L506.3 77.9L506.3 78.9L506.1 79.1L506.2 80.5L506.7 80.5L507.4 79.8L509.1 77.1L509 76.1L508.4 75ZM507.7 83L507 83.9L506.5 86.4L506.3 86.6L506.2 88.1L506.4 88.5L506.9 88.5L507.7 87.8L509.2 85.4L509.3 84.4L508.8 83.4L508.4 83Z"/><path fill="#ffa1de" d="M505.1 14.4L505.9 14.3L507.5 12.1L507 10.9L506.3 10.9L505.3 13.1ZM506.4 18.5L505.8 19.1L505.3 20.6L505.2 22.6L506.2 22.3L507.7 19.9L507.5 18.9L507.2 18.5ZM506.4 26.8L505.5 28.4L505.5 29.1L505.3 29.4L505.4 30.6L505.9 30.6L506.4 30.3L507.8 28.1L507.8 27.1L507.5 26.9L507.2 26.5ZM506.7 34.8L506 35.6L505.5 37.1L505.7 38.7L506.2 38.7L506.7 38.2L507.9 36.3L507.8 34.9L507.4 34.5ZM506.9 42.8L506.3 43.4L505.8 44.9L505.7 46.8L506.7 46.5L508.2 44.1L508 43.1L507.7 42.8ZM507.2 50.8L506 52.6L506 53.4L505.8 53.6L505.9 54.9L506.4 54.9L506.9 54.5L508.3 52.4L508.3 51.4L508 50.9ZM507.2 59L506.3 60.4L506 62.4L506.2 62.9L506.7 62.9L507.2 62.5L508.4 60.5L508.3 59.1L507.9 58.8ZM507.2 67L506.3 69.1L506.2 71L507.2 70.7L508.7 68.4L508.5 67.4L508.2 67ZM507.4 75L506.5 76.9L506.5 77.6L506.3 77.9L506.4 79.1L506.9 79.1L507.4 78.7L508.8 76.6L508.8 75.6L508.4 75ZM507.7 83L507 83.9L506.8 85.4L506.5 85.6L506.5 86.6L506.7 87.1L507.2 87.1L507.7 86.7L509 84.6L509 83.9L508.4 83Z"/><path fill="#ffb5ec" d="M505.4 13L505.9 13L506.7 12.2L507.2 11.2L507 10.9L506.3 10.9ZM506.4 18.5L505.6 19.9L505.5 20.6L505.7 21L506.4 20.8L507.3 19.4L507.2 18.5ZM506.4 26.8L505.8 27.6L505.7 29.2L506.4 29.1L507.4 27.6L507.5 26.9L507.2 26.5ZM506.7 34.8L506 35.6L505.9 37.3L506.7 37L507.7 35.4L507.4 34.5ZM506.9 42.8L506.1 44.1L506 44.9L506.2 45.3L506.9 45L507.8 43.6L507.7 42.8ZM507.2 50.8L506.3 51.9L506.2 53.4L506.9 53.3L507.9 51.8L507.9 50.8ZM507.2 59L506.3 60.4L506.4 61.5L507.2 61.3L508.2 59.7L507.9 58.8ZM507.2 67L506.6 68.4L506.5 69.1L506.7 69.5L507.4 69.3L508.3 67.9L508.2 67ZM507.4 75L506.8 76.1L506.7 77.7L507.4 77.5L508.4 76.1L508.4 75.1ZM507.7 83L507 83.9L506.8 84.6L506.9 85.7L507.7 85.5L508.7 83.9L508.4 83Z"/>
<path d="M437.5 42.7L437.5 80.1L512.8 123.2L588.8 80.4" stroke="#a6a6a6" stroke-width=".6" fill="none"/><path d="M437.5 80.1L435.8 81.1M475.1 101.6L473.4 102.6M512.8 123.2L511.1 124.2M512.8 123.2L514.5 124.2M550.8 101.8L552.5 102.8M588.8 80.4L590.5 81.4M437.5 78h-2M437.5 42.7h-2" stroke="#a6a6a6" stroke-width=".6" fill="none"/><text class="s" x="433.6" y="81.9" text-anchor="end" font-size="9.3" fill="#3c3c3c" stroke="#3c3c3c" stroke-width=".1">0</text><text class="s" x="433.6" y="46.6" text-anchor="end" font-size="9.3" fill="#3c3c3c" stroke="#3c3c3c" stroke-width=".1">0.5</text><text class="s" x="433.8" y="91.6" text-anchor="end" font-size="9.3" fill="#3c3c3c" stroke="#3c3c3c" stroke-width=".1">20</text><text class="s" x="469.3" y="113.1" text-anchor="middle" font-size="9.3" fill="#3c3c3c" stroke="#3c3c3c" stroke-width=".1">0</text><text class="s" x="503.1" y="134.8" text-anchor="middle" font-size="9.3" fill="#3c3c3c" stroke="#3c3c3c" stroke-width=".1">-20</text><text class="s" x="523.6" y="134.8" text-anchor="middle" font-size="9.3" fill="#3c3c3c" stroke="#3c3c3c" stroke-width=".1">-20</text><text class="s" x="557.2" y="112.9" text-anchor="middle" font-size="9.3" fill="#3c3c3c" stroke="#3c3c3c" stroke-width=".1">0</text><text class="s" x="597.3" y="91.6" text-anchor="middle" font-size="9.3" fill="#3c3c3c" stroke="#3c3c3c" stroke-width=".1">20</text><text class="s" x="467.5" y="133.8" text-anchor="middle" font-size="9.8" fill="#3c3c3c" stroke="#3c3c3c" stroke-width=".1" font-style="italic">t</text><text class="s" x="560.1" y="133.4" text-anchor="middle" font-size="9.8" fill="#3c3c3c" stroke="#3c3c3c" stroke-width=".1" font-style="italic">x</text><text class="s" x="416.2" y="61.5" text-anchor="middle" font-size="9.8" fill="#3c3c3c" stroke="#3c3c3c" stroke-width=".1" font-style="italic" transform="rotate(-90 416.2 61.5)">u</text><text class="a" x="476.2" y="15.6" text-anchor="middle" font-size="10" fill="#1a1a1a" stroke="#1a1a1a" stroke-width=".22">(c)</text>
</svg></body></html>
